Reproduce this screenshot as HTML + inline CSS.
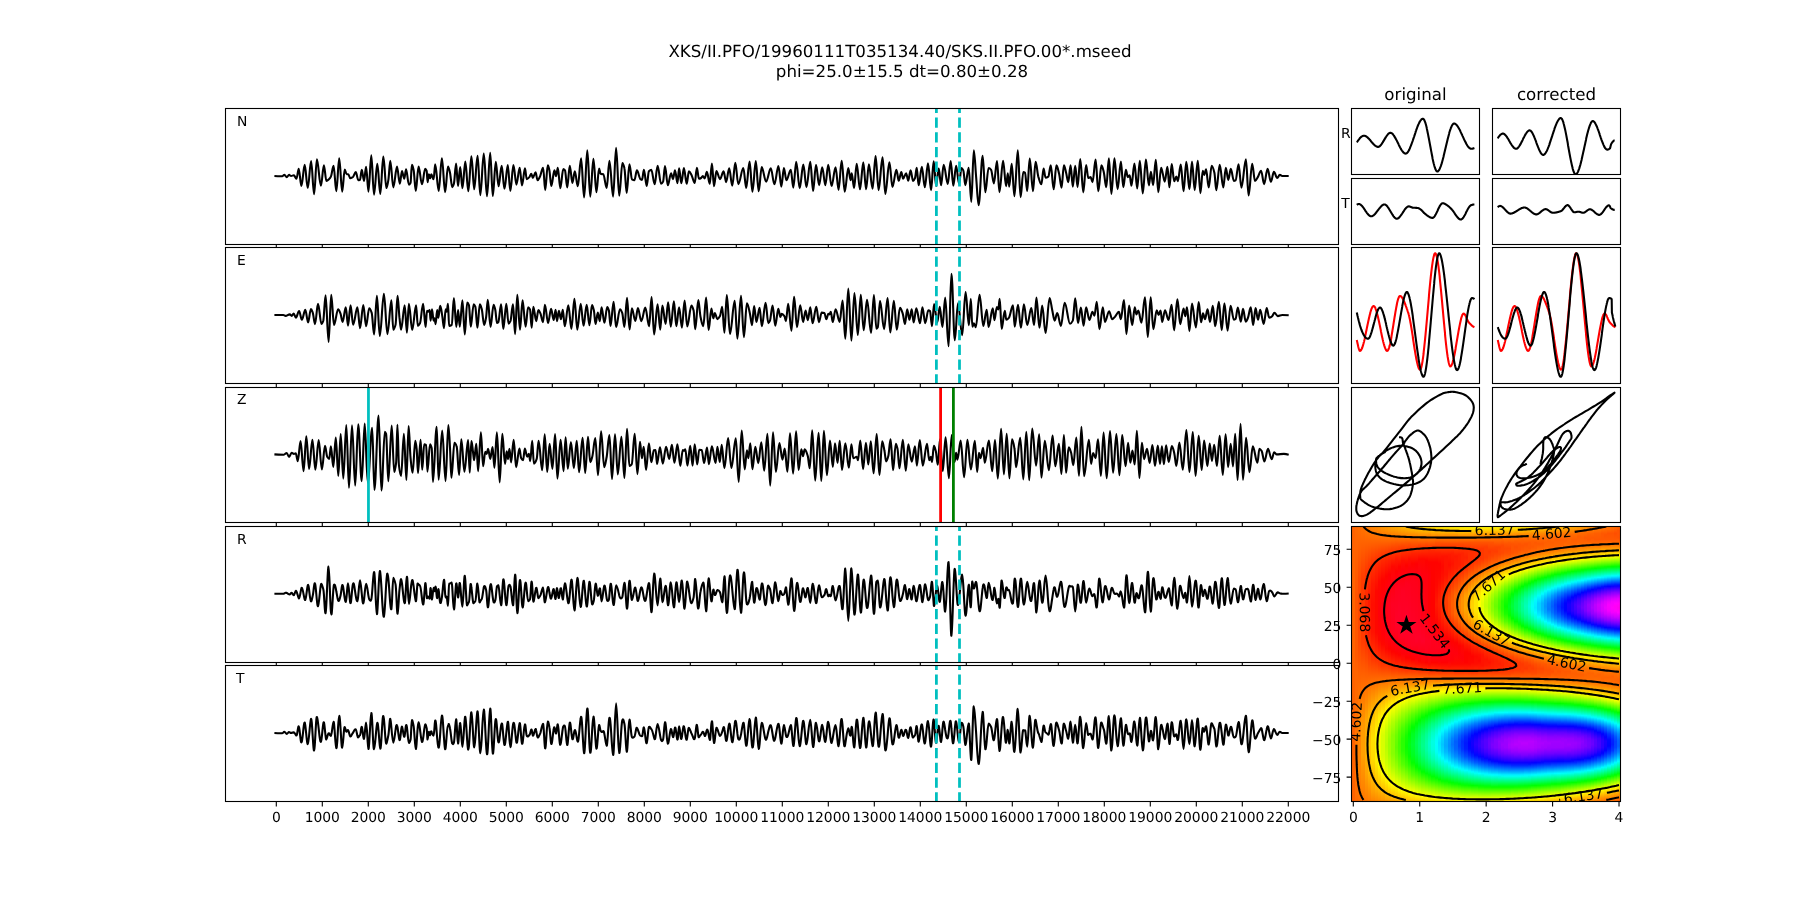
<!DOCTYPE html><html><head><meta charset="utf-8"><title>XKS splitting</title><style>html,body{margin:0;padding:0;background:#fff;overflow:hidden}svg{display:block;will-change:transform;text-rendering:geometricPrecision}</style></head><body><svg width="1800" height="900" viewBox="0 0 1800 900" font-family='"DejaVu Sans","Liberation Sans",sans-serif' fill="#000">
<rect width="1800" height="900" fill="#fff"/>
<text x="900" y="56.6" font-size="16.67" text-anchor="middle" >XKS/II.PFO/19960111T035134.40/SKS.II.PFO.00*.mseed</text>
<text x="902" y="76.9" font-size="16.67" text-anchor="middle" >phi=25.0±15.5 dt=0.80±0.28</text>
<text x="1415.5" y="99.6" font-size="16.67" text-anchor="middle" >original</text>
<text x="1556.5" y="99.6" font-size="16.67" text-anchor="middle" >corrected</text>
<defs><clipPath id="cp0"><rect x="225.5" y="108.5" width="1113.0" height="136.0"/></clipPath><clipPath id="cp1"><rect x="225.5" y="247.5" width="1113.0" height="136.0"/></clipPath><clipPath id="cp2"><rect x="225.5" y="387.5" width="1113.0" height="135.0"/></clipPath><clipPath id="cp3"><rect x="225.5" y="526.5" width="1113.0" height="136.0"/></clipPath><clipPath id="cp4"><rect x="225.5" y="665.5" width="1113.0" height="136.0"/></clipPath></defs><defs><linearGradient id="h0" x1="0" y1="0" x2="0" y2="1"><stop offset="0.0028" stop-color="#ff6300"/><stop offset="0.9972" stop-color="#ff6300"/></linearGradient><linearGradient id="h1" x1="0" y1="0" x2="0" y2="1"><stop offset="0.0028" stop-color="#ff6900"/><stop offset="0.2459" stop-color="#ff5300"/><stop offset="0.4669" stop-color="#ff5800"/><stop offset="0.5276" stop-color="#ff6300"/><stop offset="0.8039" stop-color="#ff7900"/><stop offset="0.8370" stop-color="#ff7300"/><stop offset="0.9751" stop-color="#ff6e00"/><stop offset="0.9972" stop-color="#ff6900"/></linearGradient><linearGradient id="h2" x1="0" y1="0" x2="0" y2="1"><stop offset="0.0028" stop-color="#ff6e00"/><stop offset="0.1961" stop-color="#ff4800"/><stop offset="0.4227" stop-color="#ff4800"/><stop offset="0.7044" stop-color="#ff8400"/><stop offset="0.9033" stop-color="#ff8400"/><stop offset="0.9972" stop-color="#ff6e00"/></linearGradient><linearGradient id="h3" x1="0" y1="0" x2="0" y2="1"><stop offset="0.0028" stop-color="#ff7300"/><stop offset="0.1851" stop-color="#ff3d00"/><stop offset="0.3066" stop-color="#ff3300"/><stop offset="0.4227" stop-color="#ff3d00"/><stop offset="0.7210" stop-color="#ff9900"/><stop offset="0.8315" stop-color="#ff9f00"/><stop offset="0.9917" stop-color="#ff7900"/><stop offset="0.9972" stop-color="#ff7300"/></linearGradient><linearGradient id="h4" x1="0" y1="0" x2="0" y2="1"><stop offset="0.0028" stop-color="#ff7900"/><stop offset="0.1630" stop-color="#ff3800"/><stop offset="0.2956" stop-color="#ff2200"/><stop offset="0.4061" stop-color="#ff2d00"/><stop offset="0.5773" stop-color="#ff6e00"/><stop offset="0.6989" stop-color="#ffa400"/><stop offset="0.7983" stop-color="#ffb400"/><stop offset="0.8978" stop-color="#ffa400"/><stop offset="0.9972" stop-color="#ff7900"/></linearGradient><linearGradient id="h5" x1="0" y1="0" x2="0" y2="1"><stop offset="0.0028" stop-color="#ff7e00"/><stop offset="0.1519" stop-color="#ff3300"/><stop offset="0.2624" stop-color="#ff1800"/><stop offset="0.3840" stop-color="#ff1d00"/><stop offset="0.5000" stop-color="#ff4800"/><stop offset="0.6934" stop-color="#ffb400"/><stop offset="0.7928" stop-color="#ffca00"/><stop offset="0.8867" stop-color="#ffba00"/><stop offset="0.9972" stop-color="#ff7e00"/></linearGradient><linearGradient id="h6" x1="0" y1="0" x2="0" y2="1"><stop offset="0.0028" stop-color="#ff8400"/><stop offset="0.1243" stop-color="#ff3800"/><stop offset="0.2072" stop-color="#ff1800"/><stop offset="0.2845" stop-color="#ff0d00"/><stop offset="0.3840" stop-color="#ff1200"/><stop offset="0.4834" stop-color="#ff3800"/><stop offset="0.6934" stop-color="#ffc400"/><stop offset="0.7707" stop-color="#ffe000"/><stop offset="0.8481" stop-color="#ffda00"/><stop offset="0.9641" stop-color="#ff9f00"/><stop offset="0.9972" stop-color="#ff8400"/></linearGradient><linearGradient id="h7" x1="0" y1="0" x2="0" y2="1"><stop offset="0.0028" stop-color="#ff8900"/><stop offset="0.1298" stop-color="#ff2d00"/><stop offset="0.2348" stop-color="#ff0700"/><stop offset="0.3840" stop-color="#ff0700"/><stop offset="0.4834" stop-color="#ff3300"/><stop offset="0.5829" stop-color="#ff7e00"/><stop offset="0.6823" stop-color="#ffcf00"/><stop offset="0.7597" stop-color="#fff500"/><stop offset="0.8481" stop-color="#fff000"/><stop offset="0.9420" stop-color="#ffba00"/><stop offset="0.9972" stop-color="#ff8900"/></linearGradient><linearGradient id="h8" x1="0" y1="0" x2="0" y2="1"><stop offset="0.0028" stop-color="#ff8e00"/><stop offset="0.1133" stop-color="#ff3300"/><stop offset="0.2017" stop-color="#ff0700"/><stop offset="0.3177" stop-color="#ff0009"/><stop offset="0.4116" stop-color="#ff0700"/><stop offset="0.5055" stop-color="#ff3d00"/><stop offset="0.6878" stop-color="#ffe500"/><stop offset="0.7376" stop-color="#feff00"/><stop offset="0.7818" stop-color="#eeff00"/><stop offset="0.8370" stop-color="#f3ff00"/><stop offset="0.8702" stop-color="#fffb00"/><stop offset="0.9475" stop-color="#ffbf00"/><stop offset="0.9972" stop-color="#ff8e00"/></linearGradient><linearGradient id="h9" x1="0" y1="0" x2="0" y2="1"><stop offset="0.0028" stop-color="#ff9400"/><stop offset="0.1133" stop-color="#ff2d00"/><stop offset="0.1961" stop-color="#ff0200"/><stop offset="0.3011" stop-color="#ff0013"/><stop offset="0.3895" stop-color="#ff0009"/><stop offset="0.4282" stop-color="#ff0700"/><stop offset="0.5055" stop-color="#ff3800"/><stop offset="0.6989" stop-color="#feff00"/><stop offset="0.7597" stop-color="#d8ff00"/><stop offset="0.8315" stop-color="#d8ff00"/><stop offset="0.8978" stop-color="#fffb00"/><stop offset="0.9972" stop-color="#ff9400"/></linearGradient><linearGradient id="h10" x1="0" y1="0" x2="0" y2="1"><stop offset="0.0028" stop-color="#ff9900"/><stop offset="0.1077" stop-color="#ff2d00"/><stop offset="0.1796" stop-color="#ff0200"/><stop offset="0.2845" stop-color="#ff0019"/><stop offset="0.3785" stop-color="#ff0013"/><stop offset="0.4448" stop-color="#ff0700"/><stop offset="0.5110" stop-color="#ff3d00"/><stop offset="0.5829" stop-color="#ff8900"/><stop offset="0.6657" stop-color="#fff000"/><stop offset="0.6878" stop-color="#f9ff00"/><stop offset="0.7486" stop-color="#c3ff00"/><stop offset="0.7983" stop-color="#b8ff00"/><stop offset="0.8591" stop-color="#cdff00"/><stop offset="0.9144" stop-color="#fffb00"/><stop offset="0.9917" stop-color="#ffa400"/><stop offset="0.9972" stop-color="#ff9900"/></linearGradient><linearGradient id="h11" x1="0" y1="0" x2="0" y2="1"><stop offset="0.0028" stop-color="#ff9f00"/><stop offset="0.1022" stop-color="#ff2d00"/><stop offset="0.1740" stop-color="#ff0003"/><stop offset="0.2790" stop-color="#ff001e"/><stop offset="0.3840" stop-color="#ff0019"/><stop offset="0.4448" stop-color="#ff0200"/><stop offset="0.5110" stop-color="#ff3800"/><stop offset="0.5994" stop-color="#ffa400"/><stop offset="0.6657" stop-color="#feff00"/><stop offset="0.7265" stop-color="#b8ff00"/><stop offset="0.7762" stop-color="#9dff00"/><stop offset="0.8260" stop-color="#a2ff00"/><stop offset="0.8646" stop-color="#bdff00"/><stop offset="0.9309" stop-color="#fffb00"/><stop offset="0.9972" stop-color="#ff9f00"/></linearGradient><linearGradient id="h12" x1="0" y1="0" x2="0" y2="1"><stop offset="0.0028" stop-color="#ffa400"/><stop offset="0.0746" stop-color="#ff4800"/><stop offset="0.1464" stop-color="#ff0700"/><stop offset="0.2127" stop-color="#ff0013"/><stop offset="0.2845" stop-color="#ff0023"/><stop offset="0.3840" stop-color="#ff001e"/><stop offset="0.4558" stop-color="#ff0200"/><stop offset="0.5166" stop-color="#ff3800"/><stop offset="0.5994" stop-color="#ffa900"/><stop offset="0.6547" stop-color="#feff00"/><stop offset="0.7099" stop-color="#b2ff00"/><stop offset="0.7597" stop-color="#87ff00"/><stop offset="0.8260" stop-color="#87ff00"/><stop offset="0.8702" stop-color="#a8ff00"/><stop offset="0.9254" stop-color="#eeff00"/><stop offset="0.9365" stop-color="#feff00"/><stop offset="0.9972" stop-color="#ffa400"/></linearGradient><linearGradient id="h13" x1="0" y1="0" x2="0" y2="1"><stop offset="0.0028" stop-color="#ffa900"/><stop offset="0.0635" stop-color="#ff5300"/><stop offset="0.1188" stop-color="#ff1800"/><stop offset="0.1630" stop-color="#ff0003"/><stop offset="0.2293" stop-color="#ff001e"/><stop offset="0.3508" stop-color="#ff0029"/><stop offset="0.4392" stop-color="#ff000e"/><stop offset="0.4613" stop-color="#ff0200"/><stop offset="0.5000" stop-color="#ff2200"/><stop offset="0.5718" stop-color="#ff8400"/><stop offset="0.6436" stop-color="#fffb00"/><stop offset="0.7155" stop-color="#92ff00"/><stop offset="0.7597" stop-color="#6cff00"/><stop offset="0.8039" stop-color="#61ff00"/><stop offset="0.8425" stop-color="#77ff00"/><stop offset="0.8978" stop-color="#b2ff00"/><stop offset="0.9420" stop-color="#f9ff00"/><stop offset="0.9751" stop-color="#ffcf00"/><stop offset="0.9972" stop-color="#ffa900"/></linearGradient><linearGradient id="h14" x1="0" y1="0" x2="0" y2="1"><stop offset="0.0028" stop-color="#ffaf00"/><stop offset="0.0746" stop-color="#ff4300"/><stop offset="0.1464" stop-color="#ff0200"/><stop offset="0.2182" stop-color="#ff001e"/><stop offset="0.3177" stop-color="#ff0029"/><stop offset="0.4006" stop-color="#ff0023"/><stop offset="0.4669" stop-color="#ff0200"/><stop offset="0.5276" stop-color="#ff4300"/><stop offset="0.5884" stop-color="#ffa400"/><stop offset="0.6381" stop-color="#feff00"/><stop offset="0.7099" stop-color="#82ff00"/><stop offset="0.7486" stop-color="#56ff00"/><stop offset="0.7873" stop-color="#46ff00"/><stop offset="0.8204" stop-color="#4cff00"/><stop offset="0.8702" stop-color="#77ff00"/><stop offset="0.9530" stop-color="#feff00"/><stop offset="0.9972" stop-color="#ffaf00"/></linearGradient><linearGradient id="h15" x1="0" y1="0" x2="0" y2="1"><stop offset="0.0028" stop-color="#ffb400"/><stop offset="0.0691" stop-color="#ff4800"/><stop offset="0.1243" stop-color="#ff0d00"/><stop offset="0.1575" stop-color="#ff0009"/><stop offset="0.2348" stop-color="#ff0023"/><stop offset="0.3895" stop-color="#ff0029"/><stop offset="0.4613" stop-color="#ff0009"/><stop offset="0.4834" stop-color="#ff0d00"/><stop offset="0.5221" stop-color="#ff3800"/><stop offset="0.5773" stop-color="#ff9400"/><stop offset="0.6326" stop-color="#feff00"/><stop offset="0.6768" stop-color="#a2ff00"/><stop offset="0.7320" stop-color="#4cff00"/><stop offset="0.7707" stop-color="#2bff00"/><stop offset="0.8149" stop-color="#2bff00"/><stop offset="0.8646" stop-color="#56ff00"/><stop offset="0.9199" stop-color="#b2ff00"/><stop offset="0.9586" stop-color="#feff00"/><stop offset="0.9972" stop-color="#ffb400"/></linearGradient><linearGradient id="h16" x1="0" y1="0" x2="0" y2="1"><stop offset="0.0028" stop-color="#ffba00"/><stop offset="0.0580" stop-color="#ff5800"/><stop offset="0.1022" stop-color="#ff2200"/><stop offset="0.1409" stop-color="#ff0200"/><stop offset="0.2072" stop-color="#ff001e"/><stop offset="0.3287" stop-color="#ff0029"/><stop offset="0.4171" stop-color="#ff0023"/><stop offset="0.4779" stop-color="#ff0200"/><stop offset="0.5276" stop-color="#ff3d00"/><stop offset="0.6160" stop-color="#ffe500"/><stop offset="0.6271" stop-color="#feff00"/><stop offset="0.6823" stop-color="#87ff00"/><stop offset="0.7210" stop-color="#41ff00"/><stop offset="0.7597" stop-color="#16ff00"/><stop offset="0.7983" stop-color="#0bff00"/><stop offset="0.8260" stop-color="#16ff00"/><stop offset="0.8702" stop-color="#46ff00"/><stop offset="0.9365" stop-color="#c3ff00"/><stop offset="0.9641" stop-color="#fffb00"/><stop offset="0.9972" stop-color="#ffba00"/></linearGradient><linearGradient id="h17" x1="0" y1="0" x2="0" y2="1"><stop offset="0.0028" stop-color="#ffbf00"/><stop offset="0.0635" stop-color="#ff4e00"/><stop offset="0.1188" stop-color="#ff0d00"/><stop offset="0.1519" stop-color="#ff0009"/><stop offset="0.2127" stop-color="#ff001e"/><stop offset="0.3508" stop-color="#ff0029"/><stop offset="0.4282" stop-color="#ff0023"/><stop offset="0.4779" stop-color="#ff0200"/><stop offset="0.5166" stop-color="#ff2d00"/><stop offset="0.5608" stop-color="#ff7900"/><stop offset="0.6215" stop-color="#fffb00"/><stop offset="0.6878" stop-color="#67ff00"/><stop offset="0.7265" stop-color="#20ff00"/><stop offset="0.7541" stop-color="#00ff00"/><stop offset="0.7928" stop-color="#00ff16"/><stop offset="0.8370" stop-color="#05ff00"/><stop offset="0.8646" stop-color="#26ff00"/><stop offset="0.9144" stop-color="#82ff00"/><stop offset="0.9641" stop-color="#f9ff00"/><stop offset="0.9751" stop-color="#fff000"/><stop offset="0.9972" stop-color="#ffbf00"/></linearGradient><linearGradient id="h18" x1="0" y1="0" x2="0" y2="1"><stop offset="0.0028" stop-color="#ffc400"/><stop offset="0.0470" stop-color="#ff6900"/><stop offset="0.0967" stop-color="#ff2200"/><stop offset="0.1354" stop-color="#ff0200"/><stop offset="0.1906" stop-color="#ff0019"/><stop offset="0.3785" stop-color="#ff0029"/><stop offset="0.4337" stop-color="#ff0023"/><stop offset="0.4834" stop-color="#ff0200"/><stop offset="0.5221" stop-color="#ff3300"/><stop offset="0.5718" stop-color="#ff8e00"/><stop offset="0.6160" stop-color="#fffb00"/><stop offset="0.6326" stop-color="#deff00"/><stop offset="0.6823" stop-color="#5cff00"/><stop offset="0.7265" stop-color="#05ff00"/><stop offset="0.7320" stop-color="#00ff00"/><stop offset="0.7541" stop-color="#00ff20"/><stop offset="0.7928" stop-color="#00ff30"/><stop offset="0.8315" stop-color="#00ff20"/><stop offset="0.8591" stop-color="#05ff00"/><stop offset="0.9033" stop-color="#56ff00"/><stop offset="0.9696" stop-color="#feff00"/><stop offset="0.9972" stop-color="#ffc400"/></linearGradient><linearGradient id="h19" x1="0" y1="0" x2="0" y2="1"><stop offset="0.0028" stop-color="#ffca00"/><stop offset="0.0470" stop-color="#ff6900"/><stop offset="0.0967" stop-color="#ff2200"/><stop offset="0.1354" stop-color="#ff0003"/><stop offset="0.2017" stop-color="#ff0019"/><stop offset="0.4171" stop-color="#ff0029"/><stop offset="0.4779" stop-color="#ff0009"/><stop offset="0.5000" stop-color="#ff1200"/><stop offset="0.5497" stop-color="#ff6300"/><stop offset="0.6160" stop-color="#feff00"/><stop offset="0.6878" stop-color="#3bff00"/><stop offset="0.7155" stop-color="#00ff00"/><stop offset="0.7486" stop-color="#00ff36"/><stop offset="0.7873" stop-color="#00ff51"/><stop offset="0.8260" stop-color="#00ff41"/><stop offset="0.8591" stop-color="#00ff16"/><stop offset="0.8702" stop-color="#00ff00"/><stop offset="0.8757" stop-color="#05ff00"/><stop offset="0.9365" stop-color="#97ff00"/><stop offset="0.9696" stop-color="#f3ff00"/><stop offset="0.9751" stop-color="#fffb00"/><stop offset="0.9972" stop-color="#ffca00"/></linearGradient><linearGradient id="h20" x1="0" y1="0" x2="0" y2="1"><stop offset="0.0028" stop-color="#ffca00"/><stop offset="0.0691" stop-color="#ff4300"/><stop offset="0.1188" stop-color="#ff0700"/><stop offset="0.1740" stop-color="#ff0013"/><stop offset="0.3674" stop-color="#ff0023"/><stop offset="0.4006" stop-color="#ff0029"/><stop offset="0.4503" stop-color="#ff001e"/><stop offset="0.4890" stop-color="#ff0200"/><stop offset="0.5276" stop-color="#ff3800"/><stop offset="0.5718" stop-color="#ff9400"/><stop offset="0.6105" stop-color="#fffb00"/><stop offset="0.6160" stop-color="#f9ff00"/><stop offset="0.6657" stop-color="#61ff00"/><stop offset="0.7044" stop-color="#00ff00"/><stop offset="0.7265" stop-color="#00ff30"/><stop offset="0.7541" stop-color="#00ff56"/><stop offset="0.7873" stop-color="#00ff6c"/><stop offset="0.8149" stop-color="#00ff66"/><stop offset="0.8536" stop-color="#00ff3b"/><stop offset="0.8812" stop-color="#00ff05"/><stop offset="0.9254" stop-color="#6cff00"/><stop offset="0.9751" stop-color="#f9ff00"/><stop offset="0.9917" stop-color="#ffda00"/><stop offset="0.9972" stop-color="#ffca00"/></linearGradient><linearGradient id="h21" x1="0" y1="0" x2="0" y2="1"><stop offset="0.0028" stop-color="#ffcf00"/><stop offset="0.0414" stop-color="#ff7900"/><stop offset="0.0801" stop-color="#ff3300"/><stop offset="0.1188" stop-color="#ff0700"/><stop offset="0.1740" stop-color="#ff000e"/><stop offset="0.3398" stop-color="#ff0019"/><stop offset="0.4171" stop-color="#ff0029"/><stop offset="0.4669" stop-color="#ff0013"/><stop offset="0.4945" stop-color="#ff0700"/><stop offset="0.5221" stop-color="#ff2d00"/><stop offset="0.5663" stop-color="#ff8900"/><stop offset="0.6105" stop-color="#feff00"/><stop offset="0.6823" stop-color="#20ff00"/><stop offset="0.6934" stop-color="#05ff00"/><stop offset="0.7431" stop-color="#00ff66"/><stop offset="0.7652" stop-color="#00ff81"/><stop offset="0.7983" stop-color="#00ff8c"/><stop offset="0.8315" stop-color="#00ff76"/><stop offset="0.8646" stop-color="#00ff41"/><stop offset="0.8923" stop-color="#00ff00"/><stop offset="0.9807" stop-color="#fffb00"/><stop offset="0.9972" stop-color="#ffcf00"/></linearGradient><linearGradient id="h22" x1="0" y1="0" x2="0" y2="1"><stop offset="0.0028" stop-color="#ffd500"/><stop offset="0.0359" stop-color="#ff8400"/><stop offset="0.0746" stop-color="#ff3800"/><stop offset="0.1243" stop-color="#ff0200"/><stop offset="0.1796" stop-color="#ff000e"/><stop offset="0.3177" stop-color="#ff000e"/><stop offset="0.4116" stop-color="#ff0023"/><stop offset="0.4558" stop-color="#ff001e"/><stop offset="0.4945" stop-color="#ff0200"/><stop offset="0.5276" stop-color="#ff3800"/><stop offset="0.5663" stop-color="#ff8900"/><stop offset="0.6050" stop-color="#fff500"/><stop offset="0.6105" stop-color="#f9ff00"/><stop offset="0.6713" stop-color="#31ff00"/><stop offset="0.6878" stop-color="#00ff00"/><stop offset="0.7210" stop-color="#00ff56"/><stop offset="0.7541" stop-color="#00ff91"/><stop offset="0.7873" stop-color="#00ffa7"/><stop offset="0.8149" stop-color="#00ffa1"/><stop offset="0.8425" stop-color="#00ff81"/><stop offset="0.8757" stop-color="#00ff41"/><stop offset="0.8978" stop-color="#00ff05"/><stop offset="0.9254" stop-color="#4cff00"/><stop offset="0.9807" stop-color="#feff00"/><stop offset="0.9972" stop-color="#ffd500"/></linearGradient><linearGradient id="h23" x1="0" y1="0" x2="0" y2="1"><stop offset="0.0028" stop-color="#ffda00"/><stop offset="0.0304" stop-color="#ff8e00"/><stop offset="0.0856" stop-color="#ff2800"/><stop offset="0.1298" stop-color="#ff0200"/><stop offset="0.1796" stop-color="#ff0009"/><stop offset="0.3011" stop-color="#ff0003"/><stop offset="0.4171" stop-color="#ff0023"/><stop offset="0.4613" stop-color="#ff0019"/><stop offset="0.5000" stop-color="#ff0700"/><stop offset="0.5331" stop-color="#ff3d00"/><stop offset="0.5773" stop-color="#ffa900"/><stop offset="0.6050" stop-color="#fffb00"/><stop offset="0.6768" stop-color="#0bff00"/><stop offset="0.6823" stop-color="#00ff05"/><stop offset="0.7210" stop-color="#00ff71"/><stop offset="0.7541" stop-color="#00ffac"/><stop offset="0.7873" stop-color="#00ffc7"/><stop offset="0.8149" stop-color="#00ffbc"/><stop offset="0.8425" stop-color="#00ff9c"/><stop offset="0.8757" stop-color="#00ff56"/><stop offset="0.9033" stop-color="#00ff05"/><stop offset="0.9199" stop-color="#2bff00"/><stop offset="0.9807" stop-color="#f9ff00"/><stop offset="0.9972" stop-color="#ffda00"/></linearGradient><linearGradient id="h24" x1="0" y1="0" x2="0" y2="1"><stop offset="0.0028" stop-color="#ffda00"/><stop offset="0.0470" stop-color="#ff6e00"/><stop offset="0.0856" stop-color="#ff2800"/><stop offset="0.1298" stop-color="#ff0200"/><stop offset="0.3287" stop-color="#ff0200"/><stop offset="0.4116" stop-color="#ff001e"/><stop offset="0.4669" stop-color="#ff0019"/><stop offset="0.4945" stop-color="#ff0200"/><stop offset="0.5331" stop-color="#ff3d00"/><stop offset="0.5718" stop-color="#ff9f00"/><stop offset="0.6050" stop-color="#feff00"/><stop offset="0.6657" stop-color="#20ff00"/><stop offset="0.6768" stop-color="#00ff05"/><stop offset="0.7155" stop-color="#00ff7c"/><stop offset="0.7486" stop-color="#00ffc2"/><stop offset="0.7818" stop-color="#00ffe2"/><stop offset="0.8094" stop-color="#00ffdc"/><stop offset="0.8425" stop-color="#00ffb7"/><stop offset="0.8702" stop-color="#00ff7c"/><stop offset="0.9088" stop-color="#00ff05"/><stop offset="0.9199" stop-color="#1bff00"/><stop offset="0.9807" stop-color="#f3ff00"/><stop offset="0.9862" stop-color="#fffb00"/><stop offset="0.9972" stop-color="#ffda00"/></linearGradient><linearGradient id="h25" x1="0" y1="0" x2="0" y2="1"><stop offset="0.0028" stop-color="#ffe000"/><stop offset="0.0359" stop-color="#ff8400"/><stop offset="0.0580" stop-color="#ff5300"/><stop offset="0.0967" stop-color="#ff1d00"/><stop offset="0.1298" stop-color="#ff0200"/><stop offset="0.2127" stop-color="#ff0700"/><stop offset="0.2845" stop-color="#ff1800"/><stop offset="0.3619" stop-color="#ff0003"/><stop offset="0.4227" stop-color="#ff001e"/><stop offset="0.4669" stop-color="#ff0019"/><stop offset="0.4945" stop-color="#ff0200"/><stop offset="0.5221" stop-color="#ff2800"/><stop offset="0.5608" stop-color="#ff7e00"/><stop offset="0.5994" stop-color="#fff500"/><stop offset="0.6050" stop-color="#f9ff00"/><stop offset="0.6657" stop-color="#10ff00"/><stop offset="0.6713" stop-color="#00ff05"/><stop offset="0.7044" stop-color="#00ff71"/><stop offset="0.7376" stop-color="#00ffc7"/><stop offset="0.7652" stop-color="#00fff2"/><stop offset="0.7928" stop-color="#00fffd"/><stop offset="0.8204" stop-color="#00fff2"/><stop offset="0.8481" stop-color="#00ffc7"/><stop offset="0.8812" stop-color="#00ff71"/><stop offset="0.9144" stop-color="#00ff05"/><stop offset="0.9309" stop-color="#36ff00"/><stop offset="0.9862" stop-color="#feff00"/><stop offset="0.9972" stop-color="#ffe000"/></linearGradient><linearGradient id="h26" x1="0" y1="0" x2="0" y2="1"><stop offset="0.0028" stop-color="#ffe000"/><stop offset="0.0414" stop-color="#ff7900"/><stop offset="0.0580" stop-color="#ff5300"/><stop offset="0.0967" stop-color="#ff1d00"/><stop offset="0.1354" stop-color="#ff0200"/><stop offset="0.1851" stop-color="#ff0700"/><stop offset="0.2680" stop-color="#ff2200"/><stop offset="0.3287" stop-color="#ff1800"/><stop offset="0.3785" stop-color="#ff0003"/><stop offset="0.4392" stop-color="#ff001e"/><stop offset="0.4890" stop-color="#ff0009"/><stop offset="0.5000" stop-color="#ff0700"/><stop offset="0.5331" stop-color="#ff3d00"/><stop offset="0.5718" stop-color="#ff9f00"/><stop offset="0.5994" stop-color="#fffb00"/><stop offset="0.6105" stop-color="#deff00"/><stop offset="0.6657" stop-color="#00ff00"/><stop offset="0.7044" stop-color="#00ff86"/><stop offset="0.7320" stop-color="#00ffd2"/><stop offset="0.7431" stop-color="#00ffed"/><stop offset="0.7541" stop-color="#00fffd"/><stop offset="0.7873" stop-color="#00e1ff"/><stop offset="0.8149" stop-color="#00ecff"/><stop offset="0.8315" stop-color="#00fffd"/><stop offset="0.8646" stop-color="#00ffb7"/><stop offset="0.9088" stop-color="#00ff2b"/><stop offset="0.9199" stop-color="#00ff00"/><stop offset="0.9862" stop-color="#f9ff00"/><stop offset="0.9917" stop-color="#fff500"/><stop offset="0.9972" stop-color="#ffe000"/></linearGradient><linearGradient id="h27" x1="0" y1="0" x2="0" y2="1"><stop offset="0.0028" stop-color="#ffe500"/><stop offset="0.0414" stop-color="#ff7900"/><stop offset="0.0635" stop-color="#ff4800"/><stop offset="0.1077" stop-color="#ff1200"/><stop offset="0.1464" stop-color="#ff0700"/><stop offset="0.1961" stop-color="#ff1200"/><stop offset="0.2569" stop-color="#ff2d00"/><stop offset="0.3232" stop-color="#ff2800"/><stop offset="0.3895" stop-color="#ff0003"/><stop offset="0.4392" stop-color="#ff0019"/><stop offset="0.4724" stop-color="#ff0013"/><stop offset="0.4945" stop-color="#ff0003"/><stop offset="0.5166" stop-color="#ff1d00"/><stop offset="0.5497" stop-color="#ff6300"/><stop offset="0.5939" stop-color="#ffea00"/><stop offset="0.5994" stop-color="#feff00"/><stop offset="0.6050" stop-color="#eeff00"/><stop offset="0.6602" stop-color="#0bff00"/><stop offset="0.6657" stop-color="#00ff10"/><stop offset="0.6989" stop-color="#00ff8c"/><stop offset="0.7320" stop-color="#00ffed"/><stop offset="0.7431" stop-color="#00fcff"/><stop offset="0.7652" stop-color="#00d6ff"/><stop offset="0.7928" stop-color="#00c6ff"/><stop offset="0.8204" stop-color="#00d6ff"/><stop offset="0.8425" stop-color="#00fcff"/><stop offset="0.8646" stop-color="#00ffcc"/><stop offset="0.8923" stop-color="#00ff76"/><stop offset="0.9254" stop-color="#05ff00"/><stop offset="0.9807" stop-color="#e3ff00"/><stop offset="0.9917" stop-color="#fff500"/><stop offset="0.9972" stop-color="#ffe500"/></linearGradient><linearGradient id="h28" x1="0" y1="0" x2="0" y2="1"><stop offset="0.0028" stop-color="#ffea00"/><stop offset="0.0304" stop-color="#ff9400"/><stop offset="0.0635" stop-color="#ff4800"/><stop offset="0.1077" stop-color="#ff1200"/><stop offset="0.1740" stop-color="#ff1200"/><stop offset="0.2569" stop-color="#ff3d00"/><stop offset="0.3177" stop-color="#ff3800"/><stop offset="0.4061" stop-color="#ff0003"/><stop offset="0.4337" stop-color="#ff0013"/><stop offset="0.4558" stop-color="#ff0019"/><stop offset="0.4945" stop-color="#ff0003"/><stop offset="0.5166" stop-color="#ff1d00"/><stop offset="0.5497" stop-color="#ff6300"/><stop offset="0.5884" stop-color="#ffda00"/><stop offset="0.5994" stop-color="#feff00"/><stop offset="0.6547" stop-color="#10ff00"/><stop offset="0.6602" stop-color="#00ff05"/><stop offset="0.6934" stop-color="#00ff8c"/><stop offset="0.7265" stop-color="#00fff7"/><stop offset="0.7320" stop-color="#00fcff"/><stop offset="0.7541" stop-color="#00cbff"/><stop offset="0.7762" stop-color="#00b0ff"/><stop offset="0.7983" stop-color="#00aaff"/><stop offset="0.8204" stop-color="#00bbff"/><stop offset="0.8425" stop-color="#00e1ff"/><stop offset="0.8536" stop-color="#00fcff"/><stop offset="0.8867" stop-color="#00ff9c"/><stop offset="0.9088" stop-color="#00ff4b"/><stop offset="0.9254" stop-color="#00ff05"/><stop offset="0.9365" stop-color="#26ff00"/><stop offset="0.9862" stop-color="#f3ff00"/><stop offset="0.9917" stop-color="#fffb00"/><stop offset="0.9972" stop-color="#ffea00"/></linearGradient><linearGradient id="h29" x1="0" y1="0" x2="0" y2="1"><stop offset="0.0028" stop-color="#ffea00"/><stop offset="0.0304" stop-color="#ff9400"/><stop offset="0.0635" stop-color="#ff4800"/><stop offset="0.1022" stop-color="#ff1800"/><stop offset="0.1409" stop-color="#ff0d00"/><stop offset="0.2238" stop-color="#ff3800"/><stop offset="0.2624" stop-color="#ff4e00"/><stop offset="0.3177" stop-color="#ff4800"/><stop offset="0.4116" stop-color="#ff0003"/><stop offset="0.4503" stop-color="#ff0013"/><stop offset="0.4890" stop-color="#ff0009"/><stop offset="0.5110" stop-color="#ff1200"/><stop offset="0.5497" stop-color="#ff6300"/><stop offset="0.5829" stop-color="#ffca00"/><stop offset="0.5994" stop-color="#f9ff00"/><stop offset="0.6547" stop-color="#05ff00"/><stop offset="0.6602" stop-color="#00ff10"/><stop offset="0.6934" stop-color="#00ff9c"/><stop offset="0.7210" stop-color="#00fffd"/><stop offset="0.7541" stop-color="#00b0ff"/><stop offset="0.7762" stop-color="#0095ff"/><stop offset="0.7983" stop-color="#008fff"/><stop offset="0.8149" stop-color="#009aff"/><stop offset="0.8481" stop-color="#00d6ff"/><stop offset="0.8591" stop-color="#00f6ff"/><stop offset="0.8702" stop-color="#00ffe7"/><stop offset="0.8978" stop-color="#00ff86"/><stop offset="0.9254" stop-color="#00ff10"/><stop offset="0.9309" stop-color="#05ff00"/><stop offset="0.9862" stop-color="#eeff00"/><stop offset="0.9917" stop-color="#feff00"/><stop offset="0.9972" stop-color="#ffea00"/></linearGradient><linearGradient id="h30" x1="0" y1="0" x2="0" y2="1"><stop offset="0.0028" stop-color="#ffea00"/><stop offset="0.0304" stop-color="#ff9400"/><stop offset="0.0635" stop-color="#ff4800"/><stop offset="0.0967" stop-color="#ff1d00"/><stop offset="0.1354" stop-color="#ff1200"/><stop offset="0.1740" stop-color="#ff2200"/><stop offset="0.2403" stop-color="#ff5300"/><stop offset="0.2790" stop-color="#ff5e00"/><stop offset="0.3177" stop-color="#ff5800"/><stop offset="0.4171" stop-color="#ff0200"/><stop offset="0.4503" stop-color="#ff000e"/><stop offset="0.4834" stop-color="#ff0009"/><stop offset="0.5000" stop-color="#ff0700"/><stop offset="0.5166" stop-color="#ff1d00"/><stop offset="0.5497" stop-color="#ff6300"/><stop offset="0.5829" stop-color="#ffca00"/><stop offset="0.5939" stop-color="#fff500"/><stop offset="0.6050" stop-color="#deff00"/><stop offset="0.6492" stop-color="#16ff00"/><stop offset="0.6547" stop-color="#00ff05"/><stop offset="0.6823" stop-color="#00ff81"/><stop offset="0.7155" stop-color="#00fffd"/><stop offset="0.7431" stop-color="#00b0ff"/><stop offset="0.7707" stop-color="#007fff"/><stop offset="0.7928" stop-color="#0074ff"/><stop offset="0.8204" stop-color="#008aff"/><stop offset="0.8370" stop-color="#00a5ff"/><stop offset="0.8702" stop-color="#00fffd"/><stop offset="0.8978" stop-color="#00ff97"/><stop offset="0.9309" stop-color="#00ff05"/><stop offset="0.9365" stop-color="#10ff00"/><stop offset="0.9751" stop-color="#bdff00"/><stop offset="0.9917" stop-color="#feff00"/><stop offset="0.9972" stop-color="#ffea00"/></linearGradient><linearGradient id="h31" x1="0" y1="0" x2="0" y2="1"><stop offset="0.0028" stop-color="#fff000"/><stop offset="0.0304" stop-color="#ff9400"/><stop offset="0.0635" stop-color="#ff4800"/><stop offset="0.1077" stop-color="#ff1800"/><stop offset="0.1519" stop-color="#ff1d00"/><stop offset="0.2514" stop-color="#ff6900"/><stop offset="0.3177" stop-color="#ff6900"/><stop offset="0.3840" stop-color="#ff2d00"/><stop offset="0.4227" stop-color="#ff0200"/><stop offset="0.4613" stop-color="#ff000e"/><stop offset="0.5000" stop-color="#ff0700"/><stop offset="0.5276" stop-color="#ff2d00"/><stop offset="0.5552" stop-color="#ff7300"/><stop offset="0.5884" stop-color="#ffe500"/><stop offset="0.5939" stop-color="#fffb00"/><stop offset="0.6160" stop-color="#a8ff00"/><stop offset="0.6436" stop-color="#20ff00"/><stop offset="0.6492" stop-color="#0bff00"/><stop offset="0.6547" stop-color="#00ff10"/><stop offset="0.6934" stop-color="#00ffc2"/><stop offset="0.7099" stop-color="#00fcff"/><stop offset="0.7376" stop-color="#00a5ff"/><stop offset="0.7597" stop-color="#0079ff"/><stop offset="0.7818" stop-color="#005eff"/><stop offset="0.8094" stop-color="#0064ff"/><stop offset="0.8370" stop-color="#008fff"/><stop offset="0.8757" stop-color="#00fffd"/><stop offset="0.9254" stop-color="#00ff2b"/><stop offset="0.9309" stop-color="#00ff10"/><stop offset="0.9365" stop-color="#0bff00"/><stop offset="0.9862" stop-color="#e8ff00"/><stop offset="0.9917" stop-color="#feff00"/><stop offset="0.9972" stop-color="#fff000"/></linearGradient><linearGradient id="h32" x1="0" y1="0" x2="0" y2="1"><stop offset="0.0028" stop-color="#fff000"/><stop offset="0.0414" stop-color="#ff7900"/><stop offset="0.0635" stop-color="#ff4800"/><stop offset="0.1022" stop-color="#ff1d00"/><stop offset="0.1409" stop-color="#ff1d00"/><stop offset="0.2569" stop-color="#ff7e00"/><stop offset="0.2956" stop-color="#ff8400"/><stop offset="0.3453" stop-color="#ff6300"/><stop offset="0.4337" stop-color="#ff0200"/><stop offset="0.4669" stop-color="#ff0009"/><stop offset="0.5000" stop-color="#ff0700"/><stop offset="0.5276" stop-color="#ff2d00"/><stop offset="0.5552" stop-color="#ff7300"/><stop offset="0.5884" stop-color="#ffe500"/><stop offset="0.5939" stop-color="#fffb00"/><stop offset="0.6050" stop-color="#d3ff00"/><stop offset="0.6492" stop-color="#00ff00"/><stop offset="0.6934" stop-color="#00ffd2"/><stop offset="0.7044" stop-color="#00fffd"/><stop offset="0.7376" stop-color="#008fff"/><stop offset="0.7597" stop-color="#005eff"/><stop offset="0.7762" stop-color="#0049ff"/><stop offset="0.7983" stop-color="#0043ff"/><stop offset="0.8260" stop-color="#0064ff"/><stop offset="0.8481" stop-color="#0095ff"/><stop offset="0.8757" stop-color="#00f1ff"/><stop offset="0.8812" stop-color="#00fff7"/><stop offset="0.9199" stop-color="#00ff51"/><stop offset="0.9365" stop-color="#00ff00"/><stop offset="0.9807" stop-color="#cdff00"/><stop offset="0.9917" stop-color="#f9ff00"/><stop offset="0.9972" stop-color="#fff000"/></linearGradient><linearGradient id="h33" x1="0" y1="0" x2="0" y2="1"><stop offset="0.0028" stop-color="#fff000"/><stop offset="0.0414" stop-color="#ff7900"/><stop offset="0.0635" stop-color="#ff4800"/><stop offset="0.0967" stop-color="#ff2200"/><stop offset="0.1409" stop-color="#ff2200"/><stop offset="0.1740" stop-color="#ff3d00"/><stop offset="0.2293" stop-color="#ff7900"/><stop offset="0.2680" stop-color="#ff9400"/><stop offset="0.3066" stop-color="#ff9400"/><stop offset="0.3619" stop-color="#ff6300"/><stop offset="0.4337" stop-color="#ff0700"/><stop offset="0.4779" stop-color="#ff0009"/><stop offset="0.5000" stop-color="#ff0700"/><stop offset="0.5276" stop-color="#ff2d00"/><stop offset="0.5552" stop-color="#ff7300"/><stop offset="0.5884" stop-color="#ffe500"/><stop offset="0.5939" stop-color="#feff00"/><stop offset="0.6215" stop-color="#82ff00"/><stop offset="0.6436" stop-color="#10ff00"/><stop offset="0.6492" stop-color="#00ff0b"/><stop offset="0.6768" stop-color="#00ff97"/><stop offset="0.6989" stop-color="#00fff7"/><stop offset="0.7099" stop-color="#00dbff"/><stop offset="0.7320" stop-color="#008aff"/><stop offset="0.7597" stop-color="#0049ff"/><stop offset="0.7818" stop-color="#002dff"/><stop offset="0.8094" stop-color="#0033ff"/><stop offset="0.8370" stop-color="#0064ff"/><stop offset="0.8536" stop-color="#008fff"/><stop offset="0.8812" stop-color="#00f6ff"/><stop offset="0.8867" stop-color="#00fff2"/><stop offset="0.9365" stop-color="#00ff0b"/><stop offset="0.9420" stop-color="#10ff00"/><stop offset="0.9862" stop-color="#e3ff00"/><stop offset="0.9917" stop-color="#f9ff00"/><stop offset="0.9972" stop-color="#fff000"/></linearGradient><linearGradient id="h34" x1="0" y1="0" x2="0" y2="1"><stop offset="0.0028" stop-color="#fff500"/><stop offset="0.0249" stop-color="#ffa900"/><stop offset="0.0580" stop-color="#ff5300"/><stop offset="0.0856" stop-color="#ff2d00"/><stop offset="0.1133" stop-color="#ff2200"/><stop offset="0.1519" stop-color="#ff3300"/><stop offset="0.2514" stop-color="#ff9f00"/><stop offset="0.2956" stop-color="#ffa900"/><stop offset="0.3343" stop-color="#ff9400"/><stop offset="0.4282" stop-color="#ff1800"/><stop offset="0.4558" stop-color="#ff0200"/><stop offset="0.4945" stop-color="#ff0200"/><stop offset="0.5221" stop-color="#ff2200"/><stop offset="0.5552" stop-color="#ff7300"/><stop offset="0.5829" stop-color="#ffd500"/><stop offset="0.5939" stop-color="#feff00"/><stop offset="0.6381" stop-color="#26ff00"/><stop offset="0.6436" stop-color="#05ff00"/><stop offset="0.6602" stop-color="#00ff4b"/><stop offset="0.6878" stop-color="#00ffd7"/><stop offset="0.6934" stop-color="#00fff2"/><stop offset="0.6989" stop-color="#00f6ff"/><stop offset="0.7210" stop-color="#009aff"/><stop offset="0.7376" stop-color="#0064ff"/><stop offset="0.7652" stop-color="#0028ff"/><stop offset="0.7873" stop-color="#0018ff"/><stop offset="0.8094" stop-color="#001dff"/><stop offset="0.8370" stop-color="#004eff"/><stop offset="0.8646" stop-color="#00a5ff"/><stop offset="0.8867" stop-color="#00fcff"/><stop offset="0.9199" stop-color="#00ff66"/><stop offset="0.9365" stop-color="#00ff10"/><stop offset="0.9420" stop-color="#0bff00"/><stop offset="0.9862" stop-color="#deff00"/><stop offset="0.9972" stop-color="#fff500"/></linearGradient><linearGradient id="h35" x1="0" y1="0" x2="0" y2="1"><stop offset="0.0028" stop-color="#fff500"/><stop offset="0.0249" stop-color="#ffa900"/><stop offset="0.0580" stop-color="#ff5300"/><stop offset="0.0856" stop-color="#ff2d00"/><stop offset="0.1354" stop-color="#ff2d00"/><stop offset="0.2017" stop-color="#ff7900"/><stop offset="0.2459" stop-color="#ffaf00"/><stop offset="0.2845" stop-color="#ffbf00"/><stop offset="0.3232" stop-color="#ffaf00"/><stop offset="0.3619" stop-color="#ff8400"/><stop offset="0.4337" stop-color="#ff1800"/><stop offset="0.4613" stop-color="#ff0200"/><stop offset="0.5000" stop-color="#ff0700"/><stop offset="0.5276" stop-color="#ff2d00"/><stop offset="0.5552" stop-color="#ff7300"/><stop offset="0.5829" stop-color="#ffd500"/><stop offset="0.5939" stop-color="#feff00"/><stop offset="0.6326" stop-color="#3bff00"/><stop offset="0.6436" stop-color="#00ff00"/><stop offset="0.6878" stop-color="#00ffe2"/><stop offset="0.6934" stop-color="#00fffd"/><stop offset="0.7265" stop-color="#0074ff"/><stop offset="0.7541" stop-color="#0028ff"/><stop offset="0.7707" stop-color="#000dff"/><stop offset="0.7873" stop-color="#0002ff"/><stop offset="0.8094" stop-color="#0007ff"/><stop offset="0.8315" stop-color="#002dff"/><stop offset="0.8481" stop-color="#0059ff"/><stop offset="0.8812" stop-color="#00d6ff"/><stop offset="0.8867" stop-color="#00f1ff"/><stop offset="0.8923" stop-color="#00fff2"/><stop offset="0.9144" stop-color="#00ff8c"/><stop offset="0.9365" stop-color="#00ff16"/><stop offset="0.9420" stop-color="#05ff00"/><stop offset="0.9641" stop-color="#77ff00"/><stop offset="0.9917" stop-color="#f3ff00"/><stop offset="0.9972" stop-color="#fff500"/></linearGradient><linearGradient id="h36" x1="0" y1="0" x2="0" y2="1"><stop offset="0.0028" stop-color="#fff500"/><stop offset="0.0249" stop-color="#ffa900"/><stop offset="0.0580" stop-color="#ff5300"/><stop offset="0.0912" stop-color="#ff2d00"/><stop offset="0.1243" stop-color="#ff2d00"/><stop offset="0.1519" stop-color="#ff4300"/><stop offset="0.2293" stop-color="#ffaf00"/><stop offset="0.2680" stop-color="#ffcf00"/><stop offset="0.2956" stop-color="#ffd500"/><stop offset="0.3343" stop-color="#ffba00"/><stop offset="0.3729" stop-color="#ff8400"/><stop offset="0.4337" stop-color="#ff2200"/><stop offset="0.4724" stop-color="#ff0200"/><stop offset="0.4945" stop-color="#ff0700"/><stop offset="0.5166" stop-color="#ff1d00"/><stop offset="0.5331" stop-color="#ff3800"/><stop offset="0.5608" stop-color="#ff8400"/><stop offset="0.5939" stop-color="#f9ff00"/><stop offset="0.6215" stop-color="#72ff00"/><stop offset="0.6381" stop-color="#16ff00"/><stop offset="0.6436" stop-color="#00ff05"/><stop offset="0.6823" stop-color="#00ffd7"/><stop offset="0.6878" stop-color="#00fff2"/><stop offset="0.6934" stop-color="#00f1ff"/><stop offset="0.7210" stop-color="#0079ff"/><stop offset="0.7431" stop-color="#002dff"/><stop offset="0.7597" stop-color="#0007ff"/><stop offset="0.7873" stop-color="#1400ff"/><stop offset="0.8039" stop-color="#0e00ff"/><stop offset="0.8204" stop-color="#0007ff"/><stop offset="0.8370" stop-color="#0028ff"/><stop offset="0.8591" stop-color="#006fff"/><stop offset="0.8867" stop-color="#00e1ff"/><stop offset="0.8923" stop-color="#00fcff"/><stop offset="0.9254" stop-color="#00ff5b"/><stop offset="0.9420" stop-color="#00ff00"/><stop offset="0.9807" stop-color="#c3ff00"/><stop offset="0.9917" stop-color="#f3ff00"/><stop offset="0.9972" stop-color="#fff500"/></linearGradient><linearGradient id="h37" x1="0" y1="0" x2="0" y2="1"><stop offset="0.0028" stop-color="#fff500"/><stop offset="0.0304" stop-color="#ff9400"/><stop offset="0.0580" stop-color="#ff5300"/><stop offset="0.0912" stop-color="#ff2d00"/><stop offset="0.1243" stop-color="#ff3300"/><stop offset="0.1685" stop-color="#ff6300"/><stop offset="0.2348" stop-color="#ffca00"/><stop offset="0.2680" stop-color="#ffe500"/><stop offset="0.3066" stop-color="#ffe500"/><stop offset="0.3343" stop-color="#ffcf00"/><stop offset="0.3729" stop-color="#ff9400"/><stop offset="0.4392" stop-color="#ff2200"/><stop offset="0.4724" stop-color="#ff0700"/><stop offset="0.5000" stop-color="#ff0d00"/><stop offset="0.5276" stop-color="#ff2d00"/><stop offset="0.5552" stop-color="#ff7300"/><stop offset="0.5829" stop-color="#ffd500"/><stop offset="0.5884" stop-color="#fff000"/><stop offset="0.5939" stop-color="#f9ff00"/><stop offset="0.6326" stop-color="#31ff00"/><stop offset="0.6381" stop-color="#10ff00"/><stop offset="0.6436" stop-color="#00ff10"/><stop offset="0.6878" stop-color="#00fffd"/><stop offset="0.7155" stop-color="#007fff"/><stop offset="0.7431" stop-color="#001dff"/><stop offset="0.7541" stop-color="#0002ff"/><stop offset="0.7762" stop-color="#1f00ff"/><stop offset="0.7928" stop-color="#2a00ff"/><stop offset="0.8149" stop-color="#1900ff"/><stop offset="0.8315" stop-color="#0007ff"/><stop offset="0.8591" stop-color="#005eff"/><stop offset="0.8923" stop-color="#00f1ff"/><stop offset="0.8978" stop-color="#00fff2"/><stop offset="0.9365" stop-color="#00ff26"/><stop offset="0.9420" stop-color="#00ff05"/><stop offset="0.9696" stop-color="#87ff00"/><stop offset="0.9751" stop-color="#a8ff00"/><stop offset="0.9917" stop-color="#f3ff00"/><stop offset="0.9972" stop-color="#fff500"/></linearGradient><linearGradient id="h38" x1="0" y1="0" x2="0" y2="1"><stop offset="0.0028" stop-color="#fff500"/><stop offset="0.0304" stop-color="#ff9400"/><stop offset="0.0580" stop-color="#ff5300"/><stop offset="0.0856" stop-color="#ff3300"/><stop offset="0.1022" stop-color="#ff2d00"/><stop offset="0.1354" stop-color="#ff4300"/><stop offset="0.1740" stop-color="#ff7900"/><stop offset="0.2403" stop-color="#ffe500"/><stop offset="0.2735" stop-color="#feff00"/><stop offset="0.3066" stop-color="#fffb00"/><stop offset="0.3287" stop-color="#ffea00"/><stop offset="0.3674" stop-color="#ffaf00"/><stop offset="0.4337" stop-color="#ff3300"/><stop offset="0.4669" stop-color="#ff0d00"/><stop offset="0.4890" stop-color="#ff0700"/><stop offset="0.5166" stop-color="#ff1d00"/><stop offset="0.5497" stop-color="#ff6300"/><stop offset="0.5773" stop-color="#ffbf00"/><stop offset="0.5884" stop-color="#fff000"/><stop offset="0.5939" stop-color="#f9ff00"/><stop offset="0.6326" stop-color="#2bff00"/><stop offset="0.6381" stop-color="#0bff00"/><stop offset="0.6436" stop-color="#00ff16"/><stop offset="0.6823" stop-color="#00ffed"/><stop offset="0.6878" stop-color="#00f6ff"/><stop offset="0.7155" stop-color="#006fff"/><stop offset="0.7431" stop-color="#000dff"/><stop offset="0.7486" stop-color="#0400ff"/><stop offset="0.7762" stop-color="#3400ff"/><stop offset="0.7983" stop-color="#3a00ff"/><stop offset="0.8204" stop-color="#1f00ff"/><stop offset="0.8370" stop-color="#0007ff"/><stop offset="0.8646" stop-color="#0064ff"/><stop offset="0.8978" stop-color="#00fffd"/><stop offset="0.9420" stop-color="#00ff0b"/><stop offset="0.9475" stop-color="#10ff00"/><stop offset="0.9751" stop-color="#a2ff00"/><stop offset="0.9917" stop-color="#f3ff00"/><stop offset="0.9972" stop-color="#fff500"/></linearGradient><linearGradient id="h39" x1="0" y1="0" x2="0" y2="1"><stop offset="0.0028" stop-color="#fff500"/><stop offset="0.0304" stop-color="#ff9400"/><stop offset="0.0580" stop-color="#ff5300"/><stop offset="0.0801" stop-color="#ff3800"/><stop offset="0.1188" stop-color="#ff3800"/><stop offset="0.1575" stop-color="#ff6900"/><stop offset="0.2293" stop-color="#ffea00"/><stop offset="0.2459" stop-color="#feff00"/><stop offset="0.2790" stop-color="#e3ff00"/><stop offset="0.3066" stop-color="#e8ff00"/><stop offset="0.3287" stop-color="#feff00"/><stop offset="0.3564" stop-color="#ffd500"/><stop offset="0.4448" stop-color="#ff2d00"/><stop offset="0.4669" stop-color="#ff1200"/><stop offset="0.5055" stop-color="#ff1200"/><stop offset="0.5221" stop-color="#ff2800"/><stop offset="0.5497" stop-color="#ff6300"/><stop offset="0.5773" stop-color="#ffbf00"/><stop offset="0.5884" stop-color="#fff000"/><stop offset="0.5939" stop-color="#f9ff00"/><stop offset="0.6326" stop-color="#26ff00"/><stop offset="0.6381" stop-color="#05ff00"/><stop offset="0.6823" stop-color="#00fff7"/><stop offset="0.6878" stop-color="#00ecff"/><stop offset="0.7099" stop-color="#0079ff"/><stop offset="0.7376" stop-color="#000dff"/><stop offset="0.7431" stop-color="#0400ff"/><stop offset="0.7597" stop-color="#2f00ff"/><stop offset="0.7818" stop-color="#4a00ff"/><stop offset="0.8039" stop-color="#4500ff"/><stop offset="0.8204" stop-color="#2f00ff"/><stop offset="0.8370" stop-color="#0900ff"/><stop offset="0.8481" stop-color="#0018ff"/><stop offset="0.8757" stop-color="#008aff"/><stop offset="0.8978" stop-color="#00f6ff"/><stop offset="0.9088" stop-color="#00ffcc"/><stop offset="0.9420" stop-color="#00ff10"/><stop offset="0.9475" stop-color="#10ff00"/><stop offset="0.9862" stop-color="#d8ff00"/><stop offset="0.9917" stop-color="#f3ff00"/><stop offset="0.9972" stop-color="#fff500"/></linearGradient><linearGradient id="h40" x1="0" y1="0" x2="0" y2="1"><stop offset="0.0028" stop-color="#fff500"/><stop offset="0.0304" stop-color="#ff9400"/><stop offset="0.0580" stop-color="#ff5300"/><stop offset="0.0746" stop-color="#ff3d00"/><stop offset="0.1133" stop-color="#ff3d00"/><stop offset="0.1409" stop-color="#ff5800"/><stop offset="0.2293" stop-color="#fffb00"/><stop offset="0.2680" stop-color="#cdff00"/><stop offset="0.2901" stop-color="#c3ff00"/><stop offset="0.3232" stop-color="#deff00"/><stop offset="0.3453" stop-color="#fffb00"/><stop offset="0.3785" stop-color="#ffbf00"/><stop offset="0.4282" stop-color="#ff5300"/><stop offset="0.4558" stop-color="#ff2800"/><stop offset="0.4834" stop-color="#ff1200"/><stop offset="0.5055" stop-color="#ff1800"/><stop offset="0.5276" stop-color="#ff3300"/><stop offset="0.5497" stop-color="#ff6300"/><stop offset="0.5718" stop-color="#ffaf00"/><stop offset="0.5884" stop-color="#fff000"/><stop offset="0.5939" stop-color="#f3ff00"/><stop offset="0.6215" stop-color="#61ff00"/><stop offset="0.6381" stop-color="#00ff00"/><stop offset="0.6823" stop-color="#00fffd"/><stop offset="0.7044" stop-color="#008aff"/><stop offset="0.7320" stop-color="#0012ff"/><stop offset="0.7376" stop-color="#0002ff"/><stop offset="0.7541" stop-color="#2f00ff"/><stop offset="0.7762" stop-color="#5500ff"/><stop offset="0.8039" stop-color="#5500ff"/><stop offset="0.8204" stop-color="#3f00ff"/><stop offset="0.8370" stop-color="#1900ff"/><stop offset="0.8425" stop-color="#0900ff"/><stop offset="0.8536" stop-color="#0023ff"/><stop offset="0.8757" stop-color="#007fff"/><stop offset="0.8978" stop-color="#00f1ff"/><stop offset="0.9033" stop-color="#00fff2"/><stop offset="0.9420" stop-color="#00ff16"/><stop offset="0.9475" stop-color="#0bff00"/><stop offset="0.9862" stop-color="#d8ff00"/><stop offset="0.9917" stop-color="#f3ff00"/><stop offset="0.9972" stop-color="#fff500"/></linearGradient><linearGradient id="h41" x1="0" y1="0" x2="0" y2="1"><stop offset="0.0028" stop-color="#fff500"/><stop offset="0.0304" stop-color="#ff9400"/><stop offset="0.0580" stop-color="#ff5300"/><stop offset="0.0912" stop-color="#ff3800"/><stop offset="0.1188" stop-color="#ff4800"/><stop offset="0.1409" stop-color="#ff6300"/><stop offset="0.1630" stop-color="#ff8900"/><stop offset="0.2182" stop-color="#feff00"/><stop offset="0.2624" stop-color="#b2ff00"/><stop offset="0.2956" stop-color="#a8ff00"/><stop offset="0.3177" stop-color="#b8ff00"/><stop offset="0.3564" stop-color="#feff00"/><stop offset="0.4337" stop-color="#ff5300"/><stop offset="0.4613" stop-color="#ff2800"/><stop offset="0.4945" stop-color="#ff1200"/><stop offset="0.5221" stop-color="#ff2800"/><stop offset="0.5497" stop-color="#ff6300"/><stop offset="0.5718" stop-color="#ffaf00"/><stop offset="0.5884" stop-color="#fff000"/><stop offset="0.5939" stop-color="#f3ff00"/><stop offset="0.6215" stop-color="#61ff00"/><stop offset="0.6381" stop-color="#00ff00"/><stop offset="0.6768" stop-color="#00ffe7"/><stop offset="0.6823" stop-color="#00f6ff"/><stop offset="0.7099" stop-color="#0064ff"/><stop offset="0.7320" stop-color="#0007ff"/><stop offset="0.7486" stop-color="#2f00ff"/><stop offset="0.7707" stop-color="#6000ff"/><stop offset="0.7873" stop-color="#6b00ff"/><stop offset="0.8039" stop-color="#6500ff"/><stop offset="0.8260" stop-color="#4500ff"/><stop offset="0.8481" stop-color="#0400ff"/><stop offset="0.8702" stop-color="#0059ff"/><stop offset="0.8978" stop-color="#00e6ff"/><stop offset="0.9033" stop-color="#00fff7"/><stop offset="0.9420" stop-color="#00ff16"/><stop offset="0.9475" stop-color="#0bff00"/><stop offset="0.9862" stop-color="#d8ff00"/><stop offset="0.9917" stop-color="#f3ff00"/><stop offset="0.9972" stop-color="#fff500"/></linearGradient><linearGradient id="h42" x1="0" y1="0" x2="0" y2="1"><stop offset="0.0028" stop-color="#fff500"/><stop offset="0.0249" stop-color="#ffa400"/><stop offset="0.0580" stop-color="#ff5300"/><stop offset="0.0856" stop-color="#ff3d00"/><stop offset="0.1077" stop-color="#ff4300"/><stop offset="0.1354" stop-color="#ff6300"/><stop offset="0.1519" stop-color="#ff7e00"/><stop offset="0.2072" stop-color="#fffb00"/><stop offset="0.2238" stop-color="#deff00"/><stop offset="0.2459" stop-color="#adff00"/><stop offset="0.2790" stop-color="#87ff00"/><stop offset="0.3066" stop-color="#8dff00"/><stop offset="0.3343" stop-color="#b8ff00"/><stop offset="0.3564" stop-color="#e8ff00"/><stop offset="0.3619" stop-color="#f9ff00"/><stop offset="0.3729" stop-color="#fff000"/><stop offset="0.4282" stop-color="#ff6900"/><stop offset="0.4613" stop-color="#ff2d00"/><stop offset="0.4890" stop-color="#ff1800"/><stop offset="0.5166" stop-color="#ff2200"/><stop offset="0.5442" stop-color="#ff5300"/><stop offset="0.5663" stop-color="#ff9900"/><stop offset="0.5884" stop-color="#fff000"/><stop offset="0.5939" stop-color="#f3ff00"/><stop offset="0.6215" stop-color="#5cff00"/><stop offset="0.6381" stop-color="#00ff05"/><stop offset="0.6768" stop-color="#00ffed"/><stop offset="0.6823" stop-color="#00f1ff"/><stop offset="0.7099" stop-color="#0059ff"/><stop offset="0.7320" stop-color="#0400ff"/><stop offset="0.7486" stop-color="#3f00ff"/><stop offset="0.7707" stop-color="#6b00ff"/><stop offset="0.7928" stop-color="#7b00ff"/><stop offset="0.8039" stop-color="#7600ff"/><stop offset="0.8260" stop-color="#5000ff"/><stop offset="0.8481" stop-color="#0e00ff"/><stop offset="0.8536" stop-color="#0007ff"/><stop offset="0.8923" stop-color="#00c0ff"/><stop offset="0.9033" stop-color="#00fffd"/><stop offset="0.9475" stop-color="#05ff00"/><stop offset="0.9751" stop-color="#a2ff00"/><stop offset="0.9917" stop-color="#f3ff00"/><stop offset="0.9972" stop-color="#fff500"/></linearGradient><linearGradient id="h43" x1="0" y1="0" x2="0" y2="1"><stop offset="0.0028" stop-color="#fff500"/><stop offset="0.0249" stop-color="#ffa400"/><stop offset="0.0470" stop-color="#ff6900"/><stop offset="0.0746" stop-color="#ff4300"/><stop offset="0.0912" stop-color="#ff3d00"/><stop offset="0.1243" stop-color="#ff5800"/><stop offset="0.1519" stop-color="#ff8900"/><stop offset="0.2017" stop-color="#feff00"/><stop offset="0.2348" stop-color="#a8ff00"/><stop offset="0.2624" stop-color="#77ff00"/><stop offset="0.2901" stop-color="#67ff00"/><stop offset="0.3232" stop-color="#82ff00"/><stop offset="0.3508" stop-color="#bdff00"/><stop offset="0.3729" stop-color="#feff00"/><stop offset="0.4337" stop-color="#ff6900"/><stop offset="0.4669" stop-color="#ff2d00"/><stop offset="0.4890" stop-color="#ff1d00"/><stop offset="0.5110" stop-color="#ff2200"/><stop offset="0.5331" stop-color="#ff3d00"/><stop offset="0.5552" stop-color="#ff7300"/><stop offset="0.5773" stop-color="#ffbf00"/><stop offset="0.5884" stop-color="#fff000"/><stop offset="0.5939" stop-color="#f3ff00"/><stop offset="0.6215" stop-color="#5cff00"/><stop offset="0.6326" stop-color="#1bff00"/><stop offset="0.6381" stop-color="#00ff0b"/><stop offset="0.6768" stop-color="#00fff7"/><stop offset="0.6878" stop-color="#00c6ff"/><stop offset="0.7210" stop-color="#001dff"/><stop offset="0.7265" stop-color="#0007ff"/><stop offset="0.7376" stop-color="#2400ff"/><stop offset="0.7486" stop-color="#4a00ff"/><stop offset="0.7762" stop-color="#8100ff"/><stop offset="0.8039" stop-color="#8100ff"/><stop offset="0.8315" stop-color="#4a00ff"/><stop offset="0.8536" stop-color="#0400ff"/><stop offset="0.8757" stop-color="#0064ff"/><stop offset="0.9033" stop-color="#00fcff"/><stop offset="0.9475" stop-color="#05ff00"/><stop offset="0.9751" stop-color="#a2ff00"/><stop offset="0.9917" stop-color="#f3ff00"/><stop offset="0.9972" stop-color="#fff500"/></linearGradient><linearGradient id="h44" x1="0" y1="0" x2="0" y2="1"><stop offset="0.0028" stop-color="#fff000"/><stop offset="0.0304" stop-color="#ff9400"/><stop offset="0.0470" stop-color="#ff6900"/><stop offset="0.0746" stop-color="#ff4300"/><stop offset="0.1022" stop-color="#ff4800"/><stop offset="0.1298" stop-color="#ff6900"/><stop offset="0.1740" stop-color="#ffca00"/><stop offset="0.1906" stop-color="#fff500"/><stop offset="0.1961" stop-color="#f9ff00"/><stop offset="0.2403" stop-color="#7cff00"/><stop offset="0.2680" stop-color="#51ff00"/><stop offset="0.2956" stop-color="#46ff00"/><stop offset="0.3287" stop-color="#6cff00"/><stop offset="0.3564" stop-color="#b2ff00"/><stop offset="0.3785" stop-color="#f9ff00"/><stop offset="0.3840" stop-color="#fffb00"/><stop offset="0.4337" stop-color="#ff7300"/><stop offset="0.4724" stop-color="#ff2d00"/><stop offset="0.5000" stop-color="#ff1d00"/><stop offset="0.5276" stop-color="#ff3300"/><stop offset="0.5497" stop-color="#ff6300"/><stop offset="0.5773" stop-color="#ffbf00"/><stop offset="0.5884" stop-color="#fff000"/><stop offset="0.5939" stop-color="#f3ff00"/><stop offset="0.6215" stop-color="#5cff00"/><stop offset="0.6326" stop-color="#16ff00"/><stop offset="0.6381" stop-color="#00ff0b"/><stop offset="0.6768" stop-color="#00fffd"/><stop offset="0.7099" stop-color="#0049ff"/><stop offset="0.7210" stop-color="#0012ff"/><stop offset="0.7265" stop-color="#0400ff"/><stop offset="0.7486" stop-color="#5500ff"/><stop offset="0.7707" stop-color="#8100ff"/><stop offset="0.7818" stop-color="#9100ff"/><stop offset="0.8039" stop-color="#8b00ff"/><stop offset="0.8260" stop-color="#6500ff"/><stop offset="0.8481" stop-color="#1f00ff"/><stop offset="0.8536" stop-color="#0900ff"/><stop offset="0.8591" stop-color="#000dff"/><stop offset="0.8923" stop-color="#00b5ff"/><stop offset="0.9033" stop-color="#00f6ff"/><stop offset="0.9144" stop-color="#00ffc7"/><stop offset="0.9420" stop-color="#00ff1b"/><stop offset="0.9475" stop-color="#05ff00"/><stop offset="0.9751" stop-color="#a2ff00"/><stop offset="0.9917" stop-color="#f3ff00"/><stop offset="0.9972" stop-color="#fff000"/></linearGradient><linearGradient id="h45" x1="0" y1="0" x2="0" y2="1"><stop offset="0.0028" stop-color="#fff000"/><stop offset="0.0304" stop-color="#ff8e00"/><stop offset="0.0525" stop-color="#ff5e00"/><stop offset="0.0691" stop-color="#ff4800"/><stop offset="0.0967" stop-color="#ff4800"/><stop offset="0.1243" stop-color="#ff6900"/><stop offset="0.1575" stop-color="#ffaf00"/><stop offset="0.1851" stop-color="#fffb00"/><stop offset="0.1906" stop-color="#f9ff00"/><stop offset="0.2182" stop-color="#9dff00"/><stop offset="0.2459" stop-color="#56ff00"/><stop offset="0.2735" stop-color="#2bff00"/><stop offset="0.3011" stop-color="#2bff00"/><stop offset="0.3232" stop-color="#46ff00"/><stop offset="0.3453" stop-color="#77ff00"/><stop offset="0.3895" stop-color="#fffb00"/><stop offset="0.4392" stop-color="#ff7300"/><stop offset="0.4613" stop-color="#ff4300"/><stop offset="0.4834" stop-color="#ff2800"/><stop offset="0.5055" stop-color="#ff2200"/><stop offset="0.5221" stop-color="#ff2d00"/><stop offset="0.5387" stop-color="#ff4800"/><stop offset="0.5608" stop-color="#ff8400"/><stop offset="0.5773" stop-color="#ffbf00"/><stop offset="0.5884" stop-color="#fff000"/><stop offset="0.5939" stop-color="#f3ff00"/><stop offset="0.6215" stop-color="#5cff00"/><stop offset="0.6326" stop-color="#16ff00"/><stop offset="0.6381" stop-color="#00ff0b"/><stop offset="0.6768" stop-color="#00fffd"/><stop offset="0.7044" stop-color="#005eff"/><stop offset="0.7210" stop-color="#000dff"/><stop offset="0.7265" stop-color="#0900ff"/><stop offset="0.7376" stop-color="#3a00ff"/><stop offset="0.7652" stop-color="#8600ff"/><stop offset="0.7928" stop-color="#9c00ff"/><stop offset="0.8094" stop-color="#9100ff"/><stop offset="0.8315" stop-color="#6000ff"/><stop offset="0.8481" stop-color="#2a00ff"/><stop offset="0.8536" stop-color="#0e00ff"/><stop offset="0.8591" stop-color="#0007ff"/><stop offset="0.8923" stop-color="#00b0ff"/><stop offset="0.9033" stop-color="#00f1ff"/><stop offset="0.9088" stop-color="#00ffe7"/><stop offset="0.9420" stop-color="#00ff1b"/><stop offset="0.9475" stop-color="#05ff00"/><stop offset="0.9751" stop-color="#a2ff00"/><stop offset="0.9862" stop-color="#deff00"/><stop offset="0.9917" stop-color="#f3ff00"/><stop offset="0.9972" stop-color="#fff000"/></linearGradient><linearGradient id="h46" x1="0" y1="0" x2="0" y2="1"><stop offset="0.0028" stop-color="#fff000"/><stop offset="0.0249" stop-color="#ff9f00"/><stop offset="0.0414" stop-color="#ff7300"/><stop offset="0.0635" stop-color="#ff5300"/><stop offset="0.0801" stop-color="#ff4800"/><stop offset="0.0967" stop-color="#ff4e00"/><stop offset="0.1243" stop-color="#ff6e00"/><stop offset="0.1685" stop-color="#ffda00"/><stop offset="0.1796" stop-color="#fffb00"/><stop offset="0.1906" stop-color="#e3ff00"/><stop offset="0.2182" stop-color="#82ff00"/><stop offset="0.2459" stop-color="#36ff00"/><stop offset="0.2624" stop-color="#1bff00"/><stop offset="0.2901" stop-color="#05ff00"/><stop offset="0.3177" stop-color="#1bff00"/><stop offset="0.3453" stop-color="#56ff00"/><stop offset="0.3950" stop-color="#fffb00"/><stop offset="0.4448" stop-color="#ff6e00"/><stop offset="0.4779" stop-color="#ff3300"/><stop offset="0.4945" stop-color="#ff2800"/><stop offset="0.5166" stop-color="#ff2d00"/><stop offset="0.5387" stop-color="#ff4800"/><stop offset="0.5663" stop-color="#ff9400"/><stop offset="0.5884" stop-color="#fff000"/><stop offset="0.5939" stop-color="#f3ff00"/><stop offset="0.6215" stop-color="#5cff00"/><stop offset="0.6326" stop-color="#16ff00"/><stop offset="0.6381" stop-color="#00ff10"/><stop offset="0.6713" stop-color="#00ffe2"/><stop offset="0.6768" stop-color="#00fcff"/><stop offset="0.6878" stop-color="#00b5ff"/><stop offset="0.7210" stop-color="#0007ff"/><stop offset="0.7376" stop-color="#3f00ff"/><stop offset="0.7541" stop-color="#7600ff"/><stop offset="0.7762" stop-color="#9c00ff"/><stop offset="0.8039" stop-color="#9c00ff"/><stop offset="0.8260" stop-color="#7600ff"/><stop offset="0.8481" stop-color="#2f00ff"/><stop offset="0.8591" stop-color="#0002ff"/><stop offset="0.8867" stop-color="#008fff"/><stop offset="0.9033" stop-color="#00f1ff"/><stop offset="0.9088" stop-color="#00ffed"/><stop offset="0.9420" stop-color="#00ff1b"/><stop offset="0.9475" stop-color="#05ff00"/><stop offset="0.9807" stop-color="#c3ff00"/><stop offset="0.9917" stop-color="#f9ff00"/><stop offset="0.9972" stop-color="#fff000"/></linearGradient><linearGradient id="h47" x1="0" y1="0" x2="0" y2="1"><stop offset="0.0028" stop-color="#ffea00"/><stop offset="0.0359" stop-color="#ff7e00"/><stop offset="0.0580" stop-color="#ff5800"/><stop offset="0.0801" stop-color="#ff4800"/><stop offset="0.1022" stop-color="#ff5300"/><stop offset="0.1354" stop-color="#ff8e00"/><stop offset="0.1740" stop-color="#fffb00"/><stop offset="0.1851" stop-color="#e3ff00"/><stop offset="0.2182" stop-color="#67ff00"/><stop offset="0.2459" stop-color="#1bff00"/><stop offset="0.2624" stop-color="#00ff05"/><stop offset="0.2901" stop-color="#00ff1b"/><stop offset="0.3232" stop-color="#05ff00"/><stop offset="0.3508" stop-color="#4cff00"/><stop offset="0.3785" stop-color="#adff00"/><stop offset="0.4006" stop-color="#fffb00"/><stop offset="0.4503" stop-color="#ff6e00"/><stop offset="0.4834" stop-color="#ff3300"/><stop offset="0.5110" stop-color="#ff2800"/><stop offset="0.5387" stop-color="#ff4800"/><stop offset="0.5663" stop-color="#ff9400"/><stop offset="0.5884" stop-color="#fff000"/><stop offset="0.5939" stop-color="#f3ff00"/><stop offset="0.6105" stop-color="#9dff00"/><stop offset="0.6326" stop-color="#16ff00"/><stop offset="0.6381" stop-color="#00ff10"/><stop offset="0.6713" stop-color="#00ffe2"/><stop offset="0.6768" stop-color="#00f6ff"/><stop offset="0.7099" stop-color="#0038ff"/><stop offset="0.7210" stop-color="#0002ff"/><stop offset="0.7486" stop-color="#6b00ff"/><stop offset="0.7707" stop-color="#9c00ff"/><stop offset="0.7928" stop-color="#ac00ff"/><stop offset="0.8039" stop-color="#a700ff"/><stop offset="0.8260" stop-color="#7b00ff"/><stop offset="0.8481" stop-color="#3400ff"/><stop offset="0.8591" stop-color="#0400ff"/><stop offset="0.8867" stop-color="#008aff"/><stop offset="0.9033" stop-color="#00f1ff"/><stop offset="0.9088" stop-color="#00ffed"/><stop offset="0.9420" stop-color="#00ff1b"/><stop offset="0.9475" stop-color="#05ff00"/><stop offset="0.9807" stop-color="#c3ff00"/><stop offset="0.9917" stop-color="#f9ff00"/><stop offset="0.9972" stop-color="#ffea00"/></linearGradient><linearGradient id="h48" x1="0" y1="0" x2="0" y2="1"><stop offset="0.0028" stop-color="#ffea00"/><stop offset="0.0193" stop-color="#ffaf00"/><stop offset="0.0414" stop-color="#ff7300"/><stop offset="0.0635" stop-color="#ff5300"/><stop offset="0.0967" stop-color="#ff5300"/><stop offset="0.1298" stop-color="#ff8900"/><stop offset="0.1685" stop-color="#fff500"/><stop offset="0.1740" stop-color="#f9ff00"/><stop offset="0.2238" stop-color="#3bff00"/><stop offset="0.2459" stop-color="#00ff05"/><stop offset="0.2680" stop-color="#00ff2b"/><stop offset="0.2901" stop-color="#00ff3b"/><stop offset="0.3122" stop-color="#00ff2b"/><stop offset="0.3232" stop-color="#00ff1b"/><stop offset="0.3343" stop-color="#00ff00"/><stop offset="0.3674" stop-color="#67ff00"/><stop offset="0.4006" stop-color="#eeff00"/><stop offset="0.4061" stop-color="#fffb00"/><stop offset="0.4448" stop-color="#ff8400"/><stop offset="0.4724" stop-color="#ff4800"/><stop offset="0.4890" stop-color="#ff3300"/><stop offset="0.5166" stop-color="#ff2d00"/><stop offset="0.5331" stop-color="#ff4300"/><stop offset="0.5552" stop-color="#ff7300"/><stop offset="0.5773" stop-color="#ffbf00"/><stop offset="0.5884" stop-color="#fff000"/><stop offset="0.5939" stop-color="#f9ff00"/><stop offset="0.6215" stop-color="#5cff00"/><stop offset="0.6326" stop-color="#16ff00"/><stop offset="0.6381" stop-color="#00ff10"/><stop offset="0.6713" stop-color="#00ffe2"/><stop offset="0.6768" stop-color="#00f6ff"/><stop offset="0.6989" stop-color="#006fff"/><stop offset="0.7210" stop-color="#0400ff"/><stop offset="0.7431" stop-color="#6000ff"/><stop offset="0.7597" stop-color="#8b00ff"/><stop offset="0.7762" stop-color="#a700ff"/><stop offset="0.7928" stop-color="#b100ff"/><stop offset="0.8039" stop-color="#ac00ff"/><stop offset="0.8204" stop-color="#9100ff"/><stop offset="0.8481" stop-color="#3a00ff"/><stop offset="0.8591" stop-color="#0900ff"/><stop offset="0.8702" stop-color="#002dff"/><stop offset="0.8978" stop-color="#00cbff"/><stop offset="0.9033" stop-color="#00f1ff"/><stop offset="0.9088" stop-color="#00ffed"/><stop offset="0.9420" stop-color="#00ff1b"/><stop offset="0.9475" stop-color="#05ff00"/><stop offset="0.9696" stop-color="#8dff00"/><stop offset="0.9917" stop-color="#feff00"/><stop offset="0.9972" stop-color="#ffea00"/></linearGradient><linearGradient id="h49" x1="0" y1="0" x2="0" y2="1"><stop offset="0.0028" stop-color="#ffea00"/><stop offset="0.0249" stop-color="#ff9900"/><stop offset="0.0525" stop-color="#ff5e00"/><stop offset="0.0746" stop-color="#ff4e00"/><stop offset="0.0967" stop-color="#ff5800"/><stop offset="0.1188" stop-color="#ff7900"/><stop offset="0.1575" stop-color="#ffe000"/><stop offset="0.1630" stop-color="#fff500"/><stop offset="0.1685" stop-color="#f9ff00"/><stop offset="0.2182" stop-color="#31ff00"/><stop offset="0.2293" stop-color="#0bff00"/><stop offset="0.2348" stop-color="#00ff05"/><stop offset="0.2569" stop-color="#00ff3b"/><stop offset="0.2790" stop-color="#00ff56"/><stop offset="0.3011" stop-color="#00ff56"/><stop offset="0.3232" stop-color="#00ff36"/><stop offset="0.3453" stop-color="#00ff00"/><stop offset="0.3729" stop-color="#61ff00"/><stop offset="0.4061" stop-color="#f3ff00"/><stop offset="0.4116" stop-color="#fffb00"/><stop offset="0.4392" stop-color="#ff9f00"/><stop offset="0.4669" stop-color="#ff5e00"/><stop offset="0.4890" stop-color="#ff3800"/><stop offset="0.5221" stop-color="#ff3800"/><stop offset="0.5442" stop-color="#ff5800"/><stop offset="0.5663" stop-color="#ff9400"/><stop offset="0.5939" stop-color="#f9ff00"/><stop offset="0.6271" stop-color="#3bff00"/><stop offset="0.6326" stop-color="#16ff00"/><stop offset="0.6381" stop-color="#00ff0b"/><stop offset="0.6713" stop-color="#00ffe7"/><stop offset="0.6768" stop-color="#00f6ff"/><stop offset="0.7044" stop-color="#004eff"/><stop offset="0.7155" stop-color="#0012ff"/><stop offset="0.7210" stop-color="#0900ff"/><stop offset="0.7376" stop-color="#5000ff"/><stop offset="0.7541" stop-color="#8600ff"/><stop offset="0.7762" stop-color="#ac00ff"/><stop offset="0.7928" stop-color="#b700ff"/><stop offset="0.8149" stop-color="#9c00ff"/><stop offset="0.8315" stop-color="#7600ff"/><stop offset="0.8536" stop-color="#2400ff"/><stop offset="0.8591" stop-color="#0900ff"/><stop offset="0.8702" stop-color="#002dff"/><stop offset="0.8978" stop-color="#00cbff"/><stop offset="0.9033" stop-color="#00f1ff"/><stop offset="0.9088" stop-color="#00ffed"/><stop offset="0.9420" stop-color="#00ff1b"/><stop offset="0.9475" stop-color="#0bff00"/><stop offset="0.9807" stop-color="#c8ff00"/><stop offset="0.9917" stop-color="#feff00"/><stop offset="0.9972" stop-color="#ffea00"/></linearGradient><linearGradient id="h50" x1="0" y1="0" x2="0" y2="1"><stop offset="0.0028" stop-color="#ffe500"/><stop offset="0.0249" stop-color="#ff9900"/><stop offset="0.0414" stop-color="#ff6e00"/><stop offset="0.0635" stop-color="#ff5300"/><stop offset="0.0856" stop-color="#ff5300"/><stop offset="0.1077" stop-color="#ff6e00"/><stop offset="0.1354" stop-color="#ffa900"/><stop offset="0.1630" stop-color="#feff00"/><stop offset="0.2182" stop-color="#16ff00"/><stop offset="0.2238" stop-color="#05ff00"/><stop offset="0.2514" stop-color="#00ff4b"/><stop offset="0.2735" stop-color="#00ff71"/><stop offset="0.3066" stop-color="#00ff71"/><stop offset="0.3287" stop-color="#00ff4b"/><stop offset="0.3508" stop-color="#00ff0b"/><stop offset="0.3564" stop-color="#0bff00"/><stop offset="0.3674" stop-color="#31ff00"/><stop offset="0.4116" stop-color="#f3ff00"/><stop offset="0.4171" stop-color="#fff500"/><stop offset="0.4613" stop-color="#ff6e00"/><stop offset="0.4945" stop-color="#ff3800"/><stop offset="0.5221" stop-color="#ff3800"/><stop offset="0.5442" stop-color="#ff5800"/><stop offset="0.5663" stop-color="#ff9400"/><stop offset="0.5939" stop-color="#f9ff00"/><stop offset="0.6271" stop-color="#3bff00"/><stop offset="0.6326" stop-color="#16ff00"/><stop offset="0.6381" stop-color="#00ff0b"/><stop offset="0.6713" stop-color="#00ffe7"/><stop offset="0.6768" stop-color="#00f6ff"/><stop offset="0.7099" stop-color="#002dff"/><stop offset="0.7210" stop-color="#0900ff"/><stop offset="0.7431" stop-color="#6500ff"/><stop offset="0.7652" stop-color="#a100ff"/><stop offset="0.7818" stop-color="#b700ff"/><stop offset="0.8039" stop-color="#b100ff"/><stop offset="0.8204" stop-color="#9600ff"/><stop offset="0.8425" stop-color="#5000ff"/><stop offset="0.8591" stop-color="#0900ff"/><stop offset="0.8702" stop-color="#002dff"/><stop offset="0.8978" stop-color="#00cbff"/><stop offset="0.9033" stop-color="#00f1ff"/><stop offset="0.9088" stop-color="#00ffed"/><stop offset="0.9420" stop-color="#00ff16"/><stop offset="0.9475" stop-color="#0bff00"/><stop offset="0.9696" stop-color="#92ff00"/><stop offset="0.9917" stop-color="#fffb00"/><stop offset="0.9972" stop-color="#ffe500"/></linearGradient><linearGradient id="h51" x1="0" y1="0" x2="0" y2="1"><stop offset="0.0028" stop-color="#ffe500"/><stop offset="0.0249" stop-color="#ff9900"/><stop offset="0.0470" stop-color="#ff6300"/><stop offset="0.0691" stop-color="#ff5300"/><stop offset="0.0856" stop-color="#ff5800"/><stop offset="0.1077" stop-color="#ff7300"/><stop offset="0.1409" stop-color="#ffc400"/><stop offset="0.1575" stop-color="#fffb00"/><stop offset="0.1796" stop-color="#a8ff00"/><stop offset="0.2072" stop-color="#2bff00"/><stop offset="0.2182" stop-color="#00ff00"/><stop offset="0.2348" stop-color="#00ff3b"/><stop offset="0.2569" stop-color="#00ff76"/><stop offset="0.2790" stop-color="#00ff97"/><stop offset="0.3066" stop-color="#00ff91"/><stop offset="0.3287" stop-color="#00ff6c"/><stop offset="0.3619" stop-color="#00ff00"/><stop offset="0.4006" stop-color="#adff00"/><stop offset="0.4171" stop-color="#f9ff00"/><stop offset="0.4503" stop-color="#ff9900"/><stop offset="0.4779" stop-color="#ff5300"/><stop offset="0.5000" stop-color="#ff3800"/><stop offset="0.5276" stop-color="#ff3d00"/><stop offset="0.5497" stop-color="#ff6300"/><stop offset="0.5773" stop-color="#ffba00"/><stop offset="0.5939" stop-color="#feff00"/><stop offset="0.6215" stop-color="#61ff00"/><stop offset="0.6326" stop-color="#1bff00"/><stop offset="0.6381" stop-color="#00ff0b"/><stop offset="0.6713" stop-color="#00ffe2"/><stop offset="0.6768" stop-color="#00f6ff"/><stop offset="0.7099" stop-color="#002dff"/><stop offset="0.7210" stop-color="#0900ff"/><stop offset="0.7431" stop-color="#6500ff"/><stop offset="0.7652" stop-color="#a100ff"/><stop offset="0.7873" stop-color="#bc00ff"/><stop offset="0.8094" stop-color="#ac00ff"/><stop offset="0.8315" stop-color="#7b00ff"/><stop offset="0.8425" stop-color="#5500ff"/><stop offset="0.8591" stop-color="#0900ff"/><stop offset="0.8702" stop-color="#002dff"/><stop offset="0.8923" stop-color="#00aaff"/><stop offset="0.9033" stop-color="#00f1ff"/><stop offset="0.9088" stop-color="#00ffe7"/><stop offset="0.9420" stop-color="#00ff16"/><stop offset="0.9475" stop-color="#10ff00"/><stop offset="0.9807" stop-color="#cdff00"/><stop offset="0.9917" stop-color="#fffb00"/><stop offset="0.9972" stop-color="#ffe500"/></linearGradient><linearGradient id="h52" x1="0" y1="0" x2="0" y2="1"><stop offset="0.0028" stop-color="#ffe000"/><stop offset="0.0193" stop-color="#ffa400"/><stop offset="0.0414" stop-color="#ff6e00"/><stop offset="0.0635" stop-color="#ff5300"/><stop offset="0.0912" stop-color="#ff5e00"/><stop offset="0.1133" stop-color="#ff8400"/><stop offset="0.1464" stop-color="#ffe000"/><stop offset="0.1519" stop-color="#fff500"/><stop offset="0.1575" stop-color="#f9ff00"/><stop offset="0.2072" stop-color="#10ff00"/><stop offset="0.2127" stop-color="#00ff05"/><stop offset="0.2403" stop-color="#00ff6c"/><stop offset="0.2624" stop-color="#00ffa1"/><stop offset="0.2901" stop-color="#00ffb7"/><stop offset="0.3177" stop-color="#00ffa1"/><stop offset="0.3398" stop-color="#00ff6c"/><stop offset="0.3674" stop-color="#00ff05"/><stop offset="0.3840" stop-color="#46ff00"/><stop offset="0.4227" stop-color="#feff00"/><stop offset="0.4503" stop-color="#ffa400"/><stop offset="0.4724" stop-color="#ff6900"/><stop offset="0.4945" stop-color="#ff4300"/><stop offset="0.5166" stop-color="#ff3800"/><stop offset="0.5442" stop-color="#ff5800"/><stop offset="0.5608" stop-color="#ff7e00"/><stop offset="0.5939" stop-color="#feff00"/><stop offset="0.6381" stop-color="#00ff05"/><stop offset="0.6713" stop-color="#00ffe2"/><stop offset="0.6768" stop-color="#00f6ff"/><stop offset="0.7044" stop-color="#004eff"/><stop offset="0.7155" stop-color="#0012ff"/><stop offset="0.7210" stop-color="#0900ff"/><stop offset="0.7431" stop-color="#6500ff"/><stop offset="0.7652" stop-color="#a100ff"/><stop offset="0.7873" stop-color="#bc00ff"/><stop offset="0.8094" stop-color="#ac00ff"/><stop offset="0.8315" stop-color="#7b00ff"/><stop offset="0.8591" stop-color="#0900ff"/><stop offset="0.8702" stop-color="#002dff"/><stop offset="0.9033" stop-color="#00f6ff"/><stop offset="0.9088" stop-color="#00ffe7"/><stop offset="0.9420" stop-color="#00ff10"/><stop offset="0.9475" stop-color="#10ff00"/><stop offset="0.9751" stop-color="#b8ff00"/><stop offset="0.9862" stop-color="#eeff00"/><stop offset="0.9917" stop-color="#fff500"/><stop offset="0.9972" stop-color="#ffe000"/></linearGradient><linearGradient id="h53" x1="0" y1="0" x2="0" y2="1"><stop offset="0.0028" stop-color="#ffe000"/><stop offset="0.0193" stop-color="#ffa400"/><stop offset="0.0414" stop-color="#ff6e00"/><stop offset="0.0580" stop-color="#ff5800"/><stop offset="0.0801" stop-color="#ff5800"/><stop offset="0.1022" stop-color="#ff7300"/><stop offset="0.1243" stop-color="#ffa900"/><stop offset="0.1519" stop-color="#feff00"/><stop offset="0.2017" stop-color="#10ff00"/><stop offset="0.2072" stop-color="#00ff05"/><stop offset="0.2348" stop-color="#00ff76"/><stop offset="0.2569" stop-color="#00ffb1"/><stop offset="0.2735" stop-color="#00ffcc"/><stop offset="0.2901" stop-color="#00ffd7"/><stop offset="0.3122" stop-color="#00ffc7"/><stop offset="0.3343" stop-color="#00ff97"/><stop offset="0.3564" stop-color="#00ff4b"/><stop offset="0.3729" stop-color="#00ff05"/><stop offset="0.4227" stop-color="#eeff00"/><stop offset="0.4282" stop-color="#fffb00"/><stop offset="0.4558" stop-color="#ff9900"/><stop offset="0.4834" stop-color="#ff5800"/><stop offset="0.5055" stop-color="#ff3d00"/><stop offset="0.5276" stop-color="#ff4300"/><stop offset="0.5497" stop-color="#ff6300"/><stop offset="0.5663" stop-color="#ff8e00"/><stop offset="0.5939" stop-color="#feff00"/><stop offset="0.6105" stop-color="#a8ff00"/><stop offset="0.6381" stop-color="#00ff05"/><stop offset="0.6713" stop-color="#00ffe2"/><stop offset="0.6768" stop-color="#00fcff"/><stop offset="0.7044" stop-color="#004eff"/><stop offset="0.7155" stop-color="#0012ff"/><stop offset="0.7210" stop-color="#0900ff"/><stop offset="0.7431" stop-color="#6500ff"/><stop offset="0.7652" stop-color="#a100ff"/><stop offset="0.7818" stop-color="#b700ff"/><stop offset="0.8039" stop-color="#b100ff"/><stop offset="0.8204" stop-color="#9600ff"/><stop offset="0.8425" stop-color="#5000ff"/><stop offset="0.8591" stop-color="#0900ff"/><stop offset="0.8646" stop-color="#0012ff"/><stop offset="0.8923" stop-color="#00b0ff"/><stop offset="0.9033" stop-color="#00f6ff"/><stop offset="0.9144" stop-color="#00ffc2"/><stop offset="0.9420" stop-color="#00ff0b"/><stop offset="0.9475" stop-color="#16ff00"/><stop offset="0.9696" stop-color="#9dff00"/><stop offset="0.9862" stop-color="#f3ff00"/><stop offset="0.9917" stop-color="#fff500"/><stop offset="0.9972" stop-color="#ffe000"/></linearGradient><linearGradient id="h54" x1="0" y1="0" x2="0" y2="1"><stop offset="0.0028" stop-color="#ffda00"/><stop offset="0.0249" stop-color="#ff8e00"/><stop offset="0.0525" stop-color="#ff5e00"/><stop offset="0.0746" stop-color="#ff5800"/><stop offset="0.0967" stop-color="#ff6e00"/><stop offset="0.1298" stop-color="#ffbf00"/><stop offset="0.1464" stop-color="#fff500"/><stop offset="0.1519" stop-color="#f3ff00"/><stop offset="0.1961" stop-color="#16ff00"/><stop offset="0.2017" stop-color="#00ff05"/><stop offset="0.2293" stop-color="#00ff7c"/><stop offset="0.2514" stop-color="#00ffc2"/><stop offset="0.2735" stop-color="#00ffed"/><stop offset="0.2901" stop-color="#00fff7"/><stop offset="0.3066" stop-color="#00ffed"/><stop offset="0.3232" stop-color="#00ffd2"/><stop offset="0.3508" stop-color="#00ff7c"/><stop offset="0.3785" stop-color="#00ff05"/><stop offset="0.4116" stop-color="#a2ff00"/><stop offset="0.4282" stop-color="#f9ff00"/><stop offset="0.4613" stop-color="#ff9400"/><stop offset="0.4834" stop-color="#ff5e00"/><stop offset="0.5055" stop-color="#ff4300"/><stop offset="0.5166" stop-color="#ff3d00"/><stop offset="0.5387" stop-color="#ff4e00"/><stop offset="0.5608" stop-color="#ff7e00"/><stop offset="0.5829" stop-color="#ffca00"/><stop offset="0.5939" stop-color="#fffb00"/><stop offset="0.6050" stop-color="#c8ff00"/><stop offset="0.6381" stop-color="#00ff00"/><stop offset="0.6768" stop-color="#00fcff"/><stop offset="0.7099" stop-color="#0033ff"/><stop offset="0.7210" stop-color="#0400ff"/><stop offset="0.7376" stop-color="#5000ff"/><stop offset="0.7541" stop-color="#8600ff"/><stop offset="0.7707" stop-color="#a700ff"/><stop offset="0.7818" stop-color="#b700ff"/><stop offset="0.8039" stop-color="#b100ff"/><stop offset="0.8149" stop-color="#a100ff"/><stop offset="0.8315" stop-color="#7600ff"/><stop offset="0.8425" stop-color="#5000ff"/><stop offset="0.8591" stop-color="#0400ff"/><stop offset="0.8757" stop-color="#0053ff"/><stop offset="0.9033" stop-color="#00fcff"/><stop offset="0.9420" stop-color="#00ff05"/><stop offset="0.9807" stop-color="#deff00"/><stop offset="0.9862" stop-color="#f9ff00"/><stop offset="0.9972" stop-color="#ffda00"/></linearGradient><linearGradient id="h55" x1="0" y1="0" x2="0" y2="1"><stop offset="0.0028" stop-color="#ffd500"/><stop offset="0.0304" stop-color="#ff7e00"/><stop offset="0.0580" stop-color="#ff5800"/><stop offset="0.0801" stop-color="#ff5e00"/><stop offset="0.1022" stop-color="#ff7e00"/><stop offset="0.1354" stop-color="#ffda00"/><stop offset="0.1464" stop-color="#f9ff00"/><stop offset="0.1740" stop-color="#72ff00"/><stop offset="0.1961" stop-color="#00ff00"/><stop offset="0.2238" stop-color="#00ff81"/><stop offset="0.2403" stop-color="#00ffbc"/><stop offset="0.2624" stop-color="#00fff7"/><stop offset="0.2735" stop-color="#00f6ff"/><stop offset="0.2956" stop-color="#00ecff"/><stop offset="0.3122" stop-color="#00fcff"/><stop offset="0.3343" stop-color="#00ffd2"/><stop offset="0.3619" stop-color="#00ff6c"/><stop offset="0.3840" stop-color="#00ff00"/><stop offset="0.4282" stop-color="#e8ff00"/><stop offset="0.4337" stop-color="#feff00"/><stop offset="0.4558" stop-color="#ffaf00"/><stop offset="0.4779" stop-color="#ff7300"/><stop offset="0.5000" stop-color="#ff4e00"/><stop offset="0.5166" stop-color="#ff4300"/><stop offset="0.5331" stop-color="#ff4800"/><stop offset="0.5552" stop-color="#ff6e00"/><stop offset="0.5773" stop-color="#ffb400"/><stop offset="0.5939" stop-color="#fffb00"/><stop offset="0.6105" stop-color="#adff00"/><stop offset="0.6381" stop-color="#05ff00"/><stop offset="0.6768" stop-color="#00fffd"/><stop offset="0.7099" stop-color="#0038ff"/><stop offset="0.7210" stop-color="#0002ff"/><stop offset="0.7431" stop-color="#6000ff"/><stop offset="0.7652" stop-color="#9c00ff"/><stop offset="0.7818" stop-color="#b100ff"/><stop offset="0.8039" stop-color="#ac00ff"/><stop offset="0.8204" stop-color="#9100ff"/><stop offset="0.8425" stop-color="#4a00ff"/><stop offset="0.8591" stop-color="#0002ff"/><stop offset="0.8757" stop-color="#0059ff"/><stop offset="0.9033" stop-color="#00fffd"/><stop offset="0.9420" stop-color="#00ff00"/><stop offset="0.9641" stop-color="#87ff00"/><stop offset="0.9862" stop-color="#f9ff00"/><stop offset="0.9972" stop-color="#ffd500"/></linearGradient><linearGradient id="h56" x1="0" y1="0" x2="0" y2="1"><stop offset="0.0028" stop-color="#ffd500"/><stop offset="0.0193" stop-color="#ff9900"/><stop offset="0.0414" stop-color="#ff6900"/><stop offset="0.0635" stop-color="#ff5800"/><stop offset="0.0912" stop-color="#ff6e00"/><stop offset="0.1133" stop-color="#ff9f00"/><stop offset="0.1354" stop-color="#ffe500"/><stop offset="0.1409" stop-color="#fffb00"/><stop offset="0.1519" stop-color="#d3ff00"/><stop offset="0.1906" stop-color="#05ff00"/><stop offset="0.2348" stop-color="#00ffc7"/><stop offset="0.2514" stop-color="#00fff7"/><stop offset="0.2624" stop-color="#00ecff"/><stop offset="0.2790" stop-color="#00d0ff"/><stop offset="0.3011" stop-color="#00d0ff"/><stop offset="0.3232" stop-color="#00f1ff"/><stop offset="0.3287" stop-color="#00fffd"/><stop offset="0.3508" stop-color="#00ffb1"/><stop offset="0.3729" stop-color="#00ff51"/><stop offset="0.3895" stop-color="#05ff00"/><stop offset="0.4337" stop-color="#f3ff00"/><stop offset="0.4392" stop-color="#fff500"/><stop offset="0.4613" stop-color="#ffa900"/><stop offset="0.4834" stop-color="#ff6e00"/><stop offset="0.5000" stop-color="#ff5300"/><stop offset="0.5166" stop-color="#ff4800"/><stop offset="0.5331" stop-color="#ff4e00"/><stop offset="0.5497" stop-color="#ff6300"/><stop offset="0.5718" stop-color="#ff9f00"/><stop offset="0.5939" stop-color="#fff500"/><stop offset="0.5994" stop-color="#eeff00"/><stop offset="0.6215" stop-color="#72ff00"/><stop offset="0.6381" stop-color="#05ff00"/><stop offset="0.6436" stop-color="#00ff1b"/><stop offset="0.6768" stop-color="#00fff7"/><stop offset="0.6823" stop-color="#00e6ff"/><stop offset="0.7099" stop-color="#003eff"/><stop offset="0.7210" stop-color="#0002ff"/><stop offset="0.7486" stop-color="#6b00ff"/><stop offset="0.7707" stop-color="#a100ff"/><stop offset="0.7873" stop-color="#ac00ff"/><stop offset="0.8039" stop-color="#a700ff"/><stop offset="0.8260" stop-color="#7b00ff"/><stop offset="0.8481" stop-color="#2f00ff"/><stop offset="0.8591" stop-color="#0007ff"/><stop offset="0.8812" stop-color="#007fff"/><stop offset="0.8978" stop-color="#00e6ff"/><stop offset="0.9033" stop-color="#00fff7"/><stop offset="0.9365" stop-color="#00ff20"/><stop offset="0.9420" stop-color="#05ff00"/><stop offset="0.9641" stop-color="#8dff00"/><stop offset="0.9862" stop-color="#feff00"/><stop offset="0.9972" stop-color="#ffd500"/></linearGradient><linearGradient id="h57" x1="0" y1="0" x2="0" y2="1"><stop offset="0.0028" stop-color="#ffcf00"/><stop offset="0.0249" stop-color="#ff8900"/><stop offset="0.0470" stop-color="#ff6300"/><stop offset="0.0635" stop-color="#ff5800"/><stop offset="0.0856" stop-color="#ff6900"/><stop offset="0.1133" stop-color="#ffa400"/><stop offset="0.1409" stop-color="#f9ff00"/><stop offset="0.1630" stop-color="#8dff00"/><stop offset="0.1851" stop-color="#10ff00"/><stop offset="0.1906" stop-color="#00ff10"/><stop offset="0.2182" stop-color="#00ff97"/><stop offset="0.2403" stop-color="#00fff2"/><stop offset="0.2459" stop-color="#00fcff"/><stop offset="0.2514" stop-color="#00e6ff"/><stop offset="0.2790" stop-color="#00b5ff"/><stop offset="0.3011" stop-color="#00b5ff"/><stop offset="0.3177" stop-color="#00cbff"/><stop offset="0.3343" stop-color="#00f6ff"/><stop offset="0.3398" stop-color="#00fff7"/><stop offset="0.3674" stop-color="#00ff86"/><stop offset="0.3895" stop-color="#00ff10"/><stop offset="0.3950" stop-color="#0bff00"/><stop offset="0.4337" stop-color="#e3ff00"/><stop offset="0.4392" stop-color="#feff00"/><stop offset="0.4724" stop-color="#ff8e00"/><stop offset="0.4945" stop-color="#ff5e00"/><stop offset="0.5166" stop-color="#ff4800"/><stop offset="0.5331" stop-color="#ff4e00"/><stop offset="0.5497" stop-color="#ff6300"/><stop offset="0.5773" stop-color="#ffaf00"/><stop offset="0.5939" stop-color="#fff500"/><stop offset="0.5994" stop-color="#f3ff00"/><stop offset="0.6215" stop-color="#77ff00"/><stop offset="0.6381" stop-color="#0bff00"/><stop offset="0.6436" stop-color="#00ff16"/><stop offset="0.6768" stop-color="#00fff2"/><stop offset="0.6823" stop-color="#00e6ff"/><stop offset="0.7210" stop-color="#0007ff"/><stop offset="0.7265" stop-color="#0e00ff"/><stop offset="0.7431" stop-color="#5500ff"/><stop offset="0.7652" stop-color="#9100ff"/><stop offset="0.7873" stop-color="#ac00ff"/><stop offset="0.8094" stop-color="#9c00ff"/><stop offset="0.8260" stop-color="#7600ff"/><stop offset="0.8481" stop-color="#2a00ff"/><stop offset="0.8536" stop-color="#0e00ff"/><stop offset="0.8591" stop-color="#000dff"/><stop offset="0.8757" stop-color="#0064ff"/><stop offset="0.8978" stop-color="#00ecff"/><stop offset="0.9033" stop-color="#00fff2"/><stop offset="0.9365" stop-color="#00ff1b"/><stop offset="0.9420" stop-color="#0bff00"/><stop offset="0.9641" stop-color="#92ff00"/><stop offset="0.9862" stop-color="#fffb00"/><stop offset="0.9972" stop-color="#ffcf00"/></linearGradient><linearGradient id="h58" x1="0" y1="0" x2="0" y2="1"><stop offset="0.0028" stop-color="#ffca00"/><stop offset="0.0193" stop-color="#ff9400"/><stop offset="0.0359" stop-color="#ff6e00"/><stop offset="0.0580" stop-color="#ff5e00"/><stop offset="0.0746" stop-color="#ff6300"/><stop offset="0.0912" stop-color="#ff7900"/><stop offset="0.1077" stop-color="#ff9f00"/><stop offset="0.1354" stop-color="#fff500"/><stop offset="0.1409" stop-color="#f3ff00"/><stop offset="0.1851" stop-color="#00ff05"/><stop offset="0.2182" stop-color="#00ffb1"/><stop offset="0.2348" stop-color="#00fff7"/><stop offset="0.2459" stop-color="#00e1ff"/><stop offset="0.2680" stop-color="#00a5ff"/><stop offset="0.2901" stop-color="#0095ff"/><stop offset="0.3122" stop-color="#00a5ff"/><stop offset="0.3343" stop-color="#00dbff"/><stop offset="0.3453" stop-color="#00fffd"/><stop offset="0.3619" stop-color="#00ffb7"/><stop offset="0.3950" stop-color="#00ff0b"/><stop offset="0.4006" stop-color="#16ff00"/><stop offset="0.4337" stop-color="#d3ff00"/><stop offset="0.4448" stop-color="#fff500"/><stop offset="0.4779" stop-color="#ff8900"/><stop offset="0.5000" stop-color="#ff5800"/><stop offset="0.5221" stop-color="#ff4e00"/><stop offset="0.5442" stop-color="#ff5800"/><stop offset="0.5718" stop-color="#ff9900"/><stop offset="0.5939" stop-color="#fff000"/><stop offset="0.5994" stop-color="#f3ff00"/><stop offset="0.6326" stop-color="#36ff00"/><stop offset="0.6381" stop-color="#10ff00"/><stop offset="0.6436" stop-color="#00ff16"/><stop offset="0.6768" stop-color="#00ffed"/><stop offset="0.6823" stop-color="#00ecff"/><stop offset="0.7044" stop-color="#0064ff"/><stop offset="0.7210" stop-color="#000dff"/><stop offset="0.7265" stop-color="#0e00ff"/><stop offset="0.7376" stop-color="#3f00ff"/><stop offset="0.7541" stop-color="#7600ff"/><stop offset="0.7652" stop-color="#9100ff"/><stop offset="0.7818" stop-color="#a700ff"/><stop offset="0.8039" stop-color="#a100ff"/><stop offset="0.8260" stop-color="#7000ff"/><stop offset="0.8425" stop-color="#3a00ff"/><stop offset="0.8536" stop-color="#0900ff"/><stop offset="0.8646" stop-color="#002dff"/><stop offset="0.8923" stop-color="#00cbff"/><stop offset="0.8978" stop-color="#00f1ff"/><stop offset="0.9033" stop-color="#00ffed"/><stop offset="0.9365" stop-color="#00ff16"/><stop offset="0.9420" stop-color="#10ff00"/><stop offset="0.9641" stop-color="#97ff00"/><stop offset="0.9807" stop-color="#eeff00"/><stop offset="0.9862" stop-color="#fff500"/><stop offset="0.9972" stop-color="#ffca00"/></linearGradient><linearGradient id="h59" x1="0" y1="0" x2="0" y2="1"><stop offset="0.0028" stop-color="#ffc400"/><stop offset="0.0304" stop-color="#ff7900"/><stop offset="0.0525" stop-color="#ff5e00"/><stop offset="0.0746" stop-color="#ff6300"/><stop offset="0.0912" stop-color="#ff7900"/><stop offset="0.1188" stop-color="#ffc400"/><stop offset="0.1354" stop-color="#feff00"/><stop offset="0.1630" stop-color="#6cff00"/><stop offset="0.1796" stop-color="#0bff00"/><stop offset="0.1851" stop-color="#00ff16"/><stop offset="0.2182" stop-color="#00ffc7"/><stop offset="0.2293" stop-color="#00fff7"/><stop offset="0.2403" stop-color="#00d6ff"/><stop offset="0.2624" stop-color="#009aff"/><stop offset="0.2790" stop-color="#007fff"/><stop offset="0.3011" stop-color="#0079ff"/><stop offset="0.3287" stop-color="#00b0ff"/><stop offset="0.3453" stop-color="#00e6ff"/><stop offset="0.3508" stop-color="#00fcff"/><stop offset="0.3674" stop-color="#00ffb7"/><stop offset="0.4006" stop-color="#00ff00"/><stop offset="0.4448" stop-color="#feff00"/><stop offset="0.4779" stop-color="#ff8e00"/><stop offset="0.5000" stop-color="#ff5e00"/><stop offset="0.5221" stop-color="#ff4e00"/><stop offset="0.5387" stop-color="#ff5300"/><stop offset="0.5608" stop-color="#ff7900"/><stop offset="0.5829" stop-color="#ffbf00"/><stop offset="0.5994" stop-color="#f9ff00"/><stop offset="0.6326" stop-color="#3bff00"/><stop offset="0.6381" stop-color="#16ff00"/><stop offset="0.6436" stop-color="#00ff10"/><stop offset="0.6768" stop-color="#00ffe7"/><stop offset="0.6823" stop-color="#00f1ff"/><stop offset="0.7099" stop-color="#0049ff"/><stop offset="0.7210" stop-color="#0012ff"/><stop offset="0.7265" stop-color="#0900ff"/><stop offset="0.7431" stop-color="#5000ff"/><stop offset="0.7652" stop-color="#8b00ff"/><stop offset="0.7873" stop-color="#a700ff"/><stop offset="0.8094" stop-color="#9600ff"/><stop offset="0.8260" stop-color="#7000ff"/><stop offset="0.8425" stop-color="#3a00ff"/><stop offset="0.8536" stop-color="#0900ff"/><stop offset="0.8646" stop-color="#002dff"/><stop offset="0.8978" stop-color="#00f6ff"/><stop offset="0.9033" stop-color="#00ffe7"/><stop offset="0.9365" stop-color="#00ff10"/><stop offset="0.9420" stop-color="#16ff00"/><stop offset="0.9696" stop-color="#bdff00"/><stop offset="0.9807" stop-color="#f3ff00"/><stop offset="0.9862" stop-color="#fff000"/><stop offset="0.9972" stop-color="#ffc400"/></linearGradient><linearGradient id="h60" x1="0" y1="0" x2="0" y2="1"><stop offset="0.0028" stop-color="#ffc400"/><stop offset="0.0193" stop-color="#ff8e00"/><stop offset="0.0414" stop-color="#ff6900"/><stop offset="0.0580" stop-color="#ff5e00"/><stop offset="0.0746" stop-color="#ff6300"/><stop offset="0.0967" stop-color="#ff8900"/><stop offset="0.1243" stop-color="#ffe000"/><stop offset="0.1298" stop-color="#fff500"/><stop offset="0.1354" stop-color="#f3ff00"/><stop offset="0.1630" stop-color="#5cff00"/><stop offset="0.1740" stop-color="#16ff00"/><stop offset="0.1796" stop-color="#00ff0b"/><stop offset="0.2072" stop-color="#00ffa7"/><stop offset="0.2238" stop-color="#00fff7"/><stop offset="0.2348" stop-color="#00d6ff"/><stop offset="0.2514" stop-color="#009aff"/><stop offset="0.2735" stop-color="#0069ff"/><stop offset="0.2901" stop-color="#005eff"/><stop offset="0.3122" stop-color="#006fff"/><stop offset="0.3287" stop-color="#0095ff"/><stop offset="0.3453" stop-color="#00cbff"/><stop offset="0.3564" stop-color="#00fcff"/><stop offset="0.3785" stop-color="#00ff91"/><stop offset="0.4006" stop-color="#00ff16"/><stop offset="0.4061" stop-color="#10ff00"/><stop offset="0.4448" stop-color="#eeff00"/><stop offset="0.4503" stop-color="#fff500"/><stop offset="0.4834" stop-color="#ff8900"/><stop offset="0.5000" stop-color="#ff6300"/><stop offset="0.5276" stop-color="#ff4e00"/><stop offset="0.5552" stop-color="#ff6e00"/><stop offset="0.5773" stop-color="#ffa900"/><stop offset="0.5994" stop-color="#feff00"/><stop offset="0.6271" stop-color="#61ff00"/><stop offset="0.6381" stop-color="#1bff00"/><stop offset="0.6436" stop-color="#00ff0b"/><stop offset="0.6768" stop-color="#00ffe7"/><stop offset="0.6823" stop-color="#00f6ff"/><stop offset="0.7044" stop-color="#0069ff"/><stop offset="0.7210" stop-color="#0012ff"/><stop offset="0.7265" stop-color="#0900ff"/><stop offset="0.7431" stop-color="#5000ff"/><stop offset="0.7652" stop-color="#8b00ff"/><stop offset="0.7818" stop-color="#a100ff"/><stop offset="0.8039" stop-color="#9c00ff"/><stop offset="0.8260" stop-color="#7000ff"/><stop offset="0.8481" stop-color="#1f00ff"/><stop offset="0.8536" stop-color="#0400ff"/><stop offset="0.8757" stop-color="#006fff"/><stop offset="0.8978" stop-color="#00f6ff"/><stop offset="0.9088" stop-color="#00ffbc"/><stop offset="0.9365" stop-color="#00ff05"/><stop offset="0.9751" stop-color="#deff00"/><stop offset="0.9807" stop-color="#f9ff00"/><stop offset="0.9972" stop-color="#ffc400"/></linearGradient><linearGradient id="h61" x1="0" y1="0" x2="0" y2="1"><stop offset="0.0028" stop-color="#ffbf00"/><stop offset="0.0138" stop-color="#ff9900"/><stop offset="0.0304" stop-color="#ff7300"/><stop offset="0.0470" stop-color="#ff5e00"/><stop offset="0.0691" stop-color="#ff6300"/><stop offset="0.0856" stop-color="#ff7900"/><stop offset="0.1022" stop-color="#ff9f00"/><stop offset="0.1298" stop-color="#fffb00"/><stop offset="0.1464" stop-color="#adff00"/><stop offset="0.1740" stop-color="#05ff00"/><stop offset="0.2127" stop-color="#00ffd7"/><stop offset="0.2182" stop-color="#00fff2"/><stop offset="0.2238" stop-color="#00f1ff"/><stop offset="0.2459" stop-color="#0095ff"/><stop offset="0.2680" stop-color="#0059ff"/><stop offset="0.2845" stop-color="#0043ff"/><stop offset="0.3011" stop-color="#0049ff"/><stop offset="0.3177" stop-color="#005eff"/><stop offset="0.3343" stop-color="#008aff"/><stop offset="0.3564" stop-color="#00e6ff"/><stop offset="0.3619" stop-color="#00fffd"/><stop offset="0.3785" stop-color="#00ffa7"/><stop offset="0.4061" stop-color="#00ff05"/><stop offset="0.4503" stop-color="#feff00"/><stop offset="0.4834" stop-color="#ff8e00"/><stop offset="0.5000" stop-color="#ff6900"/><stop offset="0.5110" stop-color="#ff5800"/><stop offset="0.5387" stop-color="#ff5800"/><stop offset="0.5552" stop-color="#ff6e00"/><stop offset="0.5718" stop-color="#ff9400"/><stop offset="0.5939" stop-color="#ffe500"/><stop offset="0.5994" stop-color="#feff00"/><stop offset="0.6160" stop-color="#a8ff00"/><stop offset="0.6436" stop-color="#00ff05"/><stop offset="0.6768" stop-color="#00ffe2"/><stop offset="0.6823" stop-color="#00f6ff"/><stop offset="0.7099" stop-color="#004eff"/><stop offset="0.7210" stop-color="#0012ff"/><stop offset="0.7265" stop-color="#0900ff"/><stop offset="0.7376" stop-color="#3a00ff"/><stop offset="0.7597" stop-color="#8100ff"/><stop offset="0.7818" stop-color="#a100ff"/><stop offset="0.8039" stop-color="#9c00ff"/><stop offset="0.8204" stop-color="#7b00ff"/><stop offset="0.8425" stop-color="#3400ff"/><stop offset="0.8536" stop-color="#0400ff"/><stop offset="0.8702" stop-color="#0053ff"/><stop offset="0.8978" stop-color="#00fcff"/><stop offset="0.9309" stop-color="#00ff26"/><stop offset="0.9365" stop-color="#00ff00"/><stop offset="0.9696" stop-color="#c8ff00"/><stop offset="0.9807" stop-color="#feff00"/><stop offset="0.9917" stop-color="#ffcf00"/><stop offset="0.9972" stop-color="#ffbf00"/></linearGradient><linearGradient id="h62" x1="0" y1="0" x2="0" y2="1"><stop offset="0.0028" stop-color="#ffba00"/><stop offset="0.0249" stop-color="#ff7e00"/><stop offset="0.0470" stop-color="#ff5e00"/><stop offset="0.0691" stop-color="#ff6300"/><stop offset="0.0856" stop-color="#ff7900"/><stop offset="0.1133" stop-color="#ffc400"/><stop offset="0.1298" stop-color="#f9ff00"/><stop offset="0.1685" stop-color="#1bff00"/><stop offset="0.1740" stop-color="#00ff0b"/><stop offset="0.2017" stop-color="#00ffb1"/><stop offset="0.2127" stop-color="#00ffed"/><stop offset="0.2182" stop-color="#00f6ff"/><stop offset="0.2403" stop-color="#008fff"/><stop offset="0.2569" stop-color="#0059ff"/><stop offset="0.2735" stop-color="#0038ff"/><stop offset="0.2901" stop-color="#0028ff"/><stop offset="0.3066" stop-color="#0033ff"/><stop offset="0.3287" stop-color="#0064ff"/><stop offset="0.3453" stop-color="#009aff"/><stop offset="0.3619" stop-color="#00e6ff"/><stop offset="0.3674" stop-color="#00fff7"/><stop offset="0.4006" stop-color="#00ff3b"/><stop offset="0.4061" stop-color="#00ff16"/><stop offset="0.4116" stop-color="#0bff00"/><stop offset="0.4503" stop-color="#f3ff00"/><stop offset="0.4558" stop-color="#fff500"/><stop offset="0.4834" stop-color="#ff9400"/><stop offset="0.5055" stop-color="#ff6300"/><stop offset="0.5276" stop-color="#ff5300"/><stop offset="0.5497" stop-color="#ff6300"/><stop offset="0.5718" stop-color="#ff9400"/><stop offset="0.5939" stop-color="#ffe000"/><stop offset="0.5994" stop-color="#fffb00"/><stop offset="0.6160" stop-color="#adff00"/><stop offset="0.6436" stop-color="#00ff00"/><stop offset="0.6768" stop-color="#00ffdc"/><stop offset="0.6823" stop-color="#00fcff"/><stop offset="0.7099" stop-color="#004eff"/><stop offset="0.7265" stop-color="#0400ff"/><stop offset="0.7486" stop-color="#6000ff"/><stop offset="0.7652" stop-color="#8b00ff"/><stop offset="0.7818" stop-color="#a100ff"/><stop offset="0.8039" stop-color="#9c00ff"/><stop offset="0.8260" stop-color="#6b00ff"/><stop offset="0.8536" stop-color="#0002ff"/><stop offset="0.8702" stop-color="#0059ff"/><stop offset="0.8978" stop-color="#00fffd"/><stop offset="0.9365" stop-color="#05ff00"/><stop offset="0.9751" stop-color="#eeff00"/><stop offset="0.9807" stop-color="#fffb00"/><stop offset="0.9972" stop-color="#ffba00"/></linearGradient><linearGradient id="h63" x1="0" y1="0" x2="0" y2="1"><stop offset="0.0028" stop-color="#ffb400"/><stop offset="0.0249" stop-color="#ff7900"/><stop offset="0.0470" stop-color="#ff5e00"/><stop offset="0.0691" stop-color="#ff6300"/><stop offset="0.0912" stop-color="#ff8900"/><stop offset="0.1188" stop-color="#ffe000"/><stop offset="0.1243" stop-color="#fff500"/><stop offset="0.1298" stop-color="#f3ff00"/><stop offset="0.1685" stop-color="#0bff00"/><stop offset="0.1740" stop-color="#00ff1b"/><stop offset="0.2127" stop-color="#00fcff"/><stop offset="0.2403" stop-color="#0079ff"/><stop offset="0.2624" stop-color="#0033ff"/><stop offset="0.2790" stop-color="#0018ff"/><stop offset="0.2956" stop-color="#0012ff"/><stop offset="0.3177" stop-color="#002dff"/><stop offset="0.3398" stop-color="#006fff"/><stop offset="0.3619" stop-color="#00d0ff"/><stop offset="0.3674" stop-color="#00f1ff"/><stop offset="0.3729" stop-color="#00fff2"/><stop offset="0.4061" stop-color="#00ff2b"/><stop offset="0.4116" stop-color="#00ff05"/><stop offset="0.4171" stop-color="#1bff00"/><stop offset="0.4448" stop-color="#c8ff00"/><stop offset="0.4558" stop-color="#feff00"/><stop offset="0.4779" stop-color="#ffaf00"/><stop offset="0.5000" stop-color="#ff7300"/><stop offset="0.5221" stop-color="#ff5800"/><stop offset="0.5442" stop-color="#ff5e00"/><stop offset="0.5663" stop-color="#ff8400"/><stop offset="0.5884" stop-color="#ffca00"/><stop offset="0.5994" stop-color="#fff500"/><stop offset="0.6105" stop-color="#d3ff00"/><stop offset="0.6381" stop-color="#2bff00"/><stop offset="0.6436" stop-color="#05ff00"/><stop offset="0.6823" stop-color="#00fcff"/><stop offset="0.7155" stop-color="#0033ff"/><stop offset="0.7265" stop-color="#0400ff"/><stop offset="0.7486" stop-color="#6000ff"/><stop offset="0.7707" stop-color="#9600ff"/><stop offset="0.7873" stop-color="#a100ff"/><stop offset="0.8039" stop-color="#9c00ff"/><stop offset="0.8260" stop-color="#6b00ff"/><stop offset="0.8536" stop-color="#0002ff"/><stop offset="0.8812" stop-color="#009aff"/><stop offset="0.8923" stop-color="#00e1ff"/><stop offset="0.8978" stop-color="#00fff7"/><stop offset="0.9309" stop-color="#00ff1b"/><stop offset="0.9365" stop-color="#0bff00"/><stop offset="0.9641" stop-color="#b8ff00"/><stop offset="0.9751" stop-color="#f3ff00"/><stop offset="0.9807" stop-color="#fff500"/><stop offset="0.9972" stop-color="#ffb400"/></linearGradient><linearGradient id="h64" x1="0" y1="0" x2="0" y2="1"><stop offset="0.0028" stop-color="#ffaf00"/><stop offset="0.0193" stop-color="#ff8400"/><stop offset="0.0359" stop-color="#ff6900"/><stop offset="0.0525" stop-color="#ff5e00"/><stop offset="0.0746" stop-color="#ff6e00"/><stop offset="0.0967" stop-color="#ff9f00"/><stop offset="0.1243" stop-color="#fffb00"/><stop offset="0.1354" stop-color="#c8ff00"/><stop offset="0.1685" stop-color="#00ff05"/><stop offset="0.1961" stop-color="#00ffb1"/><stop offset="0.2072" stop-color="#00fff2"/><stop offset="0.2127" stop-color="#00ecff"/><stop offset="0.2293" stop-color="#0095ff"/><stop offset="0.2459" stop-color="#004eff"/><stop offset="0.2680" stop-color="#0012ff"/><stop offset="0.2790" stop-color="#0002ff"/><stop offset="0.3066" stop-color="#0002ff"/><stop offset="0.3287" stop-color="#0033ff"/><stop offset="0.3453" stop-color="#006fff"/><stop offset="0.3729" stop-color="#00f6ff"/><stop offset="0.3840" stop-color="#00ffc7"/><stop offset="0.4116" stop-color="#00ff16"/><stop offset="0.4171" stop-color="#0bff00"/><stop offset="0.4448" stop-color="#b8ff00"/><stop offset="0.4558" stop-color="#f9ff00"/><stop offset="0.4834" stop-color="#ffa400"/><stop offset="0.5055" stop-color="#ff6e00"/><stop offset="0.5276" stop-color="#ff5800"/><stop offset="0.5442" stop-color="#ff5e00"/><stop offset="0.5608" stop-color="#ff7300"/><stop offset="0.5829" stop-color="#ffaf00"/><stop offset="0.5994" stop-color="#fff000"/><stop offset="0.6050" stop-color="#f3ff00"/><stop offset="0.6271" stop-color="#77ff00"/><stop offset="0.6436" stop-color="#0bff00"/><stop offset="0.6492" stop-color="#00ff1b"/><stop offset="0.6823" stop-color="#00fffd"/><stop offset="0.7099" stop-color="#0053ff"/><stop offset="0.7265" stop-color="#0400ff"/><stop offset="0.7431" stop-color="#4a00ff"/><stop offset="0.7541" stop-color="#7000ff"/><stop offset="0.7762" stop-color="#9c00ff"/><stop offset="0.7983" stop-color="#9c00ff"/><stop offset="0.8149" stop-color="#8600ff"/><stop offset="0.8260" stop-color="#6b00ff"/><stop offset="0.8425" stop-color="#2f00ff"/><stop offset="0.8536" stop-color="#0007ff"/><stop offset="0.8757" stop-color="#007fff"/><stop offset="0.8923" stop-color="#00e6ff"/><stop offset="0.8978" stop-color="#00fff2"/><stop offset="0.9309" stop-color="#00ff16"/><stop offset="0.9365" stop-color="#10ff00"/><stop offset="0.9530" stop-color="#7cff00"/><stop offset="0.9751" stop-color="#f9ff00"/><stop offset="0.9972" stop-color="#ffaf00"/></linearGradient><linearGradient id="h65" x1="0" y1="0" x2="0" y2="1"><stop offset="0.0028" stop-color="#ffa900"/><stop offset="0.0249" stop-color="#ff7300"/><stop offset="0.0359" stop-color="#ff6300"/><stop offset="0.0635" stop-color="#ff6300"/><stop offset="0.0801" stop-color="#ff7900"/><stop offset="0.1077" stop-color="#ffc400"/><stop offset="0.1243" stop-color="#f9ff00"/><stop offset="0.1464" stop-color="#7cff00"/><stop offset="0.1630" stop-color="#10ff00"/><stop offset="0.1685" stop-color="#00ff16"/><stop offset="0.2017" stop-color="#00ffe7"/><stop offset="0.2072" stop-color="#00f6ff"/><stop offset="0.2348" stop-color="#0069ff"/><stop offset="0.2569" stop-color="#0018ff"/><stop offset="0.2680" stop-color="#0400ff"/><stop offset="0.2845" stop-color="#1900ff"/><stop offset="0.3066" stop-color="#1400ff"/><stop offset="0.3177" stop-color="#0002ff"/><stop offset="0.3343" stop-color="#002dff"/><stop offset="0.3564" stop-color="#008aff"/><stop offset="0.3729" stop-color="#00e6ff"/><stop offset="0.3785" stop-color="#00fff7"/><stop offset="0.4061" stop-color="#00ff4b"/><stop offset="0.4171" stop-color="#00ff05"/><stop offset="0.4558" stop-color="#eeff00"/><stop offset="0.4613" stop-color="#fffb00"/><stop offset="0.4834" stop-color="#ffa900"/><stop offset="0.5055" stop-color="#ff7300"/><stop offset="0.5276" stop-color="#ff5800"/><stop offset="0.5552" stop-color="#ff6900"/><stop offset="0.5718" stop-color="#ff8e00"/><stop offset="0.5939" stop-color="#ffd500"/><stop offset="0.6050" stop-color="#f9ff00"/><stop offset="0.6271" stop-color="#7cff00"/><stop offset="0.6436" stop-color="#10ff00"/><stop offset="0.6492" stop-color="#00ff16"/><stop offset="0.6823" stop-color="#00fff7"/><stop offset="0.6934" stop-color="#00c0ff"/><stop offset="0.7155" stop-color="#0038ff"/><stop offset="0.7265" stop-color="#0002ff"/><stop offset="0.7541" stop-color="#6b00ff"/><stop offset="0.7707" stop-color="#9100ff"/><stop offset="0.7928" stop-color="#a100ff"/><stop offset="0.8149" stop-color="#8600ff"/><stop offset="0.8370" stop-color="#3f00ff"/><stop offset="0.8536" stop-color="#0007ff"/><stop offset="0.8867" stop-color="#00c6ff"/><stop offset="0.8923" stop-color="#00ecff"/><stop offset="0.8978" stop-color="#00ffed"/><stop offset="0.9309" stop-color="#00ff0b"/><stop offset="0.9365" stop-color="#1bff00"/><stop offset="0.9641" stop-color="#c8ff00"/><stop offset="0.9751" stop-color="#feff00"/><stop offset="0.9972" stop-color="#ffa900"/></linearGradient><linearGradient id="h66" x1="0" y1="0" x2="0" y2="1"><stop offset="0.0028" stop-color="#ffa400"/><stop offset="0.0304" stop-color="#ff6900"/><stop offset="0.0470" stop-color="#ff5e00"/><stop offset="0.0635" stop-color="#ff6300"/><stop offset="0.0912" stop-color="#ff9400"/><stop offset="0.1188" stop-color="#fff500"/><stop offset="0.1243" stop-color="#f3ff00"/><stop offset="0.1519" stop-color="#4cff00"/><stop offset="0.1630" stop-color="#05ff00"/><stop offset="0.2017" stop-color="#00fff7"/><stop offset="0.2127" stop-color="#00c6ff"/><stop offset="0.2348" stop-color="#0053ff"/><stop offset="0.2569" stop-color="#0002ff"/><stop offset="0.2790" stop-color="#2a00ff"/><stop offset="0.3066" stop-color="#2a00ff"/><stop offset="0.3232" stop-color="#0900ff"/><stop offset="0.3287" stop-color="#0007ff"/><stop offset="0.3453" stop-color="#0043ff"/><stop offset="0.3729" stop-color="#00d0ff"/><stop offset="0.3785" stop-color="#00f1ff"/><stop offset="0.3840" stop-color="#00ffed"/><stop offset="0.4171" stop-color="#00ff16"/><stop offset="0.4227" stop-color="#10ff00"/><stop offset="0.4503" stop-color="#c3ff00"/><stop offset="0.4613" stop-color="#feff00"/><stop offset="0.4945" stop-color="#ff8e00"/><stop offset="0.5166" stop-color="#ff6900"/><stop offset="0.5331" stop-color="#ff5e00"/><stop offset="0.5497" stop-color="#ff6300"/><stop offset="0.5718" stop-color="#ff8900"/><stop offset="0.5994" stop-color="#ffe500"/><stop offset="0.6050" stop-color="#feff00"/><stop offset="0.6215" stop-color="#a8ff00"/><stop offset="0.6436" stop-color="#16ff00"/><stop offset="0.6492" stop-color="#00ff10"/><stop offset="0.6823" stop-color="#00fff2"/><stop offset="0.6878" stop-color="#00e6ff"/><stop offset="0.7155" stop-color="#003eff"/><stop offset="0.7265" stop-color="#0002ff"/><stop offset="0.7541" stop-color="#6b00ff"/><stop offset="0.7707" stop-color="#9100ff"/><stop offset="0.7873" stop-color="#9c00ff"/><stop offset="0.8039" stop-color="#9600ff"/><stop offset="0.8260" stop-color="#6500ff"/><stop offset="0.8370" stop-color="#3f00ff"/><stop offset="0.8481" stop-color="#0e00ff"/><stop offset="0.8536" stop-color="#000dff"/><stop offset="0.8812" stop-color="#00aaff"/><stop offset="0.8923" stop-color="#00f1ff"/><stop offset="0.8978" stop-color="#00ffe7"/><stop offset="0.9309" stop-color="#00ff05"/><stop offset="0.9586" stop-color="#adff00"/><stop offset="0.9696" stop-color="#eeff00"/><stop offset="0.9751" stop-color="#fff500"/><stop offset="0.9972" stop-color="#ffa400"/></linearGradient><linearGradient id="h67" x1="0" y1="0" x2="0" y2="1"><stop offset="0.0028" stop-color="#ffa400"/><stop offset="0.0249" stop-color="#ff6e00"/><stop offset="0.0470" stop-color="#ff5e00"/><stop offset="0.0635" stop-color="#ff6300"/><stop offset="0.0856" stop-color="#ff8900"/><stop offset="0.1077" stop-color="#ffcf00"/><stop offset="0.1188" stop-color="#fffb00"/><stop offset="0.1298" stop-color="#cdff00"/><stop offset="0.1575" stop-color="#1bff00"/><stop offset="0.1630" stop-color="#00ff0b"/><stop offset="0.1961" stop-color="#00ffe2"/><stop offset="0.2017" stop-color="#00f6ff"/><stop offset="0.2238" stop-color="#0079ff"/><stop offset="0.2459" stop-color="#0012ff"/><stop offset="0.2514" stop-color="#0002ff"/><stop offset="0.2735" stop-color="#3400ff"/><stop offset="0.2845" stop-color="#4500ff"/><stop offset="0.3011" stop-color="#3f00ff"/><stop offset="0.3177" stop-color="#2a00ff"/><stop offset="0.3287" stop-color="#0900ff"/><stop offset="0.3343" stop-color="#0007ff"/><stop offset="0.3564" stop-color="#0064ff"/><stop offset="0.3840" stop-color="#00fffd"/><stop offset="0.4227" stop-color="#00ff00"/><stop offset="0.4448" stop-color="#92ff00"/><stop offset="0.4613" stop-color="#f3ff00"/><stop offset="0.4669" stop-color="#fff500"/><stop offset="0.4890" stop-color="#ffa400"/><stop offset="0.5166" stop-color="#ff6900"/><stop offset="0.5331" stop-color="#ff5e00"/><stop offset="0.5497" stop-color="#ff6300"/><stop offset="0.5718" stop-color="#ff8900"/><stop offset="0.5994" stop-color="#ffe000"/><stop offset="0.6050" stop-color="#fffb00"/><stop offset="0.6105" stop-color="#eeff00"/><stop offset="0.6492" stop-color="#00ff05"/><stop offset="0.6823" stop-color="#00ffed"/><stop offset="0.6878" stop-color="#00ecff"/><stop offset="0.7155" stop-color="#0043ff"/><stop offset="0.7265" stop-color="#0007ff"/><stop offset="0.7320" stop-color="#0e00ff"/><stop offset="0.7486" stop-color="#5500ff"/><stop offset="0.7652" stop-color="#8100ff"/><stop offset="0.7873" stop-color="#9c00ff"/><stop offset="0.8039" stop-color="#9100ff"/><stop offset="0.8260" stop-color="#6000ff"/><stop offset="0.8425" stop-color="#2400ff"/><stop offset="0.8481" stop-color="#0900ff"/><stop offset="0.8591" stop-color="#002dff"/><stop offset="0.8867" stop-color="#00d6ff"/><stop offset="0.8923" stop-color="#00fcff"/><stop offset="0.9309" stop-color="#05ff00"/><stop offset="0.9586" stop-color="#b8ff00"/><stop offset="0.9696" stop-color="#f3ff00"/><stop offset="0.9751" stop-color="#fff000"/><stop offset="0.9917" stop-color="#ffb400"/><stop offset="0.9972" stop-color="#ffa400"/></linearGradient><linearGradient id="h68" x1="0" y1="0" x2="0" y2="1"><stop offset="0.0028" stop-color="#ff9f00"/><stop offset="0.0193" stop-color="#ff7300"/><stop offset="0.0359" stop-color="#ff5e00"/><stop offset="0.0580" stop-color="#ff6300"/><stop offset="0.0746" stop-color="#ff7900"/><stop offset="0.0912" stop-color="#ff9f00"/><stop offset="0.1077" stop-color="#ffd500"/><stop offset="0.1188" stop-color="#feff00"/><stop offset="0.1354" stop-color="#a2ff00"/><stop offset="0.1575" stop-color="#10ff00"/><stop offset="0.1630" stop-color="#00ff16"/><stop offset="0.1961" stop-color="#00fff2"/><stop offset="0.2017" stop-color="#00e6ff"/><stop offset="0.2293" stop-color="#0049ff"/><stop offset="0.2459" stop-color="#0002ff"/><stop offset="0.2680" stop-color="#3f00ff"/><stop offset="0.2901" stop-color="#5a00ff"/><stop offset="0.3122" stop-color="#4a00ff"/><stop offset="0.3343" stop-color="#0e00ff"/><stop offset="0.3398" stop-color="#0007ff"/><stop offset="0.3674" stop-color="#008aff"/><stop offset="0.3840" stop-color="#00f1ff"/><stop offset="0.3895" stop-color="#00ffed"/><stop offset="0.4227" stop-color="#00ff0b"/><stop offset="0.4282" stop-color="#1bff00"/><stop offset="0.4558" stop-color="#c8ff00"/><stop offset="0.4669" stop-color="#fffb00"/><stop offset="0.4945" stop-color="#ff9900"/><stop offset="0.5110" stop-color="#ff7300"/><stop offset="0.5387" stop-color="#ff5e00"/><stop offset="0.5552" stop-color="#ff6900"/><stop offset="0.5663" stop-color="#ff7900"/><stop offset="0.5884" stop-color="#ffb400"/><stop offset="0.5994" stop-color="#ffda00"/><stop offset="0.6050" stop-color="#fff500"/><stop offset="0.6105" stop-color="#f3ff00"/><stop offset="0.6381" stop-color="#4cff00"/><stop offset="0.6492" stop-color="#00ff00"/><stop offset="0.6823" stop-color="#00ffe2"/><stop offset="0.6878" stop-color="#00f6ff"/><stop offset="0.7155" stop-color="#0049ff"/><stop offset="0.7265" stop-color="#0012ff"/><stop offset="0.7320" stop-color="#0900ff"/><stop offset="0.7486" stop-color="#5000ff"/><stop offset="0.7707" stop-color="#8600ff"/><stop offset="0.7873" stop-color="#9600ff"/><stop offset="0.8039" stop-color="#8b00ff"/><stop offset="0.8260" stop-color="#5a00ff"/><stop offset="0.8481" stop-color="#0400ff"/><stop offset="0.8702" stop-color="#0074ff"/><stop offset="0.8923" stop-color="#00fffd"/><stop offset="0.9254" stop-color="#00ff16"/><stop offset="0.9309" stop-color="#10ff00"/><stop offset="0.9586" stop-color="#c3ff00"/><stop offset="0.9696" stop-color="#feff00"/><stop offset="0.9917" stop-color="#ffaf00"/><stop offset="0.9972" stop-color="#ff9f00"/></linearGradient><linearGradient id="h69" x1="0" y1="0" x2="0" y2="1"><stop offset="0.0028" stop-color="#ff9900"/><stop offset="0.0249" stop-color="#ff6900"/><stop offset="0.0414" stop-color="#ff5e00"/><stop offset="0.0580" stop-color="#ff6300"/><stop offset="0.0746" stop-color="#ff7900"/><stop offset="0.0912" stop-color="#ff9f00"/><stop offset="0.1188" stop-color="#f9ff00"/><stop offset="0.1519" stop-color="#2bff00"/><stop offset="0.1575" stop-color="#05ff00"/><stop offset="0.1630" stop-color="#00ff20"/><stop offset="0.1906" stop-color="#00ffe2"/><stop offset="0.1961" stop-color="#00fcff"/><stop offset="0.2238" stop-color="#0053ff"/><stop offset="0.2403" stop-color="#0002ff"/><stop offset="0.2624" stop-color="#4a00ff"/><stop offset="0.2790" stop-color="#6500ff"/><stop offset="0.2956" stop-color="#7000ff"/><stop offset="0.3177" stop-color="#5000ff"/><stop offset="0.3343" stop-color="#2400ff"/><stop offset="0.3453" stop-color="#0007ff"/><stop offset="0.3674" stop-color="#0079ff"/><stop offset="0.3895" stop-color="#00fffd"/><stop offset="0.4227" stop-color="#00ff1b"/><stop offset="0.4282" stop-color="#0bff00"/><stop offset="0.4558" stop-color="#bdff00"/><stop offset="0.4669" stop-color="#f9ff00"/><stop offset="0.4945" stop-color="#ff9f00"/><stop offset="0.5166" stop-color="#ff6e00"/><stop offset="0.5387" stop-color="#ff5e00"/><stop offset="0.5608" stop-color="#ff6e00"/><stop offset="0.5884" stop-color="#ffaf00"/><stop offset="0.6105" stop-color="#f9ff00"/><stop offset="0.6271" stop-color="#9dff00"/><stop offset="0.6492" stop-color="#0bff00"/><stop offset="0.6547" stop-color="#00ff1b"/><stop offset="0.6878" stop-color="#00fcff"/><stop offset="0.7210" stop-color="#0033ff"/><stop offset="0.7320" stop-color="#0400ff"/><stop offset="0.7541" stop-color="#5500ff"/><stop offset="0.7652" stop-color="#7600ff"/><stop offset="0.7818" stop-color="#8b00ff"/><stop offset="0.8039" stop-color="#8100ff"/><stop offset="0.8204" stop-color="#6000ff"/><stop offset="0.8425" stop-color="#1400ff"/><stop offset="0.8481" stop-color="#0007ff"/><stop offset="0.8702" stop-color="#007fff"/><stop offset="0.8867" stop-color="#00e6ff"/><stop offset="0.8923" stop-color="#00fff2"/><stop offset="0.9254" stop-color="#00ff0b"/><stop offset="0.9309" stop-color="#1bff00"/><stop offset="0.9641" stop-color="#eeff00"/><stop offset="0.9696" stop-color="#fffb00"/><stop offset="0.9917" stop-color="#ffa900"/><stop offset="0.9972" stop-color="#ff9900"/></linearGradient><linearGradient id="h70" x1="0" y1="0" x2="0" y2="1"><stop offset="0.0028" stop-color="#ff9400"/><stop offset="0.0193" stop-color="#ff6e00"/><stop offset="0.0414" stop-color="#ff5800"/><stop offset="0.0691" stop-color="#ff6e00"/><stop offset="0.0967" stop-color="#ffb400"/><stop offset="0.1133" stop-color="#fff500"/><stop offset="0.1188" stop-color="#f3ff00"/><stop offset="0.1464" stop-color="#46ff00"/><stop offset="0.1519" stop-color="#20ff00"/><stop offset="0.1575" stop-color="#00ff0b"/><stop offset="0.1906" stop-color="#00ffed"/><stop offset="0.1961" stop-color="#00ecff"/><stop offset="0.2127" stop-color="#007fff"/><stop offset="0.2348" stop-color="#000dff"/><stop offset="0.2403" stop-color="#0e00ff"/><stop offset="0.2569" stop-color="#4a00ff"/><stop offset="0.2735" stop-color="#7600ff"/><stop offset="0.2901" stop-color="#8100ff"/><stop offset="0.3066" stop-color="#7b00ff"/><stop offset="0.3287" stop-color="#4a00ff"/><stop offset="0.3453" stop-color="#0900ff"/><stop offset="0.3508" stop-color="#000dff"/><stop offset="0.3840" stop-color="#00cbff"/><stop offset="0.3895" stop-color="#00f1ff"/><stop offset="0.3950" stop-color="#00ffe7"/><stop offset="0.4282" stop-color="#00ff05"/><stop offset="0.4558" stop-color="#b2ff00"/><stop offset="0.4669" stop-color="#f3ff00"/><stop offset="0.4724" stop-color="#fff500"/><stop offset="0.4945" stop-color="#ffa400"/><stop offset="0.5166" stop-color="#ff7300"/><stop offset="0.5387" stop-color="#ff6300"/><stop offset="0.5552" stop-color="#ff6900"/><stop offset="0.5773" stop-color="#ff8e00"/><stop offset="0.6050" stop-color="#ffe500"/><stop offset="0.6105" stop-color="#feff00"/><stop offset="0.6215" stop-color="#c8ff00"/><stop offset="0.6492" stop-color="#16ff00"/><stop offset="0.6547" stop-color="#00ff10"/><stop offset="0.6878" stop-color="#00fff7"/><stop offset="0.6934" stop-color="#00e6ff"/><stop offset="0.7099" stop-color="#0079ff"/><stop offset="0.7320" stop-color="#0007ff"/><stop offset="0.7486" stop-color="#3a00ff"/><stop offset="0.7597" stop-color="#6000ff"/><stop offset="0.7762" stop-color="#7b00ff"/><stop offset="0.7983" stop-color="#8100ff"/><stop offset="0.8260" stop-color="#4a00ff"/><stop offset="0.8425" stop-color="#0900ff"/><stop offset="0.8536" stop-color="#002dff"/><stop offset="0.8757" stop-color="#00aaff"/><stop offset="0.8867" stop-color="#00f1ff"/><stop offset="0.8923" stop-color="#00ffe7"/><stop offset="0.9254" stop-color="#00ff00"/><stop offset="0.9586" stop-color="#d8ff00"/><stop offset="0.9641" stop-color="#f3ff00"/><stop offset="0.9696" stop-color="#fff000"/><stop offset="0.9862" stop-color="#ffb400"/><stop offset="0.9972" stop-color="#ff9400"/></linearGradient><linearGradient id="h71" x1="0" y1="0" x2="0" y2="1"><stop offset="0.0028" stop-color="#ff8e00"/><stop offset="0.0138" stop-color="#ff7300"/><stop offset="0.0304" stop-color="#ff5e00"/><stop offset="0.0470" stop-color="#ff5800"/><stop offset="0.0691" stop-color="#ff7300"/><stop offset="0.0912" stop-color="#ffa900"/><stop offset="0.1133" stop-color="#fffb00"/><stop offset="0.1188" stop-color="#eeff00"/><stop offset="0.1519" stop-color="#16ff00"/><stop offset="0.1575" stop-color="#00ff16"/><stop offset="0.1906" stop-color="#00fffd"/><stop offset="0.2182" stop-color="#004eff"/><stop offset="0.2293" stop-color="#0012ff"/><stop offset="0.2348" stop-color="#0900ff"/><stop offset="0.2459" stop-color="#3a00ff"/><stop offset="0.2624" stop-color="#7000ff"/><stop offset="0.2845" stop-color="#9600ff"/><stop offset="0.3066" stop-color="#9100ff"/><stop offset="0.3232" stop-color="#6b00ff"/><stop offset="0.3453" stop-color="#1f00ff"/><stop offset="0.3508" stop-color="#0400ff"/><stop offset="0.3674" stop-color="#0053ff"/><stop offset="0.3895" stop-color="#00e1ff"/><stop offset="0.3950" stop-color="#00fff7"/><stop offset="0.4282" stop-color="#00ff10"/><stop offset="0.4337" stop-color="#16ff00"/><stop offset="0.4669" stop-color="#eeff00"/><stop offset="0.4724" stop-color="#fffb00"/><stop offset="0.4945" stop-color="#ffa900"/><stop offset="0.5110" stop-color="#ff7e00"/><stop offset="0.5331" stop-color="#ff6300"/><stop offset="0.5552" stop-color="#ff6900"/><stop offset="0.5718" stop-color="#ff7e00"/><stop offset="0.5939" stop-color="#ffba00"/><stop offset="0.6105" stop-color="#fff500"/><stop offset="0.6160" stop-color="#eeff00"/><stop offset="0.6547" stop-color="#00ff05"/><stop offset="0.6878" stop-color="#00ffed"/><stop offset="0.6934" stop-color="#00f1ff"/><stop offset="0.7210" stop-color="#0049ff"/><stop offset="0.7320" stop-color="#0012ff"/><stop offset="0.7376" stop-color="#0900ff"/><stop offset="0.7541" stop-color="#4500ff"/><stop offset="0.7707" stop-color="#6b00ff"/><stop offset="0.7873" stop-color="#7600ff"/><stop offset="0.8039" stop-color="#7000ff"/><stop offset="0.8260" stop-color="#3a00ff"/><stop offset="0.8425" stop-color="#0002ff"/><stop offset="0.8646" stop-color="#0074ff"/><stop offset="0.8867" stop-color="#00fcff"/><stop offset="0.9199" stop-color="#00ff1b"/><stop offset="0.9254" stop-color="#0bff00"/><stop offset="0.9586" stop-color="#e3ff00"/><stop offset="0.9641" stop-color="#feff00"/><stop offset="0.9862" stop-color="#ffaf00"/><stop offset="0.9972" stop-color="#ff8e00"/></linearGradient><linearGradient id="h72" x1="0" y1="0" x2="0" y2="1"><stop offset="0.0028" stop-color="#ff8900"/><stop offset="0.0249" stop-color="#ff6300"/><stop offset="0.0414" stop-color="#ff5800"/><stop offset="0.0635" stop-color="#ff6900"/><stop offset="0.0856" stop-color="#ff9900"/><stop offset="0.1077" stop-color="#ffe500"/><stop offset="0.1133" stop-color="#feff00"/><stop offset="0.1298" stop-color="#a2ff00"/><stop offset="0.1519" stop-color="#0bff00"/><stop offset="0.1575" stop-color="#00ff20"/><stop offset="0.1851" stop-color="#00ffe7"/><stop offset="0.1906" stop-color="#00f1ff"/><stop offset="0.2182" stop-color="#003eff"/><stop offset="0.2293" stop-color="#0002ff"/><stop offset="0.2514" stop-color="#6000ff"/><stop offset="0.2735" stop-color="#9c00ff"/><stop offset="0.2956" stop-color="#ac00ff"/><stop offset="0.3177" stop-color="#9100ff"/><stop offset="0.3398" stop-color="#4a00ff"/><stop offset="0.3564" stop-color="#0007ff"/><stop offset="0.3785" stop-color="#0084ff"/><stop offset="0.3950" stop-color="#00f6ff"/><stop offset="0.4061" stop-color="#00ffbc"/><stop offset="0.4282" stop-color="#00ff20"/><stop offset="0.4337" stop-color="#0bff00"/><stop offset="0.4669" stop-color="#e3ff00"/><stop offset="0.4724" stop-color="#feff00"/><stop offset="0.4945" stop-color="#ffaf00"/><stop offset="0.5110" stop-color="#ff8400"/><stop offset="0.5331" stop-color="#ff6300"/><stop offset="0.5552" stop-color="#ff6900"/><stop offset="0.5718" stop-color="#ff7e00"/><stop offset="0.5939" stop-color="#ffb400"/><stop offset="0.6160" stop-color="#f9ff00"/><stop offset="0.6492" stop-color="#2bff00"/><stop offset="0.6547" stop-color="#05ff00"/><stop offset="0.6934" stop-color="#00fcff"/><stop offset="0.7155" stop-color="#0074ff"/><stop offset="0.7320" stop-color="#001dff"/><stop offset="0.7376" stop-color="#0007ff"/><stop offset="0.7541" stop-color="#3400ff"/><stop offset="0.7762" stop-color="#6500ff"/><stop offset="0.7928" stop-color="#6b00ff"/><stop offset="0.8094" stop-color="#5500ff"/><stop offset="0.8260" stop-color="#2f00ff"/><stop offset="0.8370" stop-color="#0400ff"/><stop offset="0.8481" stop-color="#002dff"/><stop offset="0.8702" stop-color="#00a5ff"/><stop offset="0.8812" stop-color="#00e6ff"/><stop offset="0.8867" stop-color="#00fff2"/><stop offset="0.9199" stop-color="#00ff10"/><stop offset="0.9254" stop-color="#16ff00"/><stop offset="0.9530" stop-color="#cdff00"/><stop offset="0.9586" stop-color="#eeff00"/><stop offset="0.9641" stop-color="#fffb00"/><stop offset="0.9751" stop-color="#ffcf00"/><stop offset="0.9972" stop-color="#ff8900"/></linearGradient><linearGradient id="h73" x1="0" y1="0" x2="0" y2="1"><stop offset="0.0028" stop-color="#ff8400"/><stop offset="0.0249" stop-color="#ff5e00"/><stop offset="0.0470" stop-color="#ff5800"/><stop offset="0.0691" stop-color="#ff7300"/><stop offset="0.0967" stop-color="#ffbf00"/><stop offset="0.1133" stop-color="#feff00"/><stop offset="0.1354" stop-color="#72ff00"/><stop offset="0.1519" stop-color="#00ff00"/><stop offset="0.1851" stop-color="#00fff2"/><stop offset="0.1906" stop-color="#00e6ff"/><stop offset="0.2182" stop-color="#002dff"/><stop offset="0.2238" stop-color="#0012ff"/><stop offset="0.2293" stop-color="#0e00ff"/><stop offset="0.2459" stop-color="#5a00ff"/><stop offset="0.2624" stop-color="#9600ff"/><stop offset="0.2845" stop-color="#bc00ff"/><stop offset="0.3066" stop-color="#b700ff"/><stop offset="0.3287" stop-color="#8100ff"/><stop offset="0.3453" stop-color="#4500ff"/><stop offset="0.3564" stop-color="#0e00ff"/><stop offset="0.3619" stop-color="#0012ff"/><stop offset="0.3840" stop-color="#009aff"/><stop offset="0.3950" stop-color="#00e6ff"/><stop offset="0.4006" stop-color="#00fff2"/><stop offset="0.4337" stop-color="#00ff05"/><stop offset="0.4613" stop-color="#b8ff00"/><stop offset="0.4724" stop-color="#f9ff00"/><stop offset="0.5000" stop-color="#ffa400"/><stop offset="0.5221" stop-color="#ff7300"/><stop offset="0.5442" stop-color="#ff6300"/><stop offset="0.5718" stop-color="#ff7900"/><stop offset="0.5994" stop-color="#ffbf00"/><stop offset="0.6160" stop-color="#feff00"/><stop offset="0.6381" stop-color="#82ff00"/><stop offset="0.6547" stop-color="#10ff00"/><stop offset="0.6602" stop-color="#00ff16"/><stop offset="0.6934" stop-color="#00fff2"/><stop offset="0.6989" stop-color="#00e6ff"/><stop offset="0.7265" stop-color="#0049ff"/><stop offset="0.7431" stop-color="#0002ff"/><stop offset="0.7652" stop-color="#3f00ff"/><stop offset="0.7762" stop-color="#5500ff"/><stop offset="0.7983" stop-color="#5500ff"/><stop offset="0.8204" stop-color="#2f00ff"/><stop offset="0.8315" stop-color="#0900ff"/><stop offset="0.8425" stop-color="#0023ff"/><stop offset="0.8481" stop-color="#0038ff"/><stop offset="0.8812" stop-color="#00f6ff"/><stop offset="0.8923" stop-color="#00ffbc"/><stop offset="0.9199" stop-color="#00ff00"/><stop offset="0.9475" stop-color="#b8ff00"/><stop offset="0.9586" stop-color="#f9ff00"/><stop offset="0.9862" stop-color="#ffa400"/><stop offset="0.9972" stop-color="#ff8400"/></linearGradient><linearGradient id="h74" x1="0" y1="0" x2="0" y2="1"><stop offset="0.0028" stop-color="#ff7e00"/><stop offset="0.0249" stop-color="#ff5e00"/><stop offset="0.0470" stop-color="#ff5800"/><stop offset="0.0691" stop-color="#ff7300"/><stop offset="0.0912" stop-color="#ffaf00"/><stop offset="0.1133" stop-color="#f9ff00"/><stop offset="0.1298" stop-color="#92ff00"/><stop offset="0.1464" stop-color="#1bff00"/><stop offset="0.1519" stop-color="#00ff0b"/><stop offset="0.1851" stop-color="#00fffd"/><stop offset="0.2127" stop-color="#0043ff"/><stop offset="0.2238" stop-color="#0002ff"/><stop offset="0.2459" stop-color="#6b00ff"/><stop offset="0.2624" stop-color="#a700ff"/><stop offset="0.2845" stop-color="#cd00ff"/><stop offset="0.3066" stop-color="#c700ff"/><stop offset="0.3287" stop-color="#9600ff"/><stop offset="0.3508" stop-color="#3a00ff"/><stop offset="0.3619" stop-color="#0002ff"/><stop offset="0.3840" stop-color="#008aff"/><stop offset="0.4006" stop-color="#00fcff"/><stop offset="0.4337" stop-color="#00ff10"/><stop offset="0.4392" stop-color="#16ff00"/><stop offset="0.4558" stop-color="#8dff00"/><stop offset="0.4724" stop-color="#f3ff00"/><stop offset="0.4779" stop-color="#fff500"/><stop offset="0.5000" stop-color="#ffa900"/><stop offset="0.5166" stop-color="#ff7e00"/><stop offset="0.5387" stop-color="#ff6300"/><stop offset="0.5663" stop-color="#ff6e00"/><stop offset="0.5939" stop-color="#ffa900"/><stop offset="0.6160" stop-color="#fff500"/><stop offset="0.6215" stop-color="#eeff00"/><stop offset="0.6602" stop-color="#00ff05"/><stop offset="0.6934" stop-color="#00ffe2"/><stop offset="0.6989" stop-color="#00f6ff"/><stop offset="0.7265" stop-color="#0059ff"/><stop offset="0.7486" stop-color="#0400ff"/><stop offset="0.7707" stop-color="#3a00ff"/><stop offset="0.7873" stop-color="#4500ff"/><stop offset="0.8039" stop-color="#3f00ff"/><stop offset="0.8204" stop-color="#1900ff"/><stop offset="0.8315" stop-color="#0007ff"/><stop offset="0.8536" stop-color="#0069ff"/><stop offset="0.8757" stop-color="#00e6ff"/><stop offset="0.8812" stop-color="#00fff7"/><stop offset="0.9144" stop-color="#00ff16"/><stop offset="0.9199" stop-color="#10ff00"/><stop offset="0.9530" stop-color="#e8ff00"/><stop offset="0.9586" stop-color="#fffb00"/><stop offset="0.9862" stop-color="#ff9900"/><stop offset="0.9972" stop-color="#ff7e00"/></linearGradient><linearGradient id="h75" x1="0" y1="0" x2="0" y2="1"><stop offset="0.0028" stop-color="#ff7900"/><stop offset="0.0249" stop-color="#ff5800"/><stop offset="0.0470" stop-color="#ff5800"/><stop offset="0.0635" stop-color="#ff6e00"/><stop offset="0.0856" stop-color="#ffa400"/><stop offset="0.1022" stop-color="#ffda00"/><stop offset="0.1077" stop-color="#fff500"/><stop offset="0.1133" stop-color="#f3ff00"/><stop offset="0.1464" stop-color="#16ff00"/><stop offset="0.1519" stop-color="#00ff16"/><stop offset="0.1796" stop-color="#00ffe2"/><stop offset="0.1851" stop-color="#00f6ff"/><stop offset="0.2127" stop-color="#0038ff"/><stop offset="0.2182" stop-color="#0012ff"/><stop offset="0.2238" stop-color="#0e00ff"/><stop offset="0.2348" stop-color="#4a00ff"/><stop offset="0.2514" stop-color="#9100ff"/><stop offset="0.2735" stop-color="#cd00ff"/><stop offset="0.2845" stop-color="#dd00ff"/><stop offset="0.3066" stop-color="#d700ff"/><stop offset="0.3287" stop-color="#a700ff"/><stop offset="0.3508" stop-color="#4a00ff"/><stop offset="0.3619" stop-color="#0e00ff"/><stop offset="0.3674" stop-color="#0012ff"/><stop offset="0.3895" stop-color="#00a0ff"/><stop offset="0.4006" stop-color="#00f1ff"/><stop offset="0.4061" stop-color="#00ffe7"/><stop offset="0.4337" stop-color="#00ff1b"/><stop offset="0.4392" stop-color="#0bff00"/><stop offset="0.4613" stop-color="#a8ff00"/><stop offset="0.4724" stop-color="#e8ff00"/><stop offset="0.4779" stop-color="#fffb00"/><stop offset="0.4945" stop-color="#ffbf00"/><stop offset="0.5166" stop-color="#ff8400"/><stop offset="0.5331" stop-color="#ff6900"/><stop offset="0.5552" stop-color="#ff6300"/><stop offset="0.5829" stop-color="#ff8900"/><stop offset="0.5994" stop-color="#ffb400"/><stop offset="0.6215" stop-color="#f9ff00"/><stop offset="0.6326" stop-color="#bdff00"/><stop offset="0.6602" stop-color="#0bff00"/><stop offset="0.6657" stop-color="#00ff1b"/><stop offset="0.6934" stop-color="#00ffd2"/><stop offset="0.6989" stop-color="#00fff2"/><stop offset="0.7044" stop-color="#00e6ff"/><stop offset="0.7320" stop-color="#0053ff"/><stop offset="0.7541" stop-color="#0002ff"/><stop offset="0.7762" stop-color="#2a00ff"/><stop offset="0.8039" stop-color="#2a00ff"/><stop offset="0.8204" stop-color="#0400ff"/><stop offset="0.8260" stop-color="#0007ff"/><stop offset="0.8481" stop-color="#0064ff"/><stop offset="0.8702" stop-color="#00d6ff"/><stop offset="0.8757" stop-color="#00fcff"/><stop offset="0.8923" stop-color="#00ff9c"/><stop offset="0.9144" stop-color="#00ff05"/><stop offset="0.9530" stop-color="#f3ff00"/><stop offset="0.9586" stop-color="#fff500"/><stop offset="0.9862" stop-color="#ff9400"/><stop offset="0.9972" stop-color="#ff7900"/></linearGradient><linearGradient id="h76" x1="0" y1="0" x2="0" y2="1"><stop offset="0.0028" stop-color="#ff7300"/><stop offset="0.0304" stop-color="#ff5300"/><stop offset="0.0470" stop-color="#ff5800"/><stop offset="0.0635" stop-color="#ff6e00"/><stop offset="0.0856" stop-color="#ffa400"/><stop offset="0.1077" stop-color="#fff500"/><stop offset="0.1133" stop-color="#eeff00"/><stop offset="0.1409" stop-color="#36ff00"/><stop offset="0.1464" stop-color="#0bff00"/><stop offset="0.1519" stop-color="#00ff1b"/><stop offset="0.1796" stop-color="#00ffed"/><stop offset="0.1851" stop-color="#00ecff"/><stop offset="0.2127" stop-color="#0028ff"/><stop offset="0.2182" stop-color="#0007ff"/><stop offset="0.2348" stop-color="#5500ff"/><stop offset="0.2569" stop-color="#b100ff"/><stop offset="0.2735" stop-color="#dd00ff"/><stop offset="0.2956" stop-color="#ed00ff"/><stop offset="0.3177" stop-color="#d200ff"/><stop offset="0.3398" stop-color="#8b00ff"/><stop offset="0.3674" stop-color="#0002ff"/><stop offset="0.4006" stop-color="#00e6ff"/><stop offset="0.4061" stop-color="#00fff2"/><stop offset="0.4337" stop-color="#00ff26"/><stop offset="0.4392" stop-color="#05ff00"/><stop offset="0.4724" stop-color="#e3ff00"/><stop offset="0.4779" stop-color="#feff00"/><stop offset="0.5055" stop-color="#ff9f00"/><stop offset="0.5276" stop-color="#ff7300"/><stop offset="0.5497" stop-color="#ff6300"/><stop offset="0.5718" stop-color="#ff7300"/><stop offset="0.5994" stop-color="#ffaf00"/><stop offset="0.6215" stop-color="#fffb00"/><stop offset="0.6326" stop-color="#c8ff00"/><stop offset="0.6602" stop-color="#1bff00"/><stop offset="0.6657" stop-color="#00ff0b"/><stop offset="0.6989" stop-color="#00ffe2"/><stop offset="0.7044" stop-color="#00fcff"/><stop offset="0.7320" stop-color="#0069ff"/><stop offset="0.7541" stop-color="#0018ff"/><stop offset="0.7652" stop-color="#0400ff"/><stop offset="0.7818" stop-color="#1900ff"/><stop offset="0.7983" stop-color="#1400ff"/><stop offset="0.8149" stop-color="#0002ff"/><stop offset="0.8370" stop-color="#0049ff"/><stop offset="0.8646" stop-color="#00cbff"/><stop offset="0.8702" stop-color="#00ecff"/><stop offset="0.8757" stop-color="#00fff2"/><stop offset="0.9088" stop-color="#00ff1b"/><stop offset="0.9144" stop-color="#0bff00"/><stop offset="0.9475" stop-color="#e3ff00"/><stop offset="0.9530" stop-color="#feff00"/><stop offset="0.9862" stop-color="#ff8e00"/><stop offset="0.9972" stop-color="#ff7300"/></linearGradient><linearGradient id="h77" x1="0" y1="0" x2="0" y2="1"><stop offset="0.0028" stop-color="#ff7300"/><stop offset="0.0249" stop-color="#ff5300"/><stop offset="0.0470" stop-color="#ff5800"/><stop offset="0.0635" stop-color="#ff6e00"/><stop offset="0.0856" stop-color="#ffa400"/><stop offset="0.1077" stop-color="#fffb00"/><stop offset="0.1188" stop-color="#c8ff00"/><stop offset="0.1409" stop-color="#31ff00"/><stop offset="0.1464" stop-color="#05ff00"/><stop offset="0.1630" stop-color="#00ff76"/><stop offset="0.1796" stop-color="#00fff2"/><stop offset="0.1851" stop-color="#00e1ff"/><stop offset="0.2127" stop-color="#001dff"/><stop offset="0.2182" stop-color="#0400ff"/><stop offset="0.2348" stop-color="#6000ff"/><stop offset="0.2569" stop-color="#bc00ff"/><stop offset="0.2735" stop-color="#e800ff"/><stop offset="0.2845" stop-color="#f800ff"/><stop offset="0.3066" stop-color="#f300ff"/><stop offset="0.3232" stop-color="#cd00ff"/><stop offset="0.3398" stop-color="#9600ff"/><stop offset="0.3619" stop-color="#2a00ff"/><stop offset="0.3674" stop-color="#0900ff"/><stop offset="0.3729" stop-color="#0018ff"/><stop offset="0.4061" stop-color="#00fffd"/><stop offset="0.4392" stop-color="#00ff05"/><stop offset="0.4669" stop-color="#b8ff00"/><stop offset="0.4779" stop-color="#f9ff00"/><stop offset="0.5055" stop-color="#ffa400"/><stop offset="0.5276" stop-color="#ff7300"/><stop offset="0.5497" stop-color="#ff6300"/><stop offset="0.5773" stop-color="#ff7900"/><stop offset="0.6050" stop-color="#ffba00"/><stop offset="0.6215" stop-color="#fff500"/><stop offset="0.6271" stop-color="#f3ff00"/><stop offset="0.6381" stop-color="#b8ff00"/><stop offset="0.6657" stop-color="#05ff00"/><stop offset="0.6713" stop-color="#00ff1b"/><stop offset="0.7044" stop-color="#00ffed"/><stop offset="0.7099" stop-color="#00f1ff"/><stop offset="0.7265" stop-color="#009aff"/><stop offset="0.7541" stop-color="#0033ff"/><stop offset="0.7762" stop-color="#0007ff"/><stop offset="0.7983" stop-color="#0002ff"/><stop offset="0.8149" stop-color="#001dff"/><stop offset="0.8260" stop-color="#0038ff"/><stop offset="0.8536" stop-color="#00aaff"/><stop offset="0.8646" stop-color="#00e6ff"/><stop offset="0.8702" stop-color="#00fff7"/><stop offset="0.8978" stop-color="#00ff51"/><stop offset="0.9088" stop-color="#00ff05"/><stop offset="0.9475" stop-color="#eeff00"/><stop offset="0.9530" stop-color="#fff500"/><stop offset="0.9862" stop-color="#ff8900"/><stop offset="0.9972" stop-color="#ff7300"/></linearGradient><linearGradient id="h78" x1="0" y1="0" x2="0" y2="1"><stop offset="0.0028" stop-color="#ff6e00"/><stop offset="0.0249" stop-color="#ff5300"/><stop offset="0.0470" stop-color="#ff5800"/><stop offset="0.0635" stop-color="#ff6e00"/><stop offset="0.0912" stop-color="#ffba00"/><stop offset="0.1077" stop-color="#fffb00"/><stop offset="0.1188" stop-color="#c3ff00"/><stop offset="0.1464" stop-color="#00ff00"/><stop offset="0.1796" stop-color="#00fffd"/><stop offset="0.2017" stop-color="#005eff"/><stop offset="0.2127" stop-color="#0018ff"/><stop offset="0.2182" stop-color="#0e00ff"/><stop offset="0.2403" stop-color="#8600ff"/><stop offset="0.2624" stop-color="#d700ff"/><stop offset="0.2735" stop-color="#f300ff"/><stop offset="0.2956" stop-color="#ff00fb"/><stop offset="0.3122" stop-color="#f300ff"/><stop offset="0.3343" stop-color="#b700ff"/><stop offset="0.3508" stop-color="#7000ff"/><stop offset="0.3674" stop-color="#1400ff"/><stop offset="0.3729" stop-color="#0012ff"/><stop offset="0.4061" stop-color="#00f6ff"/><stop offset="0.4171" stop-color="#00ffb1"/><stop offset="0.4392" stop-color="#00ff10"/><stop offset="0.4448" stop-color="#1bff00"/><stop offset="0.4724" stop-color="#d3ff00"/><stop offset="0.4779" stop-color="#f3ff00"/><stop offset="0.4834" stop-color="#fff500"/><stop offset="0.5055" stop-color="#ffa900"/><stop offset="0.5221" stop-color="#ff7e00"/><stop offset="0.5442" stop-color="#ff6300"/><stop offset="0.5663" stop-color="#ff6900"/><stop offset="0.5884" stop-color="#ff8900"/><stop offset="0.6105" stop-color="#ffc400"/><stop offset="0.6271" stop-color="#feff00"/><stop offset="0.6547" stop-color="#61ff00"/><stop offset="0.6657" stop-color="#1bff00"/><stop offset="0.6713" stop-color="#00ff0b"/><stop offset="0.6989" stop-color="#00ffb7"/><stop offset="0.7099" stop-color="#00fff2"/><stop offset="0.7155" stop-color="#00ecff"/><stop offset="0.7376" stop-color="#0084ff"/><stop offset="0.7597" stop-color="#003eff"/><stop offset="0.7762" stop-color="#0023ff"/><stop offset="0.7928" stop-color="#001dff"/><stop offset="0.8149" stop-color="#0038ff"/><stop offset="0.8370" stop-color="#007fff"/><stop offset="0.8536" stop-color="#00c6ff"/><stop offset="0.8646" stop-color="#00fcff"/><stop offset="0.8978" stop-color="#00ff3b"/><stop offset="0.9033" stop-color="#00ff16"/><stop offset="0.9088" stop-color="#10ff00"/><stop offset="0.9420" stop-color="#deff00"/><stop offset="0.9475" stop-color="#f9ff00"/><stop offset="0.9751" stop-color="#ffa400"/><stop offset="0.9972" stop-color="#ff6e00"/></linearGradient><linearGradient id="h79" x1="0" y1="0" x2="0" y2="1"><stop offset="0.0028" stop-color="#ff6900"/><stop offset="0.0249" stop-color="#ff4e00"/><stop offset="0.0470" stop-color="#ff5800"/><stop offset="0.0635" stop-color="#ff6e00"/><stop offset="0.0856" stop-color="#ffa900"/><stop offset="0.1077" stop-color="#feff00"/><stop offset="0.1133" stop-color="#e3ff00"/><stop offset="0.1409" stop-color="#20ff00"/><stop offset="0.1464" stop-color="#00ff05"/><stop offset="0.1796" stop-color="#00fcff"/><stop offset="0.2072" stop-color="#0033ff"/><stop offset="0.2127" stop-color="#0012ff"/><stop offset="0.2182" stop-color="#1400ff"/><stop offset="0.2403" stop-color="#8b00ff"/><stop offset="0.2624" stop-color="#dd00ff"/><stop offset="0.2790" stop-color="#fe00ff"/><stop offset="0.2901" stop-color="#ff00f6"/><stop offset="0.3066" stop-color="#ff00fb"/><stop offset="0.3287" stop-color="#d200ff"/><stop offset="0.3508" stop-color="#7600ff"/><stop offset="0.3674" stop-color="#1900ff"/><stop offset="0.3729" stop-color="#0007ff"/><stop offset="0.3895" stop-color="#0074ff"/><stop offset="0.4061" stop-color="#00f1ff"/><stop offset="0.4116" stop-color="#00ffe7"/><stop offset="0.4392" stop-color="#00ff16"/><stop offset="0.4448" stop-color="#10ff00"/><stop offset="0.4669" stop-color="#a8ff00"/><stop offset="0.4779" stop-color="#eeff00"/><stop offset="0.4834" stop-color="#fffb00"/><stop offset="0.5055" stop-color="#ffa900"/><stop offset="0.5331" stop-color="#ff6e00"/><stop offset="0.5608" stop-color="#ff6300"/><stop offset="0.5829" stop-color="#ff7e00"/><stop offset="0.6050" stop-color="#ffaf00"/><stop offset="0.6271" stop-color="#fff500"/><stop offset="0.6326" stop-color="#f3ff00"/><stop offset="0.6713" stop-color="#0bff00"/><stop offset="0.6768" stop-color="#00ff16"/><stop offset="0.7044" stop-color="#00ffbc"/><stop offset="0.7155" stop-color="#00fff7"/><stop offset="0.7265" stop-color="#00d0ff"/><stop offset="0.7486" stop-color="#007fff"/><stop offset="0.7652" stop-color="#0053ff"/><stop offset="0.7818" stop-color="#003eff"/><stop offset="0.8039" stop-color="#0043ff"/><stop offset="0.8260" stop-color="#0074ff"/><stop offset="0.8481" stop-color="#00c6ff"/><stop offset="0.8591" stop-color="#00fcff"/><stop offset="0.8702" stop-color="#00ffc7"/><stop offset="0.9033" stop-color="#00ff00"/><stop offset="0.9420" stop-color="#eeff00"/><stop offset="0.9475" stop-color="#fffb00"/><stop offset="0.9696" stop-color="#ffa900"/><stop offset="0.9917" stop-color="#ff7300"/><stop offset="0.9972" stop-color="#ff6900"/></linearGradient><linearGradient id="h80" x1="0" y1="0" x2="0" y2="1"><stop offset="0.0028" stop-color="#ff6300"/><stop offset="0.0138" stop-color="#ff5300"/><stop offset="0.0414" stop-color="#ff5300"/><stop offset="0.0635" stop-color="#ff6e00"/><stop offset="0.0801" stop-color="#ff9900"/><stop offset="0.1077" stop-color="#feff00"/><stop offset="0.1243" stop-color="#97ff00"/><stop offset="0.1409" stop-color="#20ff00"/><stop offset="0.1464" stop-color="#00ff0b"/><stop offset="0.1740" stop-color="#00ffdc"/><stop offset="0.1796" stop-color="#00f6ff"/><stop offset="0.2127" stop-color="#000dff"/><stop offset="0.2182" stop-color="#1400ff"/><stop offset="0.2348" stop-color="#7000ff"/><stop offset="0.2514" stop-color="#bc00ff"/><stop offset="0.2624" stop-color="#e200ff"/><stop offset="0.2790" stop-color="#ff00fb"/><stop offset="0.2956" stop-color="#ff00f0"/><stop offset="0.3122" stop-color="#fe00ff"/><stop offset="0.3343" stop-color="#c200ff"/><stop offset="0.3564" stop-color="#6000ff"/><stop offset="0.3729" stop-color="#0002ff"/><stop offset="0.4061" stop-color="#00e6ff"/><stop offset="0.4116" stop-color="#00ffed"/><stop offset="0.4392" stop-color="#00ff20"/><stop offset="0.4448" stop-color="#0bff00"/><stop offset="0.4779" stop-color="#e8ff00"/><stop offset="0.4834" stop-color="#fffb00"/><stop offset="0.5110" stop-color="#ff9f00"/><stop offset="0.5276" stop-color="#ff7900"/><stop offset="0.5552" stop-color="#ff6300"/><stop offset="0.5718" stop-color="#ff6900"/><stop offset="0.5994" stop-color="#ff9900"/><stop offset="0.6326" stop-color="#feff00"/><stop offset="0.6768" stop-color="#00ff00"/><stop offset="0.6878" stop-color="#00ff46"/><stop offset="0.7210" stop-color="#00fff7"/><stop offset="0.7265" stop-color="#00f1ff"/><stop offset="0.7376" stop-color="#00c0ff"/><stop offset="0.7541" stop-color="#008aff"/><stop offset="0.7762" stop-color="#0064ff"/><stop offset="0.7983" stop-color="#005eff"/><stop offset="0.8204" stop-color="#0084ff"/><stop offset="0.8425" stop-color="#00d0ff"/><stop offset="0.8536" stop-color="#00fffd"/><stop offset="0.8702" stop-color="#00ffac"/><stop offset="0.8867" stop-color="#00ff51"/><stop offset="0.8978" stop-color="#00ff0b"/><stop offset="0.9033" stop-color="#16ff00"/><stop offset="0.9365" stop-color="#deff00"/><stop offset="0.9420" stop-color="#f9ff00"/><stop offset="0.9696" stop-color="#ffa400"/><stop offset="0.9917" stop-color="#ff6e00"/><stop offset="0.9972" stop-color="#ff6300"/></linearGradient></defs><g shape-rendering="crispEdges"><rect x="1351.50" y="526.5" width="3.92" height="275.0" fill="url(#h0)"/><rect x="1354.82" y="526.5" width="3.92" height="275.0" fill="url(#h1)"/><rect x="1358.14" y="526.5" width="3.92" height="275.0" fill="url(#h2)"/><rect x="1361.46" y="526.5" width="3.92" height="275.0" fill="url(#h3)"/><rect x="1364.78" y="526.5" width="3.92" height="275.0" fill="url(#h4)"/><rect x="1368.10" y="526.5" width="3.92" height="275.0" fill="url(#h5)"/><rect x="1371.43" y="526.5" width="3.92" height="275.0" fill="url(#h6)"/><rect x="1374.75" y="526.5" width="3.92" height="275.0" fill="url(#h7)"/><rect x="1378.07" y="526.5" width="3.92" height="275.0" fill="url(#h8)"/><rect x="1381.39" y="526.5" width="3.92" height="275.0" fill="url(#h9)"/><rect x="1384.71" y="526.5" width="3.92" height="275.0" fill="url(#h10)"/><rect x="1388.03" y="526.5" width="3.92" height="275.0" fill="url(#h11)"/><rect x="1391.35" y="526.5" width="3.92" height="275.0" fill="url(#h12)"/><rect x="1394.67" y="526.5" width="3.92" height="275.0" fill="url(#h13)"/><rect x="1397.99" y="526.5" width="3.92" height="275.0" fill="url(#h14)"/><rect x="1401.31" y="526.5" width="3.92" height="275.0" fill="url(#h15)"/><rect x="1404.64" y="526.5" width="3.92" height="275.0" fill="url(#h16)"/><rect x="1407.96" y="526.5" width="3.92" height="275.0" fill="url(#h17)"/><rect x="1411.28" y="526.5" width="3.92" height="275.0" fill="url(#h18)"/><rect x="1414.60" y="526.5" width="3.92" height="275.0" fill="url(#h19)"/><rect x="1417.92" y="526.5" width="3.92" height="275.0" fill="url(#h20)"/><rect x="1421.24" y="526.5" width="3.92" height="275.0" fill="url(#h21)"/><rect x="1424.56" y="526.5" width="3.92" height="275.0" fill="url(#h22)"/><rect x="1427.88" y="526.5" width="3.92" height="275.0" fill="url(#h23)"/><rect x="1431.20" y="526.5" width="3.92" height="275.0" fill="url(#h24)"/><rect x="1434.52" y="526.5" width="3.92" height="275.0" fill="url(#h25)"/><rect x="1437.85" y="526.5" width="3.92" height="275.0" fill="url(#h26)"/><rect x="1441.17" y="526.5" width="3.92" height="275.0" fill="url(#h27)"/><rect x="1444.49" y="526.5" width="3.92" height="275.0" fill="url(#h28)"/><rect x="1447.81" y="526.5" width="3.92" height="275.0" fill="url(#h29)"/><rect x="1451.13" y="526.5" width="3.92" height="275.0" fill="url(#h30)"/><rect x="1454.45" y="526.5" width="3.92" height="275.0" fill="url(#h31)"/><rect x="1457.77" y="526.5" width="3.92" height="275.0" fill="url(#h32)"/><rect x="1461.09" y="526.5" width="3.92" height="275.0" fill="url(#h33)"/><rect x="1464.41" y="526.5" width="3.92" height="275.0" fill="url(#h34)"/><rect x="1467.73" y="526.5" width="3.92" height="275.0" fill="url(#h35)"/><rect x="1471.06" y="526.5" width="3.92" height="275.0" fill="url(#h36)"/><rect x="1474.38" y="526.5" width="3.92" height="275.0" fill="url(#h37)"/><rect x="1477.70" y="526.5" width="3.92" height="275.0" fill="url(#h38)"/><rect x="1481.02" y="526.5" width="3.92" height="275.0" fill="url(#h39)"/><rect x="1484.34" y="526.5" width="3.92" height="275.0" fill="url(#h40)"/><rect x="1487.66" y="526.5" width="3.92" height="275.0" fill="url(#h41)"/><rect x="1490.98" y="526.5" width="3.92" height="275.0" fill="url(#h42)"/><rect x="1494.30" y="526.5" width="3.92" height="275.0" fill="url(#h43)"/><rect x="1497.62" y="526.5" width="3.92" height="275.0" fill="url(#h44)"/><rect x="1500.94" y="526.5" width="3.92" height="275.0" fill="url(#h45)"/><rect x="1504.27" y="526.5" width="3.92" height="275.0" fill="url(#h46)"/><rect x="1507.59" y="526.5" width="3.92" height="275.0" fill="url(#h47)"/><rect x="1510.91" y="526.5" width="3.92" height="275.0" fill="url(#h48)"/><rect x="1514.23" y="526.5" width="3.92" height="275.0" fill="url(#h49)"/><rect x="1517.55" y="526.5" width="3.92" height="275.0" fill="url(#h50)"/><rect x="1520.87" y="526.5" width="3.92" height="275.0" fill="url(#h51)"/><rect x="1524.19" y="526.5" width="3.92" height="275.0" fill="url(#h52)"/><rect x="1527.51" y="526.5" width="3.92" height="275.0" fill="url(#h53)"/><rect x="1530.83" y="526.5" width="3.92" height="275.0" fill="url(#h54)"/><rect x="1534.15" y="526.5" width="3.92" height="275.0" fill="url(#h55)"/><rect x="1537.48" y="526.5" width="3.92" height="275.0" fill="url(#h56)"/><rect x="1540.80" y="526.5" width="3.92" height="275.0" fill="url(#h57)"/><rect x="1544.12" y="526.5" width="3.92" height="275.0" fill="url(#h58)"/><rect x="1547.44" y="526.5" width="3.92" height="275.0" fill="url(#h59)"/><rect x="1550.76" y="526.5" width="3.92" height="275.0" fill="url(#h60)"/><rect x="1554.08" y="526.5" width="3.92" height="275.0" fill="url(#h61)"/><rect x="1557.40" y="526.5" width="3.92" height="275.0" fill="url(#h62)"/><rect x="1560.72" y="526.5" width="3.92" height="275.0" fill="url(#h63)"/><rect x="1564.04" y="526.5" width="3.92" height="275.0" fill="url(#h64)"/><rect x="1567.36" y="526.5" width="3.92" height="275.0" fill="url(#h65)"/><rect x="1570.69" y="526.5" width="3.92" height="275.0" fill="url(#h66)"/><rect x="1574.01" y="526.5" width="3.92" height="275.0" fill="url(#h67)"/><rect x="1577.33" y="526.5" width="3.92" height="275.0" fill="url(#h68)"/><rect x="1580.65" y="526.5" width="3.92" height="275.0" fill="url(#h69)"/><rect x="1583.97" y="526.5" width="3.92" height="275.0" fill="url(#h70)"/><rect x="1587.29" y="526.5" width="3.92" height="275.0" fill="url(#h71)"/><rect x="1590.61" y="526.5" width="3.92" height="275.0" fill="url(#h72)"/><rect x="1593.93" y="526.5" width="3.92" height="275.0" fill="url(#h73)"/><rect x="1597.25" y="526.5" width="3.92" height="275.0" fill="url(#h74)"/><rect x="1600.57" y="526.5" width="3.92" height="275.0" fill="url(#h75)"/><rect x="1603.90" y="526.5" width="3.92" height="275.0" fill="url(#h76)"/><rect x="1607.22" y="526.5" width="3.92" height="275.0" fill="url(#h77)"/><rect x="1610.54" y="526.5" width="3.92" height="275.0" fill="url(#h78)"/><rect x="1613.86" y="526.5" width="3.92" height="275.0" fill="url(#h79)"/><rect x="1617.18" y="526.5" width="3.32" height="275.0" fill="url(#h80)"/></g>
<path d="M276.30 244.5v3.0M322.30 244.5v3.0M368.30 244.5v3.0M414.30 244.5v3.0M460.30 244.5v3.0M506.30 244.5v3.0M552.30 244.5v3.0M598.30 244.5v3.0M644.30 244.5v3.0M690.30 244.5v3.0M736.30 244.5v3.0M782.30 244.5v3.0M828.30 244.5v3.0M874.30 244.5v3.0M920.30 244.5v3.0M966.30 244.5v3.0M1012.30 244.5v3.0M1058.30 244.5v3.0M1104.30 244.5v3.0M1150.30 244.5v3.0M1196.30 244.5v3.0M1242.30 244.5v3.0M1288.30 244.5v3.0" stroke="#000" stroke-width="1.1" fill="none"/>
<path d="M276.30 383.5v4.0M322.30 383.5v4.0M368.30 383.5v4.0M414.30 383.5v4.0M460.30 383.5v4.0M506.30 383.5v4.0M552.30 383.5v4.0M598.30 383.5v4.0M644.30 383.5v4.0M690.30 383.5v4.0M736.30 383.5v4.0M782.30 383.5v4.0M828.30 383.5v4.0M874.30 383.5v4.0M920.30 383.5v4.0M966.30 383.5v4.0M1012.30 383.5v4.0M1058.30 383.5v4.0M1104.30 383.5v4.0M1150.30 383.5v4.0M1196.30 383.5v4.0M1242.30 383.5v4.0M1288.30 383.5v4.0" stroke="#000" stroke-width="1.1" fill="none"/>
<path d="M276.30 522.5v4.0M322.30 522.5v4.0M368.30 522.5v4.0M414.30 522.5v4.0M460.30 522.5v4.0M506.30 522.5v4.0M552.30 522.5v4.0M598.30 522.5v4.0M644.30 522.5v4.0M690.30 522.5v4.0M736.30 522.5v4.0M782.30 522.5v4.0M828.30 522.5v4.0M874.30 522.5v4.0M920.30 522.5v4.0M966.30 522.5v4.0M1012.30 522.5v4.0M1058.30 522.5v4.0M1104.30 522.5v4.0M1150.30 522.5v4.0M1196.30 522.5v4.0M1242.30 522.5v4.0M1288.30 522.5v4.0" stroke="#000" stroke-width="1.1" fill="none"/>
<path d="M276.30 662.5v3.0M322.30 662.5v3.0M368.30 662.5v3.0M414.30 662.5v3.0M460.30 662.5v3.0M506.30 662.5v3.0M552.30 662.5v3.0M598.30 662.5v3.0M644.30 662.5v3.0M690.30 662.5v3.0M736.30 662.5v3.0M782.30 662.5v3.0M828.30 662.5v3.0M874.30 662.5v3.0M920.30 662.5v3.0M966.30 662.5v3.0M1012.30 662.5v3.0M1058.30 662.5v3.0M1104.30 662.5v3.0M1150.30 662.5v3.0M1196.30 662.5v3.0M1242.30 662.5v3.0M1288.30 662.5v3.0" stroke="#000" stroke-width="1.1" fill="none"/>
<path d="M276.30 801.5v4.9M322.30 801.5v4.9M368.30 801.5v4.9M414.30 801.5v4.9M460.30 801.5v4.9M506.30 801.5v4.9M552.30 801.5v4.9M598.30 801.5v4.9M644.30 801.5v4.9M690.30 801.5v4.9M736.30 801.5v4.9M782.30 801.5v4.9M828.30 801.5v4.9M874.30 801.5v4.9M920.30 801.5v4.9M966.30 801.5v4.9M1012.30 801.5v4.9M1058.30 801.5v4.9M1104.30 801.5v4.9M1150.30 801.5v4.9M1196.30 801.5v4.9M1242.30 801.5v4.9M1288.30 801.5v4.9" stroke="#000" stroke-width="1.1" fill="none"/>
<g clip-path="url(#cp0)"><path d="M274.4 176C277.3 176.2 279.4 176.2 282.2 176.2C283 176.2 283.6 174.9 284.4 174.9C285.3 174.9 285.9 177.1 286.7 177.1C287.6 177.1 288.2 174.9 289.1 174.9C289.8 174.9 290.4 176 291.1 176C292.1 176 292.9 175.2 293.9 175.2C294.8 175.2 295.5 178.8 296.4 178.8C297.3 178.8 297.9 168.8 298.7 168.8C299.7 168.8 300.4 186 301.4 186C302.6 186 303.5 164.9 304.7 164.9C305.8 164.9 306.6 188 307.8 188C309 188 309.9 161 311.1 161C312.2 161 313 194.3 314.1 194.3C315.1 194.3 315.9 159.3 316.9 159.3C318.3 159.3 319.4 185.8 320.9 185.8C322 185.8 322.8 165.4 323.9 165.4C324.8 165.4 325.5 181 326.4 181C327.3 181 328 180.2 328.9 179.3C329.6 178.7 330.2 178 330.9 176.6C331.9 174.6 332.6 165.8 333.6 165.8C334.6 165.8 335.3 191.3 336.3 191.3C337.4 191.3 338.2 158.2 339.2 158.2C340.3 158.2 341.1 191.6 342.2 191.6C343.1 191.6 343.8 169.6 344.7 169.6C345.4 169.6 345.9 174.3 346.7 174.3C347.3 174.3 347.7 174.3 348.3 174.3C349 174.3 349.5 178.2 350.2 178.2C351.2 178.2 351.8 177.7 352.8 177.1C353.9 176.4 354.7 172.1 355.8 172.1C356.7 172.1 357.4 180.1 358.3 180.1C358.9 180.1 359.4 180 360 179.9C360.6 179.7 361.1 169.9 361.8 169.9C362.6 169.9 363.2 181 364 181C364.8 181 365.3 166.9 366.1 166.9C367 166.9 367.6 191.6 368.4 191.6C369.5 191.6 370.3 155.4 371.3 155.4C372.3 155.4 373 194.7 374 194.7C375.2 194.7 376.1 163.8 377.3 163.8C378.4 163.8 379.2 194 380.3 194C381.4 194 382.2 156.6 383.3 156.6C384.5 156.6 385.3 188 386.4 188C387.1 188 387.6 184.3 388.3 180.4C389.1 176.3 389.6 160.7 390.3 160.7C391.4 160.7 392.2 187.4 393.3 187.4C394.7 187.4 395.7 166.6 397 166.6C398 166.6 398.8 183.8 399.8 183.8C400.6 183.8 401.2 171 402 171C402.8 171 403.4 178.8 404.2 178.8C404.9 178.8 405.4 169.3 406.1 169.3C407.1 169.3 407.9 184.7 408.9 184.7C409.5 184.7 409.9 184 410.6 182.7C411 181.6 411.4 164.9 411.9 164.9C412.5 164.9 412.9 167.2 413.6 169.9C414.4 173.5 415 191 415.8 191C416.8 191 417.5 166.6 418.6 166.6C419.8 166.6 420.7 184.3 422 184.3C423.2 184.3 424 168.8 425.2 168.8C425.7 168.8 426.1 169.5 426.7 171C427 171.9 427.2 182.1 427.6 182.1C428 182.1 428.4 174.3 428.9 174.3C429.4 174.3 429.7 178.2 430.2 178.2C430.6 178.2 430.9 174.3 431.3 174.3C432.1 174.3 432.7 179.3 433.6 179.3C434.2 179.3 434.6 164.3 435.2 164.3C436.5 164.3 437.4 191 438.7 191C439.8 191 440.7 158.2 441.9 158.2C443.1 158.2 443.9 192.1 445.1 192.1C446.2 192.1 446.9 166.6 448 166.6C448.7 166.6 449.3 169.7 450 172.7C450.8 176 451.4 187.1 452.2 187.1C452.8 187.1 453.3 185.7 453.9 183.8C454.7 181.2 455.3 163.6 456.1 163.6C456.8 163.6 457.3 186 458 186C458.8 186 459.4 167.1 460.2 167.1C461 167.1 461.6 188.2 462.4 188.2C463.5 188.2 464.3 161.6 465.3 161.6C466.4 161.6 467.2 191.3 468.3 191.3C469.5 191.3 470.3 156.2 471.4 156.2C472.5 156.2 473.2 189.3 474.2 189.3C475.4 189.3 476.3 155.8 477.6 155.8C478.6 155.8 479.3 195.1 480.3 195.1C481.6 195.1 482.5 153.6 483.8 153.6C485 153.6 485.8 196.2 487 196.2C488.2 196.2 489 152.7 490.2 152.7C491.2 152.7 491.8 196 492.8 196C493.9 196 494.7 161.8 495.8 161.8C496.8 161.8 497.5 186.2 498.6 186.2C499.7 186.2 500.5 165.7 501.7 165.7C502.7 165.7 503.4 188.8 504.4 188.8C505.7 188.8 506.6 165.1 507.8 165.1C508.7 165.1 509.4 191 510.3 191C511.5 191 512.3 165.1 513.4 165.1C514.5 165.1 515.4 184.6 516.4 184.6C517.6 184.6 518.5 167.7 519.7 167.7C520.5 167.7 521.2 185.4 522 185.4C523.1 185.4 523.9 168.4 525 168.4C525.6 168.4 526.1 179.1 526.7 179.1C527.7 179.1 528.4 178.2 529.4 177.1C530.1 176.4 530.6 173.8 531.3 173.8C531.9 173.8 532.3 178 532.8 178C533.8 178 534.5 172.4 535.6 172.4C536.3 172.4 536.8 180.2 537.6 180.2C538.4 180.2 539.1 178.3 540 176.6C541.1 174.4 542 167.7 543.1 167.7C543.9 167.7 544.5 190.2 545.2 190.2C546.2 190.2 546.8 165.4 547.8 165.4C548.4 165.4 548.8 167.8 549.4 170.4C550.1 173.4 550.6 186 551.3 186C552.5 186 553.3 170.4 554.4 170.4C555.1 170.4 555.5 176.2 556.1 176.2C556.7 176.2 557.2 167.7 557.8 167.7C558.7 167.7 559.4 188.2 560.3 188.2C561.4 188.2 562.2 169.1 563.3 169.1C563.9 169.1 564.4 169.6 565 170.4C565.8 171.6 566.4 187.4 567.2 187.4C568.2 187.4 568.8 165.7 569.8 165.7C570.7 165.7 571.5 182.9 572.4 182.9C573.3 182.9 573.9 171.3 574.8 171.3C575.9 171.3 576.7 186.3 577.8 186.3C579 186.3 579.9 158.4 581.1 158.4C582.2 158.4 583 197.4 584.1 197.4C585.3 197.4 586.2 150.4 587.3 150.4C588.4 150.4 589.2 196.6 590.2 196.6C591.4 196.6 592.3 158.8 593.4 158.8C594.5 158.8 595.4 192.3 596.4 192.3C597.4 192.3 598.1 168.6 599.1 168.6C599.6 168.6 600 173.6 600.6 173.8C601.6 174.2 602.3 174 603.3 174.3C604.5 174.8 605.5 188 606.7 188C607.7 188 608.4 160.8 609.4 160.8C610.8 160.8 611.8 196.6 613.1 196.6C614.2 196.6 615 147.7 616.1 147.7C617.2 147.7 618.1 195.7 619.2 195.7C620.4 195.7 621.3 163 622.4 163C623.2 163 623.7 165.2 624.4 168.2C625.3 171.6 625.9 193 626.7 193C627.7 193 628.4 164.3 629.4 164.3C630.4 164.3 631.1 178.7 632 179.3C632.9 179.9 633.6 180.2 634.4 180.2C635.3 180.2 636 170.4 636.9 170.4C638.2 170.4 639.2 178.5 640.6 179.3C641.1 179.6 641.5 179.9 642 179.9C642.7 179.9 643.2 169.9 643.9 169.9C644.9 169.9 645.7 186 646.7 186C647.5 186 648.1 172.2 648.9 171.3C649.8 170.4 650.4 169.9 651.3 169.9C652.5 169.9 653.5 184.3 654.7 184.3C655.7 184.3 656.5 165.8 657.6 165.8C658.9 165.8 659.8 183.8 661.1 183.8C661.8 183.8 662.4 183 663.1 181.6C663.8 180.2 664.3 166 665 166C666 166 666.8 185.2 667.8 185.2C669 185.2 669.9 173.2 671.1 173.2C671.8 173.2 672.3 179.1 673 179.1C673.7 179.1 674.3 170.2 675 170.2C675.9 170.2 676.6 183.2 677.4 183.2C678.1 183.2 678.5 168.4 679.1 168.4C679.9 168.4 680.5 183.2 681.3 183.2C682.3 183.2 683 168 683.9 168C684.9 168 685.7 183.8 686.7 183.8C687.5 183.8 688.1 171.3 688.9 171.3C689.9 171.3 690.7 173.6 691.7 175.4C692.8 177.5 693.6 183 694.7 183C695.5 183 696.1 167.7 696.9 167.7C697.6 167.7 698.2 178.8 698.9 178.8C699.7 178.8 700.3 178.5 701.1 178C701.7 177.7 702.2 176 702.8 176C703.5 176 704 178.4 704.7 178.4C705.5 178.4 706.1 171.8 706.9 171.8C707.9 171.8 708.7 183.8 709.8 183.8C710.5 183.8 711.1 163.6 711.9 163.6C712.7 163.6 713.2 186.2 714 186.2C714.9 186.2 715.6 171 716.4 171C717.7 171 718.7 179.1 720 179.1C721.3 179.1 722.3 171.3 723.6 171.3C724.5 171.3 725.2 182.1 726.1 182.1C727.2 182.1 728.1 168.2 729.2 168.2C730.3 168.2 731.1 185.7 732.2 185.7C733.4 185.7 734.2 162.9 735.3 162.9C736.4 162.9 737.2 184.1 738.3 184.1C740.2 184.1 741.5 168 743.3 168C744.4 168 745.2 187.9 746.2 187.9C747.4 187.9 748.3 161.6 749.6 161.6C750.6 161.6 751.4 191.6 752.4 191.6C753.7 191.6 754.6 161 755.8 161C756.8 161 757.6 191.3 758.7 191.3C759.8 191.3 760.6 167.1 761.7 167.1C763.3 167.1 764.5 181.6 766.1 181.6C767.8 181.6 769.1 168.4 770.8 168.4C772.1 168.4 773.1 184.3 774.4 184.3C775.9 184.3 777 166 778.4 166C779.5 166 780.3 186.6 781.3 186.6C782.3 186.6 783 168 783.9 168C784.8 168 785.5 180.2 786.4 180.2C788 180.2 789.2 169.7 790.8 169.7C791.7 169.7 792.4 187.7 793.3 187.7C794.4 187.7 795.2 161.8 796.2 161.8C797.5 161.8 798.4 188.2 799.7 188.2C801 188.2 802 164.6 803.3 164.6C804.5 164.6 805.3 187.1 806.4 187.1C807.9 187.1 808.9 161.8 810.3 161.8C811.3 161.8 812.1 191 813.1 191C814.2 191 814.9 164.7 816 164.7C817.1 164.7 818 185.2 819.1 185.2C820.2 185.2 821.1 167.3 822.2 167.3C823.4 167.3 824.2 185.1 825.3 185.1C826.4 185.1 827.2 164.7 828.2 164.7C829.4 164.7 830.3 186 831.6 186C833 186 834.1 167.3 835.6 167.3C836.6 167.3 837.5 189.9 838.6 189.9C839.7 189.9 840.5 160.7 841.7 160.7C842.8 160.7 843.6 191.6 844.7 191.6C846 191.6 847 168 848.3 168C849.1 168 849.7 180.2 850.6 180.2C851 180.2 851.3 173.2 851.7 173.2C852.6 173.2 853.2 188 854.1 188C855 188 855.7 163.8 856.7 163.8C857.9 163.8 858.8 189.3 860 189.3C861.2 189.3 862.1 162.4 863.3 162.4C864.3 162.4 865.1 189.3 866.1 189.3C867.1 189.3 867.9 164.3 868.9 164.3C870.2 164.3 871.2 188.8 872.6 188.8C873.6 188.8 874.5 156 875.6 156C876.6 156 877.5 190.1 878.6 190.1C880 190.1 881.1 157.4 882.6 157.4C883.6 157.4 884.3 194 885.3 194C886.8 194 887.9 162.4 889.4 162.4C890.5 162.4 891.4 186.9 892.4 186.9C893.9 186.9 895 169.7 896.4 169.7C897.3 169.7 897.9 180.8 898.7 180.8C899.6 180.8 900.4 172.1 901.3 172.1C902 172.1 902.5 178.8 903.1 178.8C904.2 178.8 905 173.2 906.1 173.2C906.9 173.2 907.5 180.8 908.3 180.8C909.1 180.8 909.7 170.2 910.6 170.2C911.5 170.2 912.2 181 913.1 181C913.8 181 914.3 179.9 915 178.2C915.6 176.8 916.1 167.9 916.7 167.9C917.4 167.9 917.9 185.2 918.7 185.2C919.8 185.2 920.7 166.8 921.9 166.8C922.9 166.8 923.7 187.3 924.8 187.3C926 187.3 926.8 163.4 928 163.4C929.1 163.4 930 190.2 931.1 190.2C932 190.2 932.7 161.3 933.7 161.3C934.6 161.3 935.2 186 936.1 186C937 186 937.7 168.6 938.7 168.6C939.6 168.6 940.2 185.2 941.1 185.2C942 185.2 942.7 164.7 943.7 164.7C945.2 164.7 946.3 184 947.8 184C948.8 184 949.6 161 950.7 161C951.6 161 952.4 185.8 953.3 185.8C954.3 185.8 955.1 165.8 956.1 165.8C957.2 165.8 958 183.8 959.1 183.8C960 183.8 960.6 168 961.4 168C962.1 168 962.6 168.9 963.3 170.4C964.1 172 964.6 185.1 965.3 185.1C966.5 185.1 967.5 167.7 968.7 167.7C969.6 167.7 970.4 201.9 971.3 201.9C972.2 201.9 972.9 150.2 973.8 150.2C974.6 150.2 975.3 166.8 976.1 176.6C977 186.8 977.7 205.2 978.6 205.2C980.1 205.2 981.2 155.8 982.7 155.8C983.6 155.8 984.4 192.3 985.3 192.3C986.5 192.3 987.4 168 988.6 168C989.5 168 990.2 168.7 991.1 169.9C992.1 171.2 992.9 183.4 993.9 183.4C995 183.4 995.9 161 997 161C997.9 161 998.6 192.1 999.4 192.1C1000.8 192.1 1001.8 160.7 1003.1 160.7C1004.2 160.7 1005 186.3 1006.1 186.3C1006.7 186.3 1007.2 173.2 1007.8 173.2C1008.3 173.2 1008.7 186.6 1009.2 186.6C1010.1 186.6 1010.8 163.8 1011.7 163.8C1012.7 163.8 1013.4 196.2 1014.4 196.2C1015.7 196.2 1016.6 150.4 1017.8 150.4C1018.8 150.4 1019.5 197.1 1020.6 197.1C1021.6 197.1 1022.3 172.1 1023.3 172.1C1023.9 172.1 1024.4 172.3 1025 172.7C1025.8 173.2 1026.4 191 1027.2 191C1028.1 191 1028.8 158.6 1029.7 158.6C1030.9 158.6 1031.8 191.2 1033 191.2C1033.9 191.2 1034.6 161.8 1035.6 161.8C1036.6 161.8 1037.3 173.1 1038.3 176.6C1039.5 180.4 1040.3 184.3 1041.4 184.3C1042.2 184.3 1042.8 168.6 1043.6 168.6C1044.3 168.6 1044.8 177.7 1045.6 177.7C1046.6 177.7 1047.3 177.3 1048.3 176.6C1049.2 175.9 1049.9 165.4 1050.8 165.4C1051.8 165.4 1052.6 189.3 1053.7 189.3C1054.7 189.3 1055.4 165.4 1056.4 165.4C1057.4 165.4 1058.1 169.8 1059.1 173.8C1060 177.4 1060.7 187.7 1061.6 187.7C1062.4 187.7 1063 165.4 1063.9 165.4C1064.7 165.4 1065.3 169.7 1066.1 172.7C1066.9 175.6 1067.5 182.1 1068.3 182.1C1069.1 182.1 1069.7 165.4 1070.6 165.4C1071.4 165.4 1072 186.6 1072.8 186.6C1073.7 186.6 1074.3 165.7 1075.2 165.7C1076.1 165.7 1076.7 187.1 1077.6 187.1C1078.5 187.1 1079.3 159 1080.2 159C1081.4 159 1082.2 192.4 1083.3 192.4C1084.3 192.4 1085.1 165.1 1086.1 165.1C1086.9 165.1 1087.5 178 1088.3 178C1089.1 178 1089.7 177.1 1090.6 177.1C1091.3 177.1 1091.8 182.1 1092.6 182.1C1093.6 182.1 1094.5 159.6 1095.6 159.6C1096.6 159.6 1097.3 191.3 1098.3 191.3C1099.5 191.3 1100.3 165.4 1101.4 165.4C1102.3 165.4 1103 169.1 1103.9 172.7C1104.7 176.1 1105.4 187.3 1106.2 187.3C1107.2 187.3 1107.9 158.4 1108.9 158.4C1109.8 158.4 1110.5 194 1111.4 194C1112.5 194 1113.4 158.4 1114.4 158.4C1115.6 158.4 1116.4 189.1 1117.6 189.1C1118.8 189.1 1119.7 161.6 1120.9 161.6C1121.8 161.6 1122.4 187.1 1123.3 187.1C1124.3 187.1 1125 169.7 1125.9 169.7C1126.6 169.7 1127.1 177.1 1127.8 177.1C1128.5 177.1 1129 175.4 1129.7 175.4C1130.3 175.4 1130.8 185.8 1131.4 185.8C1132.5 185.8 1133.4 163.6 1134.4 163.6C1135.5 163.6 1136.2 188.4 1137.2 188.4C1138.2 188.4 1138.8 160.8 1139.8 160.8C1140.9 160.8 1141.7 193.4 1142.8 193.4C1143.9 193.4 1144.8 159.6 1145.9 159.6C1147 159.6 1147.8 185.4 1148.9 185.4C1149.6 185.4 1150.2 171.9 1150.9 171.9C1151.7 171.9 1152.3 185.1 1153.1 185.1C1154.1 185.1 1154.8 159.7 1155.8 159.7C1156.7 159.7 1157.4 192.3 1158.3 192.3C1159.3 192.3 1160.1 167.7 1161.1 167.7C1161.7 167.7 1162.2 171.5 1162.8 173.8C1163.5 176.5 1164 181.6 1164.8 181.6C1165.7 181.6 1166.5 166.9 1167.4 166.9C1168.2 166.9 1168.7 187.3 1169.4 187.3C1170.3 187.3 1170.9 164.1 1171.7 164.1C1172.6 164.1 1173.3 181.2 1174.2 181.2C1175 181.2 1175.6 176.6 1176.4 176.6C1176.9 176.6 1177.3 181.2 1177.8 181.2C1178.9 181.2 1179.7 164.6 1180.8 164.6C1181.8 164.6 1182.5 191.2 1183.6 191.2C1184.6 191.2 1185.3 161.8 1186.3 161.8C1187.5 161.8 1188.3 189.3 1189.4 189.3C1190.4 189.3 1191.1 161.6 1192 161.6C1193 161.6 1193.7 190.2 1194.7 190.2C1195.8 190.2 1196.6 160.8 1197.8 160.8C1198.7 160.8 1199.5 193.2 1200.4 193.2C1201.3 193.2 1201.9 170.8 1202.8 170.8C1203.3 170.8 1203.7 174.9 1204.2 174.9C1204.9 174.9 1205.4 169.3 1206.1 169.3C1207 169.3 1207.7 187.4 1208.7 187.4C1209.8 187.4 1210.6 165.8 1211.7 165.8C1212.7 165.8 1213.4 168.6 1214.4 172.7C1215.1 175.5 1215.6 190.2 1216.3 190.2C1217.5 190.2 1218.5 164.9 1219.7 164.9C1221 164.9 1222 187.4 1223.3 187.4C1224.2 187.4 1224.9 167.7 1225.8 167.7C1226.7 167.7 1227.4 179.9 1228.3 179.9C1229.2 179.9 1229.9 168.8 1230.8 168.8C1231.9 168.8 1232.8 181 1233.9 181C1234.5 181 1234.9 180.8 1235.6 180.4C1236.6 179.8 1237.5 164.3 1238.6 164.3C1239.6 164.3 1240.4 187.7 1241.4 187.7C1243.1 187.7 1244.3 159.3 1245.9 159.3C1246.9 159.3 1247.6 195.4 1248.6 195.4C1249.9 195.4 1250.9 163.8 1252.2 163.8C1253.2 163.8 1254 181 1255 181C1256 181 1256.8 178.7 1257.8 177.1C1259 175.2 1259.9 170.8 1261.1 170.8C1262.2 170.8 1263 184.1 1264.1 184.1C1265.4 184.1 1266.3 168.8 1267.6 168.8C1268.8 168.8 1269.7 181.8 1270.9 181.8C1272 181.8 1272.8 171.9 1273.9 171.9C1275.1 171.9 1276 178 1277.2 178C1278.2 178 1278.8 174.9 1279.8 174.9C1280.7 174.9 1281.3 176 1282.2 176C1284.6 176 1286.3 176 1288.7 176" fill="none" stroke="#000" stroke-width="2.08" stroke-linejoin="round" stroke-linecap="butt"/></g>
<g clip-path="url(#cp0)"><path d="M936.4 245.5V108.5" stroke="#00bfbf" stroke-width="2.78" fill="none" stroke-dasharray="10.28 4.44"/><path d="M959.5 245.5V108.5" stroke="#00bfbf" stroke-width="2.78" fill="none" stroke-dasharray="10.28 4.44"/></g>
<rect x="225.5" y="108.5" width="1113.0" height="136.0" fill="none" stroke="#000" stroke-width="1.1"/>
<text x="237" y="126.1" font-size="13.89" text-anchor="start" >N</text>
<g clip-path="url(#cp1)"><path d="M274.4 315C277.7 315 280.1 315 283.3 315C284.1 315 284.7 315.9 285.6 315.9C287.1 315.9 288.2 314.4 289.8 314.4C290.5 314.4 291 315.9 291.7 315.9C292.4 315.9 292.9 313.6 293.7 313.6C294.5 313.6 295.1 317.6 295.9 317.6C297.1 317.6 297.9 311.1 299.1 311.1C300.1 311.1 300.9 319.8 301.9 319.8C303.1 319.8 304.1 309.8 305.3 309.8C306.3 309.8 307.1 322.4 308.1 322.4C309.1 322.4 309.9 309.1 310.9 309.1C311.6 309.1 312.1 310.9 312.8 312.8C313.6 315 314.2 324.1 315 324.1C316.1 324.1 316.9 303.9 318 303.9C319.3 303.9 320.2 323.9 321.4 323.9C322.1 323.9 322.6 322.6 323.3 320.6C324.1 318.1 324.7 295.2 325.6 295.2C326.6 295.2 327.5 341.9 328.6 341.9C329.5 341.9 330.3 294.8 331.2 294.8C332.2 294.8 333 325 334 325C335.5 325 336.6 309.2 338.1 309.2C339 309.2 339.7 311.6 340.6 313.9C341.3 315.8 341.8 321.9 342.6 321.9C343.7 321.9 344.6 307.2 345.8 307.2C346.6 307.2 347.2 325.6 348 325.6C348.9 325.6 349.6 305.2 350.6 305.2C351.5 305.2 352.2 324.8 353.1 324.8C354.7 324.8 355.9 307.2 357.4 307.2C358.4 307.2 359.1 328.1 360 328.1C361.2 328.1 362.1 305 363.3 305C364.3 305 365.1 326.1 366.1 326.1C367.2 326.1 368.1 308.3 369.2 308.3C370.1 308.3 370.8 310.1 371.7 312.8C372.6 315.5 373.2 334.4 374.1 334.4C375.1 334.4 375.9 295.8 376.9 295.8C377.9 295.8 378.7 335.9 379.8 335.9C381.3 335.9 382.4 293.9 383.9 293.9C385.2 293.9 386.1 334.1 387.4 334.1C388.9 334.1 390 300.3 391.4 300.3C392.1 300.3 392.6 329.7 393.3 329.7C394.1 329.7 394.7 327.8 395.6 324.4C396.3 321.5 396.8 295.8 397.6 295.8C398.2 295.8 398.8 311.1 399.4 317.2C400.1 322.7 400.5 329.7 401.1 329.7C402.4 329.7 403.4 305.2 404.7 305.2C405.5 305.2 406.1 332.6 406.9 332.6C407.6 332.6 408.2 303.7 408.9 303.7C410.1 303.7 411 330 412.2 330C413.6 330 414.7 305.2 416.1 305.2C416.7 305.2 417.2 325.9 417.8 325.9C418.6 325.9 419.2 324.8 420 323.3C421.1 321.2 422 303.7 423.1 303.7C424 303.7 424.7 327 425.6 327C426.1 327 426.5 310.8 427 310.8C427.5 310.8 427.8 311.7 428.3 311.7C428.8 311.7 429.2 310 429.7 310C430 310 430.2 320.6 430.6 320.6C431.1 320.6 431.5 309.2 432 309.2C432.6 309.2 433 320.6 433.6 320.6C433.9 320.6 434.2 318.3 434.6 318.3C434.9 318.3 435.2 324.1 435.6 324.1C436.2 324.1 436.6 310 437.2 310C437.6 310 437.9 317.8 438.3 317.8C439 317.8 439.5 305.9 440.2 305.9C441 305.9 441.5 311.4 442.2 315.6C442.9 319.3 443.4 328.1 444 328.1C444.6 328.1 445 309.4 445.6 309.4C446 309.4 446.3 311.7 446.7 311.7C447.2 311.7 447.5 303.9 448 303.9C448.4 303.9 448.7 325.9 449.1 325.9C450 325.9 450.7 325.6 451.7 325C452.5 324.4 453.1 298.1 453.9 298.1C454.8 298.1 455.4 326.9 456.3 326.9C457 326.9 457.5 310 458.1 310C458.7 310 459.2 326.7 459.8 326.7C460.7 326.7 461.5 300.3 462.4 300.3C463.3 300.3 463.9 334.4 464.8 334.4C465.7 334.4 466.3 302.6 467.2 302.6C467.8 302.6 468.3 303.4 468.9 305C469.6 306.8 470.1 326.7 470.8 326.7C471.8 326.7 472.6 304.2 473.7 304.2C474.3 304.2 474.7 305.2 475.3 306.7C476.1 308.6 476.7 327.8 477.4 327.8C478.3 327.8 478.9 304.4 479.8 304.4C480.5 304.4 481 306.6 481.7 308.9C482.6 312 483.3 325 484.2 325C484.9 325 485.4 321.3 486.1 317.2C486.7 313.6 487.2 299.7 487.8 299.7C488.8 299.7 489.5 326.9 490.6 326.9C491.6 326.9 492.5 304.8 493.6 304.8C494.2 304.8 494.7 307.2 495.3 310C495.9 312.6 496.4 323 497 323C497.5 323 497.8 322.7 498.3 322.2C499.3 321.2 500.1 304.4 501.1 304.4C501.9 304.4 502.5 328.9 503.3 328.9C504.4 328.9 505.2 303.7 506.3 303.7C507.1 303.7 507.7 323.7 508.6 323.7C509.3 323.7 509.8 322.4 510.6 320.6C511.4 318.4 512.1 304.4 513 304.4C513.8 304.4 514.3 334.1 515.1 334.1C515.9 334.1 516.5 294.8 517.3 294.8C518.3 294.8 519 329.8 520 329.8C520.9 329.8 521.6 300.2 522.6 300.2C523.6 300.2 524.5 326.7 525.6 326.7C526.5 326.7 527.2 307.2 528.1 307.2C528.8 307.2 529.3 308 530 309.4C530.6 310.8 531.1 327.8 531.7 327.8C532.3 327.8 532.7 306.7 533.3 306.7C534.4 306.7 535.2 321.1 536.2 321.1C537 321.1 537.6 310 538.4 310C539.2 310 539.8 312.1 540.6 313.9C541.4 316 542.1 322.2 543 322.2C543.7 322.2 544.2 304.8 544.9 304.8C546.1 304.8 546.9 323 548.1 323C549.2 323 550 308.9 551.1 308.9C552 308.9 552.7 320 553.7 320C554.4 320 554.9 309.8 555.6 309.8C556.1 309.8 556.5 321.1 557 321.1C557.7 321.1 558.2 310.8 558.9 310.8C559.6 310.8 560.2 319.2 560.9 319.2C561.6 319.2 562.1 309.8 562.8 309.8C563.5 309.8 564 326.3 564.8 326.3C566.1 326.3 567 305.2 568.3 305.2C569.5 305.2 570.3 328.9 571.4 328.9C572.5 328.9 573.4 298.7 574.4 298.7C575.5 298.7 576.3 329.8 577.3 329.8C578.5 329.8 579.5 303.7 580.7 303.7C581.7 303.7 582.5 325.8 583.6 325.8C584.7 325.8 585.5 304.7 586.7 304.7C587.7 304.7 588.4 325.3 589.4 325.3C590.4 325.3 591.1 305 592 305C592.7 305 593.2 307.6 593.9 310.6C594.5 313.2 594.9 323.9 595.6 323.9C596.4 323.9 597 312.6 597.8 312.6C598.5 312.6 599 321.1 599.8 321.1C600.4 321.1 600.9 307.4 601.6 307.4C602.6 307.4 603.4 322.8 604.4 322.8C605.5 322.8 606.2 307 607.2 307C607.8 307 608.3 308.5 608.9 310.6C609.5 312.7 609.9 325.9 610.6 325.9C611.6 325.9 612.5 301.7 613.6 301.7C614.5 301.7 615.2 327 616.1 327C617.5 327 618.6 309.2 620 309.2C620.8 309.2 621.4 310.7 622.2 312.8C623 314.8 623.6 326.9 624.4 326.9C625.4 326.9 626.1 297.8 627 297.8C627.9 297.8 628.6 329.4 629.6 329.4C630.4 329.4 631 308.3 631.9 308.3C633.1 308.3 634.1 320.9 635.3 320.9C636.3 320.9 637 308.1 637.9 308.1C639.1 308.1 640.1 321.1 641.3 321.1C642.8 321.1 643.9 307.6 645.3 307.6C646.7 307.6 647.7 326.3 649.1 326.3C650 326.3 650.7 297 651.6 297C652.5 297 653.2 334.4 654.1 334.4C655.4 334.4 656.3 304.4 657.6 304.4C658.5 304.4 659.3 329.7 660.2 329.7C661 329.7 661.6 305.6 662.4 305.6C663.6 305.6 664.4 323.9 665.6 323.9C666.5 323.9 667.2 302.2 668.1 302.2C669.1 302.2 669.8 326.7 670.8 326.7C671.9 326.7 672.8 301.3 673.9 301.3C674.8 301.3 675.4 326.3 676.3 326.3C677.3 326.3 678.1 307.4 679.1 307.4C680.1 307.4 680.9 327.6 681.9 327.6C682.9 327.6 683.6 300.6 684.6 300.6C685.5 300.6 686.3 326.4 687.2 326.4C688.8 326.4 689.9 305.6 691.4 305.6C692.2 305.6 692.8 307.5 693.6 310.6C694.2 313 694.6 329.2 695.2 329.2C696.4 329.2 697.2 300 698.3 300C699.1 300 699.7 313.5 700.6 317.2C701.6 321.9 702.3 326.1 703.3 326.1C704.3 326.1 705.1 297.6 706.1 297.6C707 297.6 707.7 330 708.6 330C709.6 330 710.4 308.6 711.4 308.6C712.1 308.6 712.6 318.3 713.3 318.3C713.9 318.3 714.3 313 714.8 313C715.7 313 716.5 319.1 717.4 319.1C718.4 319.1 719.1 317.8 720 316.1C720.8 314.6 721.4 306.7 722.2 306.7C723 306.7 723.6 332.8 724.4 332.8C725.3 332.8 725.9 295 726.8 295C728 295 728.8 333.9 730 333.9C731.7 333.9 733 300.8 734.7 300.8C735.7 300.8 736.4 338.7 737.4 338.7C738.7 338.7 739.7 295.9 741 295.9C742.1 295.9 742.8 337.2 743.9 337.2C745 337.2 745.8 303.3 746.9 303.3C748 303.3 748.9 309 750 313.9C750.7 317 751.3 325.2 752 325.2C752.8 325.2 753.3 306.1 754.1 306.1C755 306.1 755.6 322 756.4 322C757.6 322 758.4 307.8 759.6 307.8C760.4 307.8 761 326.1 761.9 326.1C763.2 326.1 764.2 302.8 765.6 302.8C766.6 302.8 767.3 323.1 768.3 323.1C768.9 323.1 769.4 322 770 320.6C770.9 318.4 771.6 305.6 772.6 305.6C773.6 305.6 774.3 325.8 775.3 325.8C776.4 325.8 777.2 308.7 778.3 308.7C779.1 308.7 779.6 317 780.3 317C780.8 317 781.2 313.9 781.7 313.9C782.7 313.9 783.4 314.7 784.4 316.1C785 316.8 785.4 321.1 785.9 321.1C786.7 321.1 787.4 303.9 788.2 303.9C789.4 303.9 790.3 330.8 791.4 330.8C792.4 330.8 793.1 296.9 794.1 296.9C795.2 296.9 795.9 327.2 797 327.2C798.2 327.2 799 305.3 800.2 305.3C801.3 305.3 802.1 321.9 803.1 321.9C804 321.9 804.7 310.6 805.6 310.6C806.4 310.6 807 320.2 807.8 320.2C808.7 320.2 809.4 307.4 810.3 307.4C811.1 307.4 811.7 323.3 812.6 323.3C813.9 323.3 815 306.7 816.3 306.7C817.3 306.7 818 322.2 818.9 322.2C819.9 322.2 820.7 312.6 821.7 312.6C822.7 312.6 823.4 312.7 824.4 313C825.1 313.2 825.6 319.2 826.3 319.2C827.1 319.2 827.6 313.9 828.3 313.9C828.7 313.9 829 314.4 829.4 314.4C829.9 314.4 830.3 311.7 830.8 311.7C831.5 311.7 832 322 832.8 322C833.8 322 834.5 309.2 835.6 309.2C837.1 309.2 838.2 321.9 839.7 321.9C840.7 321.9 841.5 300.6 842.6 300.6C843.6 300.6 844.3 338.7 845.3 338.7C846.4 338.7 847.2 288.6 848.3 288.6C849.5 288.6 850.3 340.8 851.4 340.8C852.5 340.8 853.4 293 854.4 293C855.7 293 856.6 335 857.8 335C858.9 335 859.7 294.8 860.8 294.8C861.8 294.8 862.6 330.2 863.7 330.2C864.9 330.2 865.8 299.8 867 299.8C868.5 299.8 869.6 332.8 871.1 332.8C872.1 332.8 872.9 295 873.9 295C874.8 295 875.5 328.7 876.4 328.7C876.9 328.7 877.3 328.1 877.8 327.2C878.6 325.7 879.2 300.8 880 300.8C881.5 300.8 882.6 329.1 884.1 329.1C885.4 329.1 886.3 298 887.6 298C888.6 298 889.3 332.4 890.3 332.4C891.6 332.4 892.6 300.8 893.9 300.8C894.9 300.8 895.7 329.7 896.8 329.7C898 329.7 898.8 307.8 900 307.8C901 307.8 901.8 310.9 902.8 313.9C903.6 316.3 904.2 323.9 905 323.9C905.8 323.9 906.4 309.4 907.2 309.4C908 309.4 908.6 319.7 909.4 319.7C910.3 319.7 910.9 309.4 911.7 309.4C912.4 309.4 912.9 322.4 913.7 322.4C914.6 322.4 915.4 308.3 916.3 308.3C917.7 308.3 918.7 323.3 920 323.3C920.9 323.3 921.6 307.4 922.4 307.4C923.5 307.4 924.2 323.1 925.2 323.1C926.4 323.1 927.2 310.2 928.3 310.2C928.9 310.2 929.4 310.5 930 311.1C930.7 311.8 931.3 326.1 932 326.1C932.8 326.1 933.3 304.1 934.1 304.1C935.2 304.1 936.1 322.6 937.2 322.6C938.2 322.6 938.8 306.9 939.8 306.9C940.7 306.9 941.5 326.9 942.4 326.9C943.5 326.9 944.2 297.6 945.2 297.6C946.4 297.6 947.3 346.3 948.6 346.3C949.6 346.3 950.4 273.9 951.4 273.9C952.7 273.9 953.6 340.2 954.8 340.2C956 340.2 956.8 303.3 958 303.3C959.5 303.3 960.7 335.2 962.2 335.2C963.4 335.2 964.3 292 965.6 292C966.8 292 967.7 325.3 968.9 325.3C969.6 325.3 970.1 298.7 970.8 298.7C971.4 298.7 971.8 326.7 972.4 326.7C973 326.7 973.4 323.3 973.9 323.3C974.6 323.3 975.1 327.2 975.8 327.2C977.2 327.2 978.2 294.8 979.6 294.8C980.9 294.8 982 325.9 983.3 325.9C984.5 325.9 985.5 309.8 986.7 309.8C987.4 309.8 987.9 326.9 988.6 326.9C990.1 326.9 991.2 308.3 992.8 308.3C993.4 308.3 993.8 320.2 994.4 320.2C995.3 320.2 996 307 996.9 307C997.4 307 997.8 309.4 998.3 309.4C998.8 309.4 999.2 298.7 999.7 298.7C1000.4 298.7 1000.9 328.9 1001.7 328.9C1002.8 328.9 1003.6 310.8 1004.8 310.8C1005.3 310.8 1005.8 319.8 1006.3 319.8C1007.3 319.8 1008 318.9 1008.9 317.8C1010.4 316 1011.5 305.2 1013 305.2C1013.6 305.2 1014.1 326.7 1014.7 326.7C1015.9 326.7 1016.8 304.7 1018 304.7C1019.1 304.7 1019.8 327.8 1020.9 327.8C1022 327.8 1022.8 304.4 1023.9 304.4C1025.1 304.4 1026 325 1027.2 325C1028.7 325 1029.8 308.1 1031.3 308.1C1032.3 308.1 1033.1 325 1034.1 325C1035 325 1035.6 297.6 1036.4 297.6C1037.5 297.6 1038.4 327.8 1039.4 327.8C1040.5 327.8 1041.2 305.6 1042.2 305.6C1043.4 305.6 1044.3 333 1045.6 333C1047 333 1048.1 298 1049.6 298C1050.5 298 1051.3 305.7 1052.2 310C1053.1 313.9 1053.8 320.6 1054.7 320.6C1055.6 320.6 1056.3 313 1057.2 313C1058.6 313 1059.6 325.9 1060.9 325.9C1062.3 325.9 1063.3 302.8 1064.7 302.8C1066.6 302.8 1068.1 323.7 1070 323.7C1071 323.7 1071.8 322.6 1072.8 320.6C1073.7 318.8 1074.3 298.3 1075.2 298.3C1076.2 298.3 1077 323 1078 323C1079.1 323 1079.8 307.6 1080.9 307.6C1081.9 307.6 1082.6 325.8 1083.6 325.8C1084.5 325.8 1085.2 307.2 1086.1 307.2C1087.3 307.2 1088.2 320 1089.4 320C1090.5 320 1091.4 311.7 1092.4 311.7C1093.2 311.7 1093.7 315.6 1094.4 315.6C1095.3 315.6 1095.9 301.7 1096.8 301.7C1097.7 301.7 1098.5 329.1 1099.4 329.1C1100.7 329.1 1101.6 307.2 1102.8 307.2C1103.6 307.2 1104.2 321.9 1105 321.9C1106.5 321.9 1107.6 311.3 1109.1 311.3C1110.2 311.3 1111.1 319.2 1112.2 319.2C1113.2 319.2 1114 317.7 1115 316.7C1116.4 315.2 1117.5 311.9 1118.9 311.9C1119.6 311.9 1120.1 319.1 1120.8 319.1C1122 319.1 1122.8 300 1124 300C1124.9 300 1125.6 334.1 1126.4 334.1C1127.4 334.1 1128.1 305.6 1129.1 305.6C1130.2 305.6 1131.1 325 1132.2 325C1133.2 325 1133.8 307.2 1134.8 307.2C1135.4 307.2 1135.8 314.4 1136.4 314.4C1137.1 314.4 1137.6 310.6 1138.3 310.6C1139.5 310.6 1140.3 322.8 1141.4 322.8C1142.7 322.8 1143.7 297.4 1145 297.4C1146 297.4 1146.8 336.9 1147.8 336.9C1148.8 336.9 1149.6 297.4 1150.7 297.4C1151.6 297.4 1152.4 329.2 1153.3 329.2C1154.5 329.2 1155.5 310.2 1156.7 310.2C1157.4 310.2 1157.9 315 1158.6 315C1159.3 315 1159.8 310.6 1160.6 310.6C1161.2 310.6 1161.6 322 1162.2 322C1163.2 322 1164 310.3 1165 310.3C1166.3 310.3 1167.3 320 1168.6 320C1169.6 320 1170.5 304.7 1171.6 304.7C1172.5 304.7 1173.2 330.3 1174.1 330.3C1175.3 330.3 1176.2 299.4 1177.4 299.4C1178.5 299.4 1179.2 324.2 1180.2 324.2C1181.4 324.2 1182.3 308.6 1183.6 308.6C1184.2 308.6 1184.7 316.3 1185.3 316.3C1185.9 316.3 1186.4 307.4 1187 307.4C1187.9 307.4 1188.6 331.1 1189.4 331.1C1190.4 331.1 1191.1 303.6 1192 303.6C1193.4 303.6 1194.5 327.4 1195.9 327.4C1196.9 327.4 1197.7 302 1198.7 302C1199.6 302 1200.2 322.2 1201.1 322.2C1201.8 322.2 1202.3 313.3 1203 313.3C1203.7 313.3 1204.3 319.2 1205 319.2C1205.9 319.2 1206.6 309.4 1207.6 309.4C1208.4 309.4 1209.1 321.9 1210 321.9C1211 321.9 1211.8 305.9 1212.8 305.9C1213.7 305.9 1214.3 326.3 1215.2 326.3C1216.6 326.3 1217.6 301.7 1218.9 301.7C1219.9 301.7 1220.7 330.3 1221.7 330.3C1222.7 330.3 1223.4 303.3 1224.4 303.3C1225.6 303.3 1226.4 330.6 1227.6 330.6C1228.6 330.6 1229.5 305.9 1230.6 305.9C1231.8 305.9 1232.7 319.7 1233.9 319.7C1234.5 319.7 1234.9 319.4 1235.6 318.9C1236.4 318.2 1237 307.6 1237.8 307.6C1238.9 307.6 1239.7 321.7 1240.8 321.7C1241.6 321.7 1242.2 308.9 1243 308.9C1244 308.9 1244.8 321.7 1245.8 321.7C1246.5 321.7 1247 320 1247.8 318.3C1248.9 315.9 1249.7 307.4 1250.8 307.4C1251.6 307.4 1252.3 325 1253.1 325C1254 325 1254.7 308.1 1255.6 308.1C1256.4 308.1 1257.1 319.8 1258 319.8C1258.8 319.8 1259.4 309.8 1260.2 309.8C1261.5 309.8 1262.4 323.9 1263.7 323.9C1264.8 323.9 1265.6 308.1 1266.7 308.1C1267.6 308.1 1268.3 317.8 1269.2 317.8C1270.3 317.8 1271.1 317 1272.2 316.1C1273 315.4 1273.6 312.8 1274.4 312.8C1275.7 312.8 1276.6 316.1 1277.8 316.1C1279.4 316.1 1280.6 315 1282.2 315C1284.6 315 1286.3 315 1288.7 315.2" fill="none" stroke="#000" stroke-width="2.08" stroke-linejoin="round" stroke-linecap="butt"/></g>
<g clip-path="url(#cp1)"><path d="M936.4 384.5V247.5" stroke="#00bfbf" stroke-width="2.78" fill="none" stroke-dasharray="10.28 4.44"/><path d="M959.5 384.5V247.5" stroke="#00bfbf" stroke-width="2.78" fill="none" stroke-dasharray="10.28 4.44"/></g>
<rect x="225.5" y="247.5" width="1113.0" height="136.0" fill="none" stroke="#000" stroke-width="1.1"/>
<text x="237" y="265.1" font-size="13.89" text-anchor="start" >E</text>
<g clip-path="url(#cp2)"><path d="M274.4 454.4C277.9 454.7 280.4 454.7 283.9 454.7C284.9 454.7 285.7 453 286.7 453C287.6 453 288.2 457 289.1 457C290 457 290.7 452.8 291.7 452.8C292.5 452.8 293.1 453.9 293.9 453.9C294.6 453.9 295.1 453.3 295.8 453.3C296.5 453.3 297 461.1 297.8 461.1C298.8 461.1 299.5 441.1 300.6 441.1C301.6 441.1 302.5 471.1 303.6 471.1C304.6 471.1 305.3 436.3 306.3 436.3C307.3 436.3 308.1 468.9 309.1 468.9C310.3 468.9 311.2 439.7 312.4 439.7C313.5 439.7 314.3 469.8 315.3 469.8C316.5 469.8 317.5 440 318.7 440C319.8 440 320.7 469.4 321.9 469.4C323 469.4 323.9 445.9 325 445.9C325.8 445.9 326.4 455.2 327.2 456.7C328 458 328.5 458.9 329.2 458.9C329.8 458.9 330.3 446.3 330.9 446.3C331.8 446.3 332.4 466.9 333.3 466.9C334.2 466.9 334.9 437.6 335.8 437.6C336.7 437.6 337.4 475.9 338.3 475.9C339.2 475.9 339.8 434.1 340.7 434.1C341.6 434.1 342.4 478.6 343.3 478.6C344.4 478.6 345.2 425 346.3 425C347.3 425 348 487.8 349 487.8C350.1 487.8 350.9 425.2 352 425.2C353.2 425.2 354 485.6 355.2 485.6C356.3 485.6 357.1 424.4 358.2 424.4C359.5 424.4 360.4 481.1 361.7 481.1C362.8 481.1 363.6 423.6 364.7 423.6C365.8 423.6 366.6 482.8 367.8 482.8C369.4 482.8 370.6 427.8 372.2 427.8C373 427.8 373.6 490 374.4 490C375.9 490 377.1 415.6 378.6 415.6C379.6 415.6 380.4 490.6 381.4 490.6C382.7 490.6 383.6 431.7 384.8 431.7C385.3 431.7 385.6 432.5 386.1 433.9C386.9 436.2 387.5 481.3 388.3 481.3C389.5 481.3 390.5 425.6 391.7 425.6C392.6 425.6 393.3 472 394.2 472C394.9 472 395.4 468.8 396.1 462.8C396.6 458.6 397 424.7 397.4 424.7C398 424.7 398.4 460.4 398.9 465C399.7 472.1 400.3 475.9 401.1 475.9C402.1 475.9 402.9 433.9 403.9 433.9C404.8 433.9 405.5 480 406.4 480C407.2 480 407.8 426.1 408.6 426.1C409.3 426.1 409.8 451.1 410.6 458.3C411.3 465.6 411.8 472.8 412.6 472.8C413.6 472.8 414.3 440.8 415.3 440.8C415.8 440.8 416.2 444.8 416.7 449.4C417.2 454.1 417.5 473.1 418 473.1C418.9 473.1 419.6 439.7 420.6 439.7C421.2 439.7 421.6 469.8 422.2 469.8C423 469.8 423.5 444.4 424.2 444.4C424.9 444.4 425.4 444.6 426.1 445C426.6 445.3 427 471.7 427.4 471.7C428.4 471.7 429.1 444.4 430 444.4C430.6 444.4 431.1 445.7 431.7 448.3C432.2 450.5 432.5 481.9 433 481.9C434.3 481.9 435.3 426.7 436.7 426.7C437.4 426.7 437.9 479.7 438.6 479.7C439.9 479.7 440.9 430.6 442.2 430.6C443.4 430.6 444.3 481.1 445.6 481.1C446.6 481.1 447.3 425 448.3 425C448.9 425 449.4 437.7 450 447.8C450.5 456.5 450.9 477.8 451.4 477.8C452.5 477.8 453.4 442.8 454.4 442.8C455.3 442.8 455.9 444.2 456.7 446.7C457.6 449.3 458.2 475 459.1 475C459.9 475 460.5 439.2 461.3 439.2C462.5 439.2 463.3 471.7 464.4 471.7C465.8 471.7 466.8 440 468.1 440C468.7 440 469.1 472.6 469.7 472.6C470.3 472.6 470.8 441.1 471.4 441.1C472.1 441.1 472.5 448.4 473.1 452.8C473.5 455.4 473.7 460.2 474.1 460.2C474.9 460.2 475.5 443.7 476.3 443.7C477 443.7 477.5 471.3 478.1 471.3C479.1 471.3 479.9 432.2 480.9 432.2C481.7 432.2 482.3 466.3 483.1 466.3C483.9 466.3 484.5 451.7 485.3 451.7C485.8 451.7 486.2 453.9 486.7 453.9C487.2 453.9 487.6 448.7 488.1 448.7C488.9 448.7 489.5 458.9 490.3 458.9C491.1 458.9 491.7 447 492.6 447C493.2 447 493.8 467.8 494.4 467.8C495.3 467.8 496 432.4 496.9 432.4C497.9 432.4 498.7 482.4 499.7 482.4C500.6 482.4 501.4 433.7 502.3 433.7C503.3 433.7 504 463.9 505 463.9C505.6 463.9 506.1 451.4 506.7 451.4C507.2 451.4 507.5 459.1 508 459.1C508.5 459.1 508.9 448.9 509.4 448.9C510.1 448.9 510.5 462.4 511.1 462.4C512 462.4 512.7 439.8 513.7 439.8C514.6 439.8 515.2 467.2 516.1 467.2C517.3 467.2 518.2 448.6 519.4 448.6C520.1 448.6 520.5 457 521.1 458.1C521.8 459.4 522.4 460.2 523.1 460.2C523.7 460.2 524.2 448.6 524.8 448.6C525.7 448.6 526.3 456.7 527.2 456.7C527.8 456.7 528.3 453.9 528.9 453.9C529.4 453.9 529.7 461.1 530.2 461.1C531 461.1 531.5 440.8 532.2 440.8C532.8 440.8 533.3 463.6 533.9 463.6C534.9 463.6 535.7 461.9 536.7 458.9C537.4 456.8 537.9 440.9 538.6 440.9C539.9 440.9 540.9 470.2 542.2 470.2C543.1 470.2 543.8 434.4 544.7 434.4C545.6 434.4 546.3 472 547.2 472C548.1 472 548.7 443.7 549.6 443.7C550.6 443.7 551.4 468.9 552.4 468.9C553.4 468.9 554.1 434.1 555.1 434.1C556 434.1 556.6 478.6 557.4 478.6C558.6 478.6 559.4 439.8 560.6 439.8C561.6 439.8 562.5 471.1 563.6 471.1C564.3 471.1 564.8 437.2 565.6 437.2C566.4 437.2 567 468.7 567.8 468.7C568.9 468.7 569.8 442 570.9 442C572 442 572.8 468.1 573.9 468.1C574.9 468.1 575.7 440.8 576.7 440.8C577.6 440.8 578.2 472.2 579.1 472.2C580.4 472.2 581.3 437.8 582.6 437.8C583.5 437.8 584.3 473 585.2 473C586.2 473 587 436.9 588 436.9C588.8 436.9 589.4 462.2 590.2 462.2C591 462.2 591.5 459.6 592.2 457C593.4 453 594.2 438 595.3 438C596.3 438 597 475.2 598 475.2C599.1 475.2 600 431.3 601.1 431.3C602.2 431.3 603.1 467.2 604.2 467.2C605.1 467.2 605.8 461.6 606.7 456.7C607.7 451.1 608.4 435 609.4 435C610.4 435 611.1 479.1 612 479.1C613.1 479.1 613.9 434.4 615 434.4C616 434.4 616.8 474.4 617.8 474.4C619.1 474.4 620.1 436.7 621.4 436.7C622.5 436.7 623.4 478 624.4 478C625.4 478 626.1 428.7 627 428.7C627.9 428.7 628.6 465.9 629.4 465.9C630.3 465.9 630.9 465.4 631.7 464.4C632.8 463.2 633.6 433.9 634.7 433.9C635.7 433.9 636.4 474.1 637.4 474.1C638.4 474.1 639.1 441.7 640 441.7C640.7 441.7 641.2 458.3 641.9 458.3C642.5 458.3 643 446.7 643.7 446.7C644.6 446.7 645.2 470 646.1 470C647.1 470 647.9 443.3 648.9 443.3C649.8 443.3 650.4 462.2 651.3 462.2C652.3 462.2 653 450.7 653.9 450.3C654.5 450.1 654.9 450 655.6 450C656.1 450 656.5 463.9 657 463.9C658.1 463.9 658.9 447.2 660 447.2C661 447.2 661.8 463.7 662.8 463.7C664 463.7 664.9 446.7 666.1 446.7C667.2 446.7 668.1 458.9 669.2 458.9C670.2 458.9 670.9 444.8 671.9 444.8C672.8 444.8 673.5 462.8 674.4 462.8C675.5 462.8 676.4 444.4 677.4 444.4C678.5 444.4 679.3 465.9 680.3 465.9C681.2 465.9 681.9 450 682.8 450C683.3 450 683.6 450.8 684.1 450.8C684.6 450.8 684.9 449.4 685.3 449.4C686.1 449.4 686.7 465.6 687.4 465.6C688.5 465.6 689.2 445.9 690.2 445.9C691.1 445.9 691.7 465.6 692.6 465.6C693.3 465.6 693.9 444.4 694.7 444.4C695.6 444.4 696.3 464.4 697.2 464.4C698 464.4 698.5 449.8 699.2 449.8C700.1 449.8 700.8 449.8 701.7 450C702.6 450.2 703.2 463 704.1 463C705.2 463 705.9 447.6 707 447.6C707.7 447.6 708.2 464.1 708.9 464.1C710 464.1 710.8 446.4 711.9 446.4C713.2 446.4 714.2 463 715.6 463C716.2 463 716.8 446.7 717.4 446.7C718.3 446.7 718.9 462 719.8 462C720.5 462 721 444.7 721.7 444.7C722.7 444.7 723.4 468.1 724.4 468.1C725.8 468.1 726.8 438.1 728.1 438.1C729.3 438.1 730.2 468 731.4 468C733 468 734.2 438.3 735.8 438.3C736.8 438.3 737.6 481.9 738.7 481.9C739.8 481.9 740.6 430.6 741.7 430.6C742.8 430.6 743.6 469.4 744.7 469.4C745.5 469.4 746.1 450.3 746.9 450.3C747.4 450.3 747.8 458.1 748.3 458.1C749.1 458.1 749.6 443.3 750.3 443.3C751.1 443.3 751.7 469.2 752.4 469.2C753.5 469.2 754.3 446.7 755.3 446.7C756.4 446.7 757.2 463.1 758.3 463.1C759.4 463.1 760.2 442.4 761.3 442.4C762.4 442.4 763.2 470.8 764.2 470.8C765.4 470.8 766.3 433.9 767.4 433.9C768.5 433.9 769.2 485.6 770.2 485.6C771.2 485.6 772 432.2 773 432.2C774.1 432.2 774.8 471.9 775.9 471.9C777.2 471.9 778.1 443.1 779.4 443.1C780.5 443.1 781.4 459.7 782.4 459.7C783.3 459.7 783.9 448.6 784.7 448.6C785.7 448.6 786.4 471.7 787.4 471.7C788.4 471.7 789.1 433.3 790 433.3C791.1 433.3 792 473.6 793.1 473.6C794.2 473.6 795 431.4 796.1 431.4C797 431.4 797.7 470 798.6 470C799.6 470 800.3 449.4 801.3 449.4C801.9 449.4 802.4 456.1 803 456.1C803.6 456.1 804.1 449.4 804.7 449.4C805.8 449.4 806.6 452.4 807.8 456.1C808.5 458.5 809 468.3 809.8 468.3C810.7 468.3 811.3 430.3 812.2 430.3C813.3 430.3 814.1 480.6 815.2 480.6C816.4 480.6 817.3 432.8 818.6 432.8C819.6 432.8 820.3 480.9 821.3 480.9C822.3 480.9 823 430.9 823.9 430.9C825 430.9 825.8 475.2 826.9 475.2C828 475.2 828.9 440.6 830 440.6C831 440.6 831.8 466.9 832.8 466.9C833.6 466.9 834.2 443.3 835 443.3C835.9 443.3 836.6 463 837.6 463C838.3 463 838.9 440.9 839.7 440.9C840.5 440.9 841.2 470 842 470C843.2 470 844.1 443.3 845.3 443.3C846.6 443.3 847.6 467.8 848.9 467.8C849.8 467.8 850.5 444.2 851.4 444.2C852.1 444.2 852.6 458.3 853.3 458.3C854.5 458.3 855.5 456.7 856.7 456.7C857.2 456.7 857.5 460.2 858 460.2C858.8 460.2 859.5 440.6 860.3 440.6C861.3 440.6 862.1 469.2 863.1 469.2C864.1 469.2 864.9 442.8 865.9 442.8C866.8 442.8 867.4 464.4 868.3 464.4C869.2 464.4 869.9 441.3 870.8 441.3C871.8 441.3 872.5 473.3 873.6 473.3C874.7 473.3 875.5 434.1 876.7 434.1C877.7 434.1 878.4 475 879.4 475C880.5 475 881.2 441.4 882.2 441.4C883 441.4 883.6 446.4 884.4 450.6C885.1 453.6 885.5 461.4 886.1 461.4C886.9 461.4 887.5 459.1 888.3 456.1C889.1 453.2 889.7 439.2 890.6 439.2C891.5 439.2 892.2 470.3 893.1 470.3C894.1 470.3 894.8 443.7 895.8 443.7C896.4 443.7 896.9 446.3 897.6 449.4C898.2 452.8 898.8 468.3 899.4 468.3C900.7 468.3 901.6 439.8 902.8 439.8C903.9 439.8 904.7 470.8 905.8 470.8C906.7 470.8 907.4 444.2 908.3 444.2C909.5 444.2 910.5 461.7 911.7 461.7C912.9 461.7 913.8 446.3 915 446.3C915.7 446.3 916.2 465.6 916.9 465.6C917.9 465.6 918.7 440 919.8 440C920.9 440 921.7 465.6 922.8 465.6C924.3 465.6 925.5 443.7 927 443.7C927.8 443.7 928.4 460.2 929.2 460.2C929.8 460.2 930.2 456.7 930.8 456.7C931.2 456.7 931.6 461.9 932 461.9C932.7 461.9 933.2 445.9 933.9 445.9C934.6 445.9 935.1 448.4 935.8 451.1C936.5 454 937 464.8 937.8 464.8C938.6 464.8 939.2 439.4 940 439.4C941 439.4 941.8 471.1 942.8 471.1C943.8 471.1 944.5 437.2 945.6 437.2C946.8 437.2 947.7 478.3 948.9 478.3C949.9 478.3 950.7 435 951.7 435C952.7 435 953.4 462.2 954.4 462.2C955.1 462.2 955.5 452.8 956.1 452.8C956.6 452.8 957 459.7 957.4 459.7C958.6 459.7 959.5 440.6 960.7 440.6C961.9 440.6 962.9 477.2 964.1 477.2C965.3 477.2 966.2 439.7 967.4 439.7C968.7 439.7 969.6 469.4 970.9 469.4C972.3 469.4 973.4 440.8 974.8 440.8C975.7 440.8 976.3 471.9 977.2 471.9C977.8 471.9 978.3 452.8 978.9 452.8C979.5 452.8 979.9 458.1 980.6 458.1C981.5 458.1 982.2 447.8 983.1 447.8C983.7 447.8 984.2 462.8 984.8 462.8C986.3 462.8 987.4 440.6 988.9 440.6C990.1 440.6 991 471.3 992.2 471.3C993.2 471.3 994 440 995 440C996 440 996.8 478.6 997.8 478.6C999 478.6 999.9 428.7 1001.1 428.7C1002.1 428.7 1002.9 474.4 1003.9 474.4C1004.9 474.4 1005.7 433.7 1006.7 433.7C1007.7 433.7 1008.4 478.3 1009.4 478.3C1010.4 478.3 1011.1 439.4 1012 439.4C1012.9 439.4 1013.6 443.3 1014.4 448.3C1015.1 451.8 1015.5 467.2 1016.1 467.2C1017.6 467.2 1018.7 437.8 1020.2 437.8C1021.4 437.8 1022.2 479.4 1023.3 479.4C1024.4 479.4 1025.2 431.7 1026.3 431.7C1027.4 431.7 1028.2 480.2 1029.2 480.2C1030.3 480.2 1031.1 428.6 1032.2 428.6C1033.6 428.6 1034.7 465.6 1036.1 465.6C1037.2 465.6 1038.1 434.4 1039.2 434.4C1040 434.4 1040.6 477.6 1041.4 477.6C1042.7 477.6 1043.6 440.8 1044.8 440.8C1046.3 440.8 1047.4 470.2 1048.9 470.2C1050.2 470.2 1051.2 435.6 1052.6 435.6C1053.6 435.6 1054.3 466.3 1055.3 466.3C1056.6 466.3 1057.6 443.9 1058.9 443.9C1059.8 443.9 1060.5 473.9 1061.4 473.9C1062.3 473.9 1063 435 1063.9 435C1064.7 435 1065.3 472.8 1066.1 472.8C1067 472.8 1067.7 447.4 1068.7 447.4C1069.6 447.4 1070.2 450 1071.1 452.8C1071.9 455.3 1072.5 465.2 1073.3 465.2C1074.4 465.2 1075.2 437.6 1076.3 437.6C1077.3 437.6 1078 475.8 1079 475.8C1079.9 475.8 1080.6 426.7 1081.4 426.7C1082.4 426.7 1083.1 476.1 1084.1 476.1C1085.9 476.1 1087.1 439.7 1088.9 439.7C1089.7 439.7 1090.3 463.9 1091.1 463.9C1091.8 463.9 1092.4 453 1093.1 453C1094 453 1094.7 458.1 1095.6 458.1C1096.4 458.1 1097.1 439.4 1098 439.4C1099.1 439.4 1099.8 475.8 1100.9 475.8C1101.9 475.8 1102.6 432.6 1103.6 432.6C1104.7 432.6 1105.5 478.3 1106.7 478.3C1107.9 478.3 1108.8 431.1 1110 431.1C1111.1 431.1 1112 472.8 1113.1 472.8C1114.3 472.8 1115.2 434.1 1116.4 434.1C1117.5 434.1 1118.4 475.2 1119.4 475.2C1120.5 475.2 1121.2 435 1122.2 435C1123.4 435 1124.3 466.3 1125.6 466.3C1126.5 466.3 1127.2 442.8 1128.1 442.8C1128.9 442.8 1129.5 462.8 1130.3 462.8C1131.1 462.8 1131.7 450.6 1132.4 450.6C1133.3 450.6 1133.9 464.4 1134.7 464.4C1135.5 464.4 1136.1 430.8 1136.9 430.8C1137.8 430.8 1138.5 478 1139.4 478C1140.3 478 1141 442.8 1141.9 442.8C1142.7 442.8 1143.3 459.1 1144.1 459.1C1145.2 459.1 1145.9 448.7 1147 448.7C1148 448.7 1148.7 463 1149.7 463C1150.7 463 1151.4 445 1152.4 445C1153.4 445 1154.1 465.9 1155 465.9C1156 465.9 1156.8 445.6 1157.8 445.6C1158.6 445.6 1159.2 463.9 1160 463.9C1160.7 463.9 1161.2 446.4 1161.9 446.4C1162.6 446.4 1163.2 464.2 1163.9 464.2C1164.7 464.2 1165.3 445.2 1166.1 445.2C1167 445.2 1167.7 462 1168.7 462C1169.8 462 1170.7 446.1 1171.9 446.1C1172.8 446.1 1173.5 450 1174.4 453.9C1175.1 456.8 1175.6 465.9 1176.3 465.9C1177.5 465.9 1178.3 442.6 1179.4 442.6C1180.7 442.6 1181.6 469.7 1182.8 469.7C1184.1 469.7 1185.1 430 1186.4 430C1187.5 430 1188.4 472 1189.4 472C1190.7 472 1191.6 432 1192.8 432C1193.8 432 1194.5 475.9 1195.6 475.9C1196.7 475.9 1197.5 435.9 1198.7 435.9C1199.8 435.9 1200.6 470 1201.7 470C1202.6 470 1203.2 440.6 1204.1 440.6C1205.3 440.6 1206.2 466.1 1207.4 466.1C1208.3 466.1 1208.9 443.6 1209.7 443.6C1210.5 443.6 1211.1 460.9 1211.9 460.9C1212.7 460.9 1213.4 444.7 1214.2 444.7C1215.2 444.7 1215.9 465.9 1216.9 465.9C1217.9 465.9 1218.7 435.9 1219.7 435.9C1220.8 435.9 1221.6 475 1222.8 475C1223.8 475 1224.5 434.4 1225.6 434.4C1226.5 434.4 1227.2 467.2 1228.1 467.2C1229 467.2 1229.7 443.9 1230.7 443.9C1231.5 443.9 1232.2 466.4 1233 466.4C1233.8 466.4 1234.4 433.7 1235.2 433.7C1236.1 433.7 1236.7 480 1237.6 480C1238.6 480 1239.5 423.9 1240.6 423.9C1241.4 423.9 1242.1 479.8 1243 479.8C1244.1 479.8 1245 437.8 1246.1 437.8C1247.3 437.8 1248.2 472.2 1249.4 472.2C1250.7 472.2 1251.6 446.4 1252.8 446.4C1254.5 446.4 1255.7 462.6 1257.4 462.6C1258.2 462.6 1258.7 448.7 1259.4 448.7C1260.3 448.7 1260.9 449.8 1261.7 451.1C1262.7 452.8 1263.4 461.4 1264.4 461.4C1265.7 461.4 1266.7 448.9 1268 448.9C1269.3 448.9 1270.3 459.1 1271.7 459.1C1272.6 459.1 1273.3 452.2 1274.2 452.2C1275.1 452.2 1275.8 454.4 1276.7 454.4C1279.3 454.4 1281.3 453.9 1283.9 453.9C1285.6 453.9 1286.9 454.2 1288.7 454.7" fill="none" stroke="#000" stroke-width="2.08" stroke-linejoin="round" stroke-linecap="butt"/></g>
<path d="M368.45 387.5V522.5" stroke="#00bfbf" stroke-width="2.78" fill="none"/><path d="M940.6 387.5V522.5" stroke="#ff0000" stroke-width="2.78" fill="none"/><path d="M953.4 387.5V522.5" stroke="#008000" stroke-width="2.78" fill="none"/>
<rect x="225.5" y="387.5" width="1113.0" height="135.0" fill="none" stroke="#000" stroke-width="1.1"/>
<text x="237" y="404.1" font-size="13.89" text-anchor="start" >Z</text>
<g clip-path="url(#cp3)"><path d="M274.4 593.7C277.3 593.7 279.4 593.7 282.2 593.7C282.6 593.7 282.9 593.7 283.3 593.8C283.7 593.8 284 593.6 284.4 593.4C284.8 593.2 285.2 592.9 285.6 592.8C286 592.7 286.3 592.8 286.7 592.9C287.6 593.3 288.2 594 289.1 594.3C289.4 594.4 289.5 594.4 289.8 594.4C290.3 594.3 290.6 593.6 291.1 593.1C291.3 592.9 291.5 592.8 291.7 592.8C292.4 592.9 292.9 595.2 293.7 595.2C294.5 595.2 295.1 591 295.9 590.9C296.1 590.8 296.2 591 296.4 591.3C297.3 592.7 297.9 597 298.7 598.1C298.8 598.3 298.9 598.4 299.1 598.3C300 597.8 300.6 590.5 301.4 588.3C301.6 587.9 301.7 587.8 301.9 587.9C302.9 588.4 303.7 596.5 304.7 599.3C304.9 599.9 305.1 600.1 305.3 599.9C306.2 599.1 306.9 587.9 307.8 585.3C308.9 582.1 309.8 600.9 310.9 601.3C311.6 601.6 312.1 598.6 312.8 595.4C313.3 593.1 313.6 588.9 314.1 585.8C314.4 583.7 314.7 582.8 315 583.5C315.7 584.8 316.2 594.1 316.9 600.5C317.3 604.3 317.6 606.5 318 606.2C319.1 605.1 319.8 590 320.9 585.1C321.1 584.1 321.2 583.8 321.4 583.9C322.1 584.4 322.6 586.7 323.3 589.2C323.5 590 323.7 591.6 323.9 594.3C324.5 602.4 324.9 613.9 325.6 613.2C325.9 612.9 326.1 609.2 326.4 602.9C327.2 588.1 327.8 566.5 328.6 566.6C329.4 566.7 330 601.7 330.9 611.7C331.9 623.1 332.6 595.5 333.6 587.1C333.7 585.7 333.8 585 334 584.8C334.8 584 335.5 586.5 336.3 591.3C337 594.9 337.5 599 338.1 600.3C338.5 601.1 338.8 601.2 339.2 600.3C339.7 599.3 340.1 597.5 340.6 595.3C341.2 592.5 341.6 587 342.2 585.4C343.1 583.1 343.8 592.8 344.7 598.2C345.1 600.7 345.4 602 345.8 601.9C346.1 601.7 346.3 599 346.7 595.2C347.2 589.5 347.5 583.4 348 583.4C348.8 583.4 349.4 597.8 350.2 602.2C351.2 607.2 351.8 589.5 352.8 584.8C353.9 579.2 354.7 589.9 355.8 596.1C356.4 599.6 356.8 601.5 357.4 601.2C357.8 601 358 598.7 358.3 595.1C358.9 588.4 359.4 580.2 360 580.2C360.6 580.2 361.1 587.4 361.8 594C362.3 599.9 362.8 603.7 363.3 603.3C363.6 603.1 363.8 602 364 600C364.8 593.6 365.3 583.8 366.1 583.8C367 583.8 367.6 590.2 368.4 595.7C368.7 597.5 368.9 598.7 369.2 599.2C370 600.6 370.6 601.5 371.3 599.4C372.3 596.7 373 574.2 374 572.2C375.1 570.1 375.8 613.3 376.9 614.1C377.1 614.2 377.2 613.5 377.3 611.7C378.2 602.1 378.9 572.1 379.8 571.1C380 570.9 380.1 571.4 380.3 572.9C381.4 580.6 382.2 607.2 383.3 614.9C383.5 616.4 383.7 616.9 383.9 616.7C384.8 615.7 385.5 593.6 386.4 581C386.8 576 387.1 573.4 387.4 573.6C387.8 573.8 388 575.4 388.3 578.4C389.1 585.3 389.6 596.5 390.3 603.8C390.7 607.9 391 609.7 391.4 609.1C392.1 608.1 392.6 577.7 393.3 577.7C394.1 577.7 394.7 580.5 395.6 584.6C396.1 587.3 396.5 600.7 397 609C397.2 612.2 397.4 613.9 397.6 613.7C398.2 613.2 398.8 597.1 399.4 590.6C400.1 584.9 400.5 578.6 401.1 579.2C401.4 579.5 401.7 581.1 402 583.5C402.8 589.8 403.4 598.4 404.2 602C404.4 602.7 404.5 603.1 404.7 603.2C405.2 603.6 405.6 593.5 406.1 584.7C406.4 580 406.6 577 406.9 576.7C407.6 576.1 408.2 603.9 408.9 603.9C409.5 603.9 409.9 598 410.6 591.1C411 585.5 411.4 583 411.9 580.9C412.5 578.3 412.9 581.4 413.6 586.2C414.4 592.7 415 598.7 415.8 601.1C416.5 603.2 417 582.5 417.8 583.5C418.1 583.8 418.3 584.2 418.6 584.4C419.1 584.9 419.5 585.3 420 585.8C420.7 586.4 421.3 592.9 422 598.7C422.4 602 422.7 604.1 423.1 604.5C423.9 605.1 424.5 589 425.2 583.8C425.7 580.3 426.1 590.3 426.7 596.3C427 600.1 427.2 597.1 427.6 596.8C427.8 596.5 428.1 596.6 428.3 596.9C428.5 597.1 428.7 597.5 428.9 597.8C429.2 598.3 429.4 598.7 429.7 598.6C429.9 598.5 430 594.6 430.2 591.2C430.6 584.5 430.9 590 431.3 594.7C431.6 597.5 431.8 599.6 432 599.5C432.6 599.3 433 587.8 433.6 587.8C433.9 587.8 434.2 590.6 434.6 591.2C434.8 591.6 435 589.4 435.2 587.6C436 582 436.5 599.1 437.2 598.1C437.6 597.5 437.9 589.4 438.3 589.2C439 588.9 439.5 601.5 440.2 602.8C440.8 603.9 441.3 601.2 441.9 597.3C442.7 592.4 443.2 581.2 444 579.9C444.4 579.2 444.7 587.7 445.1 593.6C445.3 595.9 445.4 597.3 445.6 597.4C446 597.8 446.3 596.1 446.7 596.8C447.2 597.6 447.5 605.9 448 605.9C448.4 605.9 448.7 583.9 449.1 583.7C449.4 583.6 449.7 583.5 450 583.4C450.6 583.2 451.1 582.7 451.7 582.6C451.9 582.6 452 584 452.2 586.8C452.8 595.1 453.3 609.3 453.9 609.5C454.7 609.8 455.3 588.8 456.1 584.1C456.8 580.1 457.3 595 458 597.3C458.6 599.4 459.1 582.3 459.8 583C459.9 583.1 460.1 583.8 460.2 585.1C461 591.8 461.6 606.8 462.4 606.8C463.3 606.8 463.9 575 464.8 575.8C465 576.1 465.1 577.6 465.3 580.3C466 589.7 466.5 606.5 467.2 605.3C467.6 604.6 467.9 603.8 468.3 603C468.5 602.6 468.7 602.4 468.9 602.1C469.6 601.2 470.1 583.1 470.8 584C471 584.4 471.2 585.5 471.4 587.5C472.3 594.2 472.9 604.3 473.7 603.2C473.9 602.9 474 602.7 474.2 602.4C474.6 602 474.9 601.7 475.3 601.4C476.1 600.8 476.7 583.3 477.4 583.5C478.3 583.7 478.9 603.8 479.8 602.3C480 602 480.1 601.7 480.3 601.3C480.8 600.4 481.2 599.7 481.7 599.1C482.4 598.2 483 591.1 483.8 587.6C483.9 586.8 484.1 586.4 484.2 586.2C484.9 585.4 485.4 587.2 486.1 590C486.4 591.3 486.7 595.2 487 599.8C487.3 603.7 487.5 606.7 487.8 607.2C488.7 608.8 489.3 591.3 490.2 585.8C491.2 580.1 491.8 589.9 492.8 597.7C493.1 600.1 493.3 601.7 493.6 602.1C494.2 603.1 494.7 602.2 495.3 600.1C495.5 599.6 495.6 598.7 495.8 597.1C496.2 592.8 496.6 587 497 586.3C497.5 585.5 497.8 585.1 498.3 585.3C499.3 585.8 500.1 604.5 501.1 605.2C501.3 605.4 501.5 604.1 501.7 601.6C502.3 594.2 502.7 580.2 503.3 579.3C503.7 578.8 504 581.4 504.4 586.1C505.1 594.1 505.6 604.2 506.3 605.1C506.9 605.8 507.3 598.4 507.8 592C508.1 588.6 508.3 586.2 508.6 585.7C509.2 584.7 509.7 584.3 510.3 585.8C511.3 588.1 512 604.6 513 605.3C513.2 605.4 513.3 604.4 513.4 602.1C514.1 593.7 514.5 575.4 515.1 574.7C515.6 574.1 516 586.7 516.4 599C516.8 607.2 517 612.9 517.3 613.1C518.2 613.8 518.8 588.8 519.7 581.5C520.5 574.3 521.2 593.7 522 603.7C522.2 606 522.4 607.3 522.6 607.4C523.4 608 524.1 592.5 525 585.4C525.2 583.8 525.4 582.9 525.6 582.7C526 582.3 526.3 585 526.7 589.5C527.2 595.4 527.6 601.1 528.1 601.1C528.6 601.2 529 600.9 529.4 600.1C529.6 599.8 529.8 599.6 530 599.2C530.5 598.3 530.8 587.9 531.3 583.1C531.9 577.9 532.3 587.5 532.8 596.3C533 599.7 533.1 601.8 533.3 601.8C534.1 602 534.7 594.3 535.6 590C535.8 588.7 536 588 536.2 587.8C536.7 587.5 537.1 590.8 537.6 594.3C537.9 596.6 538.1 598.2 538.4 598.2C539 598.3 539.4 597.4 540 596.1C540.2 595.7 540.4 595.3 540.6 594.9C541.4 593.2 542.1 587.5 543 587.5C543.7 587.6 544.2 603 544.9 602.3C545.9 601.2 546.7 590.9 547.8 587.6C548.4 585.7 548.8 588.4 549.4 592.3C550.1 596.2 550.5 598.9 551.1 598.6C552 598.1 552.7 588.5 553.7 589.1C553.9 589.3 554.2 590.9 554.4 593.2C554.8 596.3 555.2 599.3 555.6 599C555.8 598.9 555.9 597.4 556.1 595.1C556.4 591.6 556.7 587.9 557 588.2C557.3 588.4 557.5 590.2 557.8 592.4C558.2 595.6 558.5 598.5 558.9 597.9C559.4 597.1 559.8 592.3 560.3 589.6C560.5 588.6 560.7 588.1 560.9 588.2C561.6 588.7 562.1 599 562.8 599.5C563 599.7 563.1 598.6 563.3 596.6C563.9 591.4 564.3 583.2 564.8 583.2C565.7 583 566.3 590.4 567.2 597.2C567.6 600.2 567.9 602.5 568.3 603.1C568.9 603.9 569.3 600.1 569.8 594.2C570.4 587.3 570.8 580.4 571.4 579.7C571.8 579.3 572.1 582 572.4 586.9C573.2 596.6 573.7 610.1 574.4 610.4C575.5 610.9 576.3 578.4 577.3 577.9C577.5 577.8 577.6 578.2 577.8 579C578.8 584.7 579.6 606.2 580.7 606.9C580.8 607 580.9 606.7 581.1 605.7C582 600.4 582.7 582.1 583.6 580.8C583.8 580.5 583.9 581 584.1 582.2C585 587.7 585.7 604.8 586.7 606.4C586.9 606.9 587.1 606.1 587.3 604.1C588.1 597.9 588.7 583.7 589.4 581.9C589.7 581.3 589.9 582.6 590.2 585.4C590.9 591.9 591.4 602.4 592 603.8C592.5 604.9 592.9 604.3 593.4 602.1C593.6 601.4 593.7 600.8 593.9 600C594.5 596.7 594.9 584.8 595.6 583.8C595.9 583.2 596.1 584.5 596.4 586.8C596.9 590.4 597.3 594.8 597.8 595.6C598.3 596.4 598.6 593.5 599.1 590.7C599.4 589.4 599.5 588.4 599.8 588.3C600.1 588.1 600.3 590.2 600.6 593.4C600.9 597.5 601.2 601.4 601.6 601.4C602.2 601.4 602.7 596.1 603.3 591.2C603.7 588.2 604 586 604.4 585.7C605.3 585.2 605.9 594.2 606.7 598.5C606.9 599.6 607 600.3 607.2 600.5C607.8 601.2 608.3 601 608.9 599.6C609.1 599.2 609.2 597.6 609.4 595.2C609.8 590.2 610.2 584.4 610.6 583.8C611.5 582.4 612.2 597.4 613.1 603C613.3 604 613.4 604.5 613.6 604.8C614.5 606.2 615.2 585.2 616.1 585.2C617.2 585.2 618.1 590.3 619.2 595.2C619.5 596.4 619.7 597.2 620 597.6C620.8 598.7 621.4 599.1 622.2 597.4C623 595.8 623.6 583.3 624.4 582.8C625.3 582.4 625.9 601.1 626.7 607.4C627.7 615.2 628.4 584.1 629.4 581C630.3 578.2 631 600.1 631.9 599.9C632.8 599.7 633.5 593.3 634.4 589.4C634.8 588.1 635 587.5 635.3 587.7C635.9 588.1 636.3 592.9 636.9 596.9C637.3 599.5 637.5 601.2 637.9 601C638.9 600.7 639.6 592.8 640.6 588.9C640.8 587.8 641.1 587.2 641.3 587.2C641.6 587.2 641.8 587.5 642 588.2C642.7 590.1 643.2 594.6 643.9 597.8C644.4 600.3 644.8 601.3 645.3 600.8C645.8 600.3 646.2 597.8 646.7 594.5C647.5 589.1 648.1 584.4 648.9 583.2C649.8 581.9 650.4 606.4 651.3 611.6C652.3 617.6 653.1 574 654.1 573.5C654.3 573.4 654.5 574 654.7 575.5C655.7 582.8 656.5 605.4 657.6 605.4C658.5 605.4 659.3 579.2 660.2 578.5C660.5 578.3 660.8 581.6 661.1 586.6C661.6 594.1 662 602.2 662.4 602.3C662.7 602.3 662.9 601.6 663.1 600.2C663.8 596.3 664.3 591.2 665 587.6C665.2 586.6 665.4 586 665.6 585.9C666.4 585.2 667 599.6 667.8 604.3C668.9 610.5 669.7 582.2 670.8 582.4C671.6 582.6 672.2 593.9 673 601.9C673.3 605.1 673.6 607.1 673.9 607.3C674.3 607.7 674.6 603.4 675 597.2C675.5 589.9 675.8 582.7 676.3 582.3C676.7 581.9 677 584.2 677.4 588.2C678.1 594.1 678.5 602.1 679.1 602.1C679.9 602.1 680.5 588 681.3 582.4C681.5 581 681.7 580.4 681.9 580.6C682.6 581.1 683.2 596.6 683.9 604.8C684.1 607.6 684.3 608.9 684.6 608.7C685.3 608.2 685.9 591.6 686.7 584.3C686.9 582.3 687 581.5 687.2 581.6C687.8 582.1 688.3 585.8 688.9 590.1C689.8 596.6 690.5 603.4 691.4 603.2C692.2 603 692.8 600.8 693.6 597.5C694 595.7 694.3 588.5 694.7 583C694.9 580.3 695 578.8 695.2 579C695.8 579.6 696.3 588.2 696.9 596.7C697.4 604 697.8 608.9 698.3 608.5C698.5 608.3 698.7 607.5 698.9 606.1C699.5 601.7 699.9 593.9 700.6 591.2C700.8 590.3 700.9 589.6 701.1 588.7C701.7 586 702.2 584.3 702.8 583.2C703 582.8 703.1 582.6 703.3 582.6C703.8 582.5 704.2 588.3 704.7 595.7C705.2 603.7 705.6 611 706.1 611.3C706.4 611.4 706.6 608.7 706.9 603.8C707.5 593.4 707.9 578.9 708.6 578.4C709 578.1 709.3 581.3 709.8 586.1C710.4 592.6 710.8 600.6 711.4 601.3C711.6 601.5 711.7 601.2 711.9 600.3C712.4 597.3 712.8 590.7 713.3 589.8C713.6 589.4 713.8 590.2 714 591.5C714.3 593 714.5 594.6 714.8 594.9C715.4 595.5 715.8 594.1 716.4 592.1C716.8 591 717.1 590.2 717.4 590C718.4 589.7 719.1 590.5 720 592.2C720.8 593.7 721.4 601.9 722.2 602.2C722.7 602.4 723.1 593.9 723.6 585.7C723.9 580.3 724.1 576.5 724.4 576.3C725.1 575.8 725.5 593.4 726.1 605.4C726.4 610.2 726.5 612.9 726.8 613C727.7 613.5 728.3 593.3 729.2 581.6C729.5 577.8 729.7 575.8 730 575.5C730.8 574.9 731.4 580.5 732.2 589C733.1 598.4 733.8 608.3 734.7 609.1C734.9 609.3 735.1 607.6 735.3 604C736.1 592.6 736.7 570.6 737.4 569.8C737.8 569.4 738 571.5 738.3 575.9C739.3 588.9 740 612.2 741 612.8C741.8 613.3 742.5 587.8 743.3 576.6C743.5 573.9 743.7 572.5 743.9 572.4C744.7 571.7 745.4 589.7 746.2 599.6C746.5 602.4 746.6 603.9 746.9 604.2C747.9 605.1 748.6 603 749.6 598.5C749.7 597.8 749.8 597.2 750 596.3C750.7 592.5 751.3 582.6 752 581.9C752.2 581.7 752.3 582.4 752.4 583.8C753.1 589.3 753.5 601.5 754.1 602.5C754.7 603.5 755.2 596.7 755.8 591.7C756 589.7 756.2 588.4 756.4 588.1C757.3 587 757.9 591.7 758.7 596.2C759 598 759.2 599.2 759.6 599.6C760.3 600.6 760.9 587.3 761.7 584.2C763.1 578.5 764.1 605.6 765.6 605.2C765.8 605.2 765.9 604.5 766.1 603.1C766.9 597.4 767.5 585.3 768.3 585.7C768.9 586 769.4 587.4 770 589C770.3 589.7 770.5 591.1 770.8 593.3C771.4 598.2 771.9 603.6 772.6 603.1C773.2 602.5 773.8 593.3 774.4 586.8C774.8 583.8 775 582.1 775.3 582.3C776.4 582.9 777.2 601.1 778.3 601.2C779.1 601.3 779.6 592 780.3 591.1C780.7 590.7 781 592.1 781.3 593C782.3 595.5 783 595.4 783.9 594.3C784.1 594 784.2 593.8 784.4 593.4C785 592.4 785.4 587.6 785.9 587.3C786.1 587.2 786.2 588 786.4 589.6C787.1 594.7 787.6 604.4 788.2 604.7C789.2 605.1 789.8 589.4 790.8 581.8C791 579.8 791.2 578.7 791.4 578.4C792.1 577.8 792.6 592.6 793.3 603.3C793.6 607.8 793.8 610.5 794.1 610.8C794.9 611.8 795.5 598.1 796.2 588.7C796.5 585.2 796.7 583.2 797 582.9C798 581.9 798.7 594.5 799.7 600.1C799.9 601.3 800 601.9 800.2 602C801.3 602.6 802.1 587.9 803.1 588.2C804 588.5 804.7 598.3 805.6 597.3C805.9 597 806.1 595.4 806.4 593.4C806.9 590.4 807.3 587.5 807.8 588C808.7 589 809.4 602.9 810.3 602.9C811.1 602.9 811.7 585 812.6 584C812.8 583.7 812.9 583.9 813.1 584.6C814.2 588 814.9 600.8 816 603C817.1 605.2 817.8 585.8 818.9 585.4C819.9 585.1 820.7 596.4 821.7 597C821.9 597.1 822 597.2 822.2 597.2C823 597.1 823.6 596 824.4 595C824.8 594.6 825 593.2 825.3 591.7C825.7 589.9 826 588.7 826.3 589.1C827 589.9 827.5 595.6 828.2 596.1C828.7 596.5 829 595.3 829.4 594.8C829.9 594.3 830.3 596.6 830.8 596.1C831.1 595.9 831.3 594.4 831.6 592.3C832 589.1 832.3 585.7 832.8 586C833.8 586.8 834.5 600.5 835.6 600.5C836.6 600.5 837.5 591.4 838.6 587.4C839 586 839.3 585.6 839.7 586.2C840.4 587.4 840.9 598.3 841.7 605.1C842 608.2 842.2 609.6 842.6 609.1C843.3 607.9 843.9 585.3 844.7 573.8C844.9 570.2 845.1 568.4 845.3 568.6C846.4 569.3 847.2 620.9 848.3 620.9C849.1 620.9 849.7 594.4 850.6 577.9C850.9 571.3 851.1 568.1 851.4 568.4C852.4 569.1 853.1 603.3 854.1 612.4C855 621.2 855.7 601.7 856.7 586.1C857.1 579.4 857.4 575 857.8 574.5C858.6 573.5 859.2 593.1 860 605.5C860.3 609.8 860.5 612.3 860.8 612.6C861.7 613.6 862.4 588.5 863.3 581.5C864.3 574 865.1 591.1 866.1 601.9C866.4 605.3 866.7 607.5 867 607.9C867.7 608.9 868.2 604 868.9 595.8C869.7 586.2 870.3 576.5 871.1 575.5C871.6 574.9 872 583.7 872.6 594.4C873 604.2 873.4 612.7 873.9 613.7C874.5 614.9 874.9 602.7 875.6 591.9C875.9 586.1 876.1 582.3 876.4 581.7C876.9 580.9 877.3 580.4 877.8 580.5C878.1 580.6 878.3 583.3 878.6 587.9C879.1 596.3 879.5 606.6 880 607.3C880.9 608.6 881.6 600 882.6 591C883.1 585.5 883.5 580.7 884.1 579.3C884.6 578.3 884.9 580.9 885.3 586.4C886.1 596.4 886.7 609.4 887.6 610.5C888.2 611.5 888.8 597.4 889.4 586.3C889.8 581.1 890 577.8 890.3 577.4C891.1 576.5 891.7 585.3 892.4 595.1C893 601.9 893.4 606.7 893.9 607.1C894.8 607.8 895.5 586.6 896.4 581C897.3 576.1 897.9 584.3 898.7 592.2C899.2 597 899.5 600.5 900 600.8C900.5 601.1 900.8 600.7 901.3 599.5C901.9 598.2 902.3 596.3 902.8 594.5C903.6 591.8 904.2 584.8 905 585C905.4 585.1 905.7 588.5 906.1 592.4C906.5 596.3 906.8 599.3 907.2 599.1C907.6 598.8 907.9 596.3 908.3 593.6C908.7 590.8 909 588.8 909.4 589.1C909.8 589.5 910.2 592.1 910.6 594.8C911 597.6 911.3 599.7 911.7 599.4C912.2 599 912.6 592.2 913.1 588.1C913.3 586.6 913.5 585.7 913.7 585.7C914.2 585.8 914.5 589.1 915 593C915.5 597 915.8 600.9 916.3 601.2C917.2 601.7 917.8 593.6 918.7 588.8C919.2 586 919.5 584.6 920 585.1C920.7 585.8 921.2 595.6 921.9 600.2C922.1 601.6 922.2 602.2 922.4 602.1C923.3 601.4 923.9 589.2 924.8 585.3C924.9 584.6 925.1 584.3 925.2 584.4C926.2 585.1 927 597.2 928 599.6C928.7 601.3 929.3 598.5 930 596.8C930.4 595.8 930.7 591.3 931.1 586.9C931.4 583.5 931.7 581.3 932 581.9C932.6 583.1 933.1 597.5 933.7 603.8C933.8 605.5 933.9 606.2 934.1 606C934.8 605.2 935.4 596.2 936.1 590.3C936.5 587 936.8 585.3 937.2 585.8C937.7 586.5 938.1 591.7 938.7 596.4C939.1 600 939.4 602.3 939.8 601.8C940.3 601.2 940.6 596.1 941.1 590.7C941.6 585.3 942 581.4 942.4 582.1C942.9 582.8 943.2 588.3 943.7 595.2C944.2 604 944.7 612.1 945.2 611.6C946.2 610.9 946.8 582.8 947.8 568.3C948.1 563.9 948.3 561.8 948.6 562.1C949.3 563 949.9 600.9 950.7 623.5C950.9 631.8 951.2 636.1 951.4 635.7C952.1 634.7 952.6 613.9 953.3 593.8C953.9 578.5 954.3 568.1 954.8 568.8C955.3 569.4 955.6 575.5 956.1 583.5C956.8 594.9 957.3 605.7 958 605C958.4 604.6 958.7 602.4 959.1 598.9C960 591.5 960.6 583.2 961.4 577.4C961.7 575.5 961.9 574.6 962.2 574.5C962.6 574.5 962.9 578.6 963.3 585.4C964.1 597.7 964.6 611.4 965.3 614.9C966.5 620.7 967.5 589.4 968.7 584.9C969.4 582 970 608.4 970.8 607.2C971 606.9 971.1 604 971.3 599.6C971.7 590.6 972 580.1 972.4 581.7C972.9 583.5 973.3 588 973.8 588.5C974.5 589.2 975 583.3 975.8 582C976.8 580.3 977.5 594.6 978.6 604.6C978.9 608.3 979.2 610.5 979.6 611.1C980.7 612.9 981.5 596 982.7 587.9C982.9 586.2 983.1 585.1 983.3 584.7C984.1 583.3 984.6 586.2 985.3 591.3C985.8 594.6 986.2 597.3 986.7 598C987.4 598.9 987.9 582.9 988.6 582.9C989.5 582.9 990.2 589 991.1 594.7C991.7 598.4 992.2 600.4 992.8 599.9C993.2 599.6 993.5 594.5 993.9 590.7C994.1 588.8 994.2 587.7 994.4 587.8C995.3 588.5 996 603.3 996.9 603.5C997.4 603.6 997.8 600.1 998.3 598.9C998.7 598 999 604.5 999.4 607.2C1000.3 612.6 1000.9 579.3 1001.7 580.5C1002.2 581.3 1002.6 585.3 1003.1 589.8C1003.7 595 1004.2 598.9 1004.8 597.9C1005.3 597.2 1005.6 590.2 1006.1 588.2C1006.7 585.6 1007.2 589.5 1007.8 590.1C1008.2 590.4 1008.5 589.9 1008.9 589.9C1009.9 589.9 1010.7 598.5 1011.7 602.2C1012.2 603.9 1012.5 604.1 1013 603C1013.5 601.9 1013.9 585.3 1014.4 580.7C1015.7 569.9 1016.6 603.8 1017.8 606.8C1018.8 609.3 1019.5 584.2 1020.6 579.3C1021.6 574.4 1022.3 595.5 1023.3 602.6C1023.5 604 1023.7 604.6 1023.9 604.6C1024.3 604.6 1024.6 602.6 1025 599.3C1025.8 592.6 1026.4 581.9 1027.2 581.9C1028.1 581.9 1028.8 591.4 1029.7 596.6C1030.3 600.2 1030.7 601.8 1031.3 600.7C1031.9 599.6 1032.4 593.1 1033 587.8C1033.4 584.3 1033.7 582.5 1034.1 583.4C1034.6 584.5 1035 595.2 1035.6 603.9C1035.9 609.2 1036.1 612.6 1036.4 612.4C1037.1 611.9 1037.6 600.2 1038.3 590.2C1038.7 584.4 1039 580.6 1039.4 580.5C1040.2 580.2 1040.7 590.8 1041.4 597.8C1041.7 600.6 1041.9 602.3 1042.2 602.6C1042.7 603.3 1043.1 600.1 1043.6 594.4C1044.3 585.8 1044.8 575.6 1045.6 575.6C1046.6 575.6 1047.3 591.5 1048.3 602.8C1048.8 607.7 1049.1 610.9 1049.6 611.2C1050 611.6 1050.3 610.4 1050.8 608C1051.3 605.1 1051.7 601.6 1052.2 598.5C1052.7 595.4 1053.1 591.9 1053.7 589.3C1054 587.6 1054.3 586.9 1054.7 587.4C1055.3 588.4 1055.8 592.9 1056.4 595.3C1056.7 596.4 1056.9 596.9 1057.2 596.8C1057.9 596.6 1058.4 593.2 1059.1 589.3C1059.8 585.6 1060.2 582.1 1060.9 581.7C1061.1 581.6 1061.3 582.1 1061.6 583.4C1062.4 587.9 1063 599.5 1063.9 604.6C1064.2 606.3 1064.4 607.1 1064.7 606.9C1065.2 606.7 1065.6 605.2 1066.1 602.5C1066.9 598.4 1067.5 593.2 1068.3 589.2C1068.9 586.1 1069.4 585.4 1070 586.1C1070.2 586.3 1070.4 586.4 1070.6 586.5C1071.4 586.9 1072 585.3 1072.8 586.9C1073.7 588.7 1074.3 611.5 1075.2 611.5C1076.1 611.5 1076.7 592.1 1077.6 586.1C1077.7 584.9 1077.8 584.5 1078 584.7C1078.8 585.5 1079.4 596.5 1080.2 601.1C1080.5 602.5 1080.6 603 1080.9 602.7C1081.8 601.5 1082.4 584.1 1083.3 581.4C1084.3 578.2 1085.1 602.7 1086.1 602.7C1086.9 602.7 1087.5 595.9 1088.3 591.8C1088.7 589.7 1089 588.5 1089.4 588.5C1089.8 588.6 1090.2 589.6 1090.6 591.2C1091.2 593.8 1091.8 596.3 1092.4 596.3C1093.2 596.2 1093.7 593.4 1094.4 594.3C1094.8 594.8 1095.2 598 1095.6 601.6C1096 605.5 1096.3 608.3 1096.8 607.3C1097.3 606.2 1097.8 596.5 1098.3 588.1C1098.7 582 1099 578.2 1099.4 578.7C1100.2 579.8 1100.7 588.2 1101.4 595.1C1101.9 599.6 1102.3 602.6 1102.8 602.4C1103.2 602.2 1103.5 598.7 1103.9 594.5C1104.3 590.4 1104.6 586.7 1105 586.3C1105.4 585.8 1105.8 586.3 1106.2 587.7C1107.2 590.8 1107.9 598.6 1108.9 599.4C1109.8 600.1 1110.5 591.2 1111.4 588.5C1111.7 587.7 1111.9 587.6 1112.2 588C1113 589.4 1113.6 592.6 1114.4 593.6C1114.6 593.8 1114.8 593.9 1115 593.9C1115.9 593.9 1116.6 593 1117.6 594.2C1118 594.8 1118.4 595.7 1118.9 596.4C1119.6 597.4 1120.1 591.2 1120.8 591.4C1121.7 591.6 1122.4 599.7 1123.3 605.1C1123.6 606.5 1123.8 607.4 1124 607.6C1124.7 608.3 1125.2 590 1125.9 580C1126.1 577 1126.2 575.4 1126.4 575.3C1126.9 575 1127.3 581 1127.8 588.8C1128.3 596.5 1128.6 603 1129.1 603.1C1129.3 603.1 1129.5 602.6 1129.7 601.5C1130.3 598 1130.8 590.1 1131.4 585.6C1131.7 583.6 1131.9 582.7 1132.2 583C1133 583.9 1133.6 598.3 1134.4 602.1C1135.2 605.5 1135.7 594.3 1136.4 593.3C1136.7 592.9 1136.9 593.3 1137.2 594.2C1137.6 595.4 1137.9 597.2 1138.3 598C1138.9 599 1139.3 597.6 1139.8 594.5C1140.4 591 1140.8 586.7 1141.4 585.5C1141.9 584.6 1142.3 587 1142.8 591.8C1143.6 599.9 1144.2 611 1145 612.3C1145.3 612.8 1145.6 609.6 1145.9 603.7C1146.6 591 1147.1 572.8 1147.8 571.8C1148.2 571.2 1148.5 576 1148.9 583.7C1149.5 596.2 1150 611.3 1150.7 611.6C1151.6 612 1152.2 583.9 1153.1 579.1C1154.1 573.8 1154.8 590.7 1155.8 597.1C1156.1 599.3 1156.3 600 1156.7 599.3C1157.3 598 1157.7 592.8 1158.3 591.9C1159.1 590.6 1159.7 598 1160.6 598.8C1160.8 599 1160.9 598 1161.1 596.2C1161.5 592.5 1161.8 587.6 1162.2 587.3C1162.4 587.2 1162.6 587.5 1162.8 588.2C1163.5 590.8 1164 596.1 1164.8 597.4C1165.7 599.2 1166.5 595.5 1167.4 592.1C1167.8 590.7 1168.2 589.1 1168.6 588.4C1168.9 587.8 1169.1 588.5 1169.4 590.6C1170.2 595.5 1170.8 605.1 1171.6 605.4C1172.5 605.7 1173.2 578 1174.1 577.9C1175 577.7 1175.6 592.6 1176.4 602.4C1176.8 606.7 1177.1 608.8 1177.4 608.6C1178.5 608.1 1179.2 585.1 1180.2 585.8C1180.4 585.9 1180.6 586.3 1180.8 587.1C1181.8 591 1182.5 598.2 1183.6 598.2C1184.2 598.2 1184.7 591.9 1185.3 593C1185.7 593.7 1186 597.1 1186.3 599.8C1186.6 601.7 1186.8 602.8 1187 602.5C1187.9 601.6 1188.6 576.1 1189.4 576.1C1190.4 576.1 1191.1 606.8 1192 606.8C1193 606.8 1193.7 592.8 1194.7 585.2C1195.1 581.7 1195.4 580.1 1195.9 580.8C1196.6 582 1197.1 594.2 1197.8 602.4C1198.1 606.2 1198.3 608.1 1198.7 607.4C1199.3 606.2 1199.8 594.4 1200.4 588.1C1200.7 585.7 1200.9 584.6 1201.1 585C1201.7 585.8 1202.2 593.9 1202.8 595.7C1203.3 597.2 1203.7 593.8 1204.2 591.6C1204.5 590.4 1204.7 589.7 1205 589.9C1205.4 590.1 1205.7 592 1206.1 594.2C1206.6 597.2 1207 599.4 1207.6 598.7C1208 598.2 1208.3 595.5 1208.7 592.5C1209.2 588.8 1209.5 585.9 1210 586.6C1210.6 587.4 1211.1 593.4 1211.7 598.4C1212.1 601.7 1212.4 603.9 1212.8 603.8C1213.4 603.7 1213.8 594.6 1214.4 587.7C1214.7 584.5 1214.9 582.4 1215.2 581.9C1215.6 581.3 1215.9 582.7 1216.3 586.1C1217.3 594 1218 606.9 1218.9 607.9C1219.2 608.1 1219.4 606.4 1219.7 602.8C1220.4 593.8 1220.9 579.1 1221.7 578.3C1222.3 577.6 1222.7 586 1223.3 594.5C1223.7 600.1 1224 604.3 1224.4 604.9C1224.9 605.6 1225.3 601.9 1225.8 595.7C1226.4 587.4 1226.9 578.6 1227.6 578.1C1227.8 577.9 1228.1 579.2 1228.3 581.9C1229.1 589.5 1229.7 603.4 1230.6 603.6C1231.8 603.9 1232.7 588.5 1233.9 588.5C1234.5 588.5 1234.9 588.8 1235.6 589.3C1236.4 590 1237 601.6 1237.8 602.2C1238.1 602.4 1238.3 601.7 1238.6 600.2C1239.4 595.8 1240 586.9 1240.8 586C1241 585.8 1241.2 586.7 1241.4 588.4C1242 592.5 1242.4 598.7 1243 599.3C1244 600.4 1244.8 589 1245.8 589.1C1246.5 589.2 1247 588.8 1247.8 588.9C1248.1 589 1248.3 589.5 1248.6 590.8C1249.4 594.4 1250 600.1 1250.8 601.4C1251.3 602.2 1251.7 596.5 1252.2 590.9C1252.5 587.5 1252.8 585.1 1253.1 584.8C1253.8 584.1 1254.3 592.8 1255 597.7C1255.2 599.2 1255.4 599.9 1255.6 600C1256.4 600 1257 590.8 1257.8 589.1C1258.7 587.2 1259.3 599.2 1260.2 599.4C1260.5 599.5 1260.8 598.7 1261.1 597.2C1262 592.9 1262.7 584.4 1263.7 584C1263.8 583.9 1263.9 584.2 1264.1 584.8C1265 588.5 1265.7 600.5 1266.7 601.1C1267 601.3 1267.2 600.4 1267.6 598.7C1268.2 595.6 1268.6 591.5 1269.2 591C1269.8 590.6 1270.3 590.5 1270.9 590.9C1271.4 591.2 1271.7 591.7 1272.2 592.4C1272.8 593.3 1273.3 595.1 1273.9 596C1274.1 596.3 1274.2 596.4 1274.4 596.4C1275.5 596.2 1276.2 593.4 1277.2 592.6C1277.4 592.4 1277.6 592.4 1277.8 592.4C1278.5 592.5 1279 592.9 1279.8 593.2C1280.7 593.5 1281.3 593.7 1282.2 593.7C1284.6 593.7 1286.3 593.7 1288.7 593.5" fill="none" stroke="#000" stroke-width="2.08" stroke-linejoin="round" stroke-linecap="butt"/></g>
<g clip-path="url(#cp3)"><path d="M936.4 663.5V526.5" stroke="#00bfbf" stroke-width="2.78" fill="none" stroke-dasharray="10.28 4.44"/><path d="M959.5 663.5V526.5" stroke="#00bfbf" stroke-width="2.78" fill="none" stroke-dasharray="10.28 4.44"/></g>
<rect x="225.5" y="526.5" width="1113.0" height="136.0" fill="none" stroke="#000" stroke-width="1.1"/>
<text x="237" y="544.1" font-size="13.89" text-anchor="start" >R</text>
<g clip-path="url(#cp4)"><path d="M274.4 733C277.3 733.2 279.4 733.2 282.2 733.2C282.6 733.2 282.9 732.9 283.3 732.6C283.7 732.2 284 731.9 284.4 731.8C284.8 731.8 285.2 732.3 285.6 732.9C286 733.5 286.3 734 286.7 734C287.6 734.1 288.2 731.9 289.1 732C289.4 732 289.5 732.1 289.8 732.3C290.3 732.6 290.6 733 291.1 732.9C291.3 732.9 291.5 732.9 291.7 732.8C292.4 732.6 292.9 732.5 293.7 732.4C294.5 732.3 295.1 733.9 295.9 735C296.1 735.3 296.2 735.5 296.4 735.5C297.3 735.7 297.9 726.1 298.7 726.3C298.8 726.3 298.9 726.7 299.1 727.5C300 731.7 300.6 742.7 301.4 742.4C301.6 742.4 301.7 742 301.9 741.3C302.9 736.6 303.7 722.2 304.7 722.5C304.9 722.6 305.1 723.5 305.3 725.3C306.2 731.9 306.9 744.4 307.8 744.1C308.9 743.7 309.8 722.6 310.9 719.2C311.6 717.1 312.1 726.7 312.8 737.7C313.3 745.4 313.6 750.9 314.1 750.5C314.4 750.2 314.7 747 315 741.7C315.7 730.5 316.2 716.3 316.9 717C317.3 717.5 317.6 719.6 318 722.8C319.1 731.1 319.8 742.4 320.9 741.8C321.1 741.7 321.2 741 321.4 739.8C322.1 735.6 322.6 727.6 323.3 723.7C323.5 722.5 323.7 722.1 323.9 722.4C324.5 723.4 324.9 731.1 325.6 736.1C325.9 738.7 326.1 739.9 326.4 739.2C327.2 737.3 327.8 734.1 328.6 733.3C329.4 732.5 330 736.3 330.9 735.8C331.9 735.2 332.6 722.9 333.6 721.9C333.7 721.7 333.8 722.2 334 723.4C334.8 729.6 335.5 747.6 336.3 748.2C337 748.6 337.5 737.4 338.1 726.9C338.5 720.4 338.8 716 339.2 715.9C339.7 715.8 340.1 721.5 340.6 729.3C341.2 739 341.6 747.9 342.2 747.7C343.1 747.4 343.8 726.4 344.7 727.1C345.1 727.4 345.4 728.9 345.8 730.3C346.1 731.5 346.3 732 346.7 731.5C347.2 730.8 347.5 730.1 348 730.1C348.8 730.1 349.4 735.7 350.2 736.3C351.2 736.9 351.8 734.2 352.8 733C353.9 731.6 354.7 728.6 355.8 729.4C356.4 729.8 356.8 733.2 357.4 735.8C357.8 737.2 358 737.8 358.3 737.3C358.9 736.5 359.4 735.4 360 735.3C360.6 735.1 361.1 726.1 361.8 726.9C362.3 727.6 362.8 733.3 363.3 736.8C363.6 738.3 363.8 739.1 364 738.8C364.8 738 365.3 722.6 366.1 722.6C367 722.6 367.6 748.2 368.4 748.9C368.7 749.1 368.9 747 369.2 742.9C370 731.6 370.6 713.3 371.3 713C372.3 712.7 373 749.4 374 749.2C375.1 748.9 375.8 731.4 376.9 724.7C377.1 723.7 377.2 723.1 377.3 722.9C378.2 721.7 378.9 737.6 379.8 745.6C380 747.4 380.1 748.4 380.3 748.6C381.4 749.5 382.2 715.1 383.3 716C383.5 716.2 383.7 717.1 383.9 718.9C384.8 727.1 385.5 745.1 386.4 743.5C386.8 742.9 387.1 741.6 387.4 739.9C387.8 738.4 388 737.1 388.3 735.6C389.1 732.3 389.6 717.9 390.3 718.8C390.7 719.3 391 722.8 391.4 727.8C392.1 736.3 392.6 742.6 393.3 742.6C394.1 742.6 394.7 735.7 395.6 729.6C396.1 725.6 396.5 724.3 397 725.4C397.2 725.8 397.4 726.6 397.6 727.7C398.2 731.8 398.8 737.8 399.4 739.8C400.1 741.5 400.5 735.7 401.1 730.7C401.4 728.1 401.7 726.4 402 726.7C402.8 727.5 403.4 736.4 404.2 736.8C404.4 736.9 404.5 736.5 404.7 735.6C405.2 732.8 405.6 726.3 406.1 725.2C406.4 724.6 406.6 725.3 406.9 727.2C407.6 732 408.2 743 408.9 743C409.5 743 409.9 741.6 410.6 739.4C411 737.6 411.4 720.5 411.9 720.2C412.5 719.9 412.9 722.6 413.6 725.9C414.4 730.4 415 748.7 415.8 749C416.5 749.3 417 734.6 417.8 726.9C418.1 723.9 418.3 722.3 418.6 722.3C419.1 722.4 419.5 725.3 420 729.3C420.7 734.9 421.3 741.3 422 742C422.4 742.4 422.7 741 423.1 738.4C423.9 733.4 424.5 725.1 425.2 724.5C425.7 724.1 426.1 726 426.7 728.3C427 729.7 427.2 739.6 427.6 739.5C427.8 739.5 428.1 737 428.3 734.7C428.5 732.9 428.7 731.8 428.9 731.8C429.2 731.9 429.4 733.2 429.7 734.4C429.9 735.2 430 735.3 430.2 734.9C430.6 734.1 430.9 730.9 431.3 731.4C431.6 731.8 431.8 732.4 432 733.1C432.6 734.7 433 735.6 433.6 735.6C433.9 735.6 434.2 730.9 434.6 726.3C434.8 723.1 435 720.7 435.2 720.5C436 719.8 436.5 730.3 437.2 738.4C437.6 743 437.9 745.2 438.3 746.9C439 749.6 439.5 744 440.2 733.6C440.8 724.4 441.3 716 441.9 715.5C442.7 714.9 443.2 727.3 444 738.2C444.4 743.9 444.7 748.5 445.1 749.2C445.3 749.5 445.4 749.2 445.6 748.1C446 745.3 446.3 740.6 446.7 735.3C447.2 728.9 447.5 725 448 725C448.4 725 448.7 723.2 449.1 724.7C449.4 725.9 449.7 727 450 728.4C450.6 730.9 451.1 737.3 451.7 741C451.9 742.2 452 743 452.2 743.3C452.8 744.4 453.3 744.7 453.9 742.8C454.7 740.2 455.3 719.9 456.1 719.3C456.8 718.8 457.3 743.2 458 743.5C458.6 743.8 459.1 729.9 459.8 724.7C459.9 723.4 460.1 722.8 460.2 723C461 723.8 461.6 746.9 462.4 746.9C463.3 746.9 463.9 726.1 464.8 718.9C465 717.1 465.1 716.5 465.3 716.8C466 718 466.5 731.1 467.2 740.6C467.6 746.2 467.9 749.7 468.3 749.6C468.5 749.5 468.7 748.6 468.9 746.5C469.6 739.5 470.1 723.8 470.8 716.1C471 713.3 471.2 712.1 471.4 712.3C472.3 713.1 472.9 734.9 473.7 744.1C473.9 746.4 474 747.5 474.2 747.5C474.6 747.5 474.9 744.1 475.3 738.6C476.1 728.1 476.7 713 477.4 711.5C478.3 709.8 478.9 737.7 479.8 749.2C480 751.9 480.1 753.2 480.3 753.2C480.8 753.1 481.2 747.4 481.7 739C482.4 725.5 483 710.1 483.8 709.6C483.9 709.5 484.1 710.2 484.2 711.7C484.9 718.1 485.4 733.6 486.1 744.9C486.4 750.2 486.7 753.6 487 754.1C487.3 754.6 487.5 752.8 487.8 748.6C488.7 735.5 489.3 709.2 490.2 708.5C491.2 707.8 491.8 752.7 492.8 753.6C493.1 753.9 493.3 752.1 493.6 748.4C494.2 740 494.7 727.4 495.3 721.5C495.5 720 495.6 719.3 495.8 719.1C496.2 718.6 496.6 722.1 497 727.9C497.5 734.1 497.8 739.9 498.3 741.8C499.3 745.8 500.1 731.6 501.1 725.7C501.3 724.6 501.5 723.9 501.7 723.6C502.3 722.6 502.7 728.7 503.3 735.9C503.7 740.7 504 744.4 504.4 744.9C505.1 745.9 505.6 740.1 506.3 733C506.9 727.5 507.3 722.6 507.8 721.8C508.1 721.4 508.3 723.2 508.6 726.8C509.2 735.1 509.7 747 510.3 747.1C511.3 747.4 512 730.8 513 724.9C513.2 723.9 513.3 723.3 513.4 723.1C514.1 722 514.5 725.3 515.1 731.1C515.6 735.7 516 740.8 516.4 742.3C516.8 743.3 517 742.9 517.3 740.8C518.2 735.5 518.8 724 519.7 723.1C520.5 722.2 521.2 742.5 522 743.7C522.2 744 522.4 743.7 522.6 742.7C523.4 738.1 524.1 725.2 525 724.4C525.2 724.2 525.4 725.1 525.6 726.8C526 730.3 526.3 735.1 526.7 735.6C527.2 736.3 527.6 736.8 528.1 736.4C528.6 736 529 735.5 529.4 734.9C529.6 734.7 529.8 734.3 530 733.8C530.5 732.6 530.8 730 531.3 729.5C531.9 728.8 532.3 734.3 532.8 735.3C533 735.8 533.1 735.8 533.3 735.4C534.1 733.9 534.7 729.5 535.6 729C535.8 728.8 536 729.5 536.2 730.7C536.7 733.2 537.1 736.9 537.6 737.3C537.9 737.6 538.1 737.6 538.4 737.1C539 736.3 539.4 735.1 540 733.9C540.2 733.4 540.4 732.9 540.6 732.2C541.4 729.1 542.1 724.3 543 723.9C543.7 723.6 544.2 741 544.9 746.9C545.9 755.8 546.7 722 547.8 721.6C548.4 721.4 548.8 724.1 549.4 727.2C550.1 730.4 550.5 740.6 551.1 743.2C552 747.1 552.7 734.5 553.7 729.3C553.9 727.7 554.2 727.1 554.4 727.3C554.8 727.7 555.2 730.5 555.6 732.4C555.8 733.3 555.9 733.7 556.1 733.4C556.4 733 556.7 730.3 557 727.8C557.3 725.7 557.5 724.2 557.8 724.4C558.2 724.8 558.5 728.7 558.9 733.5C559.4 739.7 559.8 745.1 560.3 744.8C560.5 744.7 560.7 744.1 560.9 742.9C561.6 739 562.1 732.4 562.8 728.5C563 727.4 563.1 726.7 563.3 726.4C563.9 725.8 564.3 725.1 564.8 725.8C565.7 726.9 566.3 744.1 567.2 745C567.6 745.3 567.9 741.9 568.3 736.8C568.9 730.3 569.3 723.4 569.8 722.6C570.4 721.8 570.8 727.3 571.4 732.7C571.8 736 572.1 738.5 572.4 739.1C573.2 740.3 573.7 733.6 574.4 731C575.5 727.2 576.3 736.6 577.3 740.6C577.5 741.2 577.6 741.5 577.8 741.6C578.8 742.3 579.6 724.4 580.7 718.3C580.8 717.4 580.9 716.9 581.1 716.8C582 716.1 582.7 739.1 583.6 749.5C583.8 751.8 583.9 753 584.1 753.2C585 753.9 585.7 727.3 586.7 714.1C586.9 710.6 587.1 708.8 587.3 708.5C588.1 707.8 588.7 729.6 589.4 744C589.7 749.3 589.9 752.3 590.2 752.7C590.9 753.5 591.4 744.2 592 733C592.5 723.9 592.9 716.9 593.4 716.7C593.6 716.6 593.7 717.1 593.9 718.4C594.5 723.2 594.9 732.7 595.6 741.1C595.9 745.6 596.1 748.3 596.4 748.6C596.9 749 597.3 744.2 597.8 737.7C598.3 731.3 598.6 725.5 599.1 725.1C599.4 725 599.5 725.8 599.8 727.1C600.1 728.6 600.3 730.2 600.6 730.7C600.9 731.4 601.2 731.9 601.6 732C602.2 732 602.7 731.4 603.3 731C603.7 730.8 604 731.9 604.4 734.1C605.3 738.5 605.9 745.1 606.7 745.7C606.9 745.8 607 745 607.2 743.1C607.8 737.4 608.3 727.2 608.9 721.2C609.1 719.3 609.2 718.1 609.4 717.8C609.8 717.2 610.2 719.4 610.6 724.4C611.5 735.8 612.2 754.2 613.1 754.9C613.3 755 613.4 754.1 613.6 752.1C614.5 740.7 615.2 703.4 616.1 703.4C617.2 703.4 618.1 752.4 619.2 753C619.5 753.2 619.7 751.6 620 748.5C620.8 739.5 621.4 724.2 622.2 720.8C623 717.4 623.6 720.5 624.4 723.8C625.3 727.2 625.9 751 626.7 751.8C627.7 752.8 628.4 720.1 629.4 719.7C630.3 719.3 631 735.2 631.9 737C632.8 738.8 633.5 737.2 634.4 736.7C634.8 736.6 635 735.3 635.3 733.6C635.9 730.4 636.3 727.3 636.9 727.8C637.3 728.1 637.5 728.8 637.9 729.8C638.9 732.4 639.6 735.7 640.6 735.8C640.8 735.8 641.1 735.9 641.3 736C641.6 736.1 641.8 736.2 642 736.2C642.7 736.5 643.2 727 643.9 727.4C644.4 727.7 644.8 731.8 645.3 736.3C645.8 740.5 646.2 743.6 646.7 743.2C647.5 742.5 648.1 728.1 648.9 727C649.8 725.9 650.4 728.4 651.3 729C652.3 729.8 653.1 734.2 654.1 737.8C654.3 738.6 654.5 739 654.7 739.2C655.7 740.1 656.5 724.1 657.6 724.1C658.5 724.1 659.3 730.7 660.2 736.1C660.5 738 660.8 739.4 661.1 740C661.6 740.9 662 741.5 662.4 740.8C662.7 740.5 662.9 740.1 663.1 739.4C663.8 737.6 664.3 722.6 665 722.2C665.2 722.1 665.4 722.6 665.6 724C666.4 729.3 667 743 667.8 743.6C668.9 744.4 669.7 731.3 670.8 729.2C671.6 727.6 672.2 736.2 673 737.1C673.3 737.5 673.6 736.2 673.9 734.1C674.3 731.4 674.6 728.4 675 727.6C675.5 726.7 675.8 729.4 676.3 733.2C676.7 736.4 677 739.1 677.4 739.6C678.1 740.3 678.5 726.4 679.1 726.4C679.9 726.4 680.5 739.6 681.3 738.9C681.5 738.7 681.7 738 681.9 736.8C682.6 732.4 683.2 725.3 683.9 726.3C684.1 726.6 684.3 727.6 684.6 729.1C685.3 733.8 685.9 740.6 686.7 739.7C686.9 739.4 687 738.7 687.2 737.4C687.8 733.6 688.3 727.3 688.9 727.9C689.8 728.7 690.5 731.4 691.4 733.2C692.2 734.7 692.8 736.8 693.6 738.6C694 739.6 694.3 739.4 694.7 738.7C694.9 738.4 695 737.4 695.2 735.8C695.8 731.2 696.3 723.9 696.9 725C697.4 725.9 697.8 732 698.3 735.5C698.5 736.8 698.7 737.5 698.9 737.3C699.5 736.8 699.9 735.6 700.6 735C700.8 734.8 700.9 734.6 701.1 734.4C701.7 733.7 702.2 731.8 702.8 731.7C703 731.7 703.1 731.8 703.3 732.2C703.8 732.9 704.2 734.8 704.7 735.7C705.2 736.7 705.6 734.9 706.1 732.8C706.4 731.6 706.6 730.6 706.9 730C707.5 728.7 707.9 730.6 708.6 734.3C709 737 709.3 739.3 709.8 739.9C710.4 740.7 710.8 729.5 711.4 723.7C711.6 722.2 711.7 721.4 711.9 721.3C712.4 720.9 712.8 730.2 713.3 737.4C713.6 740.8 713.8 742.9 714 743C714.3 743.2 714.5 742.1 714.8 739.8C715.4 734.9 715.8 728 716.4 727.8C716.8 727.6 717.1 728.1 717.4 729.1C718.4 731.6 719.1 735.7 720 736C720.8 736.1 721.4 734.3 722.2 731.8C722.7 730.3 723.1 728.3 723.6 727.3C723.9 726.7 724.1 727.3 724.4 729.2C725.1 732.6 725.5 739.1 726.1 740.6C726.4 741.2 726.5 741 726.8 739.9C727.7 735.9 728.3 725.1 729.2 723.7C729.5 723.2 729.7 724 730 725.9C730.8 731.2 731.4 741.1 732.2 742.2C733.1 743.3 733.8 730.9 734.7 724.4C734.9 722.6 735.1 721.5 735.3 721C736.1 719.7 736.7 727 737.4 733.7C737.8 736.6 738 738.4 738.3 739C739.3 740.6 740 739.2 741 734.6C741.8 730.5 742.5 724.2 743.3 722.8C743.5 722.5 743.7 723 743.9 724.3C744.7 729.7 745.4 744.5 746.2 745.7C746.5 746 746.6 745.3 746.9 743.5C747.9 736.2 748.6 719.6 749.6 719C749.7 719 749.8 719.5 750 720.7C750.7 726.2 751.3 739.4 752 745.3C752.2 746.6 752.3 747.3 752.4 747.5C753.1 748.1 753.5 742.6 754.1 734.4C754.7 726.1 755.2 718.3 755.8 717.6C756 717.4 756.2 718.6 756.4 721.3C757.3 730.3 757.9 748.2 758.7 748.8C759 749 759.2 747.3 759.6 744C760.3 736.3 760.9 723.3 761.7 722.9C763.1 722.2 764.1 736.4 765.6 739.4C765.8 739.8 765.9 739.9 766.1 739.7C766.9 739.1 767.5 734.9 768.3 731.5C768.9 729 769.4 727 770 725.8C770.3 725.2 770.5 725.1 770.8 725.3C771.4 725.9 771.9 730 772.6 734.2C773.2 738.6 773.8 741.4 774.4 740.6C774.8 740.2 775 739.2 775.3 737.7C776.4 732.5 777.2 724.7 778.3 723.9C779.1 723.4 779.6 730.6 780.3 737.6C780.7 741.1 781 743.4 781.3 743.6C782.3 743.9 783 725.2 783.9 725C784.1 725 784.2 725.4 784.4 726.4C785 728.9 785.4 732.4 785.9 735C786.1 736 786.2 736.5 786.4 736.7C787.1 737.4 787.6 737 788.2 734.7C789.2 731.4 789.8 726.1 790.8 725.2C791 724.9 791.2 725.8 791.4 727.8C792.1 733.4 792.6 744.6 793.3 745.9C793.6 746.5 793.8 745.2 794.1 742.2C794.9 734.1 795.5 719.2 796.2 718.1C796.5 717.6 796.7 718.5 797 720.8C798 728.6 798.7 745.4 799.7 746.1C799.9 746.2 800 745.9 800.2 744.9C801.3 739.7 802.1 723.4 803.1 721C804 719.1 804.7 732.3 805.6 740.1C805.9 743 806.1 744.4 806.4 744.2C806.9 743.8 807.3 740.8 807.8 736.6C808.7 728.4 809.4 719.8 810.3 719.8C811.1 719.8 811.7 735.7 812.6 743.9C812.8 745.9 812.9 746.9 813.1 747C814.2 747.4 814.9 722.4 816 722.7C817.1 723 817.8 738.2 818.9 741C819.9 743.6 820.7 731.3 821.7 726.2C821.9 725.2 822 724.7 822.2 724.7C823 724.7 823.6 733.2 824.4 738.8C824.8 741 825 742.1 825.3 741.9C825.7 741.7 826 739.4 826.3 735.9C827 729.4 827.5 721.8 828.2 721.9C828.7 721.9 829 724.3 829.4 728.3C829.9 732.6 830.3 737.1 830.8 740.4C831.1 742.3 831.3 743.2 831.6 742.9C832 742.5 832.3 740.6 832.8 737.9C833.8 732 834.5 725.1 835.6 725.1C836.6 725.1 837.5 746.7 838.6 746.2C839 746 839.3 742.7 839.7 737.5C840.4 728.1 840.9 718.1 841.7 719C842 719.3 842.2 721.9 842.6 726C843.3 735.9 843.9 747.6 844.7 746.2C844.9 745.8 845.1 744.9 845.3 743.5C846.4 737.3 847.2 728.3 848.3 728.3C849.1 728.3 849.7 737.3 850.6 735.3C850.9 734.5 851.1 729.8 851.4 727.8C852.4 722 853.1 746.3 854.1 747.4C855 748.5 855.7 721.7 856.7 719.8C857.1 718.9 857.4 720.9 857.8 725C858.6 733.2 859.2 746.4 860 747.9C860.3 748.4 860.5 747.5 860.8 745C861.7 737 862.4 718.7 863.3 717.8C864.3 716.9 865.1 746.1 866.1 747.4C866.4 747.9 866.7 745.9 867 742.1C867.7 734.1 868.2 722.5 868.9 721.5C869.7 720.3 870.3 727.5 871.1 735.2C871.6 740.2 872 744.7 872.6 746C873 747.2 873.4 742.4 873.9 734.6C874.5 724.8 874.9 714 875.6 712.6C875.9 711.9 876.1 714.1 876.4 718.6C876.9 725.5 877.3 733.4 877.8 739.9C878.1 743.6 878.3 745.9 878.6 746.5C879.1 747.5 879.5 745 880 739.1C880.9 728.7 881.6 715.1 882.6 714C883.1 713.3 883.5 723.3 884.1 734.3C884.6 742.9 884.9 749.6 885.3 750.2C886.1 751.5 886.7 744.6 887.6 735.4C888.2 727.6 888.8 719.8 889.4 718.4C889.8 717.8 890 719.3 890.3 722.5C891.1 730.3 891.7 742.9 892.4 744.1C893 745 893.4 743.6 893.9 740.5C894.8 735 895.5 725.8 896.4 725.1C897.3 724.5 897.9 736.7 898.7 737.6C899.2 738.2 899.5 736.7 900 734.3C900.5 732 900.8 729.9 901.3 729.8C901.9 729.6 902.3 733.7 902.8 735.3C903.6 737.7 904.2 732.9 905 730.9C905.4 729.8 905.7 729.6 906.1 730C906.5 730.5 906.8 732.6 907.2 734.7C907.6 736.7 907.9 738.1 908.3 737.8C908.7 737.5 909 734.8 909.4 731.9C909.8 729.1 910.2 727 910.6 727.3C911 727.7 911.3 729.8 911.7 732.3C912.2 735.5 912.6 737.9 913.1 737.4C913.3 737.2 913.5 737 913.7 736.8C914.2 736.3 914.5 735.8 915 735.2C915.5 734.5 915.8 729.2 916.3 726.7C917.2 722.2 917.8 742.3 918.7 741.7C919.2 741.4 919.5 738.3 920 734.3C920.7 728.6 921.2 723.9 921.9 724.5C922.1 724.7 922.2 725.4 922.4 726.7C923.3 732.3 923.9 743.9 924.8 743.4C924.9 743.3 925.1 742.9 925.2 742C926.2 736.7 927 720.8 928 721.1C928.7 721.3 929.3 731.4 930 739.8C930.4 744.6 930.7 747 931.1 746.5C931.4 746.1 931.7 742.7 932 737.8C932.6 728.5 933.1 718.7 933.7 719.5C933.8 719.7 933.9 720.5 934.1 721.9C934.8 728.4 935.4 743.4 936.1 742.7C936.5 742.3 936.8 739.1 937.2 735C937.7 729.8 938.1 725.3 938.7 725.8C939.1 726.3 939.4 729.7 939.8 733.7C940.3 738.6 940.6 742.6 941.1 741.9C941.6 741.3 942 735.6 942.4 729.8C942.9 724.5 943.2 720.9 943.7 721.8C944.2 722.8 944.7 726.3 945.2 730C946.2 736.2 946.8 739.7 947.8 737.9C948.1 737.4 948.3 735.7 948.6 733C949.3 725.9 949.9 718.8 950.7 721.5C950.9 722.6 951.2 724.9 951.4 728.2C952.1 736 952.6 745.3 953.3 742.9C953.9 741 954.3 734.7 954.8 729.1C955.3 723.9 955.6 720.5 956.1 721.5C956.8 722.8 957.3 730.9 958 736.6C958.4 740 958.7 741.9 959.1 741.5C960 740.6 960.6 723.6 961.4 722.9C961.7 722.7 961.9 722.7 962.2 723.1C962.6 723.6 962.9 724.7 963.3 726.4C964.1 729.5 964.6 744.3 965.3 744.8C966.5 745.5 967.5 724.1 968.7 723.5C969.4 723.2 970 747.2 970.8 756.9C971 759.4 971.1 760.4 971.3 759.8C971.7 758.7 972 747.7 972.4 735.1C972.9 720 973.3 706.3 973.8 706.4C974.5 706.5 975 717.8 975.8 727.8C976.8 741.8 977.5 762.5 978.6 763.8C978.9 764.2 979.2 762 979.6 757.2C980.7 742.2 981.5 712.9 982.7 711.9C982.9 711.7 983.1 713.6 983.3 717.3C984.1 728.4 984.6 748.5 985.3 749.2C985.8 749.6 986.2 746.2 986.7 740.9C987.4 733.4 987.9 723.6 988.6 723.6C989.5 723.6 990.2 725.1 991.1 727C991.7 728.2 992.2 732.8 992.8 736.8C993.2 739.5 993.5 740.6 993.9 740.1C994.1 739.9 994.2 739.2 994.4 737.9C995.3 732.3 996 720.5 996.9 719.2C997.4 718.4 997.8 726.4 998.3 736.3C998.7 743.9 999 750.6 999.4 750.9C1000.3 751.5 1000.9 736.7 1001.7 726.8C1002.2 720.4 1002.6 716.5 1003.1 717.1C1003.7 717.7 1004.2 725.5 1004.8 733.1C1005.3 739.3 1005.6 743 1006.1 742.7C1006.7 742.4 1007.2 729.7 1007.8 729.8C1008.2 729.8 1008.5 737.3 1008.9 741.3C1009.9 751.4 1010.7 721.3 1011.7 721.7C1012.2 721.9 1012.5 728.8 1013 737.2C1013.5 746.3 1013.9 752.3 1014.4 751.8C1015.7 750.5 1016.6 708.5 1017.8 708.9C1018.8 709.2 1019.5 753.1 1020.6 752.5C1021.6 751.9 1022.3 729.3 1023.3 730.2C1023.5 730.3 1023.7 730.4 1023.9 730.5C1024.3 730.6 1024.6 730.5 1025 730.3C1025.8 730 1026.4 746.7 1027.2 746.7C1028.1 746.7 1028.8 715.1 1029.7 715.8C1030.3 716.2 1030.7 723.9 1031.3 732.7C1031.9 741.6 1032.4 748.3 1033 747.6C1033.4 747.2 1033.7 741.9 1034.1 735.1C1034.6 726.2 1035 718.9 1035.6 719.9C1035.9 720.6 1036.1 722 1036.4 723.9C1037.1 727.9 1037.6 732 1038.3 733.1C1038.7 733.8 1039 734.5 1039.4 735.8C1040.2 738.2 1040.7 741 1041.4 741.9C1041.7 742.2 1041.9 740.5 1042.2 737.6C1042.7 732.6 1043.1 726.3 1043.6 725.6C1044.3 724.5 1044.8 732.5 1045.6 732.5C1046.6 732.5 1047.3 734.1 1048.3 734.7C1048.8 734.9 1049.1 732.8 1049.6 729.9C1050 727 1050.3 724.4 1050.8 724.1C1051.3 723.8 1051.7 728.8 1052.2 735C1052.7 741.2 1053.1 746.2 1053.7 745.9C1054 745.7 1054.3 742.8 1054.7 738.6C1055.3 730.9 1055.8 722.3 1056.4 722.6C1056.7 722.7 1056.9 723.1 1057.2 723.8C1057.9 725.6 1058.4 727.9 1059.1 730.2C1059.8 732.4 1060.2 737.8 1060.9 741.3C1061.1 742.6 1061.3 743.3 1061.6 743.5C1062.4 744 1063 723.1 1063.9 723.7C1064.2 723.9 1064.4 724.5 1064.7 725.4C1065.2 727.1 1065.6 729.1 1066.1 730.7C1066.9 733.2 1067.5 739.1 1068.3 738.6C1068.9 738.2 1069.4 729.1 1070 724.1C1070.2 722.4 1070.4 721.5 1070.6 721.5C1071.4 721.5 1072 742.6 1072.8 742.8C1073.7 743 1074.3 724.8 1075.2 724.8C1076.1 724.8 1076.7 744 1077.6 743.3C1077.7 743.1 1077.8 742.4 1078 741C1078.8 733.9 1079.4 716.2 1080.2 716.8C1080.5 716.9 1080.6 718.3 1080.9 721C1081.8 730.5 1082.4 748.4 1083.3 748.1C1084.3 747.7 1085.1 723.1 1086.1 723.1C1086.9 723.1 1087.5 735.3 1088.3 734.8C1088.7 734.5 1089 734.2 1089.4 733.9C1089.8 733.7 1090.2 733.6 1090.6 733.8C1091.2 734.1 1091.8 738.9 1092.4 739.4C1093.2 740 1093.7 731.2 1094.4 723.5C1094.8 719.3 1095.2 717 1095.6 717.4C1096 717.9 1096.3 723.8 1096.8 731.2C1097.3 740.8 1097.8 748.8 1098.3 747.8C1098.7 747 1099 743.6 1099.4 739C1100.2 730.7 1100.7 721.7 1101.4 722.5C1101.9 723.1 1102.3 724.5 1102.8 726.2C1103.2 727.7 1103.5 728.6 1103.9 729.7C1104.3 730.9 1104.6 733.4 1105 736.8C1105.4 740.6 1105.8 743.5 1106.2 743.7C1107.2 744.1 1107.9 715.9 1108.9 716C1109.8 716.1 1110.5 750.8 1111.4 750.5C1111.7 750.4 1111.9 748.3 1112.2 744.5C1113 733.5 1113.6 715.2 1114.4 715.3C1114.6 715.3 1114.8 716.2 1115 717.9C1115.9 726.1 1116.6 746.1 1117.6 746.3C1118 746.4 1118.4 742.5 1118.9 736.8C1119.6 728.6 1120.1 719.3 1120.8 718.3C1121.7 716.8 1122.4 744.9 1123.3 745.6C1123.6 745.8 1123.8 744.8 1124 742.9C1124.7 737.5 1125.2 726.2 1125.9 724.9C1126.1 724.6 1126.2 724.9 1126.4 725.9C1126.9 728.3 1127.3 732.6 1127.8 733.5C1128.3 734.5 1128.6 734.5 1129.1 733.9C1129.3 733.7 1129.5 733.5 1129.7 733.4C1130.3 733 1130.8 742.4 1131.4 741.9C1131.7 741.6 1131.9 740.2 1132.2 737.8C1133 731 1133.6 721 1134.4 721.5C1135.2 721.9 1135.7 732.9 1136.4 740.7C1136.7 743.7 1136.9 745.5 1137.2 745.6C1137.6 745.7 1137.9 741.2 1138.3 734.8C1138.9 726.5 1139.3 718.1 1139.8 717.8C1140.4 717.3 1140.8 726.1 1141.4 735.8C1141.9 743.6 1142.3 749.8 1142.8 750.3C1143.6 751.3 1144.2 736.2 1145 725.5C1145.3 721.2 1145.6 718.4 1145.9 717.7C1146.6 716.1 1147.1 723.5 1147.8 731.7C1148.2 736.6 1148.5 740.3 1148.9 741.3C1149.5 742.8 1150 734.1 1150.7 731.5C1151.6 728 1152.2 741 1153.1 740.4C1154.1 739.7 1154.8 716.2 1155.8 717C1156.1 717.2 1156.3 720.8 1156.7 726.4C1157.3 736.9 1157.7 749.4 1158.3 749.2C1159.1 749.1 1159.7 734.7 1160.6 727.8C1160.8 726.1 1160.9 725.1 1161.1 724.9C1161.5 724.5 1161.8 725.5 1162.2 727.4C1162.4 728.4 1162.6 729.2 1162.8 730.1C1163.5 733.2 1164 738.9 1164.8 739.1C1165.7 739.3 1166.5 724 1167.4 723.6C1167.8 723.4 1168.2 729.1 1168.6 735.2C1168.9 740 1169.1 743.8 1169.4 744C1170.2 744.6 1170.8 724.9 1171.6 722.6C1172.5 719.9 1173.2 734.7 1174.1 736.2C1175 737.6 1175.6 733.4 1176.4 734.6C1176.8 735.2 1177.1 737.9 1177.4 739.4C1178.5 743.3 1179.2 727.1 1180.2 722C1180.4 721 1180.6 720.6 1180.8 720.7C1181.8 721.1 1182.5 748.9 1183.6 748.9C1184.2 748.9 1184.7 736.8 1185.3 727.4C1185.7 722.1 1186 719.1 1186.3 719.4C1186.6 719.7 1186.8 720.9 1187 723C1187.9 730.9 1188.6 744.3 1189.4 744.3C1190.4 744.3 1191.1 720.1 1192 720.1C1193 720.1 1193.7 747.2 1194.7 746.3C1195.1 745.9 1195.4 741.6 1195.9 735.6C1196.6 726.4 1197.1 717.7 1197.8 718.7C1198.1 719.2 1198.3 722.6 1198.7 727.8C1199.3 738.2 1199.8 750.4 1200.4 749.7C1200.7 749.4 1200.9 747.6 1201.1 744.8C1201.7 737.7 1202.2 727.8 1202.8 728C1203.3 728.2 1203.7 731.9 1204.2 731.6C1204.5 731.5 1204.7 730.5 1205 729.3C1205.4 727.6 1205.7 726.1 1206.1 726.3C1206.6 726.7 1207 732.3 1207.6 737.8C1208 742 1208.3 744.8 1208.7 744.4C1209.2 743.9 1209.5 739.7 1210 734.6C1210.6 728.1 1211.1 722.7 1211.7 723.3C1212.1 723.7 1212.4 724.4 1212.8 725.3C1213.4 726.7 1213.8 727.3 1214.4 728.9C1214.7 729.7 1214.9 732.2 1215.2 735.8C1215.6 741 1215.9 746 1216.3 746.4C1217.3 747.4 1218 734.6 1218.9 727.1C1219.2 724.8 1219.4 723.4 1219.7 722.9C1220.4 721.8 1220.9 726.2 1221.7 732.8C1222.3 738.3 1222.7 743.6 1223.3 744.6C1223.7 745.3 1224 742.1 1224.4 737.3C1224.9 731.5 1225.3 725.6 1225.8 724.8C1226.4 723.8 1226.9 728.4 1227.6 732.3C1227.8 734 1228.1 735.1 1228.3 735.5C1229.1 736.4 1229.7 729 1230.6 727.2C1231.8 724.5 1232.7 737.4 1233.9 737.4C1234.5 737.4 1234.9 737.2 1235.6 736.9C1236.4 736.6 1237 729.7 1237.8 724.9C1238.1 723.2 1238.3 722.2 1238.6 722C1239.4 721.5 1240 733.7 1240.8 740.6C1241 742.7 1241.2 743.9 1241.4 744.1C1242 744.6 1242.4 742.3 1243 737.4C1244 728.7 1244.8 716.6 1245.8 715.7C1246.5 715 1247 732.2 1247.8 744.5C1248.1 749.3 1248.3 752.1 1248.6 752.2C1249.4 752.7 1250 742.5 1250.8 732.6C1251.3 726.1 1251.7 721 1252.2 720.3C1252.5 719.9 1252.8 721.2 1253.1 723.8C1253.8 729.3 1254.3 737.9 1255 738.5C1255.2 738.7 1255.4 738.7 1255.6 738.5C1256.4 737.8 1257 735.1 1257.8 733.6C1258.7 731.9 1259.3 730.8 1260.2 729.3C1260.5 728.7 1260.8 728.4 1261.1 728.2C1262 727.6 1262.7 736.1 1263.7 739.2C1263.8 739.7 1263.9 740 1264.1 740.1C1265 740.5 1265.7 733.9 1266.7 729.2C1267 727.5 1267.2 726.5 1267.6 726.3C1268.2 726 1268.6 728.4 1269.2 731.9C1269.8 735.5 1270.3 738.4 1270.9 738.5C1271.4 738.5 1271.7 736.8 1272.2 734.5C1272.8 731.6 1273.3 729 1273.9 729.1C1274.1 729.2 1274.2 729.3 1274.4 729.6C1275.5 731.2 1276.2 735 1277.2 734.9C1277.4 734.9 1277.6 734.7 1277.8 734.5C1278.5 733.6 1279 731.8 1279.8 731.8C1280.7 731.9 1281.3 733 1282.2 733C1284.6 733 1286.3 733 1288.7 733" fill="none" stroke="#000" stroke-width="2.08" stroke-linejoin="round" stroke-linecap="butt"/></g>
<g clip-path="url(#cp4)"><path d="M936.4 802.5V665.5" stroke="#00bfbf" stroke-width="2.78" fill="none" stroke-dasharray="10.28 4.44"/><path d="M959.5 802.5V665.5" stroke="#00bfbf" stroke-width="2.78" fill="none" stroke-dasharray="10.28 4.44"/></g>
<rect x="225.5" y="665.5" width="1113.0" height="136.0" fill="none" stroke="#000" stroke-width="1.1"/>
<text x="236.05" y="683.1" font-size="13.89" text-anchor="start" >T</text>
<text x="276.30" y="822.3" font-size="13.89" text-anchor="middle" >0</text>
<text x="322.30" y="822.3" font-size="13.89" text-anchor="middle" >1000</text>
<text x="368.30" y="822.3" font-size="13.89" text-anchor="middle" >2000</text>
<text x="414.30" y="822.3" font-size="13.89" text-anchor="middle" >3000</text>
<text x="460.30" y="822.3" font-size="13.89" text-anchor="middle" >4000</text>
<text x="506.30" y="822.3" font-size="13.89" text-anchor="middle" >5000</text>
<text x="552.30" y="822.3" font-size="13.89" text-anchor="middle" >6000</text>
<text x="598.30" y="822.3" font-size="13.89" text-anchor="middle" >7000</text>
<text x="644.30" y="822.3" font-size="13.89" text-anchor="middle" >8000</text>
<text x="690.30" y="822.3" font-size="13.89" text-anchor="middle" >9000</text>
<text x="736.30" y="822.3" font-size="13.89" text-anchor="middle" >10000</text>
<text x="782.30" y="822.3" font-size="13.89" text-anchor="middle" >11000</text>
<text x="828.30" y="822.3" font-size="13.89" text-anchor="middle" >12000</text>
<text x="874.30" y="822.3" font-size="13.89" text-anchor="middle" >13000</text>
<text x="920.30" y="822.3" font-size="13.89" text-anchor="middle" >14000</text>
<text x="966.30" y="822.3" font-size="13.89" text-anchor="middle" >15000</text>
<text x="1012.30" y="822.3" font-size="13.89" text-anchor="middle" >16000</text>
<text x="1058.30" y="822.3" font-size="13.89" text-anchor="middle" >17000</text>
<text x="1104.30" y="822.3" font-size="13.89" text-anchor="middle" >18000</text>
<text x="1150.30" y="822.3" font-size="13.89" text-anchor="middle" >19000</text>
<text x="1196.30" y="822.3" font-size="13.89" text-anchor="middle" >20000</text>
<text x="1242.30" y="822.3" font-size="13.89" text-anchor="middle" >21000</text>
<text x="1288.30" y="822.3" font-size="13.89" text-anchor="middle" >22000</text>
<clipPath id="sc1"><rect x="1351.5" y="108.5" width="128" height="66"/></clipPath><clipPath id="sc2"><rect x="1492.5" y="108.5" width="128" height="66"/></clipPath><g clip-path="url(#sc1)"><path d="M1356.8 142.4L1357.1 142.0L1357.4 141.5L1357.7 141.1L1358.0 140.7L1358.3 140.3L1358.6 139.9L1358.9 139.5L1359.2 139.1L1359.5 138.7L1359.7 138.4L1360.0 138.1L1360.3 137.7L1360.6 137.4L1360.9 137.2L1361.2 136.9L1361.5 136.7L1361.8 136.5L1362.1 136.3L1362.4 136.1L1362.7 136.0L1363.0 135.9L1363.3 135.8L1363.6 135.7L1363.9 135.7L1364.2 135.7L1364.5 135.7L1364.8 135.8L1365.1 135.9L1365.3 136.0L1365.6 136.1L1365.9 136.3L1366.2 136.4L1366.5 136.6L1366.8 136.8L1367.1 137.1L1367.4 137.3L1367.7 137.6L1368.0 137.9L1368.3 138.2L1368.6 138.5L1368.9 138.8L1369.2 139.1L1369.5 139.4L1369.8 139.8L1370.1 140.1L1370.4 140.5L1370.7 140.8L1370.9 141.2L1371.2 141.5L1371.5 141.9L1371.8 142.2L1372.1 142.6L1372.4 142.9L1372.7 143.2L1373.0 143.6L1373.3 143.9L1373.6 144.2L1373.9 144.5L1374.2 144.8L1374.5 145.1L1374.8 145.3L1375.1 145.6L1375.4 145.8L1375.7 146.0L1376.0 146.2L1376.3 146.4L1376.5 146.5L1376.8 146.6L1377.1 146.7L1377.4 146.8L1377.7 146.9L1378.0 146.9L1378.3 146.9L1378.6 146.8L1378.9 146.7L1379.2 146.6L1379.5 146.4L1379.8 146.1L1380.1 145.9L1380.4 145.6L1380.7 145.3L1381.0 144.9L1381.3 144.5L1381.6 144.1L1381.9 143.7L1382.1 143.3L1382.4 142.8L1382.7 142.4L1383.0 141.9L1383.3 141.4L1383.6 140.9L1383.9 140.4L1384.2 139.9L1384.5 139.4L1384.8 138.9L1385.1 138.4L1385.4 137.9L1385.7 137.4L1386.0 136.9L1386.3 136.5L1386.6 136.0L1386.9 135.6L1387.2 135.2L1387.5 134.8L1387.7 134.5L1388.0 134.1L1388.3 133.9L1388.6 133.6L1388.9 133.4L1389.2 133.2L1389.5 133.0L1389.8 132.9L1390.1 132.8L1390.4 132.8L1390.7 132.8L1391.0 132.9L1391.3 133.0L1391.6 133.2L1391.9 133.3L1392.2 133.6L1392.5 133.8L1392.8 134.1L1393.1 134.5L1393.3 134.8L1393.6 135.2L1393.9 135.7L1394.2 136.1L1394.5 136.6L1394.8 137.1L1395.1 137.6L1395.4 138.1L1395.7 138.6L1396.0 139.2L1396.3 139.8L1396.6 140.3L1396.9 140.9L1397.2 141.5L1397.5 142.1L1397.8 142.7L1398.1 143.3L1398.4 143.9L1398.7 144.5L1398.9 145.1L1399.2 145.7L1399.5 146.3L1399.8 146.9L1400.1 147.5L1400.4 148.0L1400.7 148.5L1401.0 149.1L1401.3 149.6L1401.6 150.0L1401.9 150.5L1402.2 150.9L1402.5 151.3L1402.8 151.7L1403.1 152.1L1403.4 152.4L1403.7 152.7L1404.0 152.9L1404.3 153.1L1404.5 153.3L1404.8 153.5L1405.1 153.5L1405.4 153.6L1405.7 153.6L1406.0 153.5L1406.3 153.4L1406.6 153.3L1406.9 153.0L1407.2 152.8L1407.5 152.4L1407.8 152.1L1408.1 151.6L1408.4 151.2L1408.7 150.7L1409.0 150.1L1409.3 149.6L1409.6 148.9L1409.9 148.3L1410.1 147.6L1410.4 146.9L1410.7 146.2L1411.0 145.4L1411.3 144.6L1411.6 143.8L1411.9 143.0L1412.2 142.2L1412.5 141.3L1412.8 140.5L1413.1 139.6L1413.4 138.7L1413.7 137.8L1414.0 137.0L1414.3 136.1L1414.6 135.2L1414.9 134.3L1415.2 133.4L1415.5 132.5L1415.7 131.6L1416.0 130.8L1416.3 129.9L1416.6 129.1L1416.9 128.3L1417.2 127.5L1417.5 126.7L1417.8 126.0L1418.1 125.2L1418.4 124.5L1418.7 123.9L1419.0 123.2L1419.3 122.6L1419.6 122.1L1419.9 121.5L1420.2 121.0L1420.5 120.6L1420.8 120.2L1421.1 119.8L1421.3 119.5L1421.6 119.2L1421.9 119.0L1422.2 118.9L1422.5 118.8L1422.8 118.7L1423.1 118.8L1423.4 118.9L1423.7 119.2L1424.0 119.6L1424.3 120.1L1424.6 120.8L1424.9 121.5L1425.2 122.3L1425.5 123.2L1425.8 124.2L1426.1 125.3L1426.4 126.5L1426.7 127.7L1426.9 129.0L1427.2 130.3L1427.5 131.7L1427.8 133.2L1428.1 134.6L1428.4 136.2L1428.7 137.7L1429.0 139.3L1429.3 140.9L1429.6 142.5L1429.9 144.1L1430.2 145.7L1430.5 147.3L1430.8 149.0L1431.1 150.6L1431.4 152.1L1431.7 153.7L1432.0 155.2L1432.3 156.7L1432.5 158.2L1432.8 159.6L1433.1 160.9L1433.4 162.2L1433.7 163.5L1434.0 164.6L1434.3 165.7L1434.6 166.7L1434.9 167.7L1435.2 168.5L1435.5 169.3L1435.8 169.9L1436.1 170.5L1436.4 170.9L1436.7 171.2L1437.0 171.4L1437.3 171.5L1437.6 171.5L1437.9 171.4L1438.1 171.1L1438.4 170.9L1438.7 170.5L1439.0 170.1L1439.3 169.6L1439.6 169.0L1439.9 168.3L1440.2 167.6L1440.5 166.9L1440.8 166.1L1441.1 165.2L1441.4 164.3L1441.7 163.4L1442.0 162.4L1442.3 161.3L1442.6 160.2L1442.9 159.1L1443.2 158.0L1443.5 156.8L1443.7 155.7L1444.0 154.5L1444.3 153.2L1444.6 152.0L1444.9 150.7L1445.2 149.5L1445.5 148.2L1445.8 147.0L1446.1 145.7L1446.4 144.4L1446.7 143.2L1447.0 142.0L1447.3 140.7L1447.6 139.5L1447.9 138.3L1448.2 137.2L1448.5 136.0L1448.8 134.9L1449.1 133.8L1449.3 132.8L1449.6 131.8L1449.9 130.8L1450.2 129.9L1450.5 129.1L1450.8 128.2L1451.1 127.5L1451.4 126.8L1451.7 126.1L1452.0 125.5L1452.3 125.0L1452.6 124.6L1452.9 124.2L1453.2 123.9L1453.5 123.7L1453.8 123.6L1454.1 123.5L1454.4 123.5L1454.7 123.6L1454.9 123.7L1455.2 123.9L1455.5 124.0L1455.8 124.3L1456.1 124.5L1456.4 124.8L1456.7 125.1L1457.0 125.5L1457.3 125.9L1457.6 126.3L1457.9 126.7L1458.2 127.2L1458.5 127.7L1458.8 128.2L1459.1 128.7L1459.4 129.3L1459.7 129.8L1460.0 130.4L1460.3 131.0L1460.5 131.6L1460.8 132.2L1461.1 132.9L1461.4 133.5L1461.7 134.1L1462.0 134.8L1462.3 135.4L1462.6 136.1L1462.9 136.7L1463.2 137.4L1463.5 138.0L1463.8 138.7L1464.1 139.3L1464.4 140.0L1464.7 140.6L1465.0 141.2L1465.3 141.8L1465.6 142.4L1465.9 142.9L1466.1 143.5L1466.4 144.0L1466.7 144.5L1467.0 145.0L1467.3 145.5L1467.6 145.9L1467.9 146.4L1468.2 146.8L1468.5 147.1L1468.8 147.4L1469.1 147.7L1469.4 148.0L1469.7 148.2L1470.0 148.4L1470.3 148.6L1470.6 148.7L1470.9 148.8L1471.2 148.8L1471.5 148.8L1471.7 148.8L1472.0 148.7L1472.3 148.7L1472.6 148.6L1472.9 148.6L1473.2 148.5L1473.5 148.4L1473.8 148.3L1474.1 148.1L1474.4 148.0" fill="none" stroke="#000" stroke-width="2.08" stroke-linejoin="round"/></g><path d="M1356.8 204.8L1357.1 204.6L1357.4 204.5L1357.7 204.3L1358.0 204.2L1358.3 204.1L1358.6 204.0L1358.9 204.0L1359.2 204.0L1359.5 204.1L1359.7 204.2L1360.0 204.3L1360.3 204.5L1360.6 204.7L1360.9 204.9L1361.2 205.2L1361.5 205.5L1361.8 205.8L1362.1 206.1L1362.4 206.4L1362.7 206.8L1363.0 207.2L1363.3 207.6L1363.6 208.0L1363.9 208.4L1364.2 208.9L1364.5 209.3L1364.8 209.7L1365.1 210.2L1365.3 210.6L1365.6 211.1L1365.9 211.5L1366.2 211.9L1366.5 212.3L1366.8 212.8L1367.1 213.2L1367.4 213.5L1367.7 213.9L1368.0 214.3L1368.3 214.6L1368.6 214.9L1368.9 215.2L1369.2 215.4L1369.5 215.7L1369.8 215.9L1370.1 216.0L1370.4 216.2L1370.7 216.2L1370.9 216.3L1371.2 216.3L1371.5 216.3L1371.8 216.2L1372.1 216.2L1372.4 216.0L1372.7 215.9L1373.0 215.7L1373.3 215.5L1373.6 215.3L1373.9 215.1L1374.2 214.8L1374.5 214.5L1374.8 214.2L1375.1 213.9L1375.4 213.6L1375.7 213.2L1376.0 212.8L1376.3 212.5L1376.5 212.1L1376.8 211.7L1377.1 211.3L1377.4 210.9L1377.7 210.6L1378.0 210.2L1378.3 209.8L1378.6 209.4L1378.9 209.0L1379.2 208.6L1379.5 208.2L1379.8 207.9L1380.1 207.5L1380.4 207.2L1380.7 206.8L1381.0 206.5L1381.3 206.2L1381.6 205.9L1381.9 205.7L1382.1 205.4L1382.4 205.2L1382.7 205.0L1383.0 204.9L1383.3 204.7L1383.6 204.6L1383.9 204.5L1384.2 204.5L1384.5 204.5L1384.8 204.5L1385.1 204.6L1385.4 204.7L1385.7 204.9L1386.0 205.1L1386.3 205.3L1386.6 205.6L1386.9 205.9L1387.2 206.2L1387.5 206.6L1387.7 207.0L1388.0 207.4L1388.3 207.8L1388.6 208.2L1388.9 208.7L1389.2 209.2L1389.5 209.7L1389.8 210.2L1390.1 210.7L1390.4 211.2L1390.7 211.7L1391.0 212.2L1391.3 212.7L1391.6 213.2L1391.9 213.7L1392.2 214.2L1392.5 214.7L1392.8 215.1L1393.1 215.6L1393.3 216.0L1393.6 216.4L1393.9 216.8L1394.2 217.1L1394.5 217.4L1394.8 217.7L1395.1 218.0L1395.4 218.2L1395.7 218.4L1396.0 218.5L1396.3 218.7L1396.6 218.7L1396.9 218.7L1397.2 218.7L1397.5 218.6L1397.8 218.5L1398.1 218.3L1398.4 218.2L1398.7 217.9L1398.9 217.7L1399.2 217.4L1399.5 217.1L1399.8 216.8L1400.1 216.4L1400.4 216.0L1400.7 215.6L1401.0 215.2L1401.3 214.8L1401.6 214.4L1401.9 213.9L1402.2 213.5L1402.5 213.0L1402.8 212.6L1403.1 212.1L1403.4 211.7L1403.7 211.2L1404.0 210.8L1404.3 210.4L1404.5 209.9L1404.8 209.5L1405.1 209.1L1405.4 208.8L1405.7 208.4L1406.0 208.1L1406.3 207.8L1406.6 207.5L1406.9 207.2L1407.2 207.0L1407.5 206.8L1407.8 206.6L1408.1 206.5L1408.4 206.4L1408.7 206.4L1409.0 206.4L1409.3 206.4L1409.6 206.5L1409.9 206.6L1410.1 206.7L1410.4 206.8L1410.7 207.0L1411.0 207.1L1411.3 207.2L1411.6 207.3L1411.9 207.5L1412.2 207.6L1412.5 207.6L1412.8 207.7L1413.1 207.7L1413.4 207.7L1413.7 207.8L1414.0 207.8L1414.3 207.8L1414.6 207.8L1414.9 207.8L1415.2 207.8L1415.5 207.8L1415.7 207.9L1416.0 207.9L1416.3 207.9L1416.6 207.9L1416.9 207.9L1417.2 208.0L1417.5 208.0L1417.8 208.0L1418.1 208.1L1418.4 208.2L1418.7 208.3L1419.0 208.5L1419.3 208.6L1419.6 208.8L1419.9 209.0L1420.2 209.2L1420.5 209.4L1420.8 209.6L1421.1 209.8L1421.3 210.0L1421.6 210.3L1421.9 210.6L1422.2 210.9L1422.5 211.2L1422.8 211.6L1423.1 211.9L1423.4 212.3L1423.7 212.6L1424.0 212.9L1424.3 213.2L1424.6 213.4L1424.9 213.7L1425.2 213.9L1425.5 214.1L1425.8 214.3L1426.1 214.6L1426.4 214.8L1426.7 215.0L1426.9 215.3L1427.2 215.5L1427.5 215.7L1427.8 215.9L1428.1 216.1L1428.4 216.3L1428.7 216.5L1429.0 216.7L1429.3 216.9L1429.6 217.1L1429.9 217.2L1430.2 217.4L1430.5 217.5L1430.8 217.6L1431.1 217.7L1431.4 217.8L1431.7 217.8L1432.0 217.9L1432.3 217.9L1432.5 217.9L1432.8 217.9L1433.1 217.7L1433.4 217.6L1433.7 217.3L1434.0 217.0L1434.3 216.7L1434.6 216.3L1434.9 215.8L1435.2 215.4L1435.5 214.8L1435.8 214.3L1436.1 213.7L1436.4 213.1L1436.7 212.5L1437.0 211.9L1437.3 211.3L1437.6 210.7L1437.9 210.0L1438.1 209.4L1438.4 208.8L1438.7 208.1L1439.0 207.6L1439.3 207.0L1439.6 206.4L1439.9 205.9L1440.2 205.4L1440.5 205.0L1440.8 204.6L1441.1 204.2L1441.4 203.9L1441.7 203.6L1442.0 203.4L1442.3 203.3L1442.6 203.2L1442.9 203.2L1443.2 203.2L1443.5 203.3L1443.7 203.4L1444.0 203.5L1444.3 203.6L1444.6 203.7L1444.9 203.9L1445.2 204.0L1445.5 204.2L1445.8 204.4L1446.1 204.6L1446.4 204.8L1446.7 205.0L1447.0 205.2L1447.3 205.4L1447.6 205.6L1447.9 205.8L1448.2 206.0L1448.5 206.3L1448.8 206.5L1449.1 206.7L1449.3 207.0L1449.6 207.3L1449.9 207.6L1450.2 207.8L1450.5 208.1L1450.8 208.4L1451.1 208.7L1451.4 209.0L1451.7 209.3L1452.0 209.7L1452.3 210.0L1452.6 210.4L1452.9 210.8L1453.2 211.2L1453.5 211.6L1453.8 212.0L1454.1 212.5L1454.4 212.9L1454.7 213.3L1454.9 213.8L1455.2 214.2L1455.5 214.7L1455.8 215.1L1456.1 215.5L1456.4 215.9L1456.7 216.3L1457.0 216.7L1457.3 217.1L1457.6 217.4L1457.9 217.8L1458.2 218.1L1458.5 218.4L1458.8 218.6L1459.1 218.9L1459.4 219.1L1459.7 219.2L1460.0 219.4L1460.3 219.4L1460.5 219.5L1460.8 219.5L1461.1 219.5L1461.4 219.4L1461.7 219.2L1462.0 219.0L1462.3 218.7L1462.6 218.4L1462.9 218.1L1463.2 217.7L1463.5 217.3L1463.8 216.8L1464.1 216.3L1464.4 215.8L1464.7 215.3L1465.0 214.7L1465.3 214.2L1465.6 213.6L1465.9 213.0L1466.1 212.4L1466.4 211.8L1466.7 211.2L1467.0 210.7L1467.3 210.1L1467.6 209.5L1467.9 209.0L1468.2 208.5L1468.5 208.0L1468.8 207.5L1469.1 207.1L1469.4 206.7L1469.7 206.3L1470.0 206.0L1470.3 205.7L1470.6 205.4L1470.9 205.3L1471.2 205.1L1471.5 205.0L1471.7 205.0L1472.0 204.9L1472.3 204.8L1472.6 204.7L1472.9 204.6L1473.2 204.6L1473.5 204.5L1473.8 204.5L1474.1 204.5L1474.4 204.5" fill="none" stroke="#000" stroke-width="2.08" stroke-linejoin="round"/><g clip-path="url(#sc2)"><path d="M1497.6 138.4L1497.9 138.0L1498.2 137.5L1498.5 137.1L1498.8 136.7L1499.1 136.3L1499.4 136.0L1499.7 135.6L1499.9 135.3L1500.2 135.0L1500.5 134.7L1500.8 134.5L1501.1 134.3L1501.4 134.1L1501.7 133.9L1502.0 133.8L1502.3 133.7L1502.6 133.6L1502.9 133.6L1503.2 133.6L1503.5 133.7L1503.8 133.8L1504.1 133.9L1504.4 134.1L1504.6 134.4L1504.9 134.6L1505.2 134.9L1505.5 135.2L1505.8 135.5L1506.1 135.9L1506.4 136.3L1506.7 136.7L1507.0 137.1L1507.3 137.6L1507.6 138.1L1507.9 138.5L1508.2 139.0L1508.5 139.5L1508.8 140.0L1509.0 140.5L1509.3 141.0L1509.6 141.5L1509.9 142.0L1510.2 142.6L1510.5 143.1L1510.8 143.5L1511.1 144.0L1511.4 144.5L1511.7 145.0L1512.0 145.4L1512.3 145.8L1512.6 146.2L1512.9 146.6L1513.2 147.0L1513.5 147.3L1513.7 147.6L1514.0 147.9L1514.3 148.1L1514.6 148.3L1514.9 148.5L1515.2 148.6L1515.5 148.7L1515.8 148.8L1516.1 148.8L1516.4 148.8L1516.7 148.7L1517.0 148.5L1517.3 148.4L1517.6 148.1L1517.9 147.9L1518.1 147.6L1518.4 147.2L1518.7 146.9L1519.0 146.5L1519.3 146.0L1519.6 145.6L1519.9 145.1L1520.2 144.6L1520.5 144.1L1520.8 143.6L1521.1 143.0L1521.4 142.4L1521.7 141.9L1522.0 141.3L1522.3 140.7L1522.6 140.1L1522.8 139.5L1523.1 138.9L1523.4 138.3L1523.7 137.7L1524.0 137.2L1524.3 136.6L1524.6 136.0L1524.9 135.5L1525.2 134.9L1525.5 134.4L1525.8 133.9L1526.1 133.5L1526.4 133.0L1526.7 132.6L1527.0 132.2L1527.2 131.9L1527.5 131.5L1527.8 131.3L1528.1 131.0L1528.4 130.8L1528.7 130.6L1529.0 130.5L1529.3 130.4L1529.6 130.4L1529.9 130.4L1530.2 130.5L1530.5 130.7L1530.8 130.9L1531.1 131.2L1531.4 131.5L1531.6 131.9L1531.9 132.3L1532.2 132.8L1532.5 133.3L1532.8 133.9L1533.1 134.5L1533.4 135.1L1533.7 135.7L1534.0 136.4L1534.3 137.1L1534.6 137.9L1534.9 138.6L1535.2 139.4L1535.5 140.1L1535.8 140.9L1536.1 141.7L1536.3 142.5L1536.6 143.3L1536.9 144.1L1537.2 144.9L1537.5 145.6L1537.8 146.4L1538.1 147.2L1538.4 147.9L1538.7 148.6L1539.0 149.3L1539.3 150.0L1539.6 150.6L1539.9 151.2L1540.2 151.8L1540.5 152.3L1540.7 152.8L1541.0 153.2L1541.3 153.6L1541.6 154.0L1541.9 154.3L1542.2 154.5L1542.5 154.7L1542.8 154.8L1543.1 154.9L1543.4 154.9L1543.7 154.8L1544.0 154.7L1544.3 154.5L1544.6 154.2L1544.9 154.0L1545.2 153.6L1545.4 153.2L1545.7 152.8L1546.0 152.3L1546.3 151.8L1546.6 151.3L1546.9 150.7L1547.2 150.0L1547.5 149.4L1547.8 148.7L1548.1 147.9L1548.4 147.2L1548.7 146.4L1549.0 145.6L1549.3 144.8L1549.6 143.9L1549.8 143.1L1550.1 142.2L1550.4 141.3L1550.7 140.4L1551.0 139.5L1551.3 138.6L1551.6 137.7L1551.9 136.8L1552.2 135.9L1552.5 134.9L1552.8 134.0L1553.1 133.1L1553.4 132.2L1553.7 131.3L1554.0 130.4L1554.3 129.6L1554.5 128.7L1554.8 127.9L1555.1 127.1L1555.4 126.3L1555.7 125.5L1556.0 124.8L1556.3 124.1L1556.6 123.4L1556.9 122.7L1557.2 122.1L1557.5 121.5L1557.8 121.0L1558.1 120.5L1558.4 120.0L1558.7 119.6L1558.9 119.2L1559.2 118.9L1559.5 118.6L1559.8 118.4L1560.1 118.2L1560.4 118.1L1560.7 118.1L1561.0 118.1L1561.3 118.3L1561.6 118.5L1561.9 118.9L1562.2 119.4L1562.5 120.1L1562.8 120.8L1563.1 121.6L1563.4 122.5L1563.6 123.5L1563.9 124.5L1564.2 125.7L1564.5 126.9L1564.8 128.2L1565.1 129.5L1565.4 130.9L1565.7 132.4L1566.0 133.9L1566.3 135.4L1566.6 137.0L1566.9 138.6L1567.2 140.2L1567.5 141.8L1567.8 143.5L1568.0 145.2L1568.3 146.8L1568.6 148.5L1568.9 150.1L1569.2 151.8L1569.5 153.4L1569.8 155.0L1570.1 156.6L1570.4 158.1L1570.7 159.6L1571.0 161.1L1571.3 162.5L1571.6 163.9L1571.9 165.2L1572.2 166.4L1572.5 167.6L1572.7 168.7L1573.0 169.7L1573.3 170.6L1573.6 171.5L1573.9 172.2L1574.2 172.9L1574.5 173.4L1574.8 173.8L1575.1 174.1L1575.4 174.3L1575.7 174.4L1576.0 174.4L1576.3 174.2L1576.6 174.0L1576.9 173.7L1577.1 173.3L1577.4 172.8L1577.7 172.3L1578.0 171.7L1578.3 171.0L1578.6 170.2L1578.9 169.4L1579.2 168.6L1579.5 167.6L1579.8 166.7L1580.1 165.6L1580.4 164.6L1580.7 163.5L1581.0 162.3L1581.3 161.1L1581.6 159.9L1581.8 158.7L1582.1 157.4L1582.4 156.1L1582.7 154.8L1583.0 153.4L1583.3 152.1L1583.6 150.7L1583.9 149.4L1584.2 148.0L1584.5 146.6L1584.8 145.2L1585.1 143.9L1585.4 142.5L1585.7 141.2L1586.0 139.9L1586.2 138.6L1586.5 137.3L1586.8 136.0L1587.1 134.8L1587.4 133.6L1587.7 132.4L1588.0 131.3L1588.3 130.2L1588.6 129.2L1588.9 128.2L1589.2 127.3L1589.5 126.4L1589.8 125.5L1590.1 124.8L1590.4 124.1L1590.7 123.4L1590.9 122.9L1591.2 122.4L1591.5 122.0L1591.8 121.6L1592.1 121.4L1592.4 121.2L1592.7 121.1L1593.0 121.1L1593.3 121.2L1593.6 121.4L1593.9 121.6L1594.2 121.8L1594.5 122.2L1594.8 122.6L1595.1 123.0L1595.3 123.5L1595.6 124.0L1595.9 124.6L1596.2 125.2L1596.5 125.8L1596.8 126.5L1597.1 127.2L1597.4 128.0L1597.7 128.8L1598.0 129.5L1598.3 130.4L1598.6 131.2L1598.9 132.0L1599.2 132.9L1599.5 133.7L1599.7 134.6L1600.0 135.5L1600.3 136.4L1600.6 137.2L1600.9 138.1L1601.2 138.9L1601.5 139.8L1601.8 140.6L1602.1 141.4L1602.4 142.2L1602.7 143.0L1603.0 143.7L1603.3 144.4L1603.6 145.1L1603.9 145.7L1604.2 146.3L1604.4 146.9L1604.7 147.4L1605.0 147.9L1605.3 148.3L1605.6 148.6L1605.9 149.0L1606.2 149.2L1606.5 149.4L1606.8 149.5L1607.1 149.6L1607.4 149.6L1607.7 149.6L1608.0 149.5L1608.3 149.4L1608.6 149.3L1608.8 149.2L1609.1 149.0L1609.4 148.8L1609.7 148.6L1610.0 148.3L1610.3 147.4L1610.6 146.1L1610.9 144.9L1611.2 144.0L1611.5 143.5L1611.8 143.0L1612.1 142.6L1612.4 142.2L1612.7 141.8L1613.0 141.5L1613.3 141.2L1613.5 140.9L1613.8 140.7L1614.1 140.6L1614.4 140.5L1614.7 140.5" fill="none" stroke="#000" stroke-width="2.08" stroke-linejoin="round"/></g><path d="M1497.6 207.2L1497.9 207.0L1498.2 206.7L1498.5 206.5L1498.8 206.3L1499.1 206.2L1499.4 206.0L1499.7 206.0L1499.9 205.9L1500.2 205.9L1500.5 206.0L1500.8 206.1L1501.1 206.2L1501.4 206.3L1501.7 206.5L1502.0 206.7L1502.3 206.9L1502.6 207.1L1502.9 207.4L1503.2 207.6L1503.5 207.9L1503.8 208.2L1504.1 208.5L1504.4 208.8L1504.6 209.1L1504.9 209.5L1505.2 209.8L1505.5 210.1L1505.8 210.4L1506.1 210.8L1506.4 211.1L1506.7 211.4L1507.0 211.7L1507.3 211.9L1507.6 212.2L1507.9 212.5L1508.2 212.7L1508.5 212.9L1508.8 213.1L1509.0 213.2L1509.3 213.4L1509.6 213.5L1509.9 213.6L1510.2 213.6L1510.5 213.6L1510.8 213.6L1511.1 213.6L1511.4 213.5L1511.7 213.5L1512.0 213.4L1512.3 213.3L1512.6 213.2L1512.9 213.1L1513.2 213.0L1513.5 212.9L1513.7 212.7L1514.0 212.6L1514.3 212.4L1514.6 212.3L1514.9 212.1L1515.2 212.0L1515.5 211.8L1515.8 211.6L1516.1 211.4L1516.4 211.2L1516.7 211.1L1517.0 210.9L1517.3 210.7L1517.6 210.5L1517.9 210.3L1518.1 210.1L1518.4 209.9L1518.7 209.7L1519.0 209.5L1519.3 209.4L1519.6 209.2L1519.9 209.0L1520.2 208.9L1520.5 208.7L1520.8 208.6L1521.1 208.4L1521.4 208.3L1521.7 208.1L1522.0 208.0L1522.3 207.9L1522.6 207.8L1522.8 207.7L1523.1 207.7L1523.4 207.6L1523.7 207.6L1524.0 207.5L1524.3 207.5L1524.6 207.5L1524.9 207.5L1525.2 207.6L1525.5 207.7L1525.8 207.8L1526.1 207.9L1526.4 208.0L1526.7 208.1L1527.0 208.3L1527.2 208.5L1527.5 208.7L1527.8 208.9L1528.1 209.1L1528.4 209.3L1528.7 209.5L1529.0 209.8L1529.3 210.0L1529.6 210.3L1529.9 210.5L1530.2 210.8L1530.5 211.0L1530.8 211.3L1531.1 211.5L1531.4 211.8L1531.6 212.0L1531.9 212.3L1532.2 212.5L1532.5 212.7L1532.8 213.0L1533.1 213.2L1533.4 213.4L1533.7 213.5L1534.0 213.7L1534.3 213.9L1534.6 214.0L1534.9 214.1L1535.2 214.2L1535.5 214.3L1535.8 214.4L1536.1 214.4L1536.3 214.4L1536.6 214.4L1536.9 214.3L1537.2 214.3L1537.5 214.2L1537.8 214.0L1538.1 213.9L1538.4 213.7L1538.7 213.5L1539.0 213.3L1539.3 213.1L1539.6 212.9L1539.9 212.7L1540.2 212.4L1540.5 212.2L1540.7 211.9L1541.0 211.7L1541.3 211.4L1541.6 211.2L1541.9 210.9L1542.2 210.7L1542.5 210.5L1542.8 210.3L1543.1 210.1L1543.4 209.9L1543.7 209.7L1544.0 209.5L1544.3 209.4L1544.6 209.3L1544.9 209.2L1545.2 209.2L1545.4 209.1L1545.7 209.1L1546.0 209.2L1546.3 209.2L1546.6 209.3L1546.9 209.4L1547.2 209.6L1547.5 209.8L1547.8 209.9L1548.1 210.1L1548.4 210.3L1548.7 210.6L1549.0 210.8L1549.3 211.0L1549.6 211.2L1549.8 211.5L1550.1 211.7L1550.4 211.9L1550.7 212.1L1551.0 212.2L1551.3 212.4L1551.6 212.5L1551.9 212.6L1552.2 212.7L1552.5 212.8L1552.8 212.8L1553.1 212.8L1553.4 212.8L1553.7 212.8L1554.0 212.8L1554.3 212.7L1554.5 212.7L1554.8 212.7L1555.1 212.6L1555.4 212.6L1555.7 212.5L1556.0 212.5L1556.3 212.4L1556.6 212.4L1556.9 212.3L1557.2 212.2L1557.5 212.2L1557.8 212.1L1558.1 212.0L1558.4 211.9L1558.7 211.9L1558.9 211.8L1559.2 211.7L1559.5 211.6L1559.8 211.5L1560.1 211.4L1560.4 211.3L1560.7 211.2L1561.0 211.1L1561.3 211.0L1561.6 210.8L1561.9 210.5L1562.2 210.2L1562.5 209.9L1562.8 209.6L1563.1 209.3L1563.4 208.9L1563.6 208.5L1563.9 208.2L1564.2 207.8L1564.5 207.4L1564.8 207.1L1565.1 206.7L1565.4 206.4L1565.7 206.1L1566.0 205.8L1566.3 205.6L1566.6 205.4L1566.9 205.3L1567.2 205.2L1567.5 205.1L1567.8 205.1L1568.0 205.2L1568.3 205.4L1568.6 205.6L1568.9 205.9L1569.2 206.2L1569.5 206.6L1569.8 207.0L1570.1 207.4L1570.4 207.8L1570.7 208.3L1571.0 208.8L1571.3 209.2L1571.6 209.7L1571.9 210.1L1572.2 210.5L1572.5 210.9L1572.7 211.3L1573.0 211.6L1573.3 211.9L1573.6 212.1L1573.9 212.2L1574.2 212.3L1574.5 212.3L1574.8 212.3L1575.1 212.3L1575.4 212.2L1575.7 212.2L1576.0 212.1L1576.3 212.0L1576.6 212.0L1576.9 211.9L1577.1 211.8L1577.4 211.8L1577.7 211.7L1578.0 211.7L1578.3 211.7L1578.6 211.7L1578.9 211.7L1579.2 211.8L1579.5 211.8L1579.8 211.9L1580.1 212.0L1580.4 212.1L1580.7 212.2L1581.0 212.3L1581.3 212.4L1581.6 212.5L1581.8 212.6L1582.1 212.7L1582.4 212.7L1582.7 212.8L1583.0 212.8L1583.3 212.8L1583.6 212.8L1583.9 212.7L1584.2 212.6L1584.5 212.5L1584.8 212.3L1585.1 212.1L1585.4 211.9L1585.7 211.7L1586.0 211.5L1586.2 211.3L1586.5 211.1L1586.8 210.8L1587.1 210.6L1587.4 210.4L1587.7 210.2L1588.0 210.0L1588.3 209.8L1588.6 209.6L1588.9 209.5L1589.2 209.4L1589.5 209.3L1589.8 209.3L1590.1 209.3L1590.4 209.3L1590.7 209.4L1590.9 209.5L1591.2 209.6L1591.5 209.7L1591.8 209.9L1592.1 210.1L1592.4 210.3L1592.7 210.5L1593.0 210.7L1593.3 211.0L1593.6 211.2L1593.9 211.5L1594.2 211.7L1594.5 212.0L1594.8 212.3L1595.1 212.5L1595.3 212.8L1595.6 213.0L1595.9 213.3L1596.2 213.5L1596.5 213.7L1596.8 214.0L1597.1 214.2L1597.4 214.3L1597.7 214.5L1598.0 214.6L1598.3 214.7L1598.6 214.8L1598.9 214.9L1599.2 214.9L1599.5 214.9L1599.7 214.8L1600.0 214.7L1600.3 214.5L1600.6 214.3L1600.9 214.1L1601.2 213.9L1601.5 213.6L1601.8 213.2L1602.1 212.9L1602.4 212.5L1602.7 212.2L1603.0 211.8L1603.3 211.4L1603.6 210.9L1603.9 210.5L1604.2 210.1L1604.4 209.7L1604.7 209.2L1605.0 208.8L1605.3 208.4L1605.6 208.0L1605.9 207.6L1606.2 207.3L1606.5 206.9L1606.8 206.6L1607.1 206.3L1607.4 206.1L1607.7 205.8L1608.0 205.6L1608.3 205.5L1608.6 205.4L1608.8 205.3L1609.1 205.3L1609.4 205.5L1609.7 206.0L1610.0 206.7L1610.3 207.4L1610.6 208.0L1610.9 208.3L1611.2 208.5L1611.5 208.7L1611.8 208.9L1612.1 209.1L1612.4 209.3L1612.7 209.4L1613.0 209.5L1613.3 209.6L1613.5 209.7L1613.8 209.8L1614.1 209.9L1614.4 209.9L1614.7 209.9" fill="none" stroke="#000" stroke-width="2.08" stroke-linejoin="round"/><path d="M1356.8 340.0L1357.0 340.9L1357.2 341.9L1357.4 342.8L1357.6 343.7L1357.8 344.6L1358.0 345.5L1358.2 346.4L1358.4 347.2L1358.6 347.9L1358.8 348.6L1359.0 349.2L1359.2 349.8L1359.4 350.2L1359.5 350.5L1359.7 350.8L1359.9 350.9L1360.1 350.9L1360.3 350.8L1360.5 350.7L1360.7 350.5L1360.9 350.3L1361.1 350.0L1361.3 349.7L1361.5 349.3L1361.7 348.9L1361.9 348.5L1362.1 348.0L1362.3 347.5L1362.5 346.9L1362.7 346.3L1362.9 345.7L1363.1 345.0L1363.3 344.3L1363.5 343.6L1363.7 342.8L1363.9 342.1L1364.1 341.3L1364.3 340.4L1364.5 339.6L1364.7 338.7L1364.8 337.9L1365.0 337.0L1365.2 336.0L1365.4 335.1L1365.6 334.2L1365.8 333.2L1366.0 332.3L1366.2 331.3L1366.4 330.4L1366.6 329.4L1366.8 328.4L1367.0 327.4L1367.2 326.5L1367.4 325.5L1367.6 324.6L1367.8 323.6L1368.0 322.7L1368.2 321.7L1368.4 320.8L1368.6 319.9L1368.8 319.0L1369.0 318.1L1369.2 317.2L1369.4 316.4L1369.6 315.6L1369.8 314.8L1370.0 314.0L1370.2 313.3L1370.3 312.5L1370.5 311.9L1370.7 311.2L1370.9 310.6L1371.1 310.0L1371.3 309.4L1371.5 308.9L1371.7 308.4L1371.9 308.0L1372.1 307.6L1372.3 307.2L1372.5 306.9L1372.7 306.6L1372.9 306.4L1373.1 306.3L1373.3 306.1L1373.5 306.1L1373.7 306.1L1373.9 306.1L1374.1 306.2L1374.3 306.4L1374.5 306.6L1374.7 306.9L1374.9 307.2L1375.1 307.5L1375.3 307.9L1375.5 308.3L1375.6 308.8L1375.8 309.3L1376.0 309.9L1376.2 310.5L1376.4 311.1L1376.6 311.8L1376.8 312.4L1377.0 313.2L1377.2 313.9L1377.4 314.7L1377.6 315.5L1377.8 316.3L1378.0 317.1L1378.2 318.0L1378.4 318.9L1378.6 319.8L1378.8 320.7L1379.0 321.6L1379.2 322.5L1379.4 323.5L1379.6 324.4L1379.8 325.4L1380.0 326.3L1380.2 327.3L1380.4 328.3L1380.6 329.2L1380.8 330.2L1380.9 331.2L1381.1 332.1L1381.3 333.1L1381.5 334.0L1381.7 335.0L1381.9 335.9L1382.1 336.8L1382.3 337.7L1382.5 338.6L1382.7 339.5L1382.9 340.3L1383.1 341.2L1383.3 342.0L1383.5 342.7L1383.7 343.5L1383.9 344.2L1384.1 344.9L1384.3 345.6L1384.5 346.2L1384.7 346.8L1384.9 347.4L1385.1 347.9L1385.3 348.4L1385.5 348.9L1385.7 349.3L1385.9 349.7L1386.1 350.0L1386.2 350.3L1386.4 350.5L1386.6 350.7L1386.8 350.8L1387.0 350.9L1387.2 350.9L1387.4 350.8L1387.6 350.7L1387.8 350.5L1388.0 350.2L1388.2 349.9L1388.4 349.5L1388.6 349.0L1388.8 348.5L1389.0 347.9L1389.2 347.3L1389.4 346.6L1389.6 345.9L1389.8 345.1L1390.0 344.2L1390.2 343.4L1390.4 342.4L1390.6 341.5L1390.8 340.5L1391.0 339.5L1391.2 338.4L1391.4 337.3L1391.5 336.2L1391.7 335.0L1391.9 333.9L1392.1 332.7L1392.3 331.5L1392.5 330.2L1392.7 329.0L1392.9 327.8L1393.1 326.5L1393.3 325.3L1393.5 324.0L1393.7 322.7L1393.9 321.5L1394.1 320.2L1394.3 319.0L1394.5 317.7L1394.7 316.5L1394.9 315.3L1395.1 314.1L1395.3 312.9L1395.5 311.7L1395.7 310.6L1395.9 309.5L1396.1 308.4L1396.3 307.3L1396.5 306.3L1396.7 305.3L1396.9 304.3L1397.0 303.4L1397.2 302.5L1397.4 301.7L1397.6 300.9L1397.8 300.2L1398.0 299.5L1398.2 298.9L1398.4 298.3L1398.6 297.8L1398.8 297.3L1399.0 296.9L1399.2 296.6L1399.4 296.3L1399.6 296.2L1399.8 296.0L1400.0 296.0L1400.2 296.0L1400.4 296.1L1400.6 296.1L1400.8 296.2L1401.0 296.4L1401.2 296.5L1401.4 296.7L1401.6 296.9L1401.8 297.2L1402.0 297.4L1402.2 297.7L1402.3 298.0L1402.5 298.3L1402.7 298.7L1402.9 299.0L1403.1 299.4L1403.3 299.8L1403.5 300.2L1403.7 300.6L1403.9 301.1L1404.1 301.5L1404.3 302.0L1404.5 302.5L1404.7 303.0L1404.9 303.5L1405.1 304.0L1405.3 304.5L1405.5 305.0L1405.7 305.5L1405.9 306.1L1406.1 306.6L1406.3 307.2L1406.5 307.7L1406.7 308.3L1406.9 308.8L1407.1 309.4L1407.3 309.9L1407.5 310.5L1407.6 311.0L1407.8 311.6L1408.0 312.1L1408.2 312.7L1408.4 313.3L1408.6 314.0L1408.8 314.8L1409.0 315.5L1409.2 316.4L1409.4 317.2L1409.6 318.2L1409.8 319.1L1410.0 320.1L1410.2 321.1L1410.4 322.2L1410.6 323.3L1410.8 324.4L1411.0 325.6L1411.2 326.7L1411.4 327.9L1411.6 329.1L1411.8 330.4L1412.0 331.6L1412.2 332.9L1412.4 334.1L1412.6 335.4L1412.8 336.7L1412.9 338.0L1413.1 339.3L1413.3 340.6L1413.5 341.9L1413.7 343.2L1413.9 344.5L1414.1 345.8L1414.3 347.0L1414.5 348.3L1414.7 349.5L1414.9 350.7L1415.1 351.9L1415.3 353.1L1415.5 354.3L1415.7 355.4L1415.9 356.5L1416.1 357.6L1416.3 358.7L1416.5 359.7L1416.7 360.6L1416.9 361.6L1417.1 362.5L1417.3 363.3L1417.5 364.1L1417.7 364.9L1417.9 365.6L1418.1 366.3L1418.3 366.9L1418.4 367.4L1418.6 367.9L1418.8 368.4L1419.0 368.7L1419.2 369.0L1419.4 369.3L1419.6 369.5L1419.8 369.6L1420.0 369.6L1420.2 369.5L1420.4 369.4L1420.6 369.1L1420.8 368.7L1421.0 368.2L1421.2 367.6L1421.4 366.9L1421.6 366.1L1421.8 365.2L1422.0 364.2L1422.2 363.1L1422.4 362.0L1422.6 360.8L1422.8 359.4L1423.0 358.1L1423.2 356.6L1423.4 355.1L1423.6 353.5L1423.7 351.9L1423.9 350.2L1424.1 348.4L1424.3 346.6L1424.5 344.7L1424.7 342.8L1424.9 340.9L1425.1 338.9L1425.3 336.8L1425.5 334.8L1425.7 332.7L1425.9 330.6L1426.1 328.4L1426.3 326.2L1426.5 324.0L1426.7 321.8L1426.9 319.6L1427.1 317.3L1427.3 315.1L1427.5 312.8L1427.7 310.6L1427.9 308.3L1428.1 306.1L1428.3 303.8L1428.5 301.6L1428.7 299.4L1428.9 297.2L1429.0 295.0L1429.2 292.9L1429.4 290.7L1429.6 288.6L1429.8 286.5L1430.0 284.5L1430.2 282.5L1430.4 280.5L1430.6 278.6L1430.8 276.7L1431.0 274.9L1431.2 273.1L1431.4 271.4L1431.6 269.8L1431.8 268.2L1432.0 266.6L1432.2 265.2L1432.4 263.8L1432.6 262.4L1432.8 261.2L1433.0 260.0L1433.2 258.9L1433.4 257.9L1433.6 257.0L1433.8 256.2L1434.0 255.5L1434.2 254.9L1434.3 254.3L1434.5 253.9L1434.7 253.6L1434.9 253.4L1435.1 253.3L1435.3 253.3L1435.5 253.4L1435.7 253.7L1435.9 254.0L1436.1 254.5L1436.3 255.0L1436.5 255.7L1436.7 256.4L1436.9 257.2L1437.1 258.1L1437.3 259.1L1437.5 260.2L1437.7 261.4L1437.9 262.6L1438.1 263.9L1438.3 265.3L1438.5 266.7L1438.7 268.3L1438.9 269.8L1439.1 271.5L1439.3 273.2L1439.5 274.9L1439.7 276.7L1439.8 278.5L1440.0 280.4L1440.2 282.3L1440.4 284.3L1440.6 286.3L1440.8 288.3L1441.0 290.4L1441.2 292.5L1441.4 294.6L1441.6 296.7L1441.8 298.8L1442.0 301.0L1442.2 303.2L1442.4 305.4L1442.6 307.6L1442.8 309.7L1443.0 311.9L1443.2 314.1L1443.4 316.3L1443.6 318.5L1443.8 320.6L1444.0 322.8L1444.2 324.9L1444.4 327.0L1444.6 329.1L1444.8 331.2L1445.0 333.2L1445.1 335.2L1445.3 337.2L1445.5 339.1L1445.7 341.0L1445.9 342.8L1446.1 344.6L1446.3 346.4L1446.5 348.1L1446.7 349.7L1446.9 351.3L1447.1 352.8L1447.3 354.3L1447.5 355.6L1447.7 357.0L1447.9 358.2L1448.1 359.4L1448.3 360.5L1448.5 361.5L1448.7 362.4L1448.9 363.2L1449.1 364.0L1449.3 364.6L1449.5 365.2L1449.7 365.6L1449.9 366.0L1450.1 366.2L1450.3 366.4L1450.4 366.4L1450.6 366.3L1450.8 366.2L1451.0 366.0L1451.2 365.8L1451.4 365.5L1451.6 365.1L1451.8 364.7L1452.0 364.2L1452.2 363.7L1452.4 363.1L1452.6 362.5L1452.8 361.8L1453.0 361.1L1453.2 360.4L1453.4 359.6L1453.6 358.7L1453.8 357.9L1454.0 356.9L1454.2 356.0L1454.4 355.0L1454.6 354.0L1454.8 353.0L1455.0 352.0L1455.2 350.9L1455.4 349.8L1455.6 348.7L1455.7 347.6L1455.9 346.5L1456.1 345.3L1456.3 344.2L1456.5 343.0L1456.7 341.8L1456.9 340.7L1457.1 339.5L1457.3 338.3L1457.5 337.2L1457.7 336.0L1457.9 334.8L1458.1 333.7L1458.3 332.6L1458.5 331.4L1458.7 330.3L1458.9 329.3L1459.1 328.2L1459.3 327.1L1459.5 326.1L1459.7 325.1L1459.9 324.1L1460.1 323.2L1460.3 322.3L1460.5 321.4L1460.7 320.6L1460.9 319.8L1461.0 319.0L1461.2 318.3L1461.4 317.6L1461.6 317.0L1461.8 316.4L1462.0 315.8L1462.2 315.4L1462.4 314.9L1462.6 314.6L1462.8 314.2L1463.0 314.0L1463.2 313.8L1463.4 313.7L1463.6 313.6L1463.8 313.6L1464.0 313.7L1464.2 313.8L1464.4 314.0L1464.6 314.2L1464.8 314.4L1465.0 314.7L1465.2 315.1L1465.4 315.4L1465.6 315.8L1465.8 316.2L1466.0 316.6L1466.2 317.1L1466.4 317.5L1466.5 318.0L1466.7 318.4L1466.9 318.9L1467.1 319.3L1467.3 319.8L1467.5 320.2L1467.7 320.6L1467.9 321.0L1468.1 321.4L1468.3 321.7L1468.5 322.0L1468.7 322.3L1468.9 322.5L1469.1 322.7L1469.3 323.0L1469.5 323.2L1469.7 323.4L1469.9 323.6L1470.1 323.8L1470.3 324.0L1470.5 324.2L1470.7 324.4L1470.9 324.6L1471.1 324.8L1471.3 325.0L1471.5 325.2L1471.7 325.4L1471.8 325.5L1472.0 325.7L1472.2 325.9L1472.4 326.0L1472.6 326.2L1472.8 326.3L1473.0 326.4L1473.2 326.6L1473.4 326.7L1473.6 326.8L1473.8 326.9L1474.0 327.0L1474.2 327.1L1474.4 327.2" fill="none" stroke="#ff0000" stroke-width="2.08" stroke-linejoin="round"/><path d="M1356.8 312.5L1357.0 313.4L1357.2 314.3L1357.4 315.2L1357.6 316.1L1357.8 316.9L1358.0 317.8L1358.2 318.6L1358.4 319.4L1358.6 320.2L1358.8 320.9L1359.0 321.7L1359.2 322.4L1359.4 323.1L1359.5 323.8L1359.7 324.5L1359.9 325.2L1360.1 325.9L1360.3 326.5L1360.5 327.1L1360.7 327.7L1360.9 328.3L1361.1 328.9L1361.3 329.4L1361.5 330.0L1361.7 330.5L1361.9 331.0L1362.1 331.5L1362.3 332.0L1362.5 332.4L1362.7 332.9L1362.9 333.3L1363.1 333.7L1363.3 334.1L1363.5 334.5L1363.7 334.8L1363.9 335.2L1364.1 335.5L1364.3 335.8L1364.5 336.1L1364.7 336.4L1364.8 336.7L1365.0 336.9L1365.2 337.2L1365.4 337.4L1365.6 337.6L1365.8 337.8L1366.0 337.9L1366.2 338.1L1366.4 338.2L1366.6 338.3L1366.8 338.4L1367.0 338.5L1367.2 338.6L1367.4 338.6L1367.6 338.7L1367.8 338.7L1368.0 338.7L1368.2 338.7L1368.4 338.6L1368.6 338.5L1368.8 338.3L1369.0 338.1L1369.2 337.9L1369.4 337.6L1369.6 337.3L1369.8 336.9L1370.0 336.5L1370.2 336.1L1370.3 335.6L1370.5 335.1L1370.7 334.6L1370.9 334.0L1371.1 333.5L1371.3 332.9L1371.5 332.2L1371.7 331.6L1371.9 330.9L1372.1 330.2L1372.3 329.5L1372.5 328.8L1372.7 328.1L1372.9 327.4L1373.1 326.6L1373.3 325.9L1373.5 325.1L1373.7 324.4L1373.9 323.6L1374.1 322.8L1374.3 322.1L1374.5 321.3L1374.7 320.5L1374.9 319.8L1375.1 319.0L1375.3 318.3L1375.5 317.6L1375.6 316.9L1375.8 316.2L1376.0 315.5L1376.2 314.8L1376.4 314.2L1376.6 313.5L1376.8 312.9L1377.0 312.3L1377.2 311.8L1377.4 311.2L1377.6 310.7L1377.8 310.3L1378.0 309.8L1378.2 309.4L1378.4 309.0L1378.6 308.7L1378.8 308.4L1379.0 308.2L1379.2 307.9L1379.4 307.8L1379.6 307.6L1379.8 307.6L1380.0 307.5L1380.2 307.5L1380.4 307.6L1380.6 307.7L1380.8 307.9L1380.9 308.1L1381.1 308.3L1381.3 308.6L1381.5 308.9L1381.7 309.3L1381.9 309.7L1382.1 310.1L1382.3 310.6L1382.5 311.1L1382.7 311.6L1382.9 312.2L1383.1 312.8L1383.3 313.4L1383.5 314.1L1383.7 314.7L1383.9 315.4L1384.1 316.1L1384.3 316.9L1384.5 317.6L1384.7 318.4L1384.9 319.1L1385.1 319.9L1385.3 320.7L1385.5 321.6L1385.7 322.4L1385.9 323.2L1386.1 324.0L1386.2 324.9L1386.4 325.7L1386.6 326.6L1386.8 327.4L1387.0 328.3L1387.2 329.1L1387.4 329.9L1387.6 330.8L1387.8 331.6L1388.0 332.4L1388.2 333.2L1388.4 334.0L1388.6 334.8L1388.8 335.5L1389.0 336.3L1389.2 337.0L1389.4 337.7L1389.6 338.4L1389.8 339.1L1390.0 339.7L1390.2 340.3L1390.4 340.9L1390.6 341.5L1390.8 342.0L1391.0 342.5L1391.2 343.0L1391.4 343.4L1391.5 343.8L1391.7 344.2L1391.9 344.5L1392.1 344.8L1392.3 345.0L1392.5 345.3L1392.7 345.4L1392.9 345.5L1393.1 345.6L1393.3 345.6L1393.5 345.6L1393.7 345.4L1393.9 345.3L1394.1 345.0L1394.3 344.7L1394.5 344.4L1394.7 344.0L1394.9 343.5L1395.1 343.0L1395.3 342.5L1395.5 341.9L1395.7 341.2L1395.9 340.5L1396.1 339.8L1396.3 339.0L1396.5 338.2L1396.7 337.3L1396.9 336.5L1397.0 335.5L1397.2 334.6L1397.4 333.6L1397.6 332.6L1397.8 331.6L1398.0 330.6L1398.2 329.5L1398.4 328.4L1398.6 327.3L1398.8 326.2L1399.0 325.1L1399.2 323.9L1399.4 322.8L1399.6 321.6L1399.8 320.5L1400.0 319.3L1400.2 318.2L1400.4 317.0L1400.6 315.8L1400.8 314.7L1401.0 313.5L1401.2 312.4L1401.4 311.3L1401.6 310.2L1401.8 309.1L1402.0 308.0L1402.2 306.9L1402.3 305.9L1402.5 304.9L1402.7 303.9L1402.9 302.9L1403.1 302.0L1403.3 301.1L1403.5 300.2L1403.7 299.3L1403.9 298.5L1404.1 297.7L1404.3 297.0L1404.5 296.3L1404.7 295.7L1404.9 295.1L1405.1 294.5L1405.3 294.0L1405.5 293.6L1405.7 293.2L1405.9 292.8L1406.1 292.5L1406.3 292.3L1406.5 292.1L1406.7 292.0L1406.9 292.0L1407.1 292.0L1407.3 292.1L1407.5 292.3L1407.6 292.5L1407.8 292.8L1408.0 293.2L1408.2 293.6L1408.4 294.1L1408.6 294.6L1408.8 295.2L1409.0 295.9L1409.2 296.6L1409.4 297.3L1409.6 298.1L1409.8 299.0L1410.0 299.8L1410.2 300.8L1410.4 301.8L1410.6 302.8L1410.8 303.8L1411.0 304.9L1411.2 306.1L1411.4 307.2L1411.6 308.4L1411.8 309.7L1412.0 310.9L1412.2 312.2L1412.4 313.5L1412.6 314.9L1412.8 316.2L1412.9 317.6L1413.1 319.0L1413.3 320.4L1413.5 321.9L1413.7 323.3L1413.9 324.8L1414.1 326.2L1414.3 327.7L1414.5 329.2L1414.7 330.7L1414.9 332.2L1415.1 333.7L1415.3 335.2L1415.5 336.7L1415.7 338.2L1415.9 339.7L1416.1 341.2L1416.3 342.7L1416.5 344.1L1416.7 345.6L1416.9 347.0L1417.1 348.5L1417.3 349.9L1417.5 351.3L1417.7 352.7L1417.9 354.0L1418.1 355.4L1418.3 356.7L1418.4 358.0L1418.6 359.2L1418.8 360.4L1419.0 361.6L1419.2 362.8L1419.4 363.9L1419.6 365.0L1419.8 366.1L1420.0 367.1L1420.2 368.1L1420.4 369.0L1420.6 369.9L1420.8 370.8L1421.0 371.6L1421.2 372.3L1421.4 373.0L1421.6 373.6L1421.8 374.2L1422.0 374.8L1422.2 375.2L1422.4 375.6L1422.6 376.0L1422.8 376.3L1423.0 376.5L1423.2 376.7L1423.4 376.8L1423.6 376.8L1423.7 376.7L1423.9 376.5L1424.1 376.2L1424.3 375.8L1424.5 375.3L1424.7 374.7L1424.9 374.0L1425.1 373.2L1425.3 372.3L1425.5 371.3L1425.7 370.2L1425.9 369.1L1426.1 367.8L1426.3 366.5L1426.5 365.1L1426.7 363.7L1426.9 362.1L1427.1 360.5L1427.3 358.9L1427.5 357.2L1427.7 355.4L1427.9 353.6L1428.1 351.7L1428.3 349.7L1428.5 347.8L1428.7 345.7L1428.9 343.7L1429.0 341.6L1429.2 339.4L1429.4 337.3L1429.6 335.1L1429.8 332.8L1430.0 330.6L1430.2 328.3L1430.4 326.1L1430.6 323.8L1430.8 321.5L1431.0 319.2L1431.2 316.8L1431.4 314.5L1431.6 312.2L1431.8 309.9L1432.0 307.6L1432.2 305.3L1432.4 303.0L1432.6 300.7L1432.8 298.5L1433.0 296.2L1433.2 294.0L1433.4 291.8L1433.6 289.7L1433.8 287.6L1434.0 285.5L1434.2 283.4L1434.3 281.4L1434.5 279.5L1434.7 277.6L1434.9 275.7L1435.1 273.9L1435.3 272.1L1435.5 270.4L1435.7 268.8L1435.9 267.2L1436.1 265.7L1436.3 264.3L1436.5 262.9L1436.7 261.7L1436.9 260.5L1437.1 259.3L1437.3 258.3L1437.5 257.4L1437.7 256.5L1437.9 255.7L1438.1 255.1L1438.3 254.5L1438.5 254.1L1438.7 253.7L1438.9 253.4L1439.1 253.3L1439.3 253.3L1439.5 253.3L1439.7 253.5L1439.8 253.7L1440.0 254.0L1440.2 254.4L1440.4 254.9L1440.6 255.4L1440.8 256.0L1441.0 256.7L1441.2 257.4L1441.4 258.2L1441.6 259.1L1441.8 260.0L1442.0 261.0L1442.2 262.0L1442.4 263.1L1442.6 264.3L1442.8 265.5L1443.0 266.7L1443.2 268.0L1443.4 269.4L1443.6 270.8L1443.8 272.2L1444.0 273.7L1444.2 275.2L1444.4 276.8L1444.6 278.4L1444.8 280.0L1445.0 281.6L1445.1 283.3L1445.3 285.1L1445.5 286.8L1445.7 288.6L1445.9 290.4L1446.1 292.2L1446.3 294.0L1446.5 295.8L1446.7 297.7L1446.9 299.6L1447.1 301.5L1447.3 303.4L1447.5 305.3L1447.7 307.2L1447.9 309.1L1448.1 311.0L1448.3 312.9L1448.5 314.9L1448.7 316.8L1448.9 318.7L1449.1 320.6L1449.3 322.5L1449.5 324.4L1449.7 326.2L1449.9 328.1L1450.1 329.9L1450.3 331.8L1450.4 333.6L1450.6 335.3L1450.8 337.1L1451.0 338.8L1451.2 340.5L1451.4 342.2L1451.6 343.9L1451.8 345.5L1452.0 347.1L1452.2 348.6L1452.4 350.1L1452.6 351.6L1452.8 353.0L1453.0 354.4L1453.2 355.7L1453.4 357.0L1453.6 358.3L1453.8 359.5L1454.0 360.6L1454.2 361.7L1454.4 362.7L1454.6 363.7L1454.8 364.6L1455.0 365.4L1455.2 366.2L1455.4 366.9L1455.6 367.6L1455.7 368.1L1455.9 368.6L1456.1 369.1L1456.3 369.4L1456.5 369.7L1456.7 369.9L1456.9 370.0L1457.1 370.1L1457.3 370.0L1457.5 369.9L1457.7 369.7L1457.9 369.5L1458.1 369.2L1458.3 368.8L1458.5 368.3L1458.7 367.8L1458.9 367.3L1459.1 366.6L1459.3 366.0L1459.5 365.2L1459.7 364.4L1459.9 363.6L1460.1 362.7L1460.3 361.8L1460.5 360.8L1460.7 359.8L1460.9 358.8L1461.0 357.7L1461.2 356.5L1461.4 355.4L1461.6 354.2L1461.8 353.0L1462.0 351.7L1462.2 350.5L1462.4 349.2L1462.6 347.8L1462.8 346.5L1463.0 345.1L1463.2 343.8L1463.4 342.4L1463.6 341.0L1463.8 339.6L1464.0 338.2L1464.2 336.8L1464.4 335.3L1464.6 333.9L1464.8 332.5L1465.0 331.1L1465.2 329.6L1465.4 328.2L1465.6 326.8L1465.8 325.4L1466.0 324.1L1466.2 322.7L1466.4 321.3L1466.5 320.0L1466.7 318.7L1466.9 317.4L1467.1 316.1L1467.3 314.9L1467.5 313.7L1467.7 312.5L1467.9 311.3L1468.1 310.2L1468.3 309.1L1468.5 308.1L1468.7 307.1L1468.9 306.1L1469.1 305.2L1469.3 304.4L1469.5 303.5L1469.7 302.8L1469.9 302.0L1470.1 301.4L1470.3 300.8L1470.5 300.2L1470.7 299.7L1470.9 299.3L1471.1 298.9L1471.3 298.6L1471.5 298.4L1471.7 298.2L1471.8 298.1L1472.0 298.1L1472.2 298.1L1472.4 298.1L1472.6 298.1L1472.8 298.2L1473.0 298.2L1473.2 298.3L1473.4 298.4L1473.6 298.5L1473.8 298.6L1474.0 298.8L1474.2 299.0L1474.4 299.2" fill="none" stroke="#000" stroke-width="2.08" stroke-linejoin="round"/><path d="M1497.8 340.0L1498.0 340.9L1498.2 341.9L1498.4 342.8L1498.6 343.7L1498.8 344.6L1499.0 345.5L1499.2 346.4L1499.4 347.2L1499.6 347.9L1499.8 348.6L1500.0 349.2L1500.2 349.8L1500.4 350.2L1500.5 350.5L1500.7 350.8L1500.9 350.9L1501.1 350.9L1501.3 350.8L1501.5 350.7L1501.7 350.5L1501.9 350.3L1502.1 350.0L1502.3 349.7L1502.5 349.3L1502.7 348.9L1502.9 348.5L1503.1 348.0L1503.3 347.5L1503.5 346.9L1503.7 346.3L1503.9 345.7L1504.1 345.0L1504.3 344.3L1504.5 343.6L1504.7 342.8L1504.9 342.1L1505.1 341.3L1505.3 340.4L1505.5 339.6L1505.7 338.7L1505.8 337.9L1506.0 337.0L1506.2 336.0L1506.4 335.1L1506.6 334.2L1506.8 333.2L1507.0 332.3L1507.2 331.3L1507.4 330.4L1507.6 329.4L1507.8 328.4L1508.0 327.4L1508.2 326.5L1508.4 325.5L1508.6 324.6L1508.8 323.6L1509.0 322.7L1509.2 321.7L1509.4 320.8L1509.6 319.9L1509.8 319.0L1510.0 318.1L1510.2 317.2L1510.4 316.4L1510.6 315.6L1510.8 314.8L1511.0 314.0L1511.2 313.3L1511.3 312.5L1511.5 311.9L1511.7 311.2L1511.9 310.6L1512.1 310.0L1512.3 309.4L1512.5 308.9L1512.7 308.4L1512.9 308.0L1513.1 307.6L1513.3 307.2L1513.5 306.9L1513.7 306.6L1513.9 306.4L1514.1 306.3L1514.3 306.1L1514.5 306.1L1514.7 306.1L1514.9 306.1L1515.1 306.2L1515.3 306.4L1515.5 306.6L1515.7 306.9L1515.9 307.2L1516.1 307.5L1516.3 307.9L1516.5 308.3L1516.6 308.8L1516.8 309.3L1517.0 309.9L1517.2 310.5L1517.4 311.1L1517.6 311.8L1517.8 312.4L1518.0 313.2L1518.2 313.9L1518.4 314.7L1518.6 315.5L1518.8 316.3L1519.0 317.1L1519.2 318.0L1519.4 318.9L1519.6 319.8L1519.8 320.7L1520.0 321.6L1520.2 322.5L1520.4 323.5L1520.6 324.4L1520.8 325.4L1521.0 326.3L1521.2 327.3L1521.4 328.3L1521.6 329.2L1521.8 330.2L1521.9 331.2L1522.1 332.1L1522.3 333.1L1522.5 334.0L1522.7 335.0L1522.9 335.9L1523.1 336.8L1523.3 337.7L1523.5 338.6L1523.7 339.5L1523.9 340.3L1524.1 341.2L1524.3 342.0L1524.5 342.7L1524.7 343.5L1524.9 344.2L1525.1 344.9L1525.3 345.6L1525.5 346.2L1525.7 346.8L1525.9 347.4L1526.1 347.9L1526.3 348.4L1526.5 348.9L1526.7 349.3L1526.9 349.7L1527.1 350.0L1527.2 350.3L1527.4 350.5L1527.6 350.7L1527.8 350.8L1528.0 350.9L1528.2 350.9L1528.4 350.8L1528.6 350.7L1528.8 350.5L1529.0 350.2L1529.2 349.9L1529.4 349.5L1529.6 349.0L1529.8 348.5L1530.0 347.9L1530.2 347.3L1530.4 346.6L1530.6 345.9L1530.8 345.1L1531.0 344.2L1531.2 343.4L1531.4 342.4L1531.6 341.5L1531.8 340.5L1532.0 339.5L1532.2 338.4L1532.4 337.3L1532.5 336.2L1532.7 335.0L1532.9 333.9L1533.1 332.7L1533.3 331.5L1533.5 330.2L1533.7 329.0L1533.9 327.8L1534.1 326.5L1534.3 325.3L1534.5 324.0L1534.7 322.7L1534.9 321.5L1535.1 320.2L1535.3 319.0L1535.5 317.7L1535.7 316.5L1535.9 315.3L1536.1 314.1L1536.3 312.9L1536.5 311.7L1536.7 310.6L1536.9 309.5L1537.1 308.4L1537.3 307.3L1537.5 306.3L1537.7 305.3L1537.9 304.3L1538.0 303.4L1538.2 302.5L1538.4 301.7L1538.6 300.9L1538.8 300.2L1539.0 299.5L1539.2 298.9L1539.4 298.3L1539.6 297.8L1539.8 297.3L1540.0 296.9L1540.2 296.6L1540.4 296.3L1540.6 296.2L1540.8 296.0L1541.0 296.0L1541.2 296.0L1541.4 296.1L1541.6 296.1L1541.8 296.2L1542.0 296.4L1542.2 296.5L1542.4 296.7L1542.6 296.9L1542.8 297.2L1543.0 297.4L1543.2 297.7L1543.3 298.0L1543.5 298.3L1543.7 298.7L1543.9 299.0L1544.1 299.4L1544.3 299.8L1544.5 300.2L1544.7 300.6L1544.9 301.1L1545.1 301.5L1545.3 302.0L1545.5 302.5L1545.7 303.0L1545.9 303.5L1546.1 304.0L1546.3 304.5L1546.5 305.0L1546.7 305.5L1546.9 306.1L1547.1 306.6L1547.3 307.2L1547.5 307.7L1547.7 308.3L1547.9 308.8L1548.1 309.4L1548.3 309.9L1548.5 310.5L1548.6 311.0L1548.8 311.6L1549.0 312.1L1549.2 312.7L1549.4 313.3L1549.6 314.0L1549.8 314.8L1550.0 315.5L1550.2 316.4L1550.4 317.2L1550.6 318.2L1550.8 319.1L1551.0 320.1L1551.2 321.1L1551.4 322.2L1551.6 323.3L1551.8 324.4L1552.0 325.6L1552.2 326.7L1552.4 327.9L1552.6 329.1L1552.8 330.4L1553.0 331.6L1553.2 332.9L1553.4 334.1L1553.6 335.4L1553.8 336.7L1553.9 338.0L1554.1 339.3L1554.3 340.6L1554.5 341.9L1554.7 343.2L1554.9 344.5L1555.1 345.8L1555.3 347.0L1555.5 348.3L1555.7 349.5L1555.9 350.7L1556.1 351.9L1556.3 353.1L1556.5 354.3L1556.7 355.4L1556.9 356.5L1557.1 357.6L1557.3 358.7L1557.5 359.7L1557.7 360.6L1557.9 361.6L1558.1 362.5L1558.3 363.3L1558.5 364.1L1558.7 364.9L1558.9 365.6L1559.1 366.3L1559.3 366.9L1559.4 367.4L1559.6 367.9L1559.8 368.4L1560.0 368.7L1560.2 369.0L1560.4 369.3L1560.6 369.5L1560.8 369.6L1561.0 369.6L1561.2 369.5L1561.4 369.4L1561.6 369.1L1561.8 368.7L1562.0 368.2L1562.2 367.6L1562.4 366.9L1562.6 366.1L1562.8 365.2L1563.0 364.2L1563.2 363.1L1563.4 362.0L1563.6 360.8L1563.8 359.4L1564.0 358.1L1564.2 356.6L1564.4 355.1L1564.6 353.5L1564.7 351.9L1564.9 350.2L1565.1 348.4L1565.3 346.6L1565.5 344.7L1565.7 342.8L1565.9 340.9L1566.1 338.9L1566.3 336.8L1566.5 334.8L1566.7 332.7L1566.9 330.6L1567.1 328.4L1567.3 326.2L1567.5 324.0L1567.7 321.8L1567.9 319.6L1568.1 317.3L1568.3 315.1L1568.5 312.8L1568.7 310.6L1568.9 308.3L1569.1 306.1L1569.3 303.8L1569.5 301.6L1569.7 299.4L1569.9 297.2L1570.0 295.0L1570.2 292.9L1570.4 290.7L1570.6 288.6L1570.8 286.5L1571.0 284.5L1571.2 282.5L1571.4 280.5L1571.6 278.6L1571.8 276.7L1572.0 274.9L1572.2 273.1L1572.4 271.4L1572.6 269.8L1572.8 268.2L1573.0 266.6L1573.2 265.2L1573.4 263.8L1573.6 262.4L1573.8 261.2L1574.0 260.0L1574.2 258.9L1574.4 257.9L1574.6 257.0L1574.8 256.2L1575.0 255.5L1575.2 254.9L1575.3 254.3L1575.5 253.9L1575.7 253.6L1575.9 253.4L1576.1 253.3L1576.3 253.3L1576.5 253.4L1576.7 253.7L1576.9 254.0L1577.1 254.5L1577.3 255.0L1577.5 255.7L1577.7 256.4L1577.9 257.2L1578.1 258.1L1578.3 259.1L1578.5 260.2L1578.7 261.4L1578.9 262.6L1579.1 263.9L1579.3 265.3L1579.5 266.7L1579.7 268.3L1579.9 269.8L1580.1 271.5L1580.3 273.2L1580.5 274.9L1580.7 276.7L1580.8 278.5L1581.0 280.4L1581.2 282.3L1581.4 284.3L1581.6 286.3L1581.8 288.3L1582.0 290.4L1582.2 292.5L1582.4 294.6L1582.6 296.7L1582.8 298.8L1583.0 301.0L1583.2 303.2L1583.4 305.4L1583.6 307.6L1583.8 309.7L1584.0 311.9L1584.2 314.1L1584.4 316.3L1584.6 318.5L1584.8 320.6L1585.0 322.8L1585.2 324.9L1585.4 327.0L1585.6 329.1L1585.8 331.2L1586.0 333.2L1586.1 335.2L1586.3 337.2L1586.5 339.1L1586.7 341.0L1586.9 342.8L1587.1 344.6L1587.3 346.4L1587.5 348.1L1587.7 349.7L1587.9 351.3L1588.1 352.8L1588.3 354.3L1588.5 355.6L1588.7 357.0L1588.9 358.2L1589.1 359.4L1589.3 360.5L1589.5 361.5L1589.7 362.4L1589.9 363.2L1590.1 364.0L1590.3 364.6L1590.5 365.2L1590.7 365.6L1590.9 366.0L1591.1 366.2L1591.3 366.4L1591.4 366.4L1591.6 366.3L1591.8 366.2L1592.0 366.0L1592.2 365.8L1592.4 365.5L1592.6 365.1L1592.8 364.7L1593.0 364.2L1593.2 363.7L1593.4 363.1L1593.6 362.5L1593.8 361.8L1594.0 361.1L1594.2 360.4L1594.4 359.6L1594.6 358.7L1594.8 357.9L1595.0 356.9L1595.2 356.0L1595.4 355.0L1595.6 354.0L1595.8 353.0L1596.0 352.0L1596.2 350.9L1596.4 349.8L1596.6 348.7L1596.7 347.6L1596.9 346.5L1597.1 345.3L1597.3 344.2L1597.5 343.0L1597.7 341.8L1597.9 340.7L1598.1 339.5L1598.3 338.3L1598.5 337.2L1598.7 336.0L1598.9 334.8L1599.1 333.7L1599.3 332.6L1599.5 331.4L1599.7 330.3L1599.9 329.3L1600.1 328.2L1600.3 327.1L1600.5 326.1L1600.7 325.1L1600.9 324.1L1601.1 323.2L1601.3 322.3L1601.5 321.4L1601.7 320.6L1601.9 319.8L1602.0 319.0L1602.2 318.3L1602.4 317.6L1602.6 317.0L1602.8 316.4L1603.0 315.8L1603.2 315.4L1603.4 314.9L1603.6 314.6L1603.8 314.2L1604.0 314.0L1604.2 313.8L1604.4 313.7L1604.6 313.6L1604.8 313.6L1605.0 313.7L1605.2 313.8L1605.4 314.0L1605.6 314.2L1605.8 314.4L1606.0 314.7L1606.2 315.1L1606.4 315.4L1606.6 315.8L1606.8 316.2L1607.0 316.6L1607.2 317.1L1607.4 317.5L1607.5 318.0L1607.7 318.4L1607.9 318.9L1608.1 319.3L1608.3 319.8L1608.5 320.2L1608.7 320.6L1608.9 321.0L1609.1 321.4L1609.3 321.7L1609.5 322.0L1609.7 322.3L1609.9 322.5L1610.1 322.7L1610.3 323.0L1610.5 323.2L1610.7 323.4L1610.9 323.6L1611.1 323.8L1611.3 324.0L1611.5 324.2L1611.7 324.4L1611.9 324.6L1612.1 324.8L1612.3 325.0L1612.5 325.2L1612.7 325.4L1612.8 325.5L1613.0 325.7L1613.2 325.9L1613.4 326.0L1613.6 326.2L1613.8 326.3L1614.0 326.4L1614.2 326.6L1614.4 326.7L1614.6 326.8L1614.8 326.9L1615.0 327.0L1615.2 327.1L1615.4 327.2" fill="none" stroke="#ff0000" stroke-width="2.08" stroke-linejoin="round"/><path d="M1497.8 327.1L1498.0 327.7L1498.2 328.3L1498.4 328.9L1498.6 329.4L1498.8 330.0L1499.0 330.5L1499.2 331.0L1499.4 331.5L1499.6 332.0L1499.8 332.4L1500.0 332.9L1500.2 333.3L1500.4 333.7L1500.5 334.1L1500.7 334.5L1500.9 334.8L1501.1 335.2L1501.3 335.5L1501.5 335.8L1501.7 336.1L1501.9 336.4L1502.1 336.7L1502.3 336.9L1502.5 337.2L1502.7 337.4L1502.9 337.6L1503.1 337.8L1503.3 337.9L1503.5 338.1L1503.7 338.2L1503.9 338.3L1504.1 338.4L1504.3 338.5L1504.5 338.6L1504.7 338.6L1504.9 338.7L1505.1 338.7L1505.3 338.7L1505.5 338.7L1505.7 338.6L1505.8 338.5L1506.0 338.3L1506.2 338.1L1506.4 337.9L1506.6 337.6L1506.8 337.3L1507.0 336.9L1507.2 336.5L1507.4 336.1L1507.6 335.6L1507.8 335.1L1508.0 334.6L1508.2 334.0L1508.4 333.5L1508.6 332.9L1508.8 332.2L1509.0 331.6L1509.2 330.9L1509.4 330.2L1509.6 329.5L1509.8 328.8L1510.0 328.1L1510.2 327.4L1510.4 326.6L1510.6 325.9L1510.8 325.1L1511.0 324.4L1511.2 323.6L1511.3 322.8L1511.5 322.1L1511.7 321.3L1511.9 320.5L1512.1 319.8L1512.3 319.0L1512.5 318.3L1512.7 317.6L1512.9 316.9L1513.1 316.2L1513.3 315.5L1513.5 314.8L1513.7 314.2L1513.9 313.5L1514.1 312.9L1514.3 312.3L1514.5 311.8L1514.7 311.2L1514.9 310.7L1515.1 310.3L1515.3 309.8L1515.5 309.4L1515.7 309.0L1515.9 308.7L1516.1 308.4L1516.3 308.2L1516.5 307.9L1516.6 307.8L1516.8 307.6L1517.0 307.6L1517.2 307.5L1517.4 307.5L1517.6 307.6L1517.8 307.7L1518.0 307.9L1518.2 308.1L1518.4 308.3L1518.6 308.6L1518.8 308.9L1519.0 309.3L1519.2 309.7L1519.4 310.1L1519.6 310.6L1519.8 311.1L1520.0 311.6L1520.2 312.2L1520.4 312.8L1520.6 313.4L1520.8 314.1L1521.0 314.7L1521.2 315.4L1521.4 316.1L1521.6 316.9L1521.8 317.6L1521.9 318.4L1522.1 319.1L1522.3 319.9L1522.5 320.7L1522.7 321.6L1522.9 322.4L1523.1 323.2L1523.3 324.0L1523.5 324.9L1523.7 325.7L1523.9 326.6L1524.1 327.4L1524.3 328.3L1524.5 329.1L1524.7 329.9L1524.9 330.8L1525.1 331.6L1525.3 332.4L1525.5 333.2L1525.7 334.0L1525.9 334.8L1526.1 335.5L1526.3 336.3L1526.5 337.0L1526.7 337.7L1526.9 338.4L1527.1 339.1L1527.2 339.7L1527.4 340.3L1527.6 340.9L1527.8 341.5L1528.0 342.0L1528.2 342.5L1528.4 343.0L1528.6 343.4L1528.8 343.8L1529.0 344.2L1529.2 344.5L1529.4 344.8L1529.6 345.0L1529.8 345.3L1530.0 345.4L1530.2 345.5L1530.4 345.6L1530.6 345.6L1530.8 345.6L1531.0 345.4L1531.2 345.3L1531.4 345.0L1531.6 344.7L1531.8 344.4L1532.0 344.0L1532.2 343.5L1532.4 343.0L1532.5 342.5L1532.7 341.9L1532.9 341.2L1533.1 340.5L1533.3 339.8L1533.5 339.0L1533.7 338.2L1533.9 337.3L1534.1 336.5L1534.3 335.5L1534.5 334.6L1534.7 333.6L1534.9 332.6L1535.1 331.6L1535.3 330.6L1535.5 329.5L1535.7 328.4L1535.9 327.3L1536.1 326.2L1536.3 325.1L1536.5 323.9L1536.7 322.8L1536.9 321.6L1537.1 320.5L1537.3 319.3L1537.5 318.2L1537.7 317.0L1537.9 315.8L1538.0 314.7L1538.2 313.5L1538.4 312.4L1538.6 311.3L1538.8 310.2L1539.0 309.1L1539.2 308.0L1539.4 306.9L1539.6 305.9L1539.8 304.9L1540.0 303.9L1540.2 302.9L1540.4 302.0L1540.6 301.1L1540.8 300.2L1541.0 299.3L1541.2 298.5L1541.4 297.7L1541.6 297.0L1541.8 296.3L1542.0 295.7L1542.2 295.1L1542.4 294.5L1542.6 294.0L1542.8 293.6L1543.0 293.2L1543.2 292.8L1543.3 292.5L1543.5 292.3L1543.7 292.1L1543.9 292.0L1544.1 292.0L1544.3 292.0L1544.5 292.1L1544.7 292.3L1544.9 292.5L1545.1 292.8L1545.3 293.2L1545.5 293.6L1545.7 294.1L1545.9 294.6L1546.1 295.2L1546.3 295.9L1546.5 296.6L1546.7 297.3L1546.9 298.1L1547.1 299.0L1547.3 299.8L1547.5 300.8L1547.7 301.8L1547.9 302.8L1548.1 303.8L1548.3 304.9L1548.5 306.1L1548.6 307.2L1548.8 308.4L1549.0 309.7L1549.2 310.9L1549.4 312.2L1549.6 313.5L1549.8 314.9L1550.0 316.2L1550.2 317.6L1550.4 319.0L1550.6 320.4L1550.8 321.9L1551.0 323.3L1551.2 324.8L1551.4 326.2L1551.6 327.7L1551.8 329.2L1552.0 330.7L1552.2 332.2L1552.4 333.7L1552.6 335.2L1552.8 336.7L1553.0 338.2L1553.2 339.7L1553.4 341.2L1553.6 342.7L1553.8 344.1L1553.9 345.6L1554.1 347.0L1554.3 348.5L1554.5 349.9L1554.7 351.3L1554.9 352.7L1555.1 354.0L1555.3 355.4L1555.5 356.7L1555.7 358.0L1555.9 359.2L1556.1 360.4L1556.3 361.6L1556.5 362.8L1556.7 363.9L1556.9 365.0L1557.1 366.1L1557.3 367.1L1557.5 368.1L1557.7 369.0L1557.9 369.9L1558.1 370.8L1558.3 371.6L1558.5 372.3L1558.7 373.0L1558.9 373.6L1559.1 374.2L1559.3 374.8L1559.4 375.2L1559.6 375.6L1559.8 376.0L1560.0 376.3L1560.2 376.5L1560.4 376.7L1560.6 376.8L1560.8 376.8L1561.0 376.7L1561.2 376.5L1561.4 376.2L1561.6 375.8L1561.8 375.3L1562.0 374.7L1562.2 374.0L1562.4 373.2L1562.6 372.3L1562.8 371.3L1563.0 370.2L1563.2 369.1L1563.4 367.8L1563.6 366.5L1563.8 365.1L1564.0 363.7L1564.2 362.1L1564.4 360.5L1564.6 358.9L1564.7 357.2L1564.9 355.4L1565.1 353.6L1565.3 351.7L1565.5 349.7L1565.7 347.8L1565.9 345.7L1566.1 343.7L1566.3 341.6L1566.5 339.4L1566.7 337.3L1566.9 335.1L1567.1 332.8L1567.3 330.6L1567.5 328.3L1567.7 326.1L1567.9 323.8L1568.1 321.5L1568.3 319.2L1568.5 316.8L1568.7 314.5L1568.9 312.2L1569.1 309.9L1569.3 307.6L1569.5 305.3L1569.7 303.0L1569.9 300.7L1570.0 298.5L1570.2 296.2L1570.4 294.0L1570.6 291.8L1570.8 289.7L1571.0 287.6L1571.2 285.5L1571.4 283.4L1571.6 281.4L1571.8 279.5L1572.0 277.6L1572.2 275.7L1572.4 273.9L1572.6 272.1L1572.8 270.4L1573.0 268.8L1573.2 267.2L1573.4 265.7L1573.6 264.3L1573.8 262.9L1574.0 261.7L1574.2 260.5L1574.4 259.3L1574.6 258.3L1574.8 257.4L1575.0 256.5L1575.2 255.7L1575.3 255.1L1575.5 254.5L1575.7 254.1L1575.9 253.7L1576.1 253.4L1576.3 253.3L1576.5 253.3L1576.7 253.3L1576.9 253.5L1577.1 253.7L1577.3 254.0L1577.5 254.4L1577.7 254.9L1577.9 255.4L1578.1 256.0L1578.3 256.7L1578.5 257.4L1578.7 258.2L1578.9 259.1L1579.1 260.0L1579.3 261.0L1579.5 262.0L1579.7 263.1L1579.9 264.3L1580.1 265.5L1580.3 266.7L1580.5 268.0L1580.7 269.4L1580.8 270.8L1581.0 272.2L1581.2 273.7L1581.4 275.2L1581.6 276.8L1581.8 278.4L1582.0 280.0L1582.2 281.6L1582.4 283.3L1582.6 285.1L1582.8 286.8L1583.0 288.6L1583.2 290.4L1583.4 292.2L1583.6 294.0L1583.8 295.8L1584.0 297.7L1584.2 299.6L1584.4 301.5L1584.6 303.4L1584.8 305.3L1585.0 307.2L1585.2 309.1L1585.4 311.0L1585.6 312.9L1585.8 314.9L1586.0 316.8L1586.1 318.7L1586.3 320.6L1586.5 322.5L1586.7 324.4L1586.9 326.2L1587.1 328.1L1587.3 329.9L1587.5 331.8L1587.7 333.6L1587.9 335.3L1588.1 337.1L1588.3 338.8L1588.5 340.5L1588.7 342.2L1588.9 343.9L1589.1 345.5L1589.3 347.1L1589.5 348.6L1589.7 350.1L1589.9 351.6L1590.1 353.0L1590.3 354.4L1590.5 355.7L1590.7 357.0L1590.9 358.3L1591.1 359.5L1591.3 360.6L1591.4 361.7L1591.6 362.7L1591.8 363.7L1592.0 364.6L1592.2 365.4L1592.4 366.2L1592.6 366.9L1592.8 367.6L1593.0 368.1L1593.2 368.6L1593.4 369.1L1593.6 369.4L1593.8 369.7L1594.0 369.9L1594.2 370.0L1594.4 370.1L1594.6 370.0L1594.8 369.9L1595.0 369.7L1595.2 369.5L1595.4 369.2L1595.6 368.8L1595.8 368.3L1596.0 367.8L1596.2 367.3L1596.4 366.6L1596.6 366.0L1596.7 365.2L1596.9 364.4L1597.1 363.6L1597.3 362.7L1597.5 361.8L1597.7 360.8L1597.9 359.8L1598.1 358.8L1598.3 357.7L1598.5 356.5L1598.7 355.4L1598.9 354.2L1599.1 353.0L1599.3 351.7L1599.5 350.5L1599.7 349.2L1599.9 347.8L1600.1 346.5L1600.3 345.1L1600.5 343.8L1600.7 342.4L1600.9 341.0L1601.1 339.6L1601.3 338.2L1601.5 336.8L1601.7 335.3L1601.9 333.9L1602.0 332.5L1602.2 331.1L1602.4 329.6L1602.6 328.2L1602.8 326.8L1603.0 325.4L1603.2 324.1L1603.4 322.7L1603.6 321.3L1603.8 320.0L1604.0 318.7L1604.2 317.4L1604.4 316.1L1604.6 314.9L1604.8 313.7L1605.0 312.5L1605.2 311.3L1605.4 310.2L1605.6 309.1L1605.8 308.1L1606.0 307.1L1606.2 306.1L1606.4 305.2L1606.6 304.4L1606.8 303.5L1607.0 302.8L1607.2 302.0L1607.4 301.4L1607.5 300.8L1607.7 300.2L1607.9 299.7L1608.1 299.3L1608.3 298.9L1608.5 298.6L1608.7 298.4L1608.9 298.2L1609.1 298.1L1609.3 298.1L1609.5 298.1L1609.7 298.1L1609.9 298.1L1610.1 298.2L1610.3 298.2L1610.5 298.3L1610.7 298.4L1610.9 298.5L1611.1 298.6L1611.3 298.8L1611.5 299.0L1611.7 299.2L1611.9 312.5L1612.1 313.4L1612.3 314.3L1612.5 315.2L1612.7 316.1L1612.8 316.9L1613.0 317.8L1613.2 318.6L1613.4 319.4L1613.6 320.2L1613.8 320.9L1614.0 321.7L1614.2 322.4L1614.4 323.1L1614.6 323.8L1614.8 324.5L1615.0 325.2L1615.2 325.9L1615.4 326.5" fill="none" stroke="#000" stroke-width="2.08" stroke-linejoin="round"/><path d="M1385.6 451.8L1385.3 451.9L1384.9 452.2L1384.4 452.4L1383.9 452.7L1383.3 453.0L1382.7 453.4L1382.2 453.7L1381.7 454.0L1381.1 454.4L1380.6 454.7L1380.0 455.1L1379.5 455.5L1378.9 455.9L1378.4 456.3L1378.0 456.7L1377.6 457.1L1377.2 457.4L1376.9 457.7L1376.7 457.9L1376.5 458.2L1376.3 458.5L1376.2 458.8L1376.1 459.2L1376.0 459.7L1376.0 460.3L1376.0 461.0L1376.1 461.7L1376.2 462.6L1376.3 463.4L1376.5 464.2L1376.7 465.0L1377.1 465.8L1377.4 466.5L1377.8 467.1L1378.3 467.8L1378.8 468.4L1379.4 469.1L1380.1 469.7L1380.8 470.3L1381.7 470.9L1382.6 471.5L1383.6 472.1L1384.7 472.8L1385.9 473.4L1387.1 473.9L1388.4 474.5L1389.6 475.0L1390.9 475.5L1392.1 475.9L1393.3 476.4L1394.6 476.8L1395.9 477.1L1397.2 477.4L1398.5 477.7L1399.8 477.9L1401.1 478.1L1402.4 478.1L1403.7 478.2L1405.0 478.2L1406.4 478.1L1407.7 478.0L1409.0 477.8L1410.2 477.6L1411.3 477.2L1412.4 476.8L1413.4 476.3L1414.4 475.7L1415.3 475.0L1416.2 474.3L1417.0 473.6L1417.8 472.8L1418.5 471.9L1419.1 471.0L1419.6 470.1L1420.1 469.1L1420.6 468.0L1420.9 466.9L1421.2 465.9L1421.4 464.8L1421.5 463.7L1421.5 462.7L1421.5 461.7L1421.3 460.6L1421.1 459.6L1420.8 458.5L1420.4 457.5L1420.0 456.5L1419.5 455.6L1418.9 454.6L1418.3 453.7L1417.7 452.8L1416.9 451.9L1416.1 451.1L1415.3 450.3L1414.3 449.6L1413.3 448.9L1412.3 448.3L1411.1 447.8L1409.8 447.3L1408.5 446.9L1407.1 446.5L1405.8 446.2L1404.4 446.0L1403.1 445.8L1401.8 445.8L1400.6 445.8L1399.3 445.9L1398.0 446.1L1396.7 446.3L1395.5 446.6L1394.2 447.0L1392.9 447.4L1391.6 447.9L1390.2 448.5L1388.9 449.2L1387.5 449.9L1386.2 450.7L1384.9 451.5L1383.7 452.3L1382.7 453.0L1381.7 453.7L1380.9 454.4L1380.1 455.1L1379.3 455.8L1378.7 456.5L1378.1 457.2L1377.5 457.9L1377.1 458.6L1376.6 459.4L1376.3 460.1L1376.0 460.8L1375.8 461.5L1375.6 462.3L1375.4 463.1L1375.4 463.9L1375.3 464.8L1375.3 465.7L1375.3 466.7L1375.4 467.8L1375.5 468.9L1375.7 469.9L1375.9 471.0L1376.2 472.0L1376.5 472.9L1377.0 473.8L1377.4 474.7L1378.0 475.5L1378.6 476.3L1379.3 477.0L1380.0 477.7L1380.8 478.4L1381.7 479.1L1382.6 479.7L1383.6 480.3L1384.7 480.8L1385.8 481.4L1387.0 481.9L1388.2 482.3L1389.5 482.8L1390.9 483.2L1392.2 483.6L1393.7 484.0L1395.2 484.3L1396.8 484.7L1398.4 484.9L1400.0 485.2L1401.6 485.3L1403.1 485.4L1404.7 485.4L1406.3 485.3L1407.9 485.2L1409.5 485.0L1411.1 484.7L1412.6 484.4L1414.1 484.1L1415.4 483.7L1416.6 483.3L1417.8 482.8L1418.9 482.3L1419.9 481.8L1420.9 481.2L1421.8 480.5L1422.7 479.8L1423.6 479.1L1424.4 478.2L1425.1 477.3L1425.8 476.4L1426.5 475.3L1427.1 474.3L1427.7 473.2L1428.2 472.0L1428.7 470.9L1429.1 469.7L1429.6 468.5L1430.0 467.2L1430.3 465.9L1430.6 464.6L1430.9 463.3L1431.1 462.0L1431.2 460.7L1431.3 459.4L1431.4 458.1L1431.4 456.8L1431.3 455.6L1431.2 454.3L1431.1 453.0L1430.9 451.7L1430.7 450.4L1430.5 449.1L1430.2 447.8L1429.8 446.4L1429.4 445.1L1429.0 443.8L1428.6 442.5L1428.1 441.3L1427.7 440.2L1427.2 439.2L1426.8 438.3L1426.3 437.5L1425.8 436.7L1425.3 436.0L1424.8 435.3L1424.2 434.7L1423.6 434.1L1422.9 433.5L1422.2 432.8L1421.5 432.2L1420.7 431.6L1419.9 431.1L1419.1 430.8L1418.3 430.5L1417.4 430.5L1416.6 430.7L1415.7 431.1L1414.7 431.6L1413.8 432.2L1412.9 432.9L1412.0 433.7L1411.1 434.4L1410.3 435.1L1409.5 435.8L1408.8 436.6L1408.1 437.4L1407.4 438.3L1406.8 439.1L1406.2 439.9L1405.6 440.6L1405.2 441.2L1404.8 441.7L1404.6 442.0L1404.5 442.3L1404.5 442.5L1404.4 442.7L1404.1 443.0L1403.8 443.6L1403.1 444.3L1402.2 445.3L1401.1 446.5L1399.9 447.9L1398.5 449.4L1397.1 450.9L1395.6 452.5L1394.2 454.1L1392.9 455.6L1391.6 457.1L1390.3 458.7L1388.9 460.3L1387.6 461.9L1386.3 463.5L1385.0 465.0L1383.8 466.5L1382.7 467.8L1381.6 469.0L1380.7 470.1L1379.8 471.2L1379.0 472.1L1378.1 473.0L1377.3 474.0L1376.4 475.0L1375.5 476.0L1374.5 477.1L1373.5 478.3L1372.4 479.5L1371.4 480.7L1370.3 481.9L1369.3 483.1L1368.3 484.2L1367.3 485.2L1366.4 486.2L1365.6 487.0L1364.7 487.8L1363.9 488.6L1363.1 489.3L1362.3 490.1L1361.6 490.9L1361.0 491.9L1360.4 492.9L1359.9 493.9L1359.4 495.0L1359.0 496.2L1358.6 497.3L1358.3 498.4L1357.9 499.5L1357.6 500.6L1357.3 501.5L1357.1 502.5L1356.9 503.4L1356.7 504.4L1356.5 505.2L1356.4 506.1L1356.3 506.9L1356.3 507.7L1356.3 508.5L1356.3 509.2L1356.3 509.9L1356.4 510.5L1356.5 511.1L1356.7 511.7L1356.9 512.3L1357.1 512.8L1357.4 513.3L1357.6 513.8L1358.0 514.3L1358.3 514.7L1358.7 515.1L1359.1 515.5L1359.6 515.7L1360.2 515.9L1360.8 516.0L1361.4 516.1L1362.1 516.1L1362.8 516.0L1363.6 515.9L1364.4 515.6L1365.3 515.3L1366.3 514.9L1367.4 514.3L1368.5 513.6L1369.8 512.8L1371.0 511.9L1372.4 510.9L1373.7 509.9L1375.1 508.8L1376.5 507.7L1378.0 506.6L1379.5 505.4L1381.0 504.1L1382.5 502.8L1384.1 501.5L1385.7 500.1L1387.3 498.8L1388.8 497.5L1390.3 496.2L1391.8 495.0L1393.2 493.8L1394.7 492.6L1396.2 491.4L1397.7 490.1L1399.4 488.7L1401.1 487.3L1403.0 485.6L1405.0 483.9L1407.1 482.1L1409.3 480.2L1411.4 478.3L1413.5 476.4L1415.6 474.6L1417.4 472.9L1419.1 471.4L1420.6 470.1L1422.0 468.9L1423.3 467.6L1424.7 466.4L1426.1 465.0L1427.8 463.5L1429.7 461.7L1432.0 459.6L1434.6 457.2L1437.3 454.7L1440.2 452.0L1443.1 449.4L1445.9 446.8L1448.4 444.5L1450.6 442.4L1452.5 440.6L1454.1 439.1L1455.6 437.6L1456.9 436.4L1458.2 435.1L1459.3 433.9L1460.5 432.7L1461.6 431.3L1462.8 430.0L1463.9 428.5L1465.0 427.1L1466.0 425.7L1467.0 424.3L1467.9 423.0L1468.8 421.6L1469.5 420.3L1470.2 419.0L1470.9 417.8L1471.5 416.6L1472.0 415.4L1472.5 414.2L1472.9 413.1L1473.2 411.9L1473.5 410.8L1473.6 409.8L1473.7 408.7L1473.8 407.7L1473.7 406.7L1473.6 405.8L1473.4 404.8L1473.1 403.9L1472.7 402.9L1472.2 402.0L1471.5 401.0L1470.8 400.0L1470.0 399.1L1469.1 398.2L1468.2 397.3L1467.3 396.5L1466.4 395.8L1465.5 395.2L1464.5 394.7L1463.5 394.3L1462.5 393.9L1461.5 393.5L1460.5 393.2L1459.5 392.9L1458.5 392.7L1457.5 392.4L1456.5 392.2L1455.6 392.1L1454.6 391.9L1453.7 391.9L1452.7 391.8L1451.7 391.8L1450.6 391.9L1449.5 392.0L1448.4 392.1L1447.4 392.3L1446.2 392.5L1445.1 392.8L1443.9 393.1L1442.5 393.6L1441.1 394.3L1439.6 395.0L1437.9 395.9L1436.2 396.8L1434.4 397.9L1432.6 399.0L1430.7 400.2L1428.8 401.5L1426.9 402.9L1425.0 404.4L1423.0 406.1L1421.0 407.8L1418.9 409.6L1416.9 411.5L1414.9 413.4L1413.0 415.3L1411.1 417.1L1409.4 419.0L1407.8 420.9L1406.2 422.9L1404.7 424.8L1403.2 426.8L1401.7 428.8L1400.1 430.9L1398.5 432.9L1396.8 435.1L1395.0 437.4L1393.2 439.7L1391.3 442.1L1389.5 444.4L1387.8 446.6L1386.2 448.6L1384.7 450.4L1383.4 452.0L1382.3 453.2L1381.3 454.2L1380.3 455.2L1379.4 456.1L1378.5 457.1L1377.6 458.3L1376.5 459.7L1375.4 461.3L1374.2 463.1L1373.0 465.0L1371.8 467.1L1370.6 469.1L1369.4 471.2L1368.3 473.1L1367.3 475.0L1366.4 476.8L1365.5 478.6L1364.6 480.3L1363.8 482.1L1363.0 483.8L1362.3 485.4L1361.7 486.9L1361.2 488.3L1360.8 489.6L1360.5 490.8L1360.3 491.9L1360.2 492.9L1360.1 493.9L1360.1 494.8L1360.1 495.7L1360.2 496.5L1360.2 497.2L1360.3 497.7L1360.4 498.2L1360.5 498.6L1360.7 499.0L1361.1 499.5L1361.6 500.0L1362.2 500.6L1363.1 501.2L1364.1 502.0L1365.2 502.9L1366.5 503.7L1367.9 504.6L1369.3 505.4L1370.9 506.1L1372.4 506.7L1374.1 507.2L1376.0 507.7L1377.9 508.2L1379.9 508.6L1382.0 508.9L1384.0 509.1L1385.9 509.2L1387.8 509.2L1389.6 509.1L1391.4 508.9L1393.1 508.6L1394.9 508.1L1396.6 507.6L1398.2 507.0L1399.7 506.4L1401.1 505.7L1402.4 504.9L1403.6 504.0L1404.7 503.1L1405.8 502.1L1406.8 501.1L1407.7 499.9L1408.5 498.7L1409.3 497.5L1410.0 496.1L1410.6 494.6L1411.1 493.0L1411.6 491.4L1412.0 489.8L1412.3 488.2L1412.6 486.6L1412.8 485.2L1413.0 484.0L1413.1 482.8L1413.1 481.8L1413.0 480.8L1412.9 479.8L1412.7 478.7L1412.5 477.4L1412.3 476.0L1412.1 474.4L1411.8 472.5L1411.4 470.6L1411.0 468.5L1410.6 466.5L1410.2 464.4L1409.7 462.5L1409.3 460.7L1408.8 458.9L1408.3 457.2L1407.7 455.5L1407.2 453.9L1406.6 452.3L1406.1 450.9L1405.6 449.6L1405.2 448.4L1404.8 447.4L1404.5 446.6L1404.2 446.0L1404.0 445.4L1403.7 444.9L1403.5 444.4L1403.3 443.9L1403.1 443.3L1403.0 442.6L1402.8 441.9L1402.8 441.2L1402.7 440.5L1402.6 439.8L1402.5 439.2L1402.3 438.6L1402.1 438.2L1401.8 437.8L1401.4 437.6L1401.0 437.5L1400.5 437.3L1400.1 437.3L1399.6 437.2L1399.3 437.2L1399.0 437.2" fill="none" stroke="#000" stroke-width="2.08" stroke-linejoin="round"/><path d="M1526.9 463.9L1526.4 464.1L1525.7 464.3L1524.9 464.7L1524.0 465.0L1523.0 465.4L1522.1 465.9L1521.3 466.3L1520.6 466.9L1519.9 467.4L1519.3 468.1L1518.7 468.8L1518.1 469.5L1517.6 470.3L1517.2 471.0L1516.8 471.7L1516.6 472.4L1516.5 473.0L1516.5 473.7L1516.6 474.4L1516.7 475.0L1517.0 475.6L1517.3 476.2L1517.7 476.7L1518.2 477.1L1518.8 477.5L1519.5 477.8L1520.3 478.0L1521.2 478.2L1522.1 478.4L1523.1 478.4L1524.2 478.4L1525.3 478.4L1526.5 478.2L1527.8 478.0L1529.2 477.8L1530.7 477.4L1532.1 477.0L1533.6 476.6L1535.0 476.1L1536.3 475.5L1537.6 474.9L1538.8 474.3L1540.0 473.6L1541.2 472.9L1542.3 472.1L1543.5 471.2L1544.6 470.3L1545.8 469.2L1547.0 468.1L1548.3 466.7L1549.5 465.3L1550.8 463.9L1552.0 462.4L1553.2 460.9L1554.3 459.5L1555.3 458.2L1556.2 456.9L1557.1 455.7L1558.0 454.5L1558.7 453.3L1559.4 452.2L1560.0 451.2L1560.5 450.3L1560.8 449.5L1561.0 448.9L1561.0 448.3L1561.0 447.8L1560.8 447.5L1560.5 447.2L1560.2 447.1L1559.7 447.0L1559.2 447.1L1558.6 447.3L1557.9 447.6L1557.1 448.0L1556.3 448.6L1555.3 449.2L1554.3 450.0L1553.2 450.8L1552.1 451.9L1550.9 453.1L1549.7 454.5L1548.3 456.0L1547.0 457.7L1545.5 459.4L1544.0 461.2L1542.6 462.9L1541.1 464.5L1539.6 466.1L1538.0 467.8L1536.4 469.5L1534.7 471.2L1533.1 472.9L1531.5 474.5L1529.9 475.9L1528.5 477.1L1527.0 478.2L1525.5 479.1L1524.1 479.9L1522.7 480.6L1521.3 481.2L1520.1 481.7L1519.1 482.2L1518.2 482.6L1517.5 483.0L1517.0 483.3L1516.6 483.5L1516.4 483.7L1516.2 483.8L1516.2 483.9L1516.1 484.1L1516.1 484.2L1516.2 484.4L1516.3 484.7L1516.4 485.0L1516.6 485.3L1516.9 485.5L1517.3 485.7L1517.8 485.8L1518.5 485.8L1519.4 485.7L1520.4 485.6L1521.6 485.4L1522.8 485.2L1524.2 484.9L1525.6 484.5L1527.0 484.0L1528.5 483.4L1529.9 482.7L1531.5 481.9L1533.1 481.0L1534.7 480.0L1536.3 479.0L1538.0 477.9L1539.6 476.7L1541.1 475.5L1542.5 474.3L1544.0 473.1L1545.3 471.8L1546.7 470.4L1548.1 469.0L1549.4 467.6L1550.8 466.0L1552.1 464.5L1553.5 462.8L1555.0 461.1L1556.4 459.2L1557.9 457.3L1559.3 455.5L1560.7 453.6L1562.0 451.9L1563.2 450.3L1564.3 448.8L1565.4 447.3L1566.4 445.8L1567.3 444.5L1568.2 443.2L1569.0 442.0L1569.7 440.9L1570.3 440.0L1570.7 439.3L1571.1 438.8L1571.3 438.4L1571.4 438.1L1571.5 437.9L1571.5 437.6L1571.5 437.3L1571.5 436.9L1571.5 436.3L1571.5 435.7L1571.3 435.1L1571.2 434.4L1571.0 433.7L1570.8 433.1L1570.5 432.6L1570.3 432.1L1570.0 431.8L1569.7 431.5L1569.3 431.2L1568.9 431.0L1568.5 430.8L1568.1 430.8L1567.6 430.8L1567.1 430.9L1566.6 431.0L1566.1 431.3L1565.5 431.6L1564.9 431.9L1564.3 432.4L1563.7 433.0L1563.0 433.7L1562.4 434.5L1561.7 435.5L1561.1 436.7L1560.4 438.0L1559.7 439.5L1559.0 441.0L1558.3 442.5L1557.6 444.0L1556.9 445.6L1556.1 447.0L1555.4 448.5L1554.7 450.0L1554.0 451.6L1553.2 453.1L1552.4 454.8L1551.5 456.4L1550.6 458.2L1549.5 460.0L1548.5 461.9L1547.4 463.9L1546.2 465.9L1545.0 467.9L1543.7 469.9L1542.4 472.0L1541.1 474.0L1539.7 475.9L1538.2 477.9L1536.7 479.9L1535.2 481.9L1533.6 483.8L1531.9 485.8L1530.2 487.8L1528.5 489.7L1526.6 491.8L1524.7 493.8L1522.6 495.9L1520.6 498.0L1518.5 500.0L1516.5 502.0L1514.5 503.8L1512.7 505.5L1510.9 507.1L1509.1 508.7L1507.3 510.2L1505.5 511.6L1503.9 512.9L1502.4 514.0L1501.1 515.0L1500.0 515.8L1499.2 516.4L1498.7 516.8L1498.3 517.1L1498.0 517.2L1497.9 517.2L1497.8 517.1L1497.8 516.9L1497.7 516.6L1497.6 516.2L1497.6 515.6L1497.6 515.0L1497.7 514.3L1497.9 513.4L1498.0 512.5L1498.2 511.4L1498.5 510.3L1498.7 509.0L1499.0 507.6L1499.3 506.1L1499.6 504.5L1500.0 502.9L1500.4 501.2L1501.0 499.4L1501.6 497.6L1502.4 495.8L1503.2 493.9L1504.1 491.9L1505.1 489.9L1506.1 487.9L1507.2 485.9L1508.3 483.8L1509.5 481.9L1510.7 479.9L1511.9 478.0L1513.2 476.1L1514.5 474.2L1515.9 472.2L1517.4 470.2L1518.9 468.2L1520.6 466.1L1522.3 463.8L1524.2 461.4L1526.1 459.0L1528.2 456.5L1530.2 454.0L1532.3 451.6L1534.3 449.3L1536.3 447.1L1538.3 445.1L1540.3 443.2L1542.3 441.3L1544.2 439.5L1546.2 437.8L1548.2 436.1L1550.2 434.5L1552.1 432.9L1554.1 431.4L1556.1 429.9L1558.0 428.5L1560.0 427.1L1562.0 425.8L1564.0 424.5L1565.9 423.2L1567.9 421.9L1569.9 420.6L1571.9 419.4L1573.8 418.2L1575.8 417.0L1577.8 415.9L1579.8 414.7L1581.7 413.6L1583.7 412.4L1585.7 411.2L1587.7 410.1L1589.7 408.9L1591.6 407.7L1593.6 406.5L1595.6 405.4L1597.5 404.2L1599.5 402.9L1601.6 401.6L1603.8 400.0L1606.2 398.4L1608.5 396.7L1610.6 395.2L1612.4 394.0L1613.7 393.1L1614.5 392.7L1614.5 392.8L1614.0 393.3L1613.0 394.2L1611.7 395.3L1610.1 396.6L1608.6 398.0L1607.1 399.3L1605.8 400.6L1604.6 401.7L1603.5 402.9L1602.3 404.1L1601.1 405.4L1599.9 406.7L1598.7 408.0L1597.5 409.4L1596.3 410.8L1595.1 412.3L1594.0 413.8L1592.8 415.4L1591.6 416.9L1590.4 418.6L1589.2 420.2L1588.0 421.8L1586.9 423.5L1585.7 425.1L1584.5 426.8L1583.3 428.4L1582.1 430.1L1580.9 431.8L1579.8 433.5L1578.6 435.2L1577.4 436.9L1576.2 438.6L1575.0 440.2L1573.8 441.9L1572.6 443.6L1571.5 445.3L1570.3 447.0L1569.1 448.6L1567.9 450.3L1566.7 451.9L1565.6 453.5L1564.4 455.1L1563.3 456.7L1562.1 458.2L1560.9 459.8L1559.7 461.4L1558.4 462.9L1557.1 464.5L1555.8 466.0L1554.4 467.6L1553.0 469.2L1551.6 470.7L1550.2 472.2L1548.8 473.7L1547.4 475.2L1546.0 476.7L1544.7 478.1L1543.5 479.5L1542.2 480.8L1540.8 482.2L1539.4 483.5L1538.0 484.9L1536.3 486.3L1534.6 487.7L1532.7 489.2L1530.6 490.7L1528.6 492.2L1526.5 493.6L1524.4 495.0L1522.4 496.2L1520.6 497.3L1518.8 498.2L1517.1 499.0L1515.3 499.7L1513.7 500.3L1512.1 500.9L1510.6 501.3L1509.2 501.7L1507.9 502.1L1506.7 502.3L1505.6 502.4L1504.6 502.4L1503.6 502.3L1502.8 502.2L1502.1 502.2L1501.5 502.3L1501.0 502.5L1500.7 502.9L1500.5 503.4L1500.5 504.0L1500.6 504.7L1500.7 505.4L1501.0 506.0L1501.3 506.6L1501.6 507.1L1502.0 507.5L1502.5 507.9L1503.0 508.3L1503.6 508.6L1504.3 508.9L1505.0 509.2L1505.7 509.3L1506.5 509.5L1507.3 509.6L1508.2 509.6L1509.1 509.7L1510.0 509.7L1511.0 509.6L1512.0 509.4L1513.1 509.1L1514.3 508.7L1515.5 508.1L1516.8 507.4L1518.2 506.6L1519.6 505.7L1521.0 504.8L1522.5 503.7L1523.9 502.7L1525.3 501.6L1526.7 500.4L1528.1 499.2L1529.6 497.9L1531.0 496.5L1532.4 495.2L1533.8 493.8L1535.1 492.4L1536.3 491.0L1537.5 489.7L1538.6 488.3L1539.6 487.0L1540.6 485.7L1541.5 484.3L1542.5 482.9L1543.4 481.5L1544.2 480.0L1545.1 478.4L1546.0 476.7L1546.8 474.9L1547.7 473.2L1548.5 471.4L1549.2 469.6L1549.9 467.8L1550.6 466.1L1551.2 464.3L1551.7 462.5L1552.3 460.7L1552.8 458.9L1553.2 457.1L1553.5 455.4L1553.8 453.9L1554.0 452.5L1554.1 451.3L1554.1 450.3L1554.0 449.4L1553.9 448.6L1553.7 447.8L1553.4 447.1L1553.2 446.3L1552.9 445.6L1552.6 444.7L1552.3 443.8L1551.9 443.0L1551.5 442.1L1551.1 441.3L1550.7 440.5L1550.2 439.8L1549.8 439.2L1549.3 438.7L1548.7 438.3L1548.1 437.9L1547.6 437.6L1547.0 437.4L1546.4 437.2L1545.9 437.1L1545.5 437.2L1545.1 437.3L1544.8 437.6L1544.5 437.9L1544.2 438.3L1544.0 438.8L1543.8 439.4L1543.6 440.0L1543.5 440.8L1543.3 441.7L1543.3 442.8L1543.2 444.0L1543.2 445.3L1543.2 446.6L1543.2 447.9L1543.2 449.1L1543.1 450.3L1543.0 451.4L1542.9 452.4L1542.8 453.4L1542.6 454.4L1542.4 455.4L1542.2 456.4L1542.1 457.3L1541.9 458.2L1541.7 459.1L1541.4 460.0L1541.2 460.9L1540.9 461.8L1540.7 462.6L1540.5 463.3L1540.3 463.9L1540.1 464.3" fill="none" stroke="#000" stroke-width="2.08" stroke-linejoin="round"/>
<rect x="1351.5" y="108.5" width="128.0" height="66.0" fill="none" stroke="#000" stroke-width="1.1"/>
<rect x="1492.5" y="108.5" width="128.0" height="66.0" fill="none" stroke="#000" stroke-width="1.1"/>
<rect x="1351.5" y="178.5" width="128.0" height="66.0" fill="none" stroke="#000" stroke-width="1.1"/>
<rect x="1492.5" y="178.5" width="128.0" height="66.0" fill="none" stroke="#000" stroke-width="1.1"/>
<rect x="1351.5" y="247.5" width="128.0" height="136.0" fill="none" stroke="#000" stroke-width="1.1"/>
<rect x="1492.5" y="247.5" width="128.0" height="136.0" fill="none" stroke="#000" stroke-width="1.1"/>
<rect x="1351.5" y="387.5" width="128.0" height="135.0" fill="none" stroke="#000" stroke-width="1.1"/>
<rect x="1492.5" y="387.5" width="128.0" height="135.0" fill="none" stroke="#000" stroke-width="1.1"/>
<text x="1340.9" y="138.2" font-size="13.89" text-anchor="start" >R</text>
<text x="1341.3" y="208.2" font-size="13.89" text-anchor="start" >T</text>
<rect x="1351.5" y="526.5" width="269.0" height="275.0" fill="none" stroke="#000" stroke-width="1.1"/>
<path d="M1353.30 801.5v4.9M1419.73 801.5v4.9M1486.16 801.5v4.9M1552.59 801.5v4.9M1619.02 801.5v4.9M1351.5 777.12h-4.9M1351.5 739.15h-4.9M1351.5 701.18h-4.9M1351.5 663.20h-4.9M1351.5 625.23h-4.9M1351.5 587.25h-4.9M1351.5 549.28h-4.9" stroke="#000" stroke-width="1.1" fill="none"/>
<text x="1353.30" y="822.3" font-size="13.89" text-anchor="middle" >0</text>
<text x="1419.73" y="822.3" font-size="13.89" text-anchor="middle" >1</text>
<text x="1486.16" y="822.3" font-size="13.89" text-anchor="middle" >2</text>
<text x="1552.59" y="822.3" font-size="13.89" text-anchor="middle" >3</text>
<text x="1619.02" y="822.3" font-size="13.89" text-anchor="middle" >4</text>
<text x="1341.3" y="783.33" font-size="13.89" text-anchor="end" >−75</text>
<text x="1341.3" y="745.35" font-size="13.89" text-anchor="end" >−50</text>
<text x="1341.3" y="707.38" font-size="13.89" text-anchor="end" >−25</text>
<text x="1341.3" y="669.40" font-size="13.89" text-anchor="end" >0</text>
<text x="1341.3" y="631.43" font-size="13.89" text-anchor="end" >25</text>
<text x="1341.3" y="593.45" font-size="13.89" text-anchor="end" >50</text>
<text x="1341.3" y="555.48" font-size="13.89" text-anchor="end" >75</text>
<clipPath id="hc"><rect x="1351.5" y="526.5" width="269.0" height="275.0"/></clipPath><g clip-path="url(#hc)"><path d="M1426.4 654.6L1424.4 654.3L1422.4 653.9L1420.4 653.5L1418.5 653.1L1416.5 652.6L1414.6 652.0L1412.7 651.4L1410.8 650.8L1408.9 650.0L1407.0 649.2L1405.2 648.3L1403.5 647.4L1401.7 646.3L1400.1 645.2L1398.5 644.0L1396.9 642.7L1395.4 641.3L1394.1 639.9L1392.7 638.3L1391.6 636.7L1390.4 635.0L1389.4 633.3L1388.5 631.5L1387.7 629.7L1386.9 627.8L1386.3 625.9L1385.8 624.0L1385.3 622.0L1384.9 620.0L1384.6 618.0L1384.4 616.0L1384.2 614.0L1384.1 612.0L1384.1 610.0L1384.2 608.0L1384.4 606.0L1384.6 604.0L1384.9 602.0L1385.3 600.0L1385.7 598.0L1386.3 596.1L1386.9 594.2L1387.7 592.3L1388.5 590.5L1389.4 588.7L1390.5 587.0L1391.7 585.4L1392.9 583.8L1394.3 582.3L1395.7 580.9L1397.3 579.7L1398.9 578.5L1400.7 577.4L1402.5 576.5L1404.3 575.7L1406.2 575.0L1408.2 574.6L1410.1 574.2L1412.1 574.1L1414.1 574.2L1416.1 574.5L1417.9 575.3L1419.6 576.5L1420.6 578.2L1421.2 580.1L1421.5 582.1L1421.6 584.1L1421.6 586.2L1421.6 588.2L1421.5 590.2L1421.5 592.2L1421.4 594.2L1421.5 596.2L1421.5 598.2L1421.7 600.2L1421.8 602.3L1422.1 604.2L1422.5 606.2L1422.9 608.2L1423.3 610.2L1423.6 611.1M1448.9 649.4L1449.1 651.3L1448.0 652.9L1446.4 654.1L1444.4 654.5L1442.4 654.9L1440.4 655.1L1438.4 655.2L1436.4 655.3L1434.4 655.2L1432.4 655.2L1430.4 655.0L1428.4 654.8L1426.4 654.6L1426.4 654.6M1452.9 670.8L1450.9 670.8L1448.9 670.8L1446.9 670.7L1444.9 670.7L1442.9 670.6L1440.9 670.5L1438.9 670.5L1436.9 670.4L1434.9 670.3L1432.9 670.2L1430.9 670.1L1428.9 670.0L1426.9 669.9L1424.9 669.7L1422.9 669.6L1420.9 669.4L1418.9 669.3L1416.9 669.1L1414.9 668.9L1412.9 668.7L1410.9 668.4L1408.9 668.2L1406.9 667.9L1404.9 667.6L1403.0 667.3L1401.0 666.9L1399.0 666.6L1397.0 666.1L1395.1 665.7L1393.2 665.2L1391.2 664.6L1389.3 664.0L1387.4 663.3L1385.6 662.5L1383.8 661.7L1382.0 660.7L1380.3 659.6L1378.7 658.5L1377.1 657.2L1375.6 655.8L1374.3 654.4L1373.0 652.8L1371.9 651.1L1370.9 649.4L1370.0 647.6L1369.1 645.8L1368.4 643.9L1367.8 642.0L1367.2 640.1L1366.7 638.2L1366.2 636.2L1366.0 635.2M1364.9 589.3L1365.2 587.3L1365.5 585.3L1365.9 583.3L1366.3 581.4L1366.7 579.4L1367.3 577.5L1367.8 575.6L1368.5 573.7L1369.2 571.8L1370.1 570.0L1371.0 568.2L1372.0 566.5L1373.2 564.8L1374.4 563.3L1375.8 561.8L1377.3 560.4L1378.9 559.2L1380.5 558.1L1382.2 557.0L1384.0 556.1L1385.8 555.2L1387.7 554.5L1389.5 553.8L1391.5 553.2L1393.4 552.6L1395.3 552.1L1397.3 551.6L1399.2 551.2L1401.2 550.8L1403.2 550.5L1405.2 550.2L1407.2 549.9L1409.1 549.7L1411.1 549.4L1413.1 549.2L1415.1 549.0L1417.1 548.8L1419.1 548.7L1421.1 548.5L1423.1 548.4L1425.1 548.3L1427.1 548.2L1429.1 548.1L1431.1 548.0L1433.1 547.9L1435.2 547.9L1437.2 547.8L1439.2 547.8L1441.2 547.7L1443.2 547.7L1445.2 547.7L1447.2 547.7L1449.2 547.8L1451.2 547.8L1453.2 547.8L1455.2 547.9L1457.2 548.0L1459.2 548.1L1461.2 548.2L1463.2 548.4L1465.2 548.5L1467.2 548.7L1469.2 548.9L1471.2 549.2L1473.2 549.6L1475.1 550.0L1477.1 550.6L1478.8 551.6L1479.9 553.1L1479.6 555.0L1478.4 556.5L1476.9 557.9L1475.4 559.2L1473.8 560.5L1472.3 561.7L1470.7 562.9L1469.1 564.1L1467.5 565.4L1465.9 566.6L1464.3 567.8L1462.8 569.1L1461.2 570.4L1459.7 571.7L1458.2 573.1L1456.8 574.5L1455.4 575.9L1454.0 577.4L1452.7 578.9L1451.5 580.5L1450.3 582.1L1449.2 583.8L1448.1 585.5L1447.1 587.2L1446.3 589.0L1445.5 590.9L1444.8 592.8L1444.2 594.7L1443.7 596.6L1443.4 598.6L1443.2 600.6L1443.1 602.6L1443.2 604.6L1443.4 606.6L1443.7 608.6L1444.1 610.6L1444.7 612.5L1445.3 614.4L1446.1 616.2L1447.0 618.0L1448.0 619.8L1449.1 621.5L1450.2 623.1L1451.4 624.7L1452.7 626.2L1454.1 627.7L1455.5 629.2L1456.9 630.6L1458.4 631.9L1459.9 633.2L1461.5 634.5L1463.1 635.7L1464.7 636.9L1466.3 638.0L1468.0 639.1L1469.7 640.2L1471.4 641.3L1473.1 642.3L1474.9 643.3L1476.6 644.2L1478.4 645.2L1480.2 646.1L1482.0 647.0L1483.8 647.9L1485.6 648.8L1487.4 649.7L1489.2 650.5L1491.0 651.3L1492.9 652.2L1494.7 653.0L1496.5 653.8L1498.4 654.6L1500.2 655.4L1502.0 656.3L1503.9 657.1L1505.7 657.9L1507.5 658.8L1509.3 659.7L1511.1 660.6L1512.8 661.6L1514.5 662.7L1515.9 664.1L1516.3 665.9L1514.8 667.1L1513.0 667.9L1511.0 668.3L1509.0 668.8L1507.1 669.1L1505.1 669.4L1503.1 669.6L1501.1 669.7L1499.1 669.9L1497.1 670.1L1495.1 670.2L1493.1 670.3L1491.1 670.4L1489.1 670.5L1487.1 670.6L1485.0 670.7L1483.0 670.7L1481.0 670.8L1479.0 670.8L1477.0 670.9L1475.0 670.9L1473.0 670.9L1471.0 670.9L1469.0 670.9L1467.0 670.9L1465.0 670.9L1463.0 670.9L1461.0 670.9L1459.0 670.9L1457.0 670.9L1455.0 670.9L1452.9 670.8L1452.9 670.8M1606.3 799.9L1608.7 799.5L1611.0 799.0L1613.3 798.5L1615.6 798.0L1617.9 797.6L1619.0 797.3M1619.0 685.2L1617.0 684.8L1615.1 684.5L1613.1 684.2L1611.1 683.8L1609.1 683.5L1607.1 683.3L1605.1 683.0L1603.1 682.7L1601.2 682.5L1599.2 682.2L1597.2 682.0L1595.2 681.8L1593.2 681.6L1591.2 681.4L1589.2 681.2L1587.2 681.1L1585.2 680.9L1583.2 680.7L1581.2 680.6L1579.2 680.5L1577.2 680.3L1575.2 680.2L1573.2 680.1L1571.2 680.0L1569.1 679.9L1567.1 679.8L1565.1 679.7L1563.1 679.6L1561.1 679.6L1559.1 679.5L1557.1 679.4L1555.1 679.3L1553.1 679.3L1551.1 679.2L1549.1 679.2L1547.1 679.1L1545.1 679.1L1543.1 679.0L1541.1 679.0L1539.1 678.9L1537.0 678.9L1535.0 678.9L1533.0 678.8L1531.0 678.8L1529.0 678.8L1527.0 678.7L1525.0 678.7L1523.0 678.7L1521.0 678.7L1519.0 678.6L1517.0 678.6L1515.0 678.6L1513.0 678.6L1510.9 678.6L1508.9 678.6L1506.9 678.5L1504.9 678.5L1502.9 678.5L1500.9 678.5L1498.9 678.5L1496.9 678.5L1494.9 678.5L1492.9 678.5L1490.9 678.5L1488.9 678.5L1486.9 678.5L1484.9 678.5L1482.8 678.5L1480.8 678.5L1478.8 678.5L1476.8 678.5L1474.8 678.5L1472.8 678.5L1470.8 678.5L1468.8 678.5L1466.8 678.5L1464.8 678.5L1462.8 678.5L1460.8 678.5L1458.8 678.5L1456.7 678.5L1454.7 678.5L1452.7 678.6L1450.7 678.6L1448.7 678.6L1446.7 678.6L1444.7 678.6L1442.7 678.6L1440.7 678.7L1438.7 678.7L1436.7 678.7L1434.7 678.7L1432.7 678.8L1430.7 678.8L1428.6 678.8L1426.6 678.9L1424.6 678.9L1422.6 679.0L1420.6 679.0L1418.6 679.1L1416.6 679.1L1414.6 679.2L1412.6 679.3L1410.6 679.3L1408.6 679.4L1406.6 679.5L1404.6 679.6L1402.6 679.7L1400.6 679.8L1398.6 679.9L1396.5 680.0L1394.5 680.2L1392.5 680.3L1390.5 680.5L1388.5 680.7L1386.6 680.9L1384.6 681.2L1382.6 681.4L1380.6 681.8L1378.6 682.2L1376.7 682.6L1374.7 683.1L1372.8 683.7L1370.9 684.4L1369.1 685.3L1367.4 686.4L1365.8 687.6L1364.4 689.0L1363.2 690.6L1362.1 692.3L1361.2 694.1L1360.5 695.9L1359.9 697.9L1359.6 698.8M1356.4 744.8L1356.4 746.8L1356.4 748.8L1356.4 750.8L1356.4 752.8L1356.4 754.8L1356.5 756.8L1356.5 758.8L1356.6 760.8L1356.7 762.9L1356.7 764.9L1356.8 766.9L1356.9 768.9L1357.0 770.9L1357.1 772.9L1357.3 774.9L1357.4 776.9L1357.6 778.9L1357.8 780.9L1358.1 782.9L1358.3 784.9L1358.7 786.8L1359.1 788.8L1359.5 790.8L1360.0 792.7L1360.7 794.6L1361.5 796.4L1362.4 798.2L1363.5 799.9L1363.5 799.9M1619.0 543.7L1617.0 543.8L1615.0 543.8L1613.0 543.9L1611.0 544.0L1609.0 544.1L1607.0 544.2L1605.0 544.2L1603.0 544.3L1601.0 544.4L1599.0 544.6L1597.0 544.7L1595.0 544.8L1593.0 544.9L1590.9 545.0L1588.9 545.2L1586.9 545.3L1584.9 545.5L1582.9 545.6L1580.9 545.8L1578.9 546.0L1576.9 546.2L1574.9 546.4L1572.9 546.6L1570.9 546.8L1569.0 547.0L1567.0 547.2L1565.0 547.5L1563.0 547.8L1561.0 548.0L1559.0 548.3L1557.0 548.6L1555.0 548.9L1553.0 549.2L1551.1 549.5L1549.1 549.8L1547.1 550.2L1545.1 550.6L1543.2 550.9L1541.2 551.3L1539.2 551.7L1537.3 552.1L1535.3 552.6L1533.3 553.0L1531.4 553.4L1529.4 553.9L1527.5 554.4L1525.5 554.8L1523.6 555.4L1521.6 555.9L1519.7 556.4L1517.8 557.0L1515.8 557.5L1513.9 558.1L1512.0 558.7L1510.1 559.3L1508.2 559.9L1506.3 560.5L1504.4 561.2L1502.5 561.9L1500.6 562.6L1498.7 563.3L1496.9 564.1L1495.0 564.8L1493.2 565.6L1491.4 566.4L1489.5 567.3L1487.7 568.2L1485.9 569.1L1484.2 570.0L1482.4 571.0L1480.7 572.0L1478.9 573.0L1477.3 574.1L1475.6 575.2L1474.0 576.4L1472.4 577.6L1470.8 578.9L1469.3 580.2L1467.8 581.6L1466.4 583.0L1465.1 584.5L1463.8 586.0L1462.6 587.7L1461.5 589.3L1460.5 591.1L1459.6 592.9L1458.8 594.7L1458.2 596.6L1457.7 598.5L1457.3 600.5L1457.1 602.5L1457.1 604.5L1457.2 606.5L1457.5 608.5L1458.0 610.5L1458.6 612.4L1459.3 614.2L1460.2 616.1L1461.1 617.8L1462.2 619.5L1463.4 621.1L1464.6 622.7L1466.0 624.2L1467.4 625.7L1468.8 627.1L1470.3 628.4L1471.8 629.7L1473.4 630.9L1475.0 632.1L1476.7 633.3L1478.4 634.4L1480.1 635.4L1481.8 636.5L1483.5 637.5L1485.3 638.4L1487.1 639.4L1488.9 640.3L1490.7 641.1L1492.5 642.0L1494.3 642.8L1496.2 643.6L1498.0 644.4L1499.9 645.2L1501.7 645.9L1503.6 646.6L1505.5 647.3L1507.4 648.0L1509.3 648.7L1511.2 649.3L1513.1 650.0L1515.0 650.6L1516.9 651.2L1518.8 651.9L1520.7 652.4L1522.6 653.0L1524.5 653.6L1526.5 654.2L1528.4 654.7L1530.3 655.3L1532.3 655.8L1534.2 656.3L1536.1 656.8L1538.1 657.3L1540.0 657.8L1542.0 658.3L1543.9 658.8L1543.9 658.8M1589.1 668.1L1591.1 668.4L1593.1 668.7L1595.1 669.0L1597.1 669.3L1599.1 669.6L1601.1 669.9L1603.0 670.1L1605.0 670.4L1607.0 670.6L1609.0 670.8L1611.0 671.0L1613.0 671.2L1615.0 671.5L1617.0 671.6L1619.0 671.8L1619.0 671.8M1363.5 526.5L1364.8 528.0L1366.3 529.4L1367.9 530.5L1369.6 531.5L1371.5 532.4L1373.4 533.1L1375.3 533.6L1377.2 534.1L1379.2 534.5L1381.2 534.9L1383.2 535.2L1385.1 535.4L1387.1 535.7L1389.1 535.9L1391.1 536.1L1393.1 536.2L1395.1 536.4L1397.2 536.5L1399.2 536.6L1401.2 536.7L1403.2 536.8L1405.2 536.9L1407.2 537.0L1409.2 537.0L1411.2 537.1L1413.2 537.2L1415.2 537.2L1417.2 537.3L1419.2 537.3L1421.2 537.4L1423.2 537.4L1425.3 537.4L1427.3 537.5L1429.3 537.5L1431.3 537.5L1433.3 537.5L1435.3 537.5L1437.3 537.6L1439.3 537.6L1441.3 537.6L1443.3 537.6L1445.3 537.6L1447.3 537.6L1449.4 537.6L1451.4 537.6L1453.4 537.6L1455.4 537.6L1457.4 537.6L1459.4 537.6L1461.4 537.6L1463.4 537.6L1465.4 537.6L1467.4 537.6L1469.4 537.6L1471.5 537.6L1473.5 537.6L1475.5 537.6L1477.5 537.5L1479.5 537.5L1481.5 537.5L1483.5 537.5L1485.5 537.4L1487.5 537.4L1489.5 537.4L1491.5 537.3L1493.5 537.3L1495.6 537.2L1497.6 537.2L1499.6 537.1L1501.6 537.1L1503.6 537.0L1505.6 537.0L1507.6 536.9L1509.6 536.9L1511.6 536.8L1513.6 536.7L1515.6 536.7L1517.6 536.6L1519.6 536.5L1521.7 536.4L1523.7 536.3L1525.7 536.2L1527.7 536.1L1528.7 536.1M1574.7 531.9L1576.6 531.6L1578.6 531.3L1580.6 531.0L1582.6 530.7L1584.6 530.4L1586.6 530.1L1588.6 529.7L1590.5 529.4L1592.5 529.1L1594.5 528.7L1596.5 528.4L1598.4 528.0L1600.4 527.6L1602.4 527.3L1604.4 526.9L1606.3 526.5L1606.3 526.5M1559.2 799.9L1560.2 799.8M1606.9 792.8L1609.0 792.4L1611.0 792.0L1613.0 791.6L1615.0 791.2L1617.0 790.8L1619.0 790.4L1619.0 790.4M1619.0 693.6L1617.0 693.3L1615.1 692.9L1613.1 692.5L1611.1 692.2L1609.1 691.9L1607.2 691.5L1605.2 691.2L1603.2 690.9L1601.2 690.6L1599.2 690.3L1597.2 690.0L1595.3 689.7L1593.3 689.5L1591.3 689.2L1589.3 689.0L1587.3 688.7L1585.3 688.5L1583.3 688.3L1581.3 688.1L1579.3 687.9L1577.3 687.7L1575.3 687.5L1573.3 687.3L1571.3 687.1L1569.3 686.9L1567.3 686.7L1565.3 686.6L1563.3 686.4L1561.3 686.3L1559.3 686.1L1557.3 686.0L1555.3 685.9L1553.3 685.7L1551.3 685.6L1549.3 685.5L1547.3 685.4L1545.3 685.3L1543.3 685.2L1541.3 685.1L1539.3 685.0L1537.3 684.9L1535.3 684.8L1533.3 684.7L1531.3 684.6L1529.3 684.6L1527.3 684.5L1525.3 684.4L1523.2 684.4L1521.2 684.3L1519.2 684.3L1517.2 684.2L1515.2 684.2L1513.2 684.1L1511.2 684.1L1509.2 684.0L1507.2 684.0L1505.2 684.0L1503.2 683.9L1501.2 683.9L1499.2 683.9L1497.2 683.9L1495.2 683.9L1493.1 683.9L1491.1 683.9L1489.1 683.9L1487.1 683.9L1485.1 683.9L1483.1 683.9L1481.1 683.9L1479.1 683.9L1477.1 683.9L1475.1 683.9L1473.1 684.0L1471.1 684.0L1469.1 684.0L1467.1 684.1L1465.1 684.1L1463.0 684.2L1461.0 684.2L1459.0 684.3L1457.0 684.4L1455.0 684.4L1453.0 684.5L1451.0 684.6L1449.0 684.7L1447.0 684.8L1445.0 684.9L1443.0 685.0L1441.0 685.1L1439.0 685.2L1437.0 685.3L1435.0 685.5L1433.0 685.6L1433.0 685.6M1387.3 695.8L1385.6 696.8L1383.9 697.9L1382.3 699.2L1380.8 700.5L1379.4 701.9L1378.1 703.4L1376.8 705.0L1375.7 706.7L1374.7 708.4L1373.7 710.2L1372.9 712.0L1372.2 713.8L1371.5 715.7L1370.9 717.6L1370.3 719.6L1369.9 721.5L1369.4 723.5L1369.1 725.5L1368.8 727.4L1368.5 729.4L1368.2 731.4L1368.0 733.4L1367.9 735.4L1367.7 737.4L1367.6 739.4L1367.6 741.4L1367.5 743.4L1367.5 745.4L1367.6 747.4L1367.6 749.5L1367.7 751.5L1367.8 753.5L1368.0 755.5L1368.2 757.5L1368.4 759.5L1368.7 761.4L1369.0 763.4L1369.4 765.4L1369.8 767.4L1370.2 769.3L1370.7 771.3L1371.3 773.2L1372.0 775.1L1372.7 776.9L1373.6 778.8L1374.5 780.6L1375.5 782.3L1376.6 784.0L1377.8 785.6L1379.1 787.1L1380.5 788.5L1382.0 789.9L1383.6 791.1L1385.2 792.3L1386.9 793.3L1388.7 794.3L1390.5 795.2L1392.3 795.9L1394.2 796.7L1396.1 797.3L1398.0 797.9L1399.9 798.5L1401.9 799.0L1403.8 799.5L1405.8 799.9L1405.8 799.9M1619.0 550.3L1617.0 550.4L1615.0 550.5L1613.0 550.6L1611.0 550.7L1609.0 550.8L1607.0 550.9L1605.0 551.1L1603.0 551.2L1601.0 551.3L1599.0 551.5L1597.0 551.6L1595.0 551.8L1593.0 551.9L1591.0 552.1L1589.0 552.3L1587.0 552.5L1585.0 552.6L1583.0 552.8L1581.0 553.0L1579.0 553.2L1577.0 553.5L1575.0 553.7L1573.0 553.9L1571.0 554.2L1569.0 554.4L1567.0 554.7L1565.0 554.9L1563.1 555.2L1561.1 555.5L1559.1 555.8L1557.1 556.1L1555.1 556.4L1553.1 556.8L1551.2 557.1L1549.2 557.4L1547.2 557.8L1545.2 558.2L1543.3 558.5L1541.3 558.9L1539.3 559.3L1537.4 559.8L1535.4 560.2L1533.5 560.6L1531.5 561.1L1529.5 561.6L1527.6 562.0L1525.7 562.5L1523.7 563.1L1521.8 563.6L1519.9 564.2L1517.9 564.7L1516.0 565.3L1514.1 565.9L1512.2 566.6L1510.3 567.2L1508.4 567.9L1506.5 568.6L1504.7 569.3L1502.8 570.0L1500.9 570.8L1499.1 571.6L1497.3 572.5L1495.5 573.3L1493.7 574.3L1491.9 575.2L1490.2 576.2L1488.4 577.2L1486.7 578.3L1485.1 579.4L1483.4 580.6L1481.8 581.8L1480.3 583.0L1478.8 584.4L1477.3 585.8L1476.0 587.2L1474.7 588.8L1473.5 590.4L1472.4 592.1L1471.4 593.8L1470.5 595.6L1469.8 597.5L1469.3 599.4L1468.9 601.4L1468.7 603.4L1468.7 605.4L1468.9 607.4L1469.3 609.4L1469.9 611.3L1470.6 613.2L1471.4 615.0L1472.4 616.7L1473.0 617.6M1511.9 642.8L1513.8 643.5L1515.7 644.2L1517.6 644.8L1519.5 645.5L1521.4 646.1L1523.4 646.7L1525.3 647.2L1527.2 647.8L1529.1 648.4L1531.1 648.9L1533.0 649.4L1534.9 649.9L1536.9 650.4L1538.8 650.9L1540.8 651.4L1542.7 651.9L1544.7 652.3L1546.6 652.8L1548.6 653.2L1550.6 653.7L1552.5 654.1L1554.5 654.5L1556.4 654.9L1558.4 655.3L1560.4 655.7L1562.4 656.1L1564.3 656.4L1566.3 656.8L1568.3 657.1L1570.3 657.5L1572.2 657.8L1574.2 658.2L1576.2 658.5L1578.2 658.8L1580.2 659.1L1582.1 659.4L1584.1 659.7L1586.1 660.0L1588.1 660.3L1590.1 660.5L1592.1 660.8L1594.1 661.1L1596.1 661.3L1598.1 661.6L1600.1 661.8L1602.0 662.0L1604.0 662.3L1606.0 662.5L1608.0 662.7L1610.0 662.9L1612.0 663.1L1614.0 663.3L1616.0 663.5L1618.0 663.7L1619.0 663.7M1405.8 526.5L1407.8 526.9L1409.8 527.3L1411.7 527.6L1413.7 527.9L1415.8 528.2L1417.8 528.4L1419.8 528.7L1421.8 528.9L1423.8 529.1L1425.8 529.3L1427.8 529.5L1429.8 529.6L1431.9 529.8L1433.9 529.9L1435.9 530.1L1437.9 530.2L1439.9 530.3L1442.0 530.4L1444.0 530.5L1446.0 530.6L1448.0 530.6L1450.1 530.7L1452.1 530.8L1454.1 530.8L1456.1 530.9L1458.1 530.9L1460.2 531.0L1462.2 531.0L1464.2 531.0L1466.2 531.0L1468.3 531.0L1470.3 531.0L1471.3 531.1M1517.8 529.8L1519.9 529.7L1521.9 529.6L1523.9 529.5L1525.9 529.4L1527.9 529.2L1530.0 529.1L1532.0 529.0L1534.0 528.8L1536.0 528.7L1538.0 528.5L1540.1 528.3L1542.1 528.2L1544.1 528.0L1546.1 527.8L1548.1 527.6L1550.1 527.4L1552.1 527.2L1554.2 527.0L1556.2 526.8L1558.2 526.6L1559.2 526.5M1619.0 699.3L1617.1 698.9L1615.1 698.5L1613.1 698.1L1611.2 697.7L1609.2 697.3L1607.2 696.9L1605.3 696.6L1603.3 696.2L1601.3 695.9L1599.3 695.6L1597.3 695.3L1595.4 695.0L1593.4 694.7L1591.4 694.4L1589.4 694.1L1587.4 693.8L1585.4 693.6L1583.4 693.3L1581.5 693.1L1579.5 692.8L1577.5 692.6L1575.5 692.4L1573.5 692.1L1571.5 691.9L1569.5 691.7L1567.5 691.5L1565.5 691.3L1563.5 691.2L1561.5 691.0L1559.5 690.8L1557.5 690.7L1555.5 690.5L1553.5 690.4L1551.5 690.2L1549.5 690.1L1547.5 689.9L1545.5 689.8L1543.5 689.7L1541.5 689.6L1539.5 689.5L1537.5 689.4L1535.5 689.3L1533.5 689.2L1531.5 689.1L1529.5 689.0L1527.5 688.9L1525.5 688.8L1523.5 688.8L1521.5 688.7L1519.5 688.6L1517.5 688.6L1515.5 688.5L1513.5 688.5L1511.5 688.4L1509.5 688.4L1507.5 688.4L1505.5 688.3L1503.5 688.3L1501.5 688.3L1499.4 688.3L1497.4 688.3L1495.4 688.3L1493.4 688.3L1491.4 688.3L1489.4 688.3L1487.4 688.3L1485.4 688.4L1485.4 688.4M1439.4 690.9L1437.4 691.1L1435.4 691.4L1433.4 691.6L1431.4 691.9L1429.5 692.2L1427.5 692.6L1425.5 692.9L1423.5 693.3L1421.6 693.7L1419.6 694.1L1417.7 694.6L1415.7 695.0L1413.8 695.6L1411.9 696.1L1409.9 696.7L1408.1 697.4L1406.2 698.1L1404.3 698.9L1402.5 699.7L1400.7 700.6L1398.9 701.5L1397.2 702.5L1395.5 703.6L1393.9 704.8L1392.3 706.0L1390.8 707.4L1389.4 708.8L1388.1 710.3L1386.8 711.8L1385.6 713.4L1384.5 715.1L1383.6 716.9L1382.6 718.7L1381.8 720.5L1381.1 722.3L1380.4 724.2L1379.9 726.2L1379.3 728.1L1378.9 730.1L1378.5 732.0L1378.2 734.0L1377.9 736.0L1377.7 738.0L1377.6 740.0L1377.5 742.0L1377.4 744.0L1377.5 746.0L1377.5 748.0L1377.7 750.0L1377.8 752.0L1378.1 754.0L1378.4 756.0L1378.7 757.9L1379.1 759.9L1379.6 761.8L1380.2 763.8L1380.8 765.7L1381.5 767.6L1382.3 769.4L1383.1 771.2L1384.1 773.0L1385.2 774.7L1386.3 776.3L1387.5 777.9L1388.8 779.4L1390.2 780.9L1391.7 782.2L1393.2 783.5L1394.8 784.7L1396.5 785.8L1398.2 786.9L1400.0 787.8L1401.8 788.7L1403.6 789.6L1405.4 790.3L1407.3 791.0L1409.2 791.7L1411.1 792.3L1413.0 792.9L1415.0 793.4L1416.9 793.9L1418.9 794.3L1420.8 794.7L1422.8 795.1L1424.8 795.5L1426.8 795.8L1428.7 796.1L1430.7 796.4L1432.7 796.7L1434.7 797.0L1436.7 797.2L1438.7 797.4L1440.7 797.6L1442.7 797.8L1444.7 798.0L1446.7 798.1L1448.7 798.3L1450.7 798.4L1452.7 798.6L1454.7 798.7L1456.7 798.8L1458.7 798.9L1460.7 799.0L1462.7 799.0L1464.7 799.1L1466.7 799.2L1468.7 799.2L1470.7 799.3L1472.7 799.3L1474.7 799.3L1476.7 799.4L1478.7 799.4L1480.7 799.4L1482.7 799.4L1484.7 799.4L1486.7 799.4L1488.7 799.4L1490.7 799.3L1492.7 799.3L1494.7 799.3L1496.7 799.2L1498.8 799.2L1500.8 799.1L1502.8 799.1L1504.8 799.0L1506.8 798.9L1508.8 798.9L1510.8 798.8L1512.8 798.7L1514.8 798.6L1516.8 798.5L1518.8 798.4L1520.8 798.3L1522.8 798.2L1524.8 798.0L1526.8 797.9L1528.8 797.8L1530.8 797.7L1532.8 797.5L1534.8 797.4L1536.8 797.2L1538.8 797.0L1540.8 796.9L1542.8 796.7L1544.8 796.5L1546.8 796.4L1548.8 796.2L1550.8 796.0L1552.8 795.8L1554.8 795.6L1556.7 795.3L1558.7 795.1L1560.7 794.9L1562.7 794.7L1564.7 794.4L1566.7 794.2L1568.7 793.9L1570.7 793.7L1572.7 793.4L1574.7 793.2L1576.6 792.9L1578.6 792.6L1580.6 792.3L1582.6 792.0L1584.6 791.7L1586.6 791.4L1588.5 791.1L1590.5 790.8L1592.5 790.4L1594.5 790.1L1596.4 789.7L1598.4 789.4L1600.4 789.0L1602.4 788.6L1604.3 788.2L1606.3 787.9L1608.3 787.5L1610.2 787.1L1612.2 786.6L1614.1 786.2L1616.1 785.8L1618.0 785.3L1619.0 785.1M1619.0 555.1L1617.0 555.2L1615.0 555.3L1613.0 555.4L1611.0 555.5L1609.0 555.6L1607.0 555.7L1605.0 555.9L1603.0 556.0L1601.0 556.2L1599.0 556.3L1597.0 556.5L1595.0 556.6L1593.0 556.8L1591.0 557.0L1589.0 557.2L1587.0 557.4L1585.0 557.6L1583.0 557.8L1581.0 558.0L1579.0 558.2L1577.0 558.5L1575.0 558.7L1573.0 559.0L1571.0 559.2L1569.0 559.5L1567.0 559.8L1565.0 560.1L1563.1 560.4L1561.1 560.7L1559.1 561.0L1557.1 561.3L1555.1 561.7L1553.1 562.0L1551.2 562.4L1549.2 562.7L1547.2 563.1L1545.3 563.5L1543.3 563.9L1541.3 564.4L1539.4 564.8L1537.4 565.3L1535.5 565.7L1533.5 566.2L1531.6 566.7L1529.6 567.2L1527.7 567.8L1525.8 568.3L1523.8 568.9L1521.9 569.5L1520.0 570.1L1518.1 570.8L1516.2 571.4L1514.3 572.1L1512.4 572.8L1510.6 573.6L1508.7 574.4L1508.7 574.4M1479.3 607.1L1479.7 609.1L1480.2 611.1L1481.0 612.9L1481.9 614.7L1482.9 616.4L1484.1 618.1L1485.4 619.6L1486.7 621.1L1488.1 622.5L1489.6 623.9L1491.2 625.2L1492.8 626.4L1494.4 627.6L1496.1 628.7L1497.7 629.8L1499.5 630.8L1501.2 631.8L1503.0 632.7L1504.8 633.6L1506.6 634.5L1508.4 635.3L1510.3 636.2L1512.1 637.0L1514.0 637.7L1515.8 638.5L1517.7 639.2L1519.6 639.9L1521.5 640.5L1523.4 641.2L1525.3 641.8L1527.2 642.4L1529.1 643.0L1531.0 643.6L1533.0 644.2L1534.9 644.7L1536.8 645.2L1538.8 645.8L1540.7 646.3L1542.7 646.8L1544.6 647.2L1546.6 647.7L1548.5 648.2L1550.5 648.6L1552.5 649.0L1554.4 649.4L1556.4 649.9L1558.4 650.3L1560.3 650.7L1562.3 651.0L1564.3 651.4L1566.2 651.8L1568.2 652.1L1570.2 652.5L1572.2 652.8L1574.2 653.1L1576.1 653.5L1578.1 653.8L1580.1 654.1L1582.1 654.4L1584.1 654.7L1586.1 654.9L1588.1 655.2L1590.1 655.5L1592.1 655.7L1594.0 656.0L1596.0 656.2L1598.0 656.5L1600.0 656.7L1602.0 656.9L1604.0 657.1L1606.0 657.3L1608.0 657.5L1610.0 657.7L1612.0 657.9L1614.0 658.1L1616.0 658.3L1618.0 658.5L1619.0 658.6" fill="none" stroke="#000" stroke-width="2.08" stroke-linejoin="round"/><text x="1363.8" y="612.3" font-size="13.89" text-anchor="middle" dominant-baseline="central" transform="rotate(-271.1 1363.8 612.3)">3.068</text><text x="1434.2" y="631.6" font-size="13.89" text-anchor="middle" dominant-baseline="central" transform="rotate(52.4 1434.2 631.6)">1.534</text><text x="1489.0" y="586.2" font-size="13.89" text-anchor="middle" dominant-baseline="central" transform="rotate(-41.9 1489.0 586.2)">7.671</text><text x="1491.0" y="633.3" font-size="13.89" text-anchor="middle" dominant-baseline="central" transform="rotate(30.3 1491.0 633.3)">6.137</text><text x="1494.6" y="530.8" font-size="13.89" text-anchor="middle" dominant-baseline="central" transform="rotate(-1.5 1494.6 530.8)">6.137</text><text x="1551.7" y="534.5" font-size="13.89" text-anchor="middle" dominant-baseline="central" transform="rotate(-5.3 1551.7 534.5)">4.602</text><text x="1566.4" y="663.9" font-size="13.89" text-anchor="middle" dominant-baseline="central" transform="rotate(11.7 1566.4 663.9)">4.602</text><text x="1410.1" y="688.4" font-size="13.89" text-anchor="middle" dominant-baseline="central" transform="rotate(349.7 1410.1 688.4)">6.137</text><text x="1462.4" y="689.1" font-size="13.89" text-anchor="middle" dominant-baseline="central" transform="rotate(357.1 1462.4 689.1)">7.671</text><text x="1356.9" y="721.7" font-size="13.89" text-anchor="middle" dominant-baseline="central" transform="rotate(272.8 1356.9 721.7)">4.602</text><text x="1583.6" y="796.8" font-size="13.89" text-anchor="middle" dominant-baseline="central" transform="rotate(-8.5 1583.6 796.8)">6.137</text><polygon points="1406.44,616.93 1408.31,622.66 1414.34,622.66 1409.46,626.20 1411.32,631.94 1406.44,628.40 1401.57,631.94 1403.43,626.20 1398.55,622.66 1404.58,622.66" fill="#000" stroke="#000" stroke-width="1.39" stroke-linejoin="miter"/></g>
</svg></body></html>
